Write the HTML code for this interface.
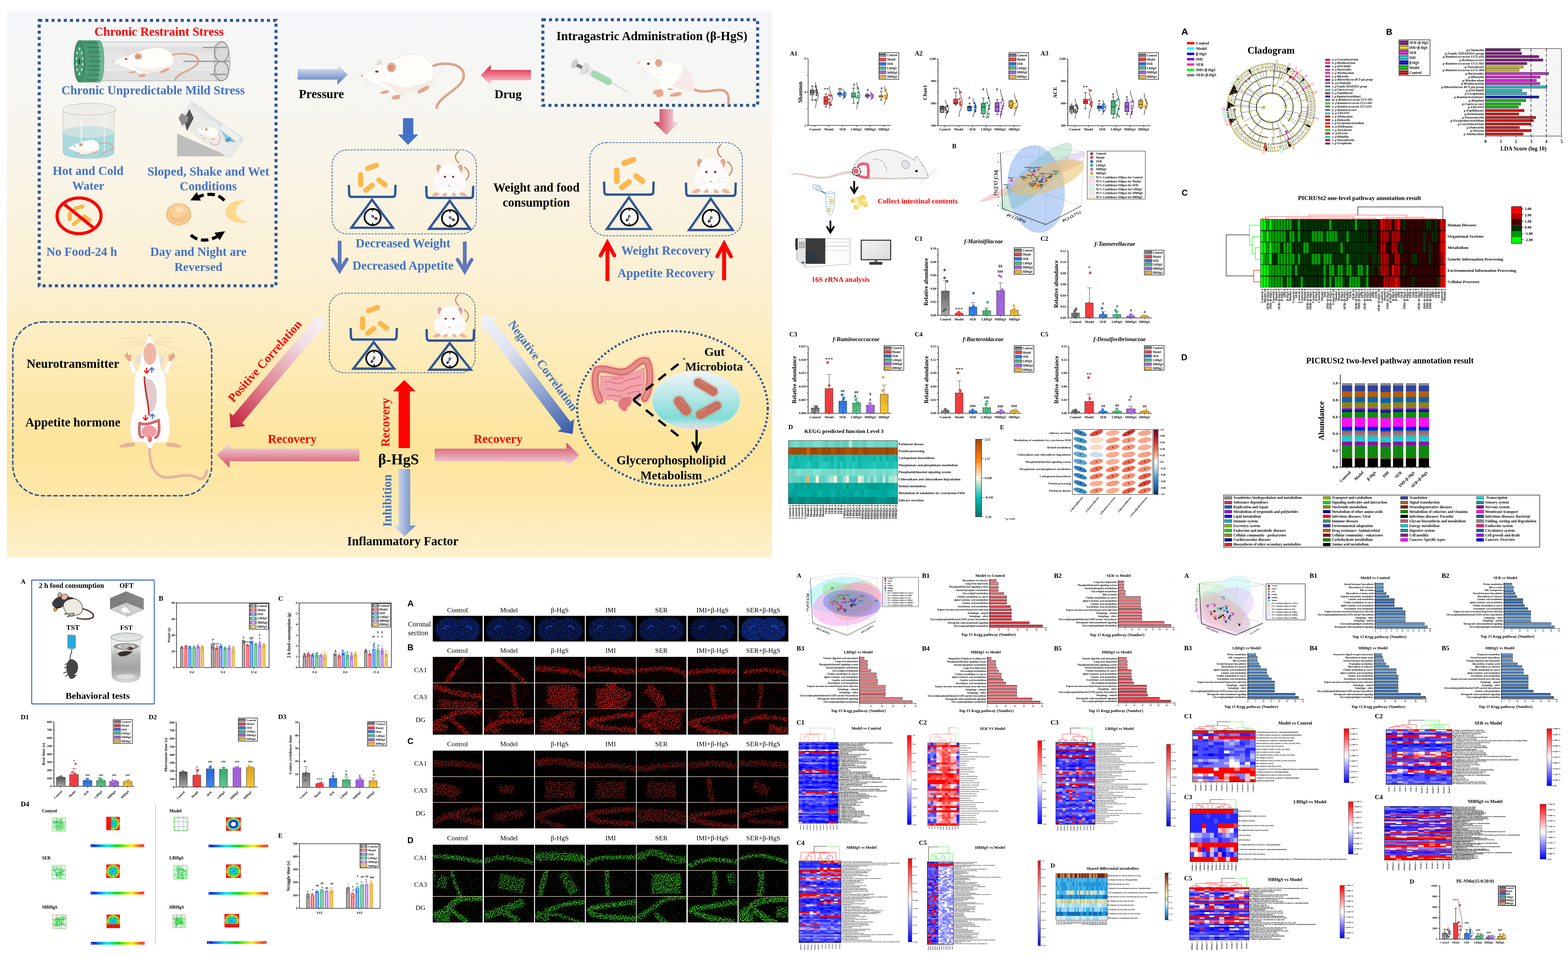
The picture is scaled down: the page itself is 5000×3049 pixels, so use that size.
<!DOCTYPE html>
<html lang="en"><head><meta charset="utf-8"><title>Figure collage</title>
<style>
html,body{margin:0;padding:0;background:#fff;}
body{width:5000px;height:3049px;overflow:hidden;font-family:"Liberation Serif",serif;}
svg{display:block;}
text{white-space:pre;}
svg{font-family:"Liberation Serif",serif;font-weight:bold;}
.r{font-weight:normal}
.i{font-style:italic}
.a{font-family:"Liberation Sans",sans-serif}
.n{font-family:"Liberation Sans",sans-serif;font-weight:normal}
.m{text-anchor:middle}
.e{text-anchor:end}
.d{stroke-linecap:round}
</style></head>
<body>
<svg xmlns="http://www.w3.org/2000/svg" width="5000" height="3049" viewBox="0 0 5000 3049">
<defs><linearGradient id="bgA" x1="0" y1="0" x2="0" y2="1"><stop offset="0" stop-color="#f5f6f9"/><stop offset="0.12" stop-color="#f6f6f4"/><stop offset="0.3" stop-color="#f9f4e6"/><stop offset="0.5" stop-color="#fcf0d2"/><stop offset="0.66" stop-color="#fdeab4"/><stop offset="0.8" stop-color="#fde49b"/><stop offset="0.9" stop-color="#fee8ad"/><stop offset="1" stop-color="#fff1d0"/></linearGradient>
<linearGradient id="gBlueV" x1="0" y1="0" x2="0" y2="1"><stop offset="0" stop-color="#eef1f8"/><stop offset="1" stop-color="#4f74bb"/></linearGradient>
<linearGradient id="gRedV" x1="0" y1="0" x2="0" y2="1"><stop offset="0" stop-color="#d8203e"/><stop offset="0.3" stop-color="#e8506a"/><stop offset="1" stop-color="#f7e3e8"/></linearGradient>
<linearGradient id="gPinkH" x1="0" y1="0" x2="1" y2="0"><stop offset="0" stop-color="#cf2f4e"/><stop offset="1" stop-color="#f4eef3"/></linearGradient>
<linearGradient id="gPinkV" x1="0" y1="0" x2="0" y2="1"><stop offset="0" stop-color="#f1e6ec"/><stop offset="1" stop-color="#d5475f"/></linearGradient>
<linearGradient id="gPinkV2" x1="0" y1="0" x2="0" y2="1"><stop offset="0" stop-color="#d34560"/><stop offset="1" stop-color="#f4eaef"/></linearGradient>
<linearGradient id="gBlueH" x1="0" y1="0" x2="1" y2="0"><stop offset="0" stop-color="#e6e9f3"/><stop offset="1" stop-color="#5f82c4"/></linearGradient>
<linearGradient id="gPos" gradientUnits="userSpaceOnUse" x1="735" y1="1364" x2="1034" y2="1010"><stop offset="0" stop-color="#c41f3b"/><stop offset="0.35" stop-color="#df7f8f"/><stop offset="0.75" stop-color="#f0dbe2"/><stop offset="1" stop-color="#f6f3f8"/></linearGradient>
<linearGradient id="gNeg" gradientUnits="userSpaceOnUse" x1="1538" y1="1006" x2="1826" y2="1384"><stop offset="0" stop-color="#f1f3fa"/><stop offset="0.3" stop-color="#dde2f0"/><stop offset="0.65" stop-color="#92a6d2"/><stop offset="1" stop-color="#3358a6"/></linearGradient>
<linearGradient id="gOval" x1="0" y1="0" x2="0" y2="1"><stop offset="0" stop-color="#f0f5f9"/><stop offset="0.35" stop-color="#c2e9ea"/><stop offset="0.8" stop-color="#7fdcd7"/><stop offset="0.9" stop-color="#bfe3e2"/><stop offset="1" stop-color="#f8d3dc"/></linearGradient>
<linearGradient id="gb0" x1="0" y1="0" x2="0" y2="1"><stop offset="0" stop-color="#4b4b4b"/><stop offset="1" stop-color="#a9a9a9"/></linearGradient><radialGradient id="gd0" cx="0.5" cy="0.5" r="0.5" fx="0.38" fy="0.32"><stop offset="0" stop-color="#fff" stop-opacity="0.95"/><stop offset="0.35" stop-color="#5a5a5a"/><stop offset="1" stop-color="#5a5a5a"/></radialGradient><linearGradient id="gb1" x1="0" y1="0" x2="0" y2="1"><stop offset="0" stop-color="#ee3d41"/><stop offset="1" stop-color="#ee3d41"/></linearGradient><radialGradient id="gd1" cx="0.5" cy="0.5" r="0.5" fx="0.38" fy="0.32"><stop offset="0" stop-color="#fff" stop-opacity="0.95"/><stop offset="0.35" stop-color="#ee3338"/><stop offset="1" stop-color="#ee3338"/></radialGradient><linearGradient id="gb2" x1="0" y1="0" x2="0" y2="1"><stop offset="0" stop-color="#1d63d6"/><stop offset="1" stop-color="#3f86ec"/></linearGradient><radialGradient id="gd2" cx="0.5" cy="0.5" r="0.5" fx="0.38" fy="0.32"><stop offset="0" stop-color="#fff" stop-opacity="0.95"/><stop offset="0.35" stop-color="#1f6fe0"/><stop offset="1" stop-color="#1f6fe0"/></radialGradient><linearGradient id="gb3" x1="0" y1="0" x2="0" y2="1"><stop offset="0" stop-color="#35a66b"/><stop offset="1" stop-color="#62c68f"/></linearGradient><radialGradient id="gd3" cx="0.5" cy="0.5" r="0.5" fx="0.38" fy="0.32"><stop offset="0" stop-color="#fff" stop-opacity="0.95"/><stop offset="0.35" stop-color="#2fae6b"/><stop offset="1" stop-color="#2fae6b"/></radialGradient><linearGradient id="gb4" x1="0" y1="0" x2="0" y2="1"><stop offset="0" stop-color="#a05ade"/><stop offset="1" stop-color="#a663dc"/></linearGradient><radialGradient id="gd4" cx="0.5" cy="0.5" r="0.5" fx="0.38" fy="0.32"><stop offset="0" stop-color="#fff" stop-opacity="0.95"/><stop offset="0.35" stop-color="#aa66e6"/><stop offset="1" stop-color="#aa66e6"/></radialGradient><linearGradient id="gb5" x1="0" y1="0" x2="0" y2="1"><stop offset="0" stop-color="#d9a21c"/><stop offset="1" stop-color="#fcc531"/></linearGradient><radialGradient id="gd5" cx="0.5" cy="0.5" r="0.5" fx="0.38" fy="0.32"><stop offset="0" stop-color="#fff" stop-opacity="0.95"/><stop offset="0.35" stop-color="#dfa315"/><stop offset="1" stop-color="#dfa315"/></radialGradient>
<linearGradient id="cbD" x1="0" y1="0" x2="0" y2="1"><stop offset="0" stop-color="#9c470c"/><stop offset="0.25" stop-color="#fa7f0e"/><stop offset="0.5" stop-color="#fdf5e4"/><stop offset="0.75" stop-color="#10bdb0"/><stop offset="1" stop-color="#00756c"/></linearGradient>
<linearGradient id="cbE" x1="0" y1="0" x2="0" y2="1"><stop offset="0" stop-color="#67001f"/><stop offset="0.12" stop-color="#b2182b"/><stop offset="0.25" stop-color="#e0523f"/><stop offset="0.38" stop-color="#f7a582"/><stop offset="0.5" stop-color="#f7f7f7"/><stop offset="0.62" stop-color="#b0d4e8"/><stop offset="0.75" stop-color="#4393c3"/><stop offset="0.88" stop-color="#2166ac"/><stop offset="1" stop-color="#053061"/></linearGradient>
<linearGradient id="gPel" x1="0" y1="0" x2="1" y2="0"><stop offset="0" stop-color="#f3c31c"/><stop offset="0.5" stop-color="#fdf0c4"/><stop offset="1" stop-color="#f5cb3a"/></linearGradient>
<linearGradient id="gMon" x1="0" y1="0" x2="1" y2="1"><stop offset="0" stop-color="#f2f2f2"/><stop offset="1" stop-color="#dcdcdc"/></linearGradient>
<linearGradient id="gl0" x1="0" y1="0" x2="0" y2="1"><stop offset="0" stop-color="#5c0f5c"/><stop offset="0.45" stop-color="#9a2a9a"/><stop offset="1" stop-color="#5c0f5c"/></linearGradient>
<linearGradient id="gl1" x1="0" y1="0" x2="0" y2="1"><stop offset="0" stop-color="#8a8406"/><stop offset="0.45" stop-color="#f4ee30"/><stop offset="1" stop-color="#8a8406"/></linearGradient>
<linearGradient id="gl2" x1="0" y1="0" x2="0" y2="1"><stop offset="0" stop-color="#a010a0"/><stop offset="0.45" stop-color="#ff30ff"/><stop offset="1" stop-color="#a010a0"/></linearGradient>
<linearGradient id="gl3" x1="0" y1="0" x2="0" y2="1"><stop offset="0" stop-color="#108888"/><stop offset="0.45" stop-color="#30e8e8"/><stop offset="1" stop-color="#108888"/></linearGradient>
<linearGradient id="gl4" x1="0" y1="0" x2="0" y2="1"><stop offset="0" stop-color="#0a0a80"/><stop offset="0.45" stop-color="#2020ff"/><stop offset="1" stop-color="#0a0a80"/></linearGradient>
<linearGradient id="gl5" x1="0" y1="0" x2="0" y2="1"><stop offset="0" stop-color="#087808"/><stop offset="0.45" stop-color="#20e020"/><stop offset="1" stop-color="#087808"/></linearGradient>
<linearGradient id="gl6" x1="0" y1="0" x2="0" y2="1"><stop offset="0" stop-color="#900808"/><stop offset="0.45" stop-color="#ff2020"/><stop offset="1" stop-color="#900808"/></linearGradient>
<linearGradient id="gh0" x1="0" y1="0" x2="1" y2="0"><stop offset="0" stop-color="#5c5c5c"/><stop offset="0.5" stop-color="#c9c9c9"/><stop offset="1" stop-color="#5c5c5c"/></linearGradient><linearGradient id="gh1" x1="0" y1="0" x2="1" y2="0"><stop offset="0" stop-color="#ee3338"/><stop offset="0.5" stop-color="#f9b4b4"/><stop offset="1" stop-color="#ee3338"/></linearGradient><linearGradient id="gh2" x1="0" y1="0" x2="1" y2="0"><stop offset="0" stop-color="#1f6fe0"/><stop offset="0.5" stop-color="#a9c8f4"/><stop offset="1" stop-color="#1f6fe0"/></linearGradient><linearGradient id="gh3" x1="0" y1="0" x2="1" y2="0"><stop offset="0" stop-color="#2fae6b"/><stop offset="0.5" stop-color="#aadcc0"/><stop offset="1" stop-color="#2fae6b"/></linearGradient><linearGradient id="gh4" x1="0" y1="0" x2="1" y2="0"><stop offset="0" stop-color="#a35ee0"/><stop offset="0.5" stop-color="#dcc2f4"/><stop offset="1" stop-color="#a35ee0"/></linearGradient><linearGradient id="gh5" x1="0" y1="0" x2="1" y2="0"><stop offset="0" stop-color="#dfa315"/><stop offset="0.5" stop-color="#f1d99a"/><stop offset="1" stop-color="#dfa315"/></linearGradient>
<linearGradient id="jet" x1="0" y1="0" x2="1" y2="0"><stop offset="0" stop-color="#0000d0"/><stop offset="0.12" stop-color="#0060ff"/><stop offset="0.3" stop-color="#00f0f0"/><stop offset="0.5" stop-color="#00e000"/><stop offset="0.66" stop-color="#a0f000"/><stop offset="0.76" stop-color="#fff000"/><stop offset="0.88" stop-color="#ff8000"/><stop offset="1" stop-color="#ff0000"/></linearGradient>
<radialGradient id="hm1" cx="0.5" cy="0.5" r="0.62"><stop offset="0" stop-color="#2080ff"/><stop offset="0.3" stop-color="#20d8e8"/><stop offset="0.55" stop-color="#30e030"/><stop offset="0.7" stop-color="#f0f020"/><stop offset="0.8" stop-color="#ff2010"/><stop offset="1" stop-color="#ff0000"/></radialGradient>
<radialGradient id="hm2" cx="0.5" cy="0.5" r="0.62"><stop offset="0" stop-color="#fff"/><stop offset="0.28" stop-color="#fff"/><stop offset="0.3" stop-color="#0000c0"/><stop offset="0.45" stop-color="#0040ff"/><stop offset="0.55" stop-color="#20e0e0"/><stop offset="0.65" stop-color="#40e020"/><stop offset="0.74" stop-color="#f0f020"/><stop offset="0.8" stop-color="#ff2010"/><stop offset="1" stop-color="#ff0000"/></radialGradient>
<linearGradient id="gBk" x1="0" y1="0" x2="0" y2="1"><stop offset="0" stop-color="#d8d8d8"/><stop offset="0.25" stop-color="#f2f2f2"/><stop offset="0.45" stop-color="#b8b8b8"/><stop offset="0.75" stop-color="#a2a2a2"/><stop offset="1" stop-color="#dcdcdc"/></linearGradient>
<radialGradient id="gRip" cx="0.5" cy="0.5" r="0.5"><stop offset="0" stop-color="#fff"/><stop offset="0.3" stop-color="#888"/><stop offset="0.5" stop-color="#e8e8e8"/><stop offset="0.75" stop-color="#6a6a6a"/><stop offset="1" stop-color="#e0e0e0"/></radialGradient>
<filter id="fk" x="-.05" y="-.05" width="1.1" height="1.1" color-interpolation-filters="sRGB"><feGaussianBlur in="SourceAlpha" stdDeviation="1.7" result="b"/><feTurbulence type="fractalNoise" baseFrequency=".55" numOctaves="1" seed="3"/><feColorMatrix type="matrix" values="0 0 0 0 0 0 0 0 0 0 0 0 0 0 0 1 0 0 0 0" result="n"/><feComposite in="n" in2="b" operator="arithmetic" k1="22" k2="0" k3="0" k4="-11" result="m"/><feComposite in="SourceGraphic" in2="m" operator="in"/></filter>
<linearGradient id="ghR" x1="0" y1="0" x2="0" y2="1"><stop offset="0" stop-color="#f0303c"/><stop offset="0.5" stop-color="#ffb4ba"/><stop offset="1" stop-color="#f0303c"/></linearGradient><linearGradient id="ghB" x1="0" y1="0" x2="0" y2="1"><stop offset="0" stop-color="#2f6fb8"/><stop offset="0.5" stop-color="#86b6e2"/><stop offset="1" stop-color="#2f6fb8"/></linearGradient><linearGradient id="bwr" x1="0" y1="0" x2="0" y2="1"><stop offset="0" stop-color="#ff0000"/><stop offset="0.5" stop-color="#ffffff"/><stop offset="1" stop-color="#0000ff"/></linearGradient>
<radialGradient id="ps0" cx="0.5" cy="0.5" r="0.5" fx="0.35" fy="0.3"><stop offset="0" stop-color="#fff"/><stop offset="0.4" stop-color="#111111"/><stop offset="1" stop-color="#111111"/></radialGradient>
<radialGradient id="ps1" cx="0.5" cy="0.5" r="0.5" fx="0.35" fy="0.3"><stop offset="0" stop-color="#fff"/><stop offset="0.4" stop-color="#e81010"/><stop offset="1" stop-color="#e81010"/></radialGradient>
<radialGradient id="ps2" cx="0.5" cy="0.5" r="0.5" fx="0.35" fy="0.3"><stop offset="0" stop-color="#fff"/><stop offset="0.4" stop-color="#18c818"/><stop offset="1" stop-color="#18c818"/></radialGradient>
<radialGradient id="ps3" cx="0.5" cy="0.5" r="0.5" fx="0.35" fy="0.3"><stop offset="0" stop-color="#fff"/><stop offset="0.4" stop-color="#e010e0"/><stop offset="1" stop-color="#e010e0"/></radialGradient>
<radialGradient id="ps4" cx="0.5" cy="0.5" r="0.5" fx="0.35" fy="0.3"><stop offset="0" stop-color="#fff"/><stop offset="0.4" stop-color="#1010e0"/><stop offset="1" stop-color="#1010e0"/></radialGradient>
<radialGradient id="ps5" cx="0.5" cy="0.5" r="0.5" fx="0.35" fy="0.3"><stop offset="0" stop-color="#fff"/><stop offset="0.4" stop-color="#10c8e0"/><stop offset="1" stop-color="#10c8e0"/></radialGradient>
<linearGradient id="hb1" gradientUnits="userSpaceOnUse" x1="0" y1="1846" x2="0" y2="1856" spreadMethod="repeat"><stop offset="0.180" stop-color="#f02c3a"/><stop offset="0.5" stop-color="#ffb8bc"/><stop offset="0.820" stop-color="#f02c3a"/></linearGradient>
<linearGradient id="hb2" gradientUnits="userSpaceOnUse" x1="0" y1="1852" x2="0" y2="1862" spreadMethod="repeat"><stop offset="0.164" stop-color="#f02c3a"/><stop offset="0.5" stop-color="#ffb8bc"/><stop offset="0.836" stop-color="#f02c3a"/></linearGradient>
<linearGradient id="hb3" gradientUnits="userSpaceOnUse" x1="0" y1="2094" x2="0" y2="2104" spreadMethod="repeat"><stop offset="0.167" stop-color="#f02c3a"/><stop offset="0.5" stop-color="#ffb8bc"/><stop offset="0.833" stop-color="#f02c3a"/></linearGradient>
<linearGradient id="hb4" gradientUnits="userSpaceOnUse" x1="0" y1="2096" x2="0" y2="2106" spreadMethod="repeat"><stop offset="0.163" stop-color="#f02c3a"/><stop offset="0.5" stop-color="#ffb8bc"/><stop offset="0.837" stop-color="#f02c3a"/></linearGradient>
<linearGradient id="hb5" gradientUnits="userSpaceOnUse" x1="0" y1="2096" x2="0" y2="2106" spreadMethod="repeat"><stop offset="0.158" stop-color="#f02c3a"/><stop offset="0.5" stop-color="#ffb8bc"/><stop offset="0.842" stop-color="#f02c3a"/></linearGradient>
<linearGradient id="cbS" x1="0" y1="0" x2="0" y2="1"><stop offset="0" stop-color="#6e1c10"/><stop offset="0.15" stop-color="#a85a30"/><stop offset="0.35" stop-color="#d8c080"/><stop offset="0.48" stop-color="#e8e8b0"/><stop offset="0.55" stop-color="#a8c880"/><stop offset="0.65" stop-color="#d8eef8"/><stop offset="0.8" stop-color="#40b0e8"/><stop offset="1" stop-color="#0a4c94"/></linearGradient>
<radialGradient id="qs0" cx="0.5" cy="0.5" r="0.5" fx="0.35" fy="0.3"><stop offset="0" stop-color="#fff"/><stop offset="0.4" stop-color="#111111"/><stop offset="1" stop-color="#111111"/></radialGradient>
<radialGradient id="qs1" cx="0.5" cy="0.5" r="0.5" fx="0.35" fy="0.3"><stop offset="0" stop-color="#fff"/><stop offset="0.4" stop-color="#e81010"/><stop offset="1" stop-color="#e81010"/></radialGradient>
<radialGradient id="qs2" cx="0.5" cy="0.5" r="0.5" fx="0.35" fy="0.3"><stop offset="0" stop-color="#fff"/><stop offset="0.4" stop-color="#18c818"/><stop offset="1" stop-color="#18c818"/></radialGradient>
<radialGradient id="qs3" cx="0.5" cy="0.5" r="0.5" fx="0.35" fy="0.3"><stop offset="0" stop-color="#fff"/><stop offset="0.4" stop-color="#e010e0"/><stop offset="1" stop-color="#e010e0"/></radialGradient>
<radialGradient id="qs4" cx="0.5" cy="0.5" r="0.5" fx="0.35" fy="0.3"><stop offset="0" stop-color="#fff"/><stop offset="0.4" stop-color="#1010e0"/><stop offset="1" stop-color="#1010e0"/></radialGradient>
<radialGradient id="qs5" cx="0.5" cy="0.5" r="0.5" fx="0.35" fy="0.3"><stop offset="0" stop-color="#fff"/><stop offset="0.4" stop-color="#10c8e0"/><stop offset="1" stop-color="#10c8e0"/></radialGradient>
<linearGradient id="hb6" gradientUnits="userSpaceOnUse" x1="0" y1="1859" x2="0" y2="1868" spreadMethod="repeat"><stop offset="0.158" stop-color="#2b6cb6"/><stop offset="0.5" stop-color="#8cbbe6"/><stop offset="0.842" stop-color="#2b6cb6"/></linearGradient>
<linearGradient id="hb7" gradientUnits="userSpaceOnUse" x1="0" y1="1859" x2="0" y2="1868" spreadMethod="repeat"><stop offset="0.158" stop-color="#2b6cb6"/><stop offset="0.5" stop-color="#8cbbe6"/><stop offset="0.842" stop-color="#2b6cb6"/></linearGradient>
<linearGradient id="hb8" gradientUnits="userSpaceOnUse" x1="0" y1="2083" x2="0" y2="2093" spreadMethod="repeat"><stop offset="0.158" stop-color="#2b6cb6"/><stop offset="0.5" stop-color="#8cbbe6"/><stop offset="0.842" stop-color="#2b6cb6"/></linearGradient>
<linearGradient id="hb9" gradientUnits="userSpaceOnUse" x1="0" y1="2083" x2="0" y2="2093" spreadMethod="repeat"><stop offset="0.158" stop-color="#2b6cb6"/><stop offset="0.5" stop-color="#8cbbe6"/><stop offset="0.842" stop-color="#2b6cb6"/></linearGradient>
<linearGradient id="hb10" gradientUnits="userSpaceOnUse" x1="0" y1="2083" x2="0" y2="2093" spreadMethod="repeat"><stop offset="0.158" stop-color="#2b6cb6"/><stop offset="0.5" stop-color="#8cbbe6"/><stop offset="0.842" stop-color="#2b6cb6"/></linearGradient></defs>
<rect width="5000" height="3049" fill="#fff"/>
<g id="p1"><rect x="22" y="35" width="2440" height="1743" fill="url(#bgA)"/>
<rect x="125" y="65" width="755" height="846.5" fill="none" stroke="#2f5597" stroke-width="9.6" stroke-dasharray="9.6 10.03"/>
<rect x="1731" y="63" width="685" height="273" fill="none" stroke="#2f5597" stroke-width="9.6" stroke-dasharray="9.6 10.1"/>
<text x="301" y="114" font-size="39.2" fill="#ff0000">Chronic Restraint Stress</text>
<text x="196" y="301" font-size="39.2" fill="#4472c4">Chronic Unpredictable Mild Stress</text>
<text x="168" y="558" font-size="39.1" fill="#4472c4">Hot and Cold</text>
<text x="230" y="605" font-size="38.4" fill="#4472c4">Water</text>
<text x="470" y="560" font-size="39.6" fill="#4472c4">Sloped, Shake and Wet</text>
<text x="573" y="607" font-size="39" fill="#4472c4">Conditions</text>
<text x="148" y="816" font-size="39" fill="#4472c4">No Food-24 h</text>
<text x="479" y="816" font-size="39.2" fill="#4472c4">Day and Night are</text>
<text x="556" y="864" font-size="38.8" fill="#4472c4">Reversed</text>
<text x="953" y="313" font-size="39">Pressure</text>
<text x="1577" y="313" font-size="38.9">Drug</text>
<text x="1774" y="128" font-size="39.4">Intragastric Administration (β-HgS)</text>
<text x="1573" y="611" font-size="39">Weight and food</text>
<text x="1603" y="659" font-size="39">consumption</text>
<text x="1134" y="789" font-size="39.5" fill="#4472c4">Decreased Weight</text>
<text x="1124" y="860" font-size="39.2" fill="#4472c4">Decreased Appetite</text>
<text x="1981" y="812" font-size="39.2" fill="#4472c4">Weight Recovery</text>
<text x="1969" y="884" font-size="39.2" fill="#4472c4">Appetite Recovery</text>
<text x="85" y="1173" font-size="39.2">Neurotransmitter</text>
<text x="81" y="1360" font-size="39.1">Appetite hormone</text>
<text x="854" y="1413" font-size="39" fill="#ff0000">Recovery</text>
<text x="1206" y="1481" font-size="48.2">β-HgS</text>
<text x="1107" y="1739" font-size="39.1">Inflammatory Factor</text>
<text x="1510" y="1413" font-size="39.1" fill="#ff0000">Recovery</text>
<text x="2246" y="1135" font-size="38.9">Gut</text>
<text x="2185" y="1182" font-size="38.7">Microbiota</text>
<text x="1966" y="1481" font-size="39.1">Glycerophospholipid</text>
<text x="2042" y="1529" font-size="38.9">Metabolism</text>
<text x="1248" y="1680" font-size="39"  fill="#4472c4" transform="rotate(-90 1248 1680)">Inhibition</text>
<text x="1242" y="1425" font-size="39"  fill="#ff0000" transform="rotate(-90 1242 1425)">Recovery</text>
<text x="744" y="1285" font-size="38.9"  fill="#ff0000" transform="rotate(-48.6 744 1285)">Positive Correlation</text>
<text x="1619" y="1034" font-size="38.7"  fill="#4472c4" transform="rotate(53.8 1619 1034)">Negative Correlation</text>
<polygon points="949,221 1076,221 1076,206 1109,238 1076,270 1076,254 949,254" fill="url(#gBlueV)"/>
<polygon points="1693,223 1565,223 1565,207 1533,240 1565,272 1565,256 1693,256" fill="url(#gRedV)"/>
<polygon points="1285,377 1318,377 1318,429 1334,429 1301,462 1269,429 1285,429" fill="#4472c4"/>
<polygon points="2103,348 2146,348 2146,389 2167,389 2125,430 2083,389 2103,389" fill="url(#gPinkH)"/>
<line x1="1083" y1="768" x2="1083" y2="859" stroke="#5f78bd" stroke-width="12"/>
<polyline points="1061,827 1083,864 1106,827" fill="none" stroke="#5f78bd" stroke-width="11.3" stroke-linecap="round" stroke-linejoin="miter"/>
<line x1="1482" y1="770" x2="1482" y2="861" stroke="#5f78bd" stroke-width="12"/>
<polyline points="1459,828 1482,866 1504,828" fill="none" stroke="#5f78bd" stroke-width="11.3" stroke-linecap="round" stroke-linejoin="miter"/>
<line x1="1937" y1="778" x2="1937" y2="896" stroke="#ff0000" stroke-width="12.6"/>
<polyline points="1915,815 1937,774 1959,815" fill="none" stroke="#ff0000" stroke-width="12" stroke-linecap="round" stroke-linejoin="miter"/>
<line x1="2309" y1="781" x2="2309" y2="894" stroke="#ff0000" stroke-width="12.6"/>
<polyline points="2287,818 2309,777 2331,818" fill="none" stroke="#ff0000" stroke-width="12" stroke-linecap="round" stroke-linejoin="miter"/>
<polygon points="1271,1248 1253,1248 1289,1212 1325,1248 1307,1248 1307,1429 1271,1429" fill="#ff0000"/>
<polygon points="1271,1496 1308,1496 1308,1676 1326,1676 1290,1711 1254,1676 1271,1676" fill="url(#gBlueH)"/>
<polygon points="692,1451 732,1411 732,1431 1146,1431 1146,1471 732,1471 732,1492" fill="url(#gPinkV)"/>
<polygon points="1386,1431 1806,1431 1806,1411 1847,1451 1806,1492 1806,1472 1386,1471" fill="url(#gPinkV2)"/>
<polygon points="735,1364 783,1359 772,1349 1026,1048 1037,1058 1034,1010 986,1015 998,1024 743,1325 732,1316" fill="url(#gPos)"/>
<polygon points="1538,1006 1533,1054 1544,1046 1790,1368 1778,1376 1826,1384 1831,1336 1819,1345 1574,1023 1586,1014" fill="url(#gNeg)"/>
<rect x="1059" y="478" width="460" height="268" rx="48" fill="none" stroke="#2f5597" stroke-width="2.2" stroke-dasharray="7 3.5"/>
<rect x="1881" y="455" width="486" height="297" rx="52" fill="none" stroke="#2f5597" stroke-width="2.2" stroke-dasharray="7 3.5"/>
<rect x="1050" y="935" width="465" height="254" rx="48" fill="none" stroke="#2f5597" stroke-width="2.2" stroke-dasharray="7 3.5"/>
<rect x="40.9" y="1027" width="634" height="554" rx="96" fill="none" stroke="#2f5597" stroke-width="4.6" stroke-dasharray="14 6"/>
<ellipse cx="2144.3" cy="1302.6" rx="304" ry="246.5" fill="none" stroke="#2f5597" stroke-width="7" stroke-dasharray="6.6 6.9"/>
<g transform="translate(100 40) scale(0.33264)"><rect x="640" y="282" width="1190" height="373" fill="#e0e0e0" stroke="#6a6a6a" stroke-width="2.5"/><rect x="640" y="284" width="1190" height="40" fill="#ebebeb"/><rect x="640" y="380" width="1190" height="160" fill="#e6e6e6"/><rect x="640" y="545" width="1190" height="9" fill="#f4f4f4"/><ellipse cx="1830" cy="468" rx="75" ry="187" fill="#dadada" stroke="#6a6a6a" stroke-width="3"/><ellipse cx="1822" cy="376" rx="68" ry="96" fill="none" stroke="#8c8c8c" stroke-width="9"/><ellipse cx="1822" cy="562" rx="68" ry="92" fill="none" stroke="#8c8c8c" stroke-width="9"/><path d="M1650,335 H1868 M1462,468 H1892 M1722,593 H1868" stroke="#9c9c9c" stroke-width="13" stroke-linecap="round"/><g transform="translate(782 338) scale(0.830 0.640)"><path d="M690,105 C820,70 990,90 985,200 C980,330 740,360 720,480" stroke="#dba58d" stroke-width="24" fill="none" stroke-linecap="round"/><path d="M140,105 L172,50 Q190,45 200,92 Z" fill="#e6ded6" stroke="#cfc8c0" stroke-width="2"/><path d="M0,207 C60,170 150,120 245,90 C330,40 420,0 520,0 C620,0 700,80 700,200 C700,280 660,320 600,335 L420,385 C380,405 350,412 330,400 C250,335 120,285 30,240 Q2,225 0,207Z" fill="#fefdfa" stroke="#d5d2cc" stroke-width="2.5"/><path d="M90,262 C200,270 300,300 340,390 C380,400 420,385 600,335 C660,320 690,280 700,215 C640,300 560,270 470,320 C400,330 330,290 260,280 C200,270 140,270 90,262Z" fill="#f3e7e2" opacity="0.8"/><ellipse cx="292" cy="126" rx="50" ry="52" fill="#fefdfa" stroke="#d5d2cc" stroke-width="2"/><ellipse cx="292" cy="128" rx="42" ry="45" fill="#e3a88e"/><ellipse cx="286" cy="135" rx="24" ry="28" fill="#d4927a"/><ellipse cx="152" cy="168" rx="16" ry="10" fill="#8b2a1a"/><circle cx="9" cy="208" r="11" fill="#e9b3a3"/><path d="M185,370 Q225,340 270,352 L262,372 Q225,382 190,382Z" fill="#e3a88e"/><path d="M290,415 Q330,385 380,395 L372,425 Q345,445 300,432Z" fill="#e3a88e"/><path d="M540,360 Q580,318 650,300 L650,330 Q600,370 548,380Z" fill="#e3a88e"/><path d="M30,200 L-80,140 M30,205 L-70,180 M45,225 L60,350 M55,222 L95,320" stroke="#d0d0d0" stroke-width="2" fill="none"/></g><path d="M460,268 H650 C712,268 712,668 650,668 H460 Z" fill="#6ab892" stroke="#2e6e50" stroke-width="2.5"/><path d="M460,268 H615 C665,268 665,668 615,668 H460 Z" fill="#4a9874"/><ellipse cx="460" cy="468" rx="52" ry="200" fill="#3f8f6b" stroke="#2a6a4c" stroke-width="3"/><ellipse cx="462" cy="468" rx="40" ry="152" fill="#4d9d78" stroke="#2a6a4c" stroke-width="2"/><ellipse cx="459" cy="468" rx="9" ry="30" fill="#1d5a3b"/><ellipse cx="460" cy="348" rx="6" ry="12" fill="#f2f2e8"/><ellipse cx="483" cy="388" rx="6" ry="12" fill="#f2f2e8"/><ellipse cx="492" cy="440" rx="6" ry="12" fill="#f2f2e8"/><ellipse cx="492" cy="496" rx="6" ry="12" fill="#f2f2e8"/><ellipse cx="483" cy="548" rx="6" ry="12" fill="#f2f2e8"/><ellipse cx="460" cy="588" rx="6" ry="12" fill="#f2f2e8"/><ellipse cx="437" cy="548" rx="6" ry="12" fill="#f2f2e8"/><ellipse cx="431" cy="496" rx="6" ry="12" fill="#f2f2e8"/><ellipse cx="431" cy="440" rx="6" ry="12" fill="#f2f2e8"/><ellipse cx="437" cy="388" rx="6" ry="12" fill="#f2f2e8"/><path d="M520,290 H650 M540,334 H658 M552,378 H662 M556,422 H664 M558,466 H664 M556,510 H664 M552,554 H662 M540,600 H658 M520,646 H650" stroke="#2c6e50" stroke-width="6" stroke-linecap="round"/><path d="M302,935 V1340 C302,1378 420,1400 548,1400 C676,1400 794,1378 794,1340 V960 L812,932 Z" fill="#eeece6" stroke="#9a9a9a" stroke-width="2.5" opacity="0.92"/><path d="M302,1145 V1340 C302,1378 420,1400 548,1400 C676,1400 794,1378 794,1340 V1145 Z" fill="#a6d8de"/><ellipse cx="548" cy="1145" rx="246" ry="55" fill="#cbe3e0"/><path d="M480,1030 V1250" stroke="#ffffff" stroke-width="9" opacity="0.9"/><path d="M700,980 V1330" stroke="#f6f6f2" stroke-width="14" opacity="0.6"/><path d="M302,935 C302,850 812,850 812,932 C770,1000 302,1000 302,935Z" fill="#efede8" stroke="#8e8e8e" stroke-width="2.5"/><g transform="translate(350 1222) scale(0.430 0.350)"><path d="M690,105 C820,50 1010,80 1000,200 C990,320 760,300 735,435" stroke="#dba58d" stroke-width="26" fill="none" stroke-linecap="round"/><path d="M140,105 L172,50 Q190,45 200,92 Z" fill="#e6ded6" stroke="#cfc8c0" stroke-width="2"/><path d="M0,207 C60,170 150,120 245,90 C330,40 420,0 520,0 C620,0 700,80 700,200 C700,280 660,320 600,335 L420,385 C380,405 350,412 330,400 C250,335 120,285 30,240 Q2,225 0,207Z" fill="#fefdfa" stroke="#d5d2cc" stroke-width="2.5"/><path d="M90,262 C200,270 300,300 340,390 C380,400 420,385 600,335 C660,320 690,280 700,215 C640,300 560,270 470,320 C400,330 330,290 260,280 C200,270 140,270 90,262Z" fill="#f3e7e2" opacity="0.8"/><ellipse cx="292" cy="126" rx="50" ry="52" fill="#fefdfa" stroke="#d5d2cc" stroke-width="2"/><ellipse cx="292" cy="128" rx="42" ry="45" fill="#e3a88e"/><ellipse cx="286" cy="135" rx="24" ry="28" fill="#d4927a"/><ellipse cx="152" cy="168" rx="16" ry="10" fill="#8b2a1a"/><circle cx="9" cy="208" r="11" fill="#e9b3a3"/><path d="M185,370 Q225,340 270,352 L262,372 Q225,382 190,382Z" fill="#e3a88e"/><path d="M290,415 Q330,385 380,395 L372,425 Q345,445 300,432Z" fill="#e3a88e"/><path d="M540,360 Q580,318 650,300 L650,330 Q600,370 548,380Z" fill="#e3a88e"/><path d="M30,200 L-80,140 M30,205 L-70,180 M45,225 L60,350 M55,222 L95,320" stroke="#d0d0d0" stroke-width="2" fill="none"/></g><polygon points="1397,1160 1397,1378 1890,1378" fill="#bebebe"/><polygon points="1530,850 2040,1212 1900,1405 1440,1085 1470,960" fill="#e9ebe9" stroke="#cfd2d0" stroke-width="3" opacity="0.93"/><polygon points="1530,850 2040,1212 2005,1240 1545,890" fill="#dfe2e4" stroke="#c8cbcd" stroke-width="2"/><polygon points="1565,885 1640,910 1700,1020 1600,960" fill="#e4e6e8" stroke="#c0c3c5" stroke-width="2"/><polygon points="1800,1120 1835,1060 2010,1200 1955,1270 1860,1235" fill="#eef0ef" stroke="#c6c9c8" stroke-width="3"/><polygon points="1805,1118 1960,1235 1935,1248 1862,1212" fill="#8fcbe3"/><polygon points="1855,1210 1905,1195 1920,1230 1870,1245" fill="#5b9fc0"/><polygon points="1462,1030 1515,925 1556,1012 1492,1136" fill="#555"/><polygon points="1410,1010 1440,965 1505,1000 1500,1040 1445,1085" fill="#8f8f8f"/><g transform="rotate(22 1680 1160)"><g transform="translate(1575 1085) scale(0.300 0.300)"><path d="M690,105 C820,150 900,350 760,480 C700,520 600,500 560,470" stroke="#dba58d" stroke-width="22" fill="none" stroke-linecap="round"/><path d="M140,105 L172,50 Q190,45 200,92 Z" fill="#e6ded6" stroke="#cfc8c0" stroke-width="2"/><path d="M0,207 C60,170 150,120 245,90 C330,40 420,0 520,0 C620,0 700,80 700,200 C700,280 660,320 600,335 L420,385 C380,405 350,412 330,400 C250,335 120,285 30,240 Q2,225 0,207Z" fill="#fefdfa" stroke="#d5d2cc" stroke-width="2.5"/><path d="M90,262 C200,270 300,300 340,390 C380,400 420,385 600,335 C660,320 690,280 700,215 C640,300 560,270 470,320 C400,330 330,290 260,280 C200,270 140,270 90,262Z" fill="#f3e7e2" opacity="0.8"/><ellipse cx="292" cy="126" rx="50" ry="52" fill="#fefdfa" stroke="#d5d2cc" stroke-width="2"/><ellipse cx="292" cy="128" rx="42" ry="45" fill="#e3a88e"/><ellipse cx="286" cy="135" rx="24" ry="28" fill="#d4927a"/><ellipse cx="152" cy="168" rx="16" ry="10" fill="#8b2a1a"/><circle cx="9" cy="208" r="11" fill="#e9b3a3"/><path d="M185,370 Q225,340 270,352 L262,372 Q225,382 190,382Z" fill="#e3a88e"/><path d="M290,415 Q330,385 380,395 L372,425 Q345,445 300,432Z" fill="#e3a88e"/><path d="M540,360 Q580,318 650,300 L650,330 Q600,370 548,380Z" fill="#e3a88e"/><path d="M30,200 L-80,140 M30,205 L-70,180 M45,225 L60,350 M55,222 L95,320" stroke="#d0d0d0" stroke-width="2" fill="none"/></g></g></g>
<g transform="translate(100 500) scale(0.33264)"><rect x="399" y="468" width="112" height="38" rx="19" fill="#fbb84f" transform="rotate(-18 455 487)"/><rect x="322" y="552" width="92" height="40" rx="20" fill="#fbb84f" transform="rotate(90 368 572)"/><rect x="380" y="606" width="105" height="38" rx="19" fill="#fbb84f" transform="rotate(-38 432 625)"/><rect x="482" y="570" width="100" height="40" rx="20" fill="#fbb84f" transform="rotate(36 532 590)"/><ellipse cx="457" cy="566" rx="211" ry="171" fill="none" stroke="#fe0000" stroke-width="30"/><path d="M312,452 L598,683" stroke="#fe0000" stroke-width="30"/><polygon points="1543,552 1520,563 1540,577 1515,583 1530,602 1504,603 1515,623 1489,619 1494,641 1470,632 1469,655 1449,642 1442,664 1425,646 1413,666 1401,646 1384,664 1377,642 1357,655 1356,632 1332,641 1337,619 1311,623 1322,603 1296,602 1311,583 1286,577 1306,563 1283,552 1306,541 1286,527 1311,521 1296,502 1322,501 1311,481 1337,485 1332,463 1356,472 1357,449 1377,462 1384,440 1401,458 1413,438 1425,458 1442,440 1449,462 1469,449 1470,472 1494,463 1489,485 1515,481 1504,501 1530,502 1515,521 1540,527 1520,541" fill="#eeb46c"/><ellipse cx="1413" cy="552" rx="97" ry="86" fill="#f3c283" stroke="#fbe8c4" stroke-width="7"/><ellipse cx="1413" cy="528" rx="82" ry="58" fill="#f7d198"/><ellipse cx="1418" cy="505" rx="40" ry="25" fill="#fbe3b5"/><path d="M2058,423 C1930,400 1860,470 1860,527 C1860,590 1940,660 2080,624 C1990,610 1962,560 1962,520 C1962,480 1990,440 2058,423Z" fill="#fcd98d"/><path d="M1850,420 C1790,350 1690,345 1600,385" stroke="#000" stroke-width="30" fill="none" stroke-dasharray="72 36"/><polygon points="1525,418 1585,338 1625,420" fill="#000"/><path d="M1530,750 C1590,810 1690,815 1780,765" stroke="#000" stroke-width="30" fill="none" stroke-dasharray="72 36"/><polygon points="1857,714 1805,800 1755,728" fill="#000"/></g>
<g transform="translate(900 40) scale(0.33264)"><g transform="translate(755 398) scale(1.000 1.000)"><path d="M690,115 C800,70 980,90 985,200 C990,330 740,400 725,515" stroke="#dba58d" stroke-width="24" fill="none" stroke-linecap="round"/><path d="M140,105 L172,50 Q190,45 200,92 Z" fill="#e6ded6" stroke="#cfc8c0" stroke-width="2"/><path d="M0,207 C60,170 150,120 245,90 C330,40 420,0 520,0 C620,0 700,80 700,200 C700,280 660,320 600,335 L420,385 C380,405 350,412 330,400 C250,335 120,285 30,240 Q2,225 0,207Z" fill="#fefdfa" stroke="#d5d2cc" stroke-width="2.5"/><path d="M90,262 C200,270 300,300 340,390 C380,400 420,385 600,335 C660,320 690,280 700,215 C640,300 560,270 470,320 C400,330 330,290 260,280 C200,270 140,270 90,262Z" fill="#f3e7e2" opacity="0.8"/><ellipse cx="292" cy="126" rx="50" ry="52" fill="#fefdfa" stroke="#d5d2cc" stroke-width="2"/><ellipse cx="292" cy="128" rx="42" ry="45" fill="#e3a88e"/><ellipse cx="286" cy="135" rx="24" ry="28" fill="#d4927a"/><ellipse cx="152" cy="168" rx="16" ry="10" fill="#8b2a1a"/><circle cx="9" cy="208" r="11" fill="#e9b3a3"/><path d="M185,370 Q225,340 270,352 L262,372 Q225,382 190,382Z" fill="#e3a88e"/><path d="M290,415 Q330,385 380,395 L372,425 Q345,445 300,432Z" fill="#e3a88e"/><path d="M540,360 Q580,318 650,300 L650,330 Q600,370 548,380Z" fill="#e3a88e"/><path d="M30,200 L-80,140 M30,205 L-70,180 M45,225 L60,350 M55,222 L95,320" stroke="#d0d0d0" stroke-width="2" fill="none"/></g></g>
<g transform="translate(1700 40) scale(0.33264)"><path d="M745,672 L910,765" stroke="#9a9a9a" stroke-width="3.5"/><path d="M520,553 L722,662" stroke="#e6e8e6" stroke-width="78" stroke-linecap="round"/><path d="M585,590 L722,662" stroke="#a3dbb1" stroke-width="64" stroke-linecap="round"/><path d="M415,500 L520,553" stroke="#7c7c7c" stroke-width="34"/><ellipse cx="398" cy="490" rx="24" ry="44" fill="#cfcfcf" stroke="#aaa" stroke-width="3" transform="rotate(28 398 490)"/><ellipse cx="493" cy="540" rx="27" ry="62" fill="#e2e2e2" stroke="#b5b5b5" stroke-width="3" transform="rotate(28 493 540)"/><path d="M1540,735 C1650,790 1760,720 1830,750 C1880,770 1875,830 1872,872" stroke="#dba58d" stroke-width="24" fill="none" stroke-linecap="round"/><path d="M1160,450 L1185,415 Q1215,405 1225,440 Z" fill="#fdfbf8" stroke="#d8d4ce" stroke-width="2"/><path d="M1003,480 C1040,455 1110,440 1190,445 C1260,470 1380,460 1450,520 C1520,580 1545,660 1545,730 C1540,760 1500,762 1420,760 L1250,760 C1220,740 1200,700 1190,640 C1150,600 1080,570 1030,530 Q1000,505 1003,480Z" fill="#fefdfa" stroke="#d8d4ce" stroke-width="2.5"/><path d="M1430,500 C1500,560 1545,650 1540,740 C1480,770 1400,740 1330,700 C1400,650 1440,580 1430,500Z" fill="#f4e8e4" opacity="0.85"/><ellipse cx="1203" cy="483" rx="36" ry="40" fill="#e3a88e" stroke="#fdfbf8" stroke-width="5"/><ellipse cx="1105" cy="491" rx="13" ry="11" fill="#7d2318"/><circle cx="1011" cy="482" r="10" fill="#e9b3a3"/><path d="M1145,765 Q1180,725 1240,740 L1250,770 Q1200,800 1150,778Z M1180,795 Q1210,765 1250,775 L1245,800 Q1215,815 1185,808Z M1310,790 Q1350,760 1420,765 L1420,790 Q1370,810 1315,805Z M1285,730 Q1320,720 1350,740 L1300,745Z" fill="#e3a88e"/><path d="M1030,500 L960,440 M1035,495 L990,410 M1050,530 L1030,640 M1060,525 L1075,610" stroke="#d4d4d4" stroke-width="2" fill="none"/></g>
<g transform="translate(1000 440) scale(0.33264)"><path d="M338,450 L341,540 Q343,565 366,565 L757,565 Q780,565 782,540 L785,450" fill="none" stroke="#2f5597" stroke-width="22" stroke-linejoin="round"/><polygon points="560,592 362,861 760,861" fill="none" stroke="#2f5597" stroke-width="22" stroke-linejoin="miter"/><circle cx="566" cy="758" r="78" fill="#f8f8f8" stroke="#000" stroke-width="16"/><path d="M566,678 v26 M566,838 v-26" stroke="#000" stroke-width="9"/><circle cx="566" cy="750" r="9" fill="none" stroke="#000" stroke-width="5"/><path d="M566,756 L610,778" stroke="#000" stroke-width="6"/><path d="M610,778 l-23.9,2.1" stroke="#000" stroke-width="6" stroke-linecap="round"/><path d="M610,778 l-13.8,-19.7" stroke="#000" stroke-width="6" stroke-linecap="round"/><rect x="490" y="252" width="140" height="50" rx="25" fill="#fbb84f" transform="rotate(-20 560 277)"/><rect x="378" y="375" width="145" height="50" rx="25" fill="#fbb84f" transform="rotate(90 451 400)"/><rect x="465" y="453" width="130" height="50" rx="25" fill="#fbb84f" transform="rotate(-38 530 478)"/><rect x="592" y="402" width="125" height="50" rx="25" fill="#fbb84f" transform="rotate(38 655 427)"/><path d="M1080,460 L1083,550 Q1085,575 1108,575 L1502,575 Q1525,575 1527,550 L1530,460" fill="none" stroke="#2f5597" stroke-width="22" stroke-linejoin="round"/><polygon points="1305,602 1107,871 1500,871" fill="none" stroke="#2f5597" stroke-width="22" stroke-linejoin="miter"/><circle cx="1308" cy="770" r="78" fill="#f8f8f8" stroke="#000" stroke-width="16"/><path d="M1308,690 v26 M1308,850 v-26" stroke="#000" stroke-width="9"/><circle cx="1308" cy="762" r="9" fill="none" stroke="#000" stroke-width="5"/><path d="M1308,768 L1352,790" stroke="#000" stroke-width="6"/><path d="M1352,790 l-23.9,2.1" stroke="#000" stroke-width="6" stroke-linecap="round"/><path d="M1352,790 l-13.8,-19.7" stroke="#000" stroke-width="6" stroke-linecap="round"/><g transform="translate(1125 130) scale(1.000)"><path d="M300,290 C380,260 380,190 320,150 C250,110 200,50 265,0" stroke="#c28a70" stroke-width="11" fill="none" stroke-linecap="round"/><ellipse cx="178" cy="305" rx="162" ry="118" fill="#fefdfb" stroke="#ddd" stroke-width="2"/><ellipse cx="78" cy="165" rx="40" ry="58" fill="#fdf6f2" stroke="#ddd" stroke-width="2" transform="rotate(-14 78 165)"/><ellipse cx="278" cy="165" rx="40" ry="58" fill="#fdf6f2" stroke="#ddd" stroke-width="2" transform="rotate(14 278 165)"/><ellipse cx="80" cy="168" rx="27" ry="45" fill="#e3a590" transform="rotate(-14 80 168)"/><ellipse cx="276" cy="168" rx="27" ry="45" fill="#e3a590" transform="rotate(14 276 168)"/><path d="M70,230 C70,150 120,115 178,115 C236,115 286,150 286,230 C286,290 230,345 178,350 C126,345 70,290 70,230Z" fill="#fefdfb" stroke="#e2e0dc" stroke-width="2"/><circle cx="134" cy="242" r="10" fill="#9b1c1c"/><circle cx="213" cy="242" r="10" fill="#9b1c1c"/><ellipse cx="173" cy="328" rx="11" ry="8" fill="#eeb3a6"/><path d="M120,310 L20,290 M120,322 L15,330 M125,334 L30,370 M228,310 L330,290 M228,322 L335,330 M224,334 L320,370" stroke="#d8d8d8" stroke-width="2.5" fill="none"/><path d="M10,420 Q30,385 75,395 L80,415 Q50,435 12,428Z M110,420 Q125,390 155,398 L150,425 Q130,432 112,425Z M200,398 Q230,390 245,420 L243,426 Q220,432 205,425Z M275,395 Q320,385 345,420 L342,428 Q300,435 278,415Z" fill="#e9b5a0"/></g></g>
<g transform="translate(1700 440) scale(0.33264)"><path d="M680,418 L683,518 Q685,543 708,543 L1127,543 Q1150,543 1152,518 L1155,418" fill="none" stroke="#2f5597" stroke-width="22" stroke-linejoin="round"/><polygon points="918,570 707,873 1128,873" fill="none" stroke="#2f5597" stroke-width="22" stroke-linejoin="miter"/><circle cx="922" cy="758" r="82" fill="#f8f8f8" stroke="#000" stroke-width="16"/><path d="M922,674 v26 M922,842 v-26" stroke="#000" stroke-width="9"/><circle cx="922" cy="750" r="9" fill="none" stroke="#000" stroke-width="5"/><path d="M922,756 L894,797" stroke="#000" stroke-width="6"/><path d="M894,797 l2.1,-23.9" stroke="#000" stroke-width="6" stroke-linecap="round"/><path d="M894,797 l21.8,-10.1" stroke="#000" stroke-width="6" stroke-linecap="round"/><rect x="842" y="198" width="150" height="54" rx="27" fill="#fbb84f" transform="rotate(-20 917 225)"/><rect x="722" y="335" width="160" height="54" rx="27" fill="#fbb84f" transform="rotate(90 802 362)"/><rect x="815" y="421" width="140" height="54" rx="27" fill="#fbb84f" transform="rotate(-38 885 448)"/><rect x="950" y="363" width="135" height="54" rx="27" fill="#fbb84f" transform="rotate(38 1018 390)"/><path d="M1465,428 L1468,530 Q1470,555 1493,555 L1914,555 Q1937,555 1939,530 L1942,428" fill="none" stroke="#2f5597" stroke-width="22" stroke-linejoin="round"/><polygon points="1703,582 1494,883 1914,883" fill="none" stroke="#2f5597" stroke-width="22" stroke-linejoin="miter"/><circle cx="1707" cy="770" r="82" fill="#f8f8f8" stroke="#000" stroke-width="16"/><path d="M1707,686 v26 M1707,854 v-26" stroke="#000" stroke-width="9"/><circle cx="1707" cy="762" r="9" fill="none" stroke="#000" stroke-width="5"/><path d="M1707,768 L1679,809" stroke="#000" stroke-width="6"/><path d="M1679,809 l2.1,-23.9" stroke="#000" stroke-width="6" stroke-linecap="round"/><path d="M1679,809 l21.8,-10.1" stroke="#000" stroke-width="6" stroke-linecap="round"/><g transform="translate(1515 65) scale(1.080)"><path d="M300,290 C380,260 380,190 320,150 C250,110 200,50 265,0" stroke="#c28a70" stroke-width="11" fill="none" stroke-linecap="round"/><ellipse cx="178" cy="305" rx="162" ry="118" fill="#fefdfb" stroke="#ddd" stroke-width="2"/><ellipse cx="78" cy="165" rx="40" ry="58" fill="#fdf6f2" stroke="#ddd" stroke-width="2" transform="rotate(-14 78 165)"/><ellipse cx="278" cy="165" rx="40" ry="58" fill="#fdf6f2" stroke="#ddd" stroke-width="2" transform="rotate(14 278 165)"/><ellipse cx="80" cy="168" rx="27" ry="45" fill="#e3a590" transform="rotate(-14 80 168)"/><ellipse cx="276" cy="168" rx="27" ry="45" fill="#e3a590" transform="rotate(14 276 168)"/><path d="M70,230 C70,150 120,115 178,115 C236,115 286,150 286,230 C286,290 230,345 178,350 C126,345 70,290 70,230Z" fill="#fefdfb" stroke="#e2e0dc" stroke-width="2"/><circle cx="134" cy="242" r="10" fill="#9b1c1c"/><circle cx="213" cy="242" r="10" fill="#9b1c1c"/><ellipse cx="173" cy="328" rx="11" ry="8" fill="#eeb3a6"/><path d="M120,310 L20,290 M120,322 L15,330 M125,334 L30,370 M228,310 L330,290 M228,322 L335,330 M224,334 L320,370" stroke="#d8d8d8" stroke-width="2.5" fill="none"/><path d="M10,420 Q30,385 75,395 L80,415 Q50,435 12,428Z M110,420 Q125,390 155,398 L150,425 Q130,432 112,425Z M200,398 Q230,390 245,420 L243,426 Q220,432 205,425Z M275,395 Q320,385 345,420 L342,428 Q300,435 278,415Z" fill="#e9b5a0"/></g></g>
<g transform="translate(700 900) scale(0.33264)"><path d="M1257,440 L1260,525 Q1262,550 1285,550 L1672,550 Q1695,550 1697,525 L1700,440" fill="none" stroke="#2f5597" stroke-width="22" stroke-linejoin="round"/><polygon points="1478,575 1284,829 1675,829" fill="none" stroke="#2f5597" stroke-width="22" stroke-linejoin="miter"/><circle cx="1482" cy="732" r="76" fill="#f8f8f8" stroke="#000" stroke-width="16"/><path d="M1482,654 v26 M1482,810 v-26" stroke="#000" stroke-width="9"/><circle cx="1482" cy="724" r="9" fill="none" stroke="#000" stroke-width="5"/><path d="M1482,730 L1454,771" stroke="#000" stroke-width="6"/><path d="M1454,771 l2.1,-23.9" stroke="#000" stroke-width="6" stroke-linecap="round"/><path d="M1454,771 l21.8,-10.1" stroke="#000" stroke-width="6" stroke-linecap="round"/><rect x="1402" y="233" width="140" height="50" rx="25" fill="#fbb84f" transform="rotate(-20 1472 258)"/><rect x="1304" y="368" width="135" height="50" rx="25" fill="#fbb84f" transform="rotate(90 1371 393)"/><rect x="1386" y="443" width="125" height="50" rx="25" fill="#fbb84f" transform="rotate(-38 1448 468)"/><rect x="1510" y="393" width="125" height="50" rx="25" fill="#fbb84f" transform="rotate(38 1572 418)"/><path d="M1985,450 L1988,535 Q1990,560 2013,560 L2412,560 Q2435,560 2437,535 L2440,450" fill="none" stroke="#2f5597" stroke-width="22" stroke-linejoin="round"/><polygon points="2207,585 2012,839 2410,839" fill="none" stroke="#2f5597" stroke-width="22" stroke-linejoin="miter"/><circle cx="2208" cy="742" r="76" fill="#f8f8f8" stroke="#000" stroke-width="16"/><path d="M2208,664 v26 M2208,820 v-26" stroke="#000" stroke-width="9"/><circle cx="2208" cy="734" r="9" fill="none" stroke="#000" stroke-width="5"/><path d="M2208,740 L2180,781" stroke="#000" stroke-width="6"/><path d="M2180,781 l2.1,-23.9" stroke="#000" stroke-width="6" stroke-linecap="round"/><path d="M2180,781 l21.8,-10.1" stroke="#000" stroke-width="6" stroke-linecap="round"/><g transform="translate(2040 120) scale(0.950)"><path d="M300,290 C380,260 380,190 320,150 C250,110 200,50 265,0" stroke="#c28a70" stroke-width="11" fill="none" stroke-linecap="round"/><ellipse cx="178" cy="305" rx="162" ry="118" fill="#fefdfb" stroke="#ddd" stroke-width="2"/><ellipse cx="78" cy="165" rx="40" ry="58" fill="#fdf6f2" stroke="#ddd" stroke-width="2" transform="rotate(-14 78 165)"/><ellipse cx="278" cy="165" rx="40" ry="58" fill="#fdf6f2" stroke="#ddd" stroke-width="2" transform="rotate(14 278 165)"/><ellipse cx="80" cy="168" rx="27" ry="45" fill="#e3a590" transform="rotate(-14 80 168)"/><ellipse cx="276" cy="168" rx="27" ry="45" fill="#e3a590" transform="rotate(14 276 168)"/><path d="M70,230 C70,150 120,115 178,115 C236,115 286,150 286,230 C286,290 230,345 178,350 C126,345 70,290 70,230Z" fill="#fefdfb" stroke="#e2e0dc" stroke-width="2"/><circle cx="134" cy="242" r="10" fill="#9b1c1c"/><circle cx="213" cy="242" r="10" fill="#9b1c1c"/><ellipse cx="173" cy="328" rx="11" ry="8" fill="#eeb3a6"/><path d="M120,310 L20,290 M120,322 L15,330 M125,334 L30,370 M228,310 L330,290 M228,322 L335,330 M224,334 L320,370" stroke="#d8d8d8" stroke-width="2.5" fill="none"/><path d="M10,420 Q30,385 75,395 L80,415 Q50,435 12,428Z M110,420 Q125,390 155,398 L150,425 Q130,432 112,425Z M200,398 Q230,390 245,420 L243,426 Q220,432 205,425Z M275,395 Q320,385 345,420 L342,428 Q300,435 278,415Z" fill="#e9b5a0"/></g></g>
<g transform="translate(0 980) scale(0.33264)"><path d="M1435,1330 C1425,1500 1480,1632 1600,1632 C1720,1632 1800,1580 1900,1640 C1950,1665 1975,1610 1980,1567" stroke="#e5b5a0" stroke-width="26" fill="none" stroke-linecap="round"/><path d="M1390,320 C1300,280 1200,290 1160,300 M1390,335 C1320,320 1250,330 1210,345 M1390,350 C1300,350 1200,390 1120,435 M1480,320 C1570,280 1650,290 1700,300 M1480,335 C1550,320 1610,330 1650,345 M1480,350 C1570,350 1660,390 1740,435" stroke="#bfb9a8" stroke-width="2.5" fill="none"/><path d="M1140,1335 Q1200,1290 1290,1300 L1290,1330 Q1200,1345 1150,1345Z M1740,1335 Q1680,1290 1595,1300 L1595,1330 Q1680,1345 1735,1345Z" fill="#e5b09a"/><path d="M1195,470 L1215,430 L1235,460 L1260,450 L1255,510 L1235,520Z M1680,470 L1660,430 L1640,460 L1615,450 L1620,510 L1640,520Z" fill="#e3a88e"/><ellipse cx="1330" cy="505" rx="30" ry="48" fill="#eadfd8" stroke="#d0c8c0" stroke-width="2"/><ellipse cx="1545" cy="505" rx="30" ry="48" fill="#eadfd8" stroke="#d0c8c0" stroke-width="2"/><path d="M1433,262 C1395,330 1358,420 1347,520 L1330,600 L1270,640 L1232,525 L1260,515 L1300,600 C1290,700 1278,820 1290,950 C1240,1080 1235,1200 1275,1290 L1400,1300 L1420,1350 L1455,1350 L1475,1300 L1600,1290 C1640,1200 1640,1080 1590,950 C1600,820 1590,700 1575,600 L1620,515 L1645,525 L1605,640 L1545,600 L1530,520 C1520,420 1475,330 1433,262Z" fill="#fefdfb" stroke="#e3dfd8" stroke-width="2.5"/><ellipse cx="1437" cy="447" rx="62" ry="105" fill="#f0b6a6"/><path d="M1437,345 V550" stroke="#e5a090" stroke-width="3"/><ellipse cx="1434" cy="268" rx="12" ry="8" fill="#e9b3a3"/><path d="M1400,690 C1470,680 1500,760 1500,850 C1500,930 1480,1000 1440,1000 C1410,900 1395,790 1400,690Z" fill="#e6cbcb" stroke="#c9d8e8" stroke-width="6"/><path d="M1385,670 C1385,800 1425,900 1428,1030" stroke="#b23c3c" stroke-width="16" fill="none" stroke-linecap="round"/><path d="M1338,1110 C1330,1220 1340,1250 1370,1245 M1338,1110 C1400,1140 1470,1100 1520,1085 C1530,1150 1530,1230 1490,1250" stroke="#d06a70" stroke-width="26" fill="none" stroke-linecap="round"/><ellipse cx="1430" cy="1190" rx="72" ry="58" fill="#ee9ba2"/><ellipse cx="1437" cy="1265" rx="22" ry="30" fill="#e07a80"/><path d="M1405,581 V629" stroke="#ff0000" stroke-width="11"/><path d="M1381,607 L1405,631 L1429,607" stroke="#ff0000" stroke-width="11" fill="none"/><path d="M1455,629 V581" stroke="#4472c4" stroke-width="11"/><path d="M1431,603 L1455,579 L1479,603" stroke="#4472c4" stroke-width="11" fill="none"/><path d="M1395,1031 V1079" stroke="#ff0000" stroke-width="11"/><path d="M1371,1057 L1395,1081 L1419,1057" stroke="#ff0000" stroke-width="11" fill="none"/><path d="M1460,1074 V1026" stroke="#4472c4" stroke-width="11"/><path d="M1436,1048 L1460,1024 L1484,1048" stroke="#4472c4" stroke-width="11" fill="none"/></g>
<g transform="translate(1700 1000) scale(0.33264)"><path d="M640,830 C590,740 580,620 612,540 C700,505 800,590 905,548 C990,505 1010,440 1085,452 C1135,520 1128,720 1070,815" stroke="#f8bca4" stroke-width="100" fill="none" stroke-linecap="round" opacity="0.6"/><path d="M650,600 C760,590 860,640 1060,520 C1075,650 1060,780 1010,830 C960,850 940,800 900,800 C880,850 800,860 760,820 C720,840 680,820 650,780Z" fill="#f3a3ac" stroke="#e07f88" stroke-width="6"/><path d="M690,660 C750,630 800,700 860,660 S960,640 1030,600 M700,730 C760,700 820,770 880,730 S980,700 1040,680 M720,790 C770,770 800,810 850,785 M900,770 C950,760 980,740 1020,750 M760,620 C800,640 820,610 860,620" stroke="#dc7c86" stroke-width="11" fill="none" stroke-linecap="round"/><path d="M640,830 C590,740 580,620 612,540 C700,505 800,590 905,548 C990,505 1010,440 1085,452 C1135,520 1128,720 1070,815" stroke="#d4696a" stroke-width="66" fill="none" stroke-linecap="round"/><path d="M640,830 C590,740 580,620 612,540 C700,505 800,590 905,548 C990,505 1010,440 1085,452 C1135,520 1128,720 1070,815" stroke="#e78d88" stroke-width="40" fill="none" stroke-linecap="round" stroke-dasharray="26 10"/><path d="M850,800 C810,840 800,890 850,925 C880,950 905,935 905,900 C945,880 955,830 940,790Z" fill="#e27c7c" stroke="#f4b4a8" stroke-width="7"/><path d="M688,800 C700,830 680,845 695,870" stroke="#f0b0b0" stroke-width="11" fill="none" stroke-linecap="round"/><path d="M960,828 L1400,478 M960,828 L1400,1180" stroke="#0c1220" stroke-width="23" fill="none" stroke-dasharray="92 62"/><path d="M1440,428 L1455,442" stroke="#0c1220" stroke-width="10"/><ellipse cx="1563" cy="836" rx="422" ry="280" fill="url(#gOval)" stroke="#f3f3f3" stroke-width="3"/><g transform="rotate(31 1655 705)"><rect x="1530" y="664" width="250" height="82" rx="41" fill="none" stroke="#c4705f" stroke-width="34" stroke-dasharray="3.5 12"/><rect x="1530" y="664" width="250" height="82" rx="41" fill="#ca7160"/><path d="M1575,684 h75" stroke="#e09a88" stroke-width="6" stroke-linecap="round"/></g><g transform="rotate(52 1432 886)"><rect x="1329" y="838" width="205" height="96" rx="48" fill="none" stroke="#c4705f" stroke-width="34" stroke-dasharray="3.5 12"/><rect x="1329" y="838" width="205" height="96" rx="48" fill="#ca7160"/><path d="M1374,862 h61" stroke="#e09a88" stroke-width="6" stroke-linecap="round"/></g><g transform="rotate(-29 1682 926)"><rect x="1551" y="884" width="262" height="84" rx="42" fill="none" stroke="#c4705f" stroke-width="34" stroke-dasharray="3.5 12"/><rect x="1551" y="884" width="262" height="84" rx="42" fill="#ca7160"/><path d="M1596,905 h78" stroke="#e09a88" stroke-width="6" stroke-linecap="round"/></g><path d="M1567,1115 V1290" stroke="#000" stroke-width="22"/><path d="M1528,1238 L1567,1318 L1606,1238" stroke="#000" stroke-width="22" fill="none" stroke-linecap="round" stroke-linejoin="miter"/></g></g>
<g id="p2"><polyline points="2577,187 2577,400 2841,400" fill="none" stroke="#000" stroke-width="1.4"/><text x="2570" y="190" font-size="10" class="e">6</text><text x="2570" y="297" font-size="10" class="e">4</text><text x="2570" y="404" font-size="10" class="e">2</text><text x="2599" y="416" font-size="10.8" class="m">Control</text><text x="2643" y="416" font-size="10.8" class="m">Model</text><text x="2687" y="416" font-size="10.8" class="m">SER</text><text x="2731" y="416" font-size="10.8" class="m">LBHgS</text><text x="2775" y="416" font-size="10.8" class="m">MBHgS</text><text x="2819" y="416" font-size="10.8" class="m">HBHgS</text><path d="M2577,187 H2572 M2577,294 H2572 M2577,400 H2572 M2577,240 H2574 M2577,347 H2574 M2599,400 V405 M2643,400 V405 M2687,400 V405 M2731,400 V405 M2775,400 V405 M2819,400 V405" stroke="#000" stroke-width="1.3" fill="none"/><path d="M2590,274 V287 M2590,303 V319 M2586,274 H2594 M2586,319 H2594" stroke="#000" stroke-width="1.3" fill="none"/><rect x="2583" y="287" width="13.2" height="15.8" fill="url(#gb0)" stroke="#000" stroke-width=".9"/><line x1="2583" y1="296" x2="2596" y2="296" stroke="#000" stroke-width="1.1"/><path d="M2601,276h0M2603,286h0M2602,292h0M2604,296h0M2604,303h0M2600,319h0" stroke="#5a5a5a" stroke-width="6.9" class="d"/><path d="M2600,274h0M2602,285h0M2601,291h0M2602,295h0M2603,302h0M2599,317h0" stroke="#fff" stroke-opacity=".8" stroke-width="1.7" class="d"/><polyline points="2600,262 2601,268 2602,274 2603,280 2605,286 2607,292 2609,298 2610,303 2609,309 2607,315 2605,321 2603,327 2602,333 2601,339 2600,345" fill="none" stroke="#000" stroke-width="1.3"/><path d="M2634,300 V308 M2634,333 V341 M2630,300 H2638 M2630,341 H2638" stroke="#000" stroke-width="1.3" fill="none"/><rect x="2627" y="308" width="13.2" height="25.1" fill="url(#gb1)" stroke="#000" stroke-width=".9"/><line x1="2627" y1="322" x2="2640" y2="322" stroke="#000" stroke-width="1.1"/><path d="M2644,303h0M2649,306h0M2645,317h0M2645,327h0M2650,334h0M2647,334h0" stroke="#ee3338" stroke-width="6.9" class="d"/><path d="M2643,302h0M2648,305h0M2644,316h0M2644,325h0M2649,332h0M2646,333h0" stroke="#fff" stroke-opacity=".8" stroke-width="1.7" class="d"/><polyline points="2644,276 2645,281 2646,287 2647,292 2649,297 2652,302 2654,307 2654,312 2654,317 2652,322 2649,327 2647,332 2646,337 2645,343 2644,348" fill="none" stroke="#000" stroke-width="1.3"/><path d="M2678,292 V296 M2678,303 V307 M2674,292 H2682 M2674,307 H2682" stroke="#000" stroke-width="1.3" fill="none"/><rect x="2671" y="296" width="13.2" height="7.1" fill="url(#gb2)" stroke="#000" stroke-width=".9"/><line x1="2671" y1="299" x2="2684" y2="299" stroke="#000" stroke-width="1.1"/><path d="M2693,296h0M2691,298h0M2692,300h0M2689,303h0M2692,305h0M2693,309h0" stroke="#1f6fe0" stroke-width="6.9" class="d"/><path d="M2692,294h0M2690,296h0M2691,299h0M2688,302h0M2691,304h0M2692,308h0" stroke="#fff" stroke-opacity=".8" stroke-width="1.7" class="d"/><polyline points="2688,284 2689,286 2690,288 2692,291 2694,293 2696,295 2698,298 2699,300 2698,303 2696,305 2694,307 2692,310 2690,312 2689,314 2688,317" fill="none" stroke="#000" stroke-width="1.3"/><path d="M2722,281 V296 M2722,311 V329 M2718,281 H2726 M2718,329 H2726" stroke="#000" stroke-width="1.3" fill="none"/><rect x="2715" y="296" width="13.2" height="15" fill="url(#gb3)" stroke="#000" stroke-width=".9"/><line x1="2715" y1="307" x2="2728" y2="307" stroke="#000" stroke-width="1.1"/><path d="M2735,281h0M2736,296h0M2736,305h0M2732,311h0M2736,311h0M2735,328h0" stroke="#2fae6b" stroke-width="6.9" class="d"/><path d="M2734,280h0M2735,295h0M2735,303h0M2731,309h0M2735,310h0M2734,327h0" stroke="#fff" stroke-opacity=".8" stroke-width="1.7" class="d"/><polyline points="2732,262 2733,268 2733,274 2735,280 2737,286 2739,293 2741,299 2742,305 2741,311 2739,317 2737,323 2735,329 2733,335 2733,342 2732,348" fill="none" stroke="#000" stroke-width="1.3"/><path d="M2766,299 V302 M2766,309 V312 M2762,299 H2770 M2762,312 H2770" stroke="#000" stroke-width="1.3" fill="none"/><rect x="2759" y="302" width="13.2" height="6.9" fill="url(#gb4)" stroke="#000" stroke-width=".9"/><line x1="2759" y1="305" x2="2772" y2="305" stroke="#000" stroke-width="1.1"/><path d="M2778,301h0M2776,304h0M2781,305h0M2779,307h0M2780,309h0M2781,312h0" stroke="#aa66e6" stroke-width="6.9" class="d"/><path d="M2776,300h0M2775,302h0M2780,304h0M2778,306h0M2779,308h0M2780,311h0" stroke="#fff" stroke-opacity=".8" stroke-width="1.7" class="d"/><polyline points="2776,292 2777,294 2778,296 2779,298 2781,300 2784,302 2786,304 2786,306 2786,308 2784,310 2781,312 2779,314 2778,316 2777,317 2776,319" fill="none" stroke="#000" stroke-width="1.3"/><path d="M2810,291 V305 M2810,310 V319 M2806,291 H2814 M2806,319 H2814" stroke="#000" stroke-width="1.3" fill="none"/><rect x="2803" y="305" width="13.2" height="5.5" fill="url(#gb5)" stroke="#000" stroke-width=".9"/><line x1="2803" y1="307" x2="2816" y2="307" stroke="#000" stroke-width="1.1"/><path d="M2824,288h0M2826,304h0M2822,305h0M2825,309h0M2823,313h0M2826,314h0" stroke="#dfa315" stroke-width="6.9" class="d"/><path d="M2823,287h0M2824,303h0M2821,304h0M2824,308h0M2821,312h0M2825,313h0" stroke="#fff" stroke-opacity=".8" stroke-width="1.7" class="d"/><polyline points="2820,275 2821,279 2822,283 2823,287 2825,292 2828,296 2830,300 2830,305 2830,309 2828,313 2825,317 2823,322 2822,326 2821,330 2820,334" fill="none" stroke="#000" stroke-width="1.3"/><text x="2635" y="291" font-size="16.4" class="r m">**</text><text x="2679" y="288" font-size="12.1" class="m">##</text><text x="2723" y="274" font-size="12.1" class="m">#</text><text x="2767" y="291" font-size="12.1" class="m">#</text><text x="2811" y="286" font-size="12.1" class="m">#</text><text x="2558" y="294" font-size="17.8" class="m" transform="rotate(-90 2558 294)">Shannon</text><text x="2519" y="177" font-size="19.4">A1</text><rect x="2803" y="168" width="63" height="85" fill="#fff" stroke="#000" stroke-width="1.5"/><g stroke="#333" stroke-width=".8" font-size="9.7"><path d="M2804,171h21.4v9.9h-21.4z" fill="url(#gb0)"/><text x="2829" y="179" stroke="none">Control</text><path d="M2804,185h21.4v9.9h-21.4z" fill="url(#gb1)"/><text x="2829" y="193" stroke="none">Model</text><path d="M2804,199h21.4v9.9h-21.4z" fill="url(#gb2)"/><text x="2829" y="207" stroke="none">SER</text><path d="M2804,213h21.4v9.9h-21.4z" fill="url(#gb3)"/><text x="2829" y="221" stroke="none">LBHgS</text><path d="M2804,226h21.4v9.9h-21.4z" fill="url(#gb4)"/><text x="2829" y="235" stroke="none">MBHgS</text><path d="M2804,240h21.4v9.9h-21.4z" fill="url(#gb5)"/><text x="2829" y="248" stroke="none">HBHgS</text></g>
<polyline points="2991,188 2991,401 3255,401" fill="none" stroke="#000" stroke-width="1.7"/><text x="2984" y="191" font-size="10.3" class="e">1200</text><text x="2984" y="262" font-size="10.3" class="e">900</text><text x="2984" y="333" font-size="10.3" class="e">600</text><text x="2984" y="404" font-size="10.3" class="e">300</text><text x="3013" y="416" font-size="10.7" class="m">Control</text><text x="3057" y="416" font-size="10.7" class="m">Model</text><text x="3101" y="416" font-size="10.7" class="m">SER</text><text x="3145" y="416" font-size="10.7" class="m">LBHgS</text><text x="3189" y="416" font-size="10.7" class="m">MBHgS</text><text x="3234" y="416" font-size="10.7" class="m">HBHgS</text><path d="M2991,188 H2987 M2991,259 H2987 M2991,330 H2987 M2991,401 H2987 M2991,223 H2989 M2991,294 H2989 M2991,365 H2989 M3013,401 V405 M3057,401 V405 M3101,401 V405 M3145,401 V405 M3189,401 V405 M3234,401 V405" stroke="#000" stroke-width="1.5" fill="none"/><path d="M3004,338 V339 M3004,359 V359 M3000,338 H3008 M3000,359 H3008" stroke="#000" stroke-width="1.3" fill="none"/><rect x="2997" y="339" width="13.1" height="20" fill="url(#gb0)" stroke="#000" stroke-width="1.2"/><line x1="2997" y1="347" x2="3010" y2="347" stroke="#000" stroke-width="1.4"/><path d="M3021,338h0M3015,342h0M3015,347h0M3016,351h0M3022,356h0M3018,359h0" stroke="#5a5a5a" stroke-width="6.9" class="d"/><path d="M3020,337h0M3014,341h0M3014,345h0M3015,350h0M3021,355h0M3017,358h0" stroke="#fff" stroke-opacity=".8" stroke-width="1.7" class="d"/><polyline points="3015,318 3015,322 3016,327 3018,331 3020,335 3022,339 3024,344 3025,348 3024,352 3022,356 3020,361 3018,365 3016,369 3015,373 3015,378" fill="none" stroke="#000" stroke-width="1.3"/><path d="M3048,294 V316 M3048,332 V335 M3044,294 H3052 M3044,335 H3052" stroke="#000" stroke-width="1.3" fill="none"/><rect x="3041" y="316" width="13.1" height="15.5" fill="url(#gb1)" stroke="#000" stroke-width="1.2"/><line x1="3041" y1="328" x2="3054" y2="328" stroke="#000" stroke-width="1.4"/><path d="M3063,294h0M3060,316h0M3062,325h0M3061,329h0M3061,332h0M3063,335h0" stroke="#ee3338" stroke-width="6.9" class="d"/><path d="M3062,293h0M3059,315h0M3061,324h0M3060,328h0M3060,331h0M3062,334h0" stroke="#fff" stroke-opacity=".8" stroke-width="1.7" class="d"/><polyline points="3058,282 3059,288 3060,295 3061,301 3064,308 3066,314 3068,321 3068,327 3068,334 3066,341 3064,347 3061,354 3060,360 3059,367 3058,373" fill="none" stroke="#000" stroke-width="1.3"/><path d="M3092,329 V339 M3092,353 V354 M3088,329 H3096 M3088,354 H3096" stroke="#000" stroke-width="1.3" fill="none"/><rect x="3085" y="339" width="13.1" height="13.8" fill="url(#gb2)" stroke="#000" stroke-width="1.2"/><line x1="3085" y1="341" x2="3098" y2="341" stroke="#000" stroke-width="1.4"/><path d="M3107,329h0M3110,337h0M3108,341h0M3110,343h0M3109,351h0M3110,355h0" stroke="#1f6fe0" stroke-width="6.9" class="d"/><path d="M3106,328h0M3108,336h0M3107,340h0M3109,342h0M3108,350h0M3109,354h0" stroke="#fff" stroke-opacity=".8" stroke-width="1.7" class="d"/><polyline points="3103,313 3103,317 3104,322 3106,326 3108,330 3111,335 3112,339 3113,344 3112,348 3111,352 3108,357 3106,361 3104,365 3103,370 3103,374" fill="none" stroke="#000" stroke-width="1.3"/><path d="M3136,313 V329 M3136,363 V373 M3132,313 H3140 M3132,373 H3140" stroke="#000" stroke-width="1.3" fill="none"/><rect x="3129" y="329" width="13.1" height="34.2" fill="url(#gb3)" stroke="#000" stroke-width="1.2"/><line x1="3129" y1="342" x2="3142" y2="342" stroke="#000" stroke-width="1.4"/><path d="M3152,313h0M3147,328h0M3153,337h0M3154,347h0M3153,363h0M3151,373h0" stroke="#2fae6b" stroke-width="6.9" class="d"/><path d="M3150,312h0M3146,327h0M3152,336h0M3153,345h0M3152,362h0M3150,372h0" stroke="#fff" stroke-opacity=".8" stroke-width="1.7" class="d"/><polyline points="3146,282 3147,289 3148,295 3150,302 3152,309 3154,316 3156,323 3157,330 3156,337 3154,343 3152,350 3150,357 3148,364 3147,371 3146,378" fill="none" stroke="#000" stroke-width="1.3"/><path d="M3180,318 V327 M3180,356 V365 M3176,318 H3184 M3176,365 H3184" stroke="#000" stroke-width="1.3" fill="none"/><rect x="3173" y="327" width="13.1" height="29.3" fill="url(#gb4)" stroke="#000" stroke-width="1.2"/><line x1="3173" y1="341" x2="3186" y2="341" stroke="#000" stroke-width="1.4"/><path d="M3196,318h0M3192,327h0M3197,337h0M3195,346h0M3192,356h0M3191,365h0" stroke="#aa66e6" stroke-width="6.9" class="d"/><path d="M3195,317h0M3191,326h0M3196,336h0M3194,344h0M3191,355h0M3189,363h0" stroke="#fff" stroke-opacity=".8" stroke-width="1.7" class="d"/><polyline points="3190,285 3191,291 3192,298 3194,305 3196,311 3198,318 3200,324 3201,331 3200,338 3198,344 3196,351 3194,358 3192,364 3191,371 3190,378" fill="none" stroke="#000" stroke-width="1.3"/><path d="M3224,321 V322 M3224,343 V346 M3220,321 H3228 M3220,346 H3228" stroke="#000" stroke-width="1.3" fill="none"/><rect x="3217" y="322" width="13.1" height="20.7" fill="url(#gb5)" stroke="#000" stroke-width="1.2"/><line x1="3217" y1="336" x2="3230" y2="336" stroke="#000" stroke-width="1.4"/><path d="M3241,321h0M3242,323h0M3235,330h0M3241,341h0M3238,343h0M3236,346h0" stroke="#dfa315" stroke-width="6.9" class="d"/><path d="M3240,320h0M3241,322h0M3234,329h0M3240,340h0M3236,342h0M3234,344h0" stroke="#fff" stroke-opacity=".8" stroke-width="1.7" class="d"/><polyline points="3235,298 3235,304 3236,309 3238,314 3240,319 3242,324 3244,329 3245,335 3244,340 3242,345 3240,350 3238,355 3236,360 3235,366 3235,371" fill="none" stroke="#000" stroke-width="1.3"/><text x="3047" y="290" font-size="16.8" class="r m">**</text><text x="3091" y="316" font-size="12.4" class="m">#</text><text x="3135" y="289" font-size="12.4" class="m">#</text><text x="3179" y="289" font-size="12.4" class="m">#</text><text x="2955" y="295" font-size="17.4" class="m" transform="rotate(-90 2955 295)">Chao1</text><text x="2917" y="177" font-size="20.3">A2</text><rect x="3217" y="168" width="63" height="85" fill="#fff" stroke="#000" stroke-width="1.5"/><g stroke="#333" stroke-width="1" font-size="9.7"><path d="M3219,172h21.3v9.8h-21.3z" fill="url(#gb0)"/><text x="3243" y="180" stroke="none">Control</text><path d="M3219,185h21.3v9.8h-21.3z" fill="url(#gb1)"/><text x="3243" y="193" stroke="none">Model</text><path d="M3219,199h21.3v9.8h-21.3z" fill="url(#gb2)"/><text x="3243" y="207" stroke="none">SER</text><path d="M3219,212h21.3v9.8h-21.3z" fill="url(#gb3)"/><text x="3243" y="221" stroke="none">LBHgS</text><path d="M3219,226h21.3v9.8h-21.3z" fill="url(#gb4)"/><text x="3243" y="234" stroke="none">MBHgS</text><path d="M3219,240h21.3v9.8h-21.3z" fill="url(#gb5)"/><text x="3243" y="248" stroke="none">HBHgS</text></g>
<polyline points="3405,188 3405,401 3669,401" fill="none" stroke="#000" stroke-width="1.7"/><text x="3398" y="191" font-size="10.3" class="e">1200</text><text x="3398" y="262" font-size="10.3" class="e">900</text><text x="3398" y="333" font-size="10.3" class="e">600</text><text x="3398" y="404" font-size="10.3" class="e">300</text><text x="3427" y="416" font-size="10.7" class="m">Control</text><text x="3471" y="416" font-size="10.7" class="m">Model</text><text x="3515" y="416" font-size="10.7" class="m">SER</text><text x="3559" y="416" font-size="10.7" class="m">LBHgS</text><text x="3603" y="416" font-size="10.7" class="m">MBHgS</text><text x="3647" y="416" font-size="10.7" class="m">HBHgS</text><path d="M3405,188 H3401 M3405,259 H3401 M3405,330 H3401 M3405,401 H3401 M3405,223 H3403 M3405,294 H3403 M3405,365 H3403 M3427,401 V405 M3471,401 V405 M3515,401 V405 M3559,401 V405 M3603,401 V405 M3647,401 V405" stroke="#000" stroke-width="1.5" fill="none"/><path d="M3417,332 V338 M3417,358 V363 M3414,332 H3421 M3414,363 H3421" stroke="#000" stroke-width="1.3" fill="none"/><rect x="3411" y="338" width="13.1" height="20" fill="url(#gb0)" stroke="#000" stroke-width="1.2"/><line x1="3411" y1="347" x2="3424" y2="347" stroke="#000" stroke-width="1.4"/><path d="M3430,336h0M3434,339h0M3435,346h0M3428,351h0M3433,356h0M3428,358h0" stroke="#5a5a5a" stroke-width="6.9" class="d"/><path d="M3429,335h0M3433,337h0M3434,344h0M3427,350h0M3432,355h0M3427,357h0" stroke="#fff" stroke-opacity=".8" stroke-width="1.7" class="d"/><polyline points="3428,315 3429,319 3430,324 3431,328 3433,333 3436,337 3437,342 3438,346 3437,351 3436,355 3433,360 3431,364 3430,369 3429,373 3428,378" fill="none" stroke="#000" stroke-width="1.3"/><path d="M3461,295 V317 M3461,331 V347 M3457,295 H3465 M3457,347 H3465" stroke="#000" stroke-width="1.3" fill="none"/><rect x="3455" y="317" width="13.1" height="13.8" fill="url(#gb1)" stroke="#000" stroke-width="1.2"/><line x1="3455" y1="325" x2="3468" y2="325" stroke="#000" stroke-width="1.4"/><path d="M3478,288h0M3474,318h0M3479,325h0M3480,327h0M3476,332h0M3480,337h0" stroke="#ee3338" stroke-width="6.9" class="d"/><path d="M3476,286h0M3473,317h0M3478,324h0M3479,326h0M3475,331h0M3479,336h0" stroke="#fff" stroke-opacity=".8" stroke-width="1.7" class="d"/><polyline points="3472,282 3473,289 3474,295 3475,302 3478,309 3480,316 3482,323 3483,330 3482,337 3480,343 3478,350 3475,357 3474,364 3473,371 3472,378" fill="none" stroke="#000" stroke-width="1.3"/><path d="M3505,331 V338 M3505,347 V353 M3501,331 H3509 M3501,353 H3509" stroke="#000" stroke-width="1.3" fill="none"/><rect x="3499" y="338" width="13.1" height="9" fill="url(#gb2)" stroke="#000" stroke-width="1.2"/><line x1="3499" y1="341" x2="3512" y2="341" stroke="#000" stroke-width="1.4"/><path d="M3518,333h0M3516,339h0M3521,341h0M3516,343h0M3517,347h0M3519,354h0" stroke="#1f6fe0" stroke-width="6.9" class="d"/><path d="M3517,332h0M3515,337h0M3520,340h0M3515,342h0M3516,346h0M3518,352h0" stroke="#fff" stroke-opacity=".8" stroke-width="1.7" class="d"/><polyline points="3516,318 3517,321 3518,325 3519,328 3522,332 3524,335 3526,339 3527,342 3526,346 3524,349 3522,353 3519,356 3518,359 3517,363 3516,366" fill="none" stroke="#000" stroke-width="1.3"/><path d="M3550,309 V321 M3550,365 V376 M3546,309 H3554 M3546,376 H3554" stroke="#000" stroke-width="1.3" fill="none"/><rect x="3543" y="321" width="13.1" height="43.1" fill="url(#gb3)" stroke="#000" stroke-width="1.2"/><line x1="3543" y1="341" x2="3556" y2="341" stroke="#000" stroke-width="1.4"/><path d="M3565,316h0M3561,321h0M3560,336h0M3567,347h0M3563,365h0M3568,371h0" stroke="#2fae6b" stroke-width="6.9" class="d"/><path d="M3564,314h0M3560,320h0M3559,335h0M3566,345h0M3561,363h0M3567,370h0" stroke="#fff" stroke-opacity=".8" stroke-width="1.7" class="d"/><polyline points="3560,282 3561,289 3562,295 3564,302 3566,309 3568,316 3570,323 3571,330 3570,337 3568,343 3566,350 3564,357 3562,364 3561,371 3560,378" fill="none" stroke="#000" stroke-width="1.3"/><path d="M3594,318 V326 M3594,356 V365 M3590,318 H3598 M3590,365 H3598" stroke="#000" stroke-width="1.3" fill="none"/><rect x="3587" y="326" width="13.1" height="30.4" fill="url(#gb4)" stroke="#000" stroke-width="1.2"/><line x1="3587" y1="340" x2="3600" y2="340" stroke="#000" stroke-width="1.4"/><path d="M3612,323h0M3607,325h0M3608,337h0M3608,345h0M3609,356h0M3609,363h0" stroke="#aa66e6" stroke-width="6.9" class="d"/><path d="M3610,322h0M3606,324h0M3607,336h0M3607,343h0M3608,355h0M3608,362h0" stroke="#fff" stroke-opacity=".8" stroke-width="1.7" class="d"/><polyline points="3604,289 3605,296 3606,302 3608,308 3610,315 3612,321 3614,327 3615,334 3614,340 3612,346 3610,352 3608,359 3606,365 3605,371 3604,378" fill="none" stroke="#000" stroke-width="1.3"/><path d="M3638,316 V321 M3638,342 V347 M3634,316 H3641 M3634,347 H3641" stroke="#000" stroke-width="1.3" fill="none"/><rect x="3631" y="321" width="13.1" height="21.4" fill="url(#gb5)" stroke="#000" stroke-width="1.2"/><line x1="3631" y1="333" x2="3644" y2="333" stroke="#000" stroke-width="1.4"/><path d="M3653,319h0M3653,321h0M3656,329h0M3652,337h0M3651,341h0M3654,343h0" stroke="#dfa315" stroke-width="6.9" class="d"/><path d="M3651,318h0M3652,320h0M3655,327h0M3651,336h0M3650,340h0M3653,342h0" stroke="#fff" stroke-opacity=".8" stroke-width="1.7" class="d"/><polyline points="3648,297 3649,302 3650,307 3651,312 3653,317 3656,322 3658,327 3658,332 3658,337 3656,342 3653,347 3651,352 3650,357 3649,362 3648,367" fill="none" stroke="#000" stroke-width="1.3"/><text x="3461" y="284" font-size="16.8" class="r m">**</text><text x="3505" y="326" font-size="12.4" class="m">#</text><text x="3549" y="305" font-size="12.4" class="m">#</text><text x="3593" y="314" font-size="12.4" class="m">#</text><text x="3370" y="295" font-size="17.2" class="m" transform="rotate(-90 3370 295)">ACE</text><text x="3318" y="177" font-size="20.3">A3</text><rect x="3631" y="168" width="63" height="85" fill="#fff" stroke="#000" stroke-width="1.5"/><g stroke="#333" stroke-width="1" font-size="9.7"><path d="M3633,172h21.3v9.8h-21.3z" fill="url(#gb0)"/><text x="3657" y="180" stroke="none">Control</text><path d="M3633,185h21.3v9.8h-21.3z" fill="url(#gb1)"/><text x="3657" y="193" stroke="none">Model</text><path d="M3633,199h21.3v9.8h-21.3z" fill="url(#gb2)"/><text x="3657" y="207" stroke="none">SER</text><path d="M3633,212h21.3v9.8h-21.3z" fill="url(#gb3)"/><text x="3657" y="221" stroke="none">LBHgS</text><path d="M3633,226h21.3v9.8h-21.3z" fill="url(#gb4)"/><text x="3657" y="234" stroke="none">MBHgS</text><path d="M3633,240h21.3v9.8h-21.3z" fill="url(#gb5)"/><text x="3657" y="248" stroke="none">HBHgS</text></g>
<polyline points="2991,793 2991,1006 3257,1006" fill="none" stroke="#000" stroke-width="1.7"/><text x="2985" y="1009" font-size="10" class="e">0.00</text><text x="2985" y="966" font-size="10" class="e">0.02</text><text x="2985" y="924" font-size="10" class="e">0.04</text><text x="2985" y="881" font-size="10" class="e">0.06</text><text x="2985" y="839" font-size="10" class="e">0.08</text><text x="2985" y="796" font-size="10" class="e">0.10</text><text x="3015" y="1022" font-size="10.7" class="m">Control</text><text x="3058" y="1022" font-size="10.7" class="m">Model</text><text x="3102" y="1022" font-size="10.7" class="m">SER</text><text x="3147" y="1022" font-size="10.7" class="m">LBHgS</text><text x="3190" y="1022" font-size="10.7" class="m">MBHgS</text><text x="3235" y="1022" font-size="10.7" class="m">HBHgS</text><path d="M2991,1006 H2987 M2991,963 H2987 M2991,920 H2987 M2991,878 H2987 M2991,835 H2987 M2991,793 H2987 M2991,984 H2989 M2991,942 H2989 M2991,899 H2989 M2991,857 H2989 M2991,814 H2989 M3015,1006 V1010 M3058,1006 V1010 M3102,1006 V1010 M3147,1006 V1010 M3190,1006 V1010 M3235,1006 V1010" stroke="#000" stroke-width="1.5" fill="none"/><g stroke="#303030" stroke-width="1.2"><path d="M3002,1006H3027V928H3002ZM3015,928V895M3007,895H3022" fill="url(#gb0)"/><path d="M3046,1006H3071V999H3046ZM3058,999V997M3051,997H3066" fill="url(#gb1)"/><path d="M3090,1006H3115V979H3090ZM3102,979V965M3095,965H3110" fill="url(#gb2)"/><path d="M3134,1006H3159V991H3134ZM3147,991V982M3139,982H3154" fill="url(#gb3)"/><path d="M3178,1006H3203V927H3178ZM3190,927V902M3183,902H3198" fill="url(#gb4)"/><path d="M3222,1006H3247V989H3222ZM3235,989V984M3227,984H3242" fill="url(#gb5)"/></g><path d="M3012,861h0M3012,886h0M3020,897h0M3015,946h0M3015,986h0M3009,991h0" stroke="#5a5a5a" stroke-width="8.3" class="d"/><path d="M3010,859h0M3011,885h0M3018,896h0M3013,945h0M3014,985h0M3008,989h0" stroke="#fff" stroke-opacity=".8" stroke-width="2.1" class="d"/><path d="M3057,995h0M3059,997h0M3053,999h0" stroke="#ee3338" stroke-width="8.3" class="d"/><path d="M3056,993h0M3058,996h0M3052,998h0" stroke="#fff" stroke-opacity=".8" stroke-width="2.1" class="d"/><path d="M3104,935h0M3104,976h0M3098,984h0M3104,997h0M3102,1001h0" stroke="#1f6fe0" stroke-width="8.3" class="d"/><path d="M3102,934h0M3103,974h0M3096,983h0M3102,996h0M3101,1000h0" stroke="#fff" stroke-opacity=".8" stroke-width="2.1" class="d"/><path d="M3149,964h0M3145,989h0M3149,993h0M3149,997h0M3141,1001h0" stroke="#2fae6b" stroke-width="8.3" class="d"/><path d="M3147,962h0M3144,987h0M3148,991h0M3148,996h0M3140,1000h0" stroke="#fff" stroke-opacity=".8" stroke-width="2.1" class="d"/><path d="M3186,879h0M3192,882h0M3196,923h0M3188,935h0M3190,965h0M3191,976h0" stroke="#aa66e6" stroke-width="8.3" class="d"/><path d="M3184,877h0M3191,881h0M3194,921h0M3186,934h0M3189,964h0M3190,974h0" stroke="#fff" stroke-opacity=".8" stroke-width="2.1" class="d"/><path d="M3233,975h0M3233,986h0M3233,993h0M3233,997h0" stroke="#dfa315" stroke-width="8.3" class="d"/><path d="M3231,973h0M3232,985h0M3231,991h0M3232,996h0" stroke="#fff" stroke-opacity=".8" stroke-width="2.1" class="d"/><text x="3058" y="992" font-size="16.8" class="r m">***</text><text x="3190" y="853" font-size="12.4" class="m">$$</text><text x="3190" y="870" font-size="12.4" class="m">###</text><text x="2959" y="899" font-size="18" class="m" transform="rotate(-90 2959 899)">Relative abundance</text><text x="3136" y="776" font-size="18.2" class="i m">f-Marinifilaceae</text><text x="2917" y="768" font-size="20.3">C1</text><rect x="3234" y="790" width="63" height="85" fill="#fff" stroke="#000" stroke-width="1.5"/><g stroke="#333" stroke-width="1" font-size="9.7"><path d="M3236,794h21.6v9.8h-21.6z" fill="url(#gb0)"/><text x="3261" y="802" stroke="none">Control</text><path d="M3236,807h21.6v9.8h-21.6z" fill="url(#gb1)"/><text x="3261" y="815" stroke="none">Model</text><path d="M3236,821h21.6v9.8h-21.6z" fill="url(#gb2)"/><text x="3261" y="829" stroke="none">SER</text><path d="M3236,835h21.6v9.8h-21.6z" fill="url(#gb3)"/><text x="3261" y="843" stroke="none">LBHgS</text><path d="M3236,848h21.6v9.8h-21.6z" fill="url(#gb4)"/><text x="3261" y="856" stroke="none">MBHgS</text><path d="M3236,862h21.6v9.8h-21.6z" fill="url(#gb5)"/><text x="3261" y="870" stroke="none">HBHgS</text></g>
<polyline points="3406,800 3406,1014 3673,1014" fill="none" stroke="#000" stroke-width="1.7"/><text x="3399" y="1017" font-size="10" class="e">0.00</text><text x="3399" y="981" font-size="10" class="e">0.02</text><text x="3399" y="946" font-size="10" class="e">0.04</text><text x="3399" y="910" font-size="10" class="e">0.06</text><text x="3399" y="875" font-size="10" class="e">0.08</text><text x="3399" y="839" font-size="10" class="e">0.10</text><text x="3399" y="804" font-size="10" class="e">0.12</text><text x="3430" y="1030" font-size="10.7" class="m">Control</text><text x="3474" y="1030" font-size="10.7" class="m">Model</text><text x="3517" y="1030" font-size="10.7" class="m">SER</text><text x="3562" y="1030" font-size="10.7" class="m">LBHgS</text><text x="3606" y="1030" font-size="10.7" class="m">MBHgS</text><text x="3650" y="1030" font-size="10.7" class="m">HBHgS</text><path d="M3406,1014 H3402 M3406,978 H3402 M3406,942 H3402 M3406,907 H3402 M3406,871 H3402 M3406,836 H3402 M3406,800 H3402 M3406,996 H3404 M3406,960 H3404 M3406,925 H3404 M3406,889 H3404 M3406,854 H3404 M3406,818 H3404 M3430,1014 V1018 M3474,1014 V1018 M3517,1014 V1018 M3562,1014 V1018 M3606,1014 V1018 M3650,1014 V1018" stroke="#000" stroke-width="1.5" fill="none"/><g stroke="#303030" stroke-width="1.2"><path d="M3417,1014H3442V998H3417ZM3430,998V989M3422,989H3437" fill="url(#gb0)"/><path d="M3461,1014H3486V966H3461ZM3474,966V918M3466,918H3481" fill="url(#gb1)"/><path d="M3505,1014H3530V1003H3505ZM3517,1003V993M3510,993H3525" fill="url(#gb2)"/><path d="M3549,1014H3574V1003H3549ZM3562,1003V994M3554,994H3569" fill="url(#gb3)"/><path d="M3593,1014H3618V1008H3593ZM3606,1008V1005M3598,1005H3613" fill="url(#gb4)"/><path d="M3638,1014H3662V1008H3638ZM3650,1008V1006M3643,1006H3657" fill="url(#gb5)"/></g><path d="M3431,985h0M3427,992h0M3428,999h0M3433,1005h0M3424,1008h0M3430,1010h0" stroke="#5a5a5a" stroke-width="8.3" class="d"/><path d="M3429,984h0M3426,991h0M3427,998h0M3431,1003h0M3423,1007h0M3429,1009h0" stroke="#fff" stroke-opacity=".8" stroke-width="2.1" class="d"/><path d="M3476,870h0M3472,967h0M3471,976h0M3477,989h0M3471,1005h0" stroke="#ee3338" stroke-width="8.3" class="d"/><path d="M3475,868h0M3470,966h0M3469,975h0M3476,987h0M3469,1003h0" stroke="#fff" stroke-opacity=".8" stroke-width="2.1" class="d"/><path d="M3514,983h0M3517,999h0M3520,1008h0" stroke="#1f6fe0" stroke-width="8.3" class="d"/><path d="M3513,982h0M3515,998h0M3518,1007h0" stroke="#fff" stroke-opacity=".8" stroke-width="2.1" class="d"/><path d="M3557,989h0M3560,994h0M3560,1005h0M3565,1010h0" stroke="#2fae6b" stroke-width="8.3" class="d"/><path d="M3556,987h0M3558,993h0M3558,1003h0M3564,1009h0" stroke="#fff" stroke-opacity=".8" stroke-width="2.1" class="d"/><path d="M3605,1003h0M3610,1006h0" stroke="#aa66e6" stroke-width="8.3" class="d"/><path d="M3604,1001h0M3608,1005h0" stroke="#fff" stroke-opacity=".8" stroke-width="2.1" class="d"/><path d="M3646,1006h0M3648,1008h0" stroke="#dfa315" stroke-width="8.3" class="d"/><path d="M3645,1005h0M3647,1007h0" stroke="#fff" stroke-opacity=".8" stroke-width="2.1" class="d"/><text x="3474" y="860" font-size="16.8" class="r m">*</text><text x="3517" y="972" font-size="12.4" class="m">#</text><text x="3562" y="981" font-size="12.4" class="m">#</text><text x="3606" y="994" font-size="12.4" class="m">#</text><text x="3650" y="999" font-size="12.4" class="m">#</text><text x="3374" y="906" font-size="18" class="m" transform="rotate(-90 3374 906)">Relative abundance</text><text x="3555" y="784" font-size="18.6" class="i m">f-Tannerellaceae</text><text x="3318" y="768" font-size="20.3">C2</text><rect x="3649" y="798" width="63" height="79" fill="#fff" stroke="#000" stroke-width="1.5"/><g stroke="#333" stroke-width="1" font-size="9.7"><path d="M3652,801h21.3v9.2h-21.3z" fill="url(#gb0)"/><text x="3676" y="809" stroke="none">Control</text><path d="M3652,814h21.3v9.2h-21.3z" fill="url(#gb1)"/><text x="3676" y="822" stroke="none">Model</text><path d="M3652,827h21.3v9.2h-21.3z" fill="url(#gb2)"/><text x="3676" y="835" stroke="none">SER</text><path d="M3652,839h21.3v9.2h-21.3z" fill="url(#gb3)"/><text x="3676" y="847" stroke="none">LBHgS</text><path d="M3652,852h21.3v9.2h-21.3z" fill="url(#gb4)"/><text x="3676" y="860" stroke="none">MBHgS</text><path d="M3652,865h21.3v9.2h-21.3z" fill="url(#gb5)"/><text x="3676" y="873" stroke="none">HBHgS</text></g>
<polyline points="2577,1105 2577,1318 2842,1318" fill="none" stroke="#000" stroke-width="1.7"/><text x="2570" y="1321" font-size="10" class="e">0.000</text><text x="2570" y="1279" font-size="10" class="e">0.005</text><text x="2570" y="1236" font-size="10" class="e">0.010</text><text x="2570" y="1193" font-size="10" class="e">0.015</text><text x="2570" y="1151" font-size="10" class="e">0.020</text><text x="2570" y="1108" font-size="10" class="e">0.025</text><text x="2599" y="1334" font-size="10.7" class="m">Control</text><text x="2644" y="1334" font-size="10.7" class="m">Model</text><text x="2687" y="1334" font-size="10.7" class="m">SER</text><text x="2731" y="1334" font-size="10.7" class="m">LBHgS</text><text x="2775" y="1334" font-size="10.7" class="m">MBHgS</text><text x="2819" y="1334" font-size="10.7" class="m">HBHgS</text><path d="M2577,1318 H2572 M2577,1275 H2572 M2577,1233 H2572 M2577,1190 H2572 M2577,1147 H2572 M2577,1105 H2572 M2577,1297 H2574 M2577,1254 H2574 M2577,1211 H2574 M2577,1169 H2574 M2577,1126 H2574 M2599,1318 V1322 M2644,1318 V1322 M2687,1318 V1322 M2731,1318 V1322 M2775,1318 V1322 M2819,1318 V1322" stroke="#000" stroke-width="1.5" fill="none"/><g stroke="#303030" stroke-width="1.2"><path d="M2587,1318H2612V1301H2587ZM2599,1301V1293M2592,1293H2607" fill="url(#gb0)"/><path d="M2631,1318H2656V1239H2631ZM2644,1239V1194M2636,1194H2651" fill="url(#gb1)"/><path d="M2675,1318H2700V1279H2675ZM2687,1279V1257M2680,1257H2695" fill="url(#gb2)"/><path d="M2719,1318H2744V1285H2719ZM2731,1285V1269M2724,1269H2739" fill="url(#gb3)"/><path d="M2763,1318H2788V1292H2763ZM2775,1292V1286M2768,1286H2783" fill="url(#gb4)"/><path d="M2807,1318H2832V1257H2807ZM2819,1257V1228M2812,1228H2827" fill="url(#gb5)"/></g><path d="M2601,1297h0M2604,1298h0M2599,1305h0M2596,1314h0" stroke="#5a5a5a" stroke-width="8.3" class="d"/><path d="M2600,1295h0M2602,1296h0M2597,1304h0M2595,1312h0" stroke="#fff" stroke-opacity=".8" stroke-width="2.1" class="d"/><path d="M2639,1156h0M2644,1229h0M2640,1244h0M2647,1257h0M2647,1263h0M2640,1280h0" stroke="#ee3338" stroke-width="8.3" class="d"/><path d="M2638,1155h0M2642,1227h0M2639,1242h0M2645,1255h0M2646,1261h0M2639,1278h0" stroke="#fff" stroke-opacity=".8" stroke-width="2.1" class="d"/><path d="M2685,1259h0M2691,1269h0M2689,1274h0M2691,1298h0M2686,1311h0" stroke="#1f6fe0" stroke-width="8.3" class="d"/><path d="M2683,1258h0M2689,1267h0M2687,1272h0M2689,1296h0M2684,1310h0" stroke="#fff" stroke-opacity=".8" stroke-width="2.1" class="d"/><path d="M2727,1263h0M2729,1275h0M2735,1284h0M2729,1293h0M2730,1308h0" stroke="#2fae6b" stroke-width="8.3" class="d"/><path d="M2726,1261h0M2728,1273h0M2733,1282h0M2728,1292h0M2728,1306h0" stroke="#fff" stroke-opacity=".8" stroke-width="2.1" class="d"/><path d="M2774,1286h0M2774,1288h0M2774,1292h0M2780,1301h0" stroke="#aa66e6" stroke-width="8.3" class="d"/><path d="M2773,1285h0M2773,1287h0M2773,1291h0M2778,1299h0" stroke="#fff" stroke-opacity=".8" stroke-width="2.1" class="d"/><path d="M2816,1203h0M2814,1245h0M2824,1266h0M2824,1275h0M2825,1281h0" stroke="#dfa315" stroke-width="8.3" class="d"/><path d="M2814,1201h0M2813,1243h0M2823,1265h0M2822,1274h0M2823,1280h0" stroke="#fff" stroke-opacity=".8" stroke-width="2.1" class="d"/><text x="2644" y="1152" font-size="16.8" class="r m">***</text><text x="2687" y="1251" font-size="12.4" class="m">##</text><text x="2731" y="1255" font-size="12.4" class="m">##</text><text x="2775" y="1261" font-size="12.4" class="m">$</text><text x="2775" y="1279" font-size="12.4" class="m">#</text><text x="2539" y="1211" font-size="18" class="m" transform="rotate(-90 2539 1211)">Relative abundance</text><text x="2730" y="1088" font-size="18.2" class="i m">f-Ruminococcaceae</text><text x="2517" y="1073" font-size="20.3">C3</text><rect x="2819" y="1102" width="63" height="79" fill="#fff" stroke="#000" stroke-width="1.5"/><g stroke="#333" stroke-width="1" font-size="9.7"><path d="M2821,1106h21.3v9.1h-21.3z" fill="url(#gb0)"/><text x="2845" y="1113" stroke="none">Control</text><path d="M2821,1118h21.3v9.1h-21.3z" fill="url(#gb1)"/><text x="2845" y="1126" stroke="none">Model</text><path d="M2821,1131h21.3v9.1h-21.3z" fill="url(#gb2)"/><text x="2845" y="1139" stroke="none">SER</text><path d="M2821,1144h21.3v9.1h-21.3z" fill="url(#gb3)"/><text x="2845" y="1152" stroke="none">LBHgS</text><path d="M2821,1156h21.3v9.1h-21.3z" fill="url(#gb4)"/><text x="2845" y="1164" stroke="none">MBHgS</text><path d="M2821,1169h21.3v9.1h-21.3z" fill="url(#gb5)"/><text x="2845" y="1177" stroke="none">HBHgS</text></g>
<polyline points="2992,1105 2992,1318 3257,1318" fill="none" stroke="#000" stroke-width="1.7"/><text x="2985" y="1321" font-size="10" class="e">0.00</text><text x="2985" y="1279" font-size="10" class="e">0.03</text><text x="2985" y="1236" font-size="10" class="e">0.06</text><text x="2985" y="1193" font-size="10" class="e">0.09</text><text x="2985" y="1151" font-size="10" class="e">0.12</text><text x="2985" y="1108" font-size="10" class="e">0.15</text><text x="3014" y="1334" font-size="10.7" class="m">Control</text><text x="3059" y="1334" font-size="10.7" class="m">Model</text><text x="3102" y="1334" font-size="10.7" class="m">SER</text><text x="3146" y="1334" font-size="10.7" class="m">LBHgS</text><text x="3190" y="1334" font-size="10.7" class="m">MBHgS</text><text x="3234" y="1334" font-size="10.7" class="m">HBHgS</text><path d="M2992,1318 H2987 M2992,1275 H2987 M2992,1233 H2987 M2992,1190 H2987 M2992,1147 H2987 M2992,1105 H2987 M2992,1297 H2989 M2992,1254 H2989 M2992,1211 H2989 M2992,1169 H2989 M2992,1126 H2989 M3014,1318 V1322 M3059,1318 V1322 M3102,1318 V1322 M3146,1318 V1322 M3190,1318 V1322 M3234,1318 V1322" stroke="#000" stroke-width="1.5" fill="none"/><g stroke="#303030" stroke-width="1.2"><path d="M3002,1318H3027V1310H3002ZM3014,1310V1307M3007,1307H3022" fill="url(#gb0)"/><path d="M3046,1318H3071V1253H3046ZM3059,1253V1215M3051,1215H3066" fill="url(#gb1)"/><path d="M3090,1318H3115V1310H3090ZM3102,1310V1306M3095,1306H3110" fill="url(#gb2)"/><path d="M3134,1318H3159V1300H3134ZM3146,1300V1286M3139,1286H3154" fill="url(#gb3)"/><path d="M3178,1318H3203V1312H3178ZM3190,1312V1308M3183,1308H3198" fill="url(#gb4)"/><path d="M3222,1318H3247V1310H3222ZM3234,1310V1307M3227,1307H3242" fill="url(#gb5)"/></g><path d="M3014,1305h0M3019,1310h0M3019,1312h0" stroke="#5a5a5a" stroke-width="8.3" class="d"/><path d="M3012,1304h0M3018,1308h0M3018,1311h0" stroke="#fff" stroke-opacity=".8" stroke-width="2.1" class="d"/><path d="M3055,1189h0M3061,1244h0M3062,1248h0M3060,1263h0M3059,1267h0M3056,1302h0" stroke="#ee3338" stroke-width="8.3" class="d"/><path d="M3054,1187h0M3060,1243h0M3061,1247h0M3059,1261h0M3057,1265h0M3055,1301h0" stroke="#fff" stroke-opacity=".8" stroke-width="2.1" class="d"/><path d="M3101,1307h0M3099,1310h0M3098,1314h0" stroke="#1f6fe0" stroke-width="8.3" class="d"/><path d="M3099,1305h0M3098,1308h0M3096,1312h0" stroke="#fff" stroke-opacity=".8" stroke-width="2.1" class="d"/><path d="M3147,1280h0M3144,1290h0M3150,1304h0M3142,1314h0M3151,1315h0" stroke="#2fae6b" stroke-width="8.3" class="d"/><path d="M3146,1278h0M3143,1288h0M3148,1302h0M3140,1312h0M3149,1314h0" stroke="#fff" stroke-opacity=".8" stroke-width="2.1" class="d"/><path d="M3192,1308h0M3195,1312h0" stroke="#aa66e6" stroke-width="8.3" class="d"/><path d="M3191,1307h0M3194,1311h0" stroke="#fff" stroke-opacity=".8" stroke-width="2.1" class="d"/><path d="M3239,1307h0M3239,1311h0" stroke="#dfa315" stroke-width="8.3" class="d"/><path d="M3237,1305h0M3237,1309h0" stroke="#fff" stroke-opacity=".8" stroke-width="2.1" class="d"/><text x="3059" y="1184" font-size="16.8" class="r m">***</text><text x="3102" y="1299" font-size="12.4" class="m">###</text><text x="3146" y="1272" font-size="12.4" class="m">###</text><text x="3190" y="1300" font-size="12.4" class="m">###</text><text x="3234" y="1299" font-size="12.4" class="m">###</text><text x="2960" y="1211" font-size="18" class="m" transform="rotate(-90 2960 1211)">Relative abundance</text><text x="3135" y="1088" font-size="18.5" class="i m">f-Bacteroidaceae</text><text x="2917" y="1073" font-size="20.3">C4</text><rect x="3234" y="1102" width="63" height="85" fill="#fff" stroke="#000" stroke-width="1.5"/><g stroke="#333" stroke-width="1" font-size="9.7"><path d="M3237,1106h21.3v9.9h-21.3z" fill="url(#gb0)"/><text x="3261" y="1114" stroke="none">Control</text><path d="M3237,1119h21.3v9.9h-21.3z" fill="url(#gb1)"/><text x="3261" y="1128" stroke="none">Model</text><path d="M3237,1133h21.3v9.9h-21.3z" fill="url(#gb2)"/><text x="3261" y="1141" stroke="none">SER</text><path d="M3237,1147h21.3v9.9h-21.3z" fill="url(#gb3)"/><text x="3261" y="1155" stroke="none">LBHgS</text><path d="M3237,1161h21.3v9.9h-21.3z" fill="url(#gb4)"/><text x="3261" y="1169" stroke="none">MBHgS</text><path d="M3237,1174h21.3v9.9h-21.3z" fill="url(#gb5)"/><text x="3261" y="1183" stroke="none">HBHgS</text></g>
<polyline points="3408,1105 3408,1318 3673,1318" fill="none" stroke="#000" stroke-width="1.5"/><text x="3402" y="1321" font-size="9.9" class="e">0.00</text><text x="3402" y="1279" font-size="9.9" class="e">0.03</text><text x="3402" y="1236" font-size="9.9" class="e">0.06</text><text x="3402" y="1193" font-size="9.9" class="e">0.09</text><text x="3402" y="1151" font-size="9.9" class="e">0.12</text><text x="3402" y="1108" font-size="9.9" class="e">0.15</text><text x="3429" y="1334" font-size="10.7" class="m">Control</text><text x="3473" y="1334" font-size="10.7" class="m">Model</text><text x="3518" y="1334" font-size="10.7" class="m">SER</text><text x="3562" y="1334" font-size="10.7" class="m">LBHgS</text><text x="3606" y="1334" font-size="10.7" class="m">MBHgS</text><text x="3650" y="1334" font-size="10.7" class="m">HBHgS</text><path d="M3408,1318 H3404 M3408,1275 H3404 M3408,1233 H3404 M3408,1190 H3404 M3408,1148 H3404 M3408,1105 H3404 M3408,1297 H3406 M3408,1254 H3406 M3408,1212 H3406 M3408,1169 H3406 M3408,1126 H3406 M3429,1318 V1322 M3473,1318 V1322 M3518,1318 V1322 M3562,1318 V1322 M3606,1318 V1322 M3650,1318 V1322" stroke="#000" stroke-width="1.3" fill="none"/><g stroke="#303030" stroke-width="1.2"><path d="M3416,1318H3443V1312H3416ZM3429,1312V1310M3421,1310H3438" fill="url(#gb0)"/><path d="M3459,1318H3487V1280H3459ZM3473,1280V1256M3465,1256H3482" fill="url(#gb1)"/><path d="M3504,1318H3531V1312H3504ZM3518,1312V1310M3509,1310H3526" fill="url(#gb2)"/><path d="M3548,1318H3576V1312H3548ZM3562,1312V1310M3553,1310H3570" fill="url(#gb3)"/><path d="M3592,1318H3620V1304H3592ZM3606,1304V1295M3597,1295H3614" fill="url(#gb4)"/><path d="M3636,1318H3664V1312H3636ZM3650,1312V1310M3641,1310H3658" fill="url(#gb5)"/></g><path d="M3430,1307h0M3423,1310h0M3432,1314h0M3425,1315h0" stroke="#5a5a5a" stroke-width="8.3" class="d"/><path d="M3429,1305h0M3422,1308h0M3431,1312h0M3424,1314h0" stroke="#fff" stroke-opacity=".8" stroke-width="2.1" class="d"/><path d="M3471,1204h0M3475,1271h0M3474,1288h0M3472,1299h0M3479,1305h0M3475,1310h0" stroke="#ee3338" stroke-width="8.3" class="d"/><path d="M3470,1202h0M3474,1270h0M3472,1286h0M3471,1297h0M3477,1303h0M3473,1309h0" stroke="#fff" stroke-opacity=".8" stroke-width="2.1" class="d"/><path d="M3516,1306h0M3515,1312h0M3522,1314h0" stroke="#1f6fe0" stroke-width="8.3" class="d"/><path d="M3514,1305h0M3513,1311h0M3521,1312h0" stroke="#fff" stroke-opacity=".8" stroke-width="2.1" class="d"/><path d="M3561,1304h0M3565,1312h0M3560,1314h0" stroke="#2fae6b" stroke-width="8.3" class="d"/><path d="M3560,1303h0M3564,1311h0M3558,1312h0" stroke="#fff" stroke-opacity=".8" stroke-width="2.1" class="d"/><path d="M3602,1275h0M3606,1303h0M3609,1309h0M3602,1313h0M3609,1317h0" stroke="#aa66e6" stroke-width="8.3" class="d"/><path d="M3600,1274h0M3605,1302h0M3608,1307h0M3600,1312h0M3608,1315h0" stroke="#fff" stroke-opacity=".8" stroke-width="2.1" class="d"/><path d="M3655,1307h0M3654,1311h0M3654,1314h0" stroke="#dfa315" stroke-width="8.3" class="d"/><path d="M3654,1305h0M3652,1309h0M3652,1312h0" stroke="#fff" stroke-opacity=".8" stroke-width="2.1" class="d"/><text x="3473" y="1200" font-size="16.7" class="r m">**</text><text x="3518" y="1299" font-size="12.4" class="m">##</text><text x="3562" y="1297" font-size="12.4" class="m">##</text><text x="3606" y="1269" font-size="12.4" class="m">#</text><text x="3650" y="1300" font-size="12.4" class="m">##</text><text x="3375" y="1211" font-size="18.1" class="m" transform="rotate(-90 3375 1211)">Relative abundance</text><text x="3570" y="1088" font-size="18.2" class="i m">f-Desulfovibrionaceae</text><text x="3318" y="1073" font-size="20.3">C5</text><rect x="3649" y="1102" width="63" height="79" fill="#fff" stroke="#000" stroke-width="1.5"/><g stroke="#333" stroke-width=".6" font-size="9.6"><path d="M3651,1105h21.4v9.3h-21.4z" fill="url(#gb0)"/><text x="3676" y="1113" stroke="none">Control</text><path d="M3651,1118h21.4v9.3h-21.4z" fill="url(#gb1)"/><text x="3676" y="1126" stroke="none">Model</text><path d="M3651,1131h21.4v9.3h-21.4z" fill="url(#gb2)"/><text x="3676" y="1139" stroke="none">SER</text><path d="M3651,1144h21.4v9.3h-21.4z" fill="url(#gb3)"/><text x="3676" y="1152" stroke="none">LBHgS</text><path d="M3651,1157h21.4v9.3h-21.4z" fill="url(#gb4)"/><text x="3676" y="1165" stroke="none">MBHgS</text><path d="M3651,1170h21.4v9.3h-21.4z" fill="url(#gb5)"/><text x="3676" y="1178" stroke="none">HBHgS</text></g>
<text x="2514" y="1369" font-size="20.2">D</text>
<text x="2565" y="1381" font-size="17.5">KEGG predicted function Level 3</text>
<text x="2865" y="1420" font-size="10.5">Parkinson disease</text>
<text x="2865" y="1442" font-size="10.5">Protein processing</text>
<text x="2865" y="1464" font-size="10.5">Carbapenem biosynthesis</text>
<text x="2865" y="1487" font-size="10.5">Phosphonate and phosphinate metabolism</text>
<text x="2865" y="1509" font-size="10.5">Phosphatidylinositol signaling system</text>
<text x="2865" y="1532" font-size="10.5">Chloroalkane and chloroalkene degradation</text>
<text x="2865" y="1554" font-size="10.5">Retinol metabolism</text>
<text x="2865" y="1576" font-size="10.5">Metabolism of xenobiotics by cytochrome P450</text>
<text x="2865" y="1599" font-size="10.5">Salivary secretion</text>
<svg x="2514" y="1405" width="348" height="202" viewBox="0 0 36 9" preserveAspectRatio="none" shape-rendering="crispEdges"><rect width="36" height="9" fill="#78d8c8"/><path d="M0 0h1v1h-1zM4 0h1v1h-1zM12 0h1v1h-1zM15 0h2v1h-2zM18 0h2v1h-2zM21 0h2v1h-2zM24 0h2v1h-2zM32 0h1v1h-1z" fill="#66cdbc"/><path d="M1 0h1v1h-1zM3 0h1v1h-1zM5 0h3v1h-3zM11 0h1v1h-1zM13 0h2v1h-2zM17 0h1v1h-1zM23 0h1v1h-1zM28 0h4v1h-4zM33 0h3v1h-3z" fill="#6fd6c5"/><path d="M2 0h1v1h-1zM8 0h3v1h-3zM26 0h2v1h-2z" fill="#78dfce"/><path d="M20 0h1v1h-1z" fill="#b5e8d8"/><path d="M0 1h1v1h-1zM10 1h1v1h-1zM14 1h1v1h-1zM19 1h2v1h-2zM23 1h1v1h-1zM35 1h1v1h-1z" fill="#ac530b"/><path d="M1 1h5v1h-5zM7 1h1v1h-1zM9 1h1v1h-1zM12 1h1v1h-1zM15 1h1v1h-1zM17 1h2v1h-2zM21 1h1v1h-1zM24 1h1v1h-1zM26 1h6v1h-6zM33 1h2v1h-2z" fill="#a34a02"/><path d="M6 1h1v1h-1z" fill="#d2620c"/><path d="M8 1h1v1h-1zM11 1h1v1h-1zM13 1h1v1h-1zM16 1h1v1h-1zM22 1h1v1h-1zM25 1h1v1h-1zM32 1h1v1h-1z" fill="#9a4100"/><path d="M0 2h1v1h-1zM3 2h4v1h-4zM8 2h2v1h-2zM11 2h1v1h-1zM13 2h1v1h-1zM16 2h1v1h-1zM18 2h1v1h-1zM24 2h4v1h-4zM33 2h2v1h-2z" fill="#12bcb0"/><path d="M1 2h1v1h-1zM10 2h1v1h-1zM15 2h1v1h-1zM19 2h2v1h-2zM22 2h1v1h-1zM29 2h1v1h-1zM31 2h1v1h-1z" fill="#1bc5b9"/><path d="M2 2h1v1h-1zM7 2h1v1h-1zM12 2h1v1h-1zM14 2h1v1h-1zM17 2h1v1h-1zM21 2h1v1h-1zM23 2h1v1h-1zM28 2h1v1h-1zM30 2h1v1h-1zM32 2h1v1h-1zM35 2h1v1h-1z" fill="#09b3a7"/><path d="M0 3h1v1h-1zM4 3h2v1h-2zM7 3h1v1h-1zM13 3h1v1h-1zM20 3h1v1h-1zM22 3h1v1h-1zM24 3h4v1h-4zM29 3h3v1h-3zM33 3h2v1h-2z" fill="#1ec0b4"/><path d="M1 3h3v1h-3zM8 3h2v1h-2zM14 3h1v1h-1zM16 3h1v1h-1zM18 3h1v1h-1zM23 3h1v1h-1z" fill="#15b7ab"/><path d="M6 3h1v1h-1zM10 3h3v1h-3zM15 3h1v1h-1zM17 3h1v1h-1zM19 3h1v1h-1zM21 3h1v1h-1zM28 3h1v1h-1zM32 3h1v1h-1zM35 3h1v1h-1z" fill="#27c9bd"/><path d="M1 4h1v1h-1zM16 4h1v1h-1z" fill="#6fcfbf"/><path d="M3 4h1v1h-1zM8 4h3v1h-3zM19 4h1v1h-1zM21 4h1v1h-1zM27 4h2v1h-2zM31 4h1v1h-1zM34 4h2v1h-2z" fill="#81e1d1"/><path d="M0 5h1v1h-1zM12 5h1v1h-1zM29 5h1v1h-1z" fill="#69d9cb"/><path d="M1 5h3v1h-3zM5 5h1v1h-1zM7 5h2v1h-2zM10 5h2v1h-2zM16 5h2v1h-2zM20 5h3v1h-3zM25 5h1v1h-1zM27 5h1v1h-1zM30 5h1v1h-1zM32 5h1v1h-1z" fill="#60d0c2"/><path d="M4 5h1v1h-1z" fill="#57c7b9"/><path d="M6 5h1v1h-1z" fill="#ffab6e"/><path d="M9 5h1v1h-1z" fill="#fbf6e4"/><path d="M13 5h1v1h-1z" fill="#a5e2d2"/><path d="M14 5h1v1h-1z" fill="#a5e2d2"/><path d="M15 5h1v1h-1z" fill="#eef4e4"/><path d="M18 5h1v1h-1z" fill="#a0e0d0"/><path d="M19 5h1v1h-1z" fill="#dff0e2"/><path d="M23 5h1v1h-1z" fill="#f3f3e2"/><path d="M24 5h1v1h-1z" fill="#b5e6d6"/><path d="M26 5h1v1h-1z" fill="#98dece"/><path d="M28 5h1v1h-1z" fill="#a5e2d2"/><path d="M31 5h1v1h-1z" fill="#b9e8d8"/><path d="M33 5h1v1h-1z" fill="#a8e4d2"/><path d="M34 5h1v1h-1z" fill="#a8e4d2"/><path d="M35 5h1v1h-1z" fill="#c5ead8"/><path d="M0 6h2v1h-2zM18 6h1v1h-1zM35 6h1v1h-1z" fill="#09b1a4"/><path d="M2 6h1v1h-1zM4 6h1v1h-1zM6 6h1v1h-1zM10 6h1v1h-1zM19 6h1v1h-1zM22 6h1v1h-1zM26 6h4v1h-4zM32 6h1v1h-1z" fill="#009f92"/><path d="M3 6h1v1h-1zM5 6h1v1h-1zM7 6h3v1h-3zM11 6h7v1h-7zM20 6h2v1h-2zM23 6h3v1h-3zM30 6h2v1h-2zM33 6h2v1h-2z" fill="#00a89b"/><path d="M0 7h1v1h-1zM3 7h5v1h-5zM9 7h1v1h-1zM11 7h3v1h-3zM15 7h1v1h-1zM17 7h1v1h-1zM19 7h1v1h-1zM21 7h1v1h-1zM23 7h1v1h-1zM26 7h5v1h-5zM32 7h1v1h-1z" fill="#00ab9e"/><path d="M1 7h2v1h-2zM8 7h1v1h-1zM16 7h1v1h-1zM18 7h1v1h-1zM20 7h1v1h-1zM24 7h1v1h-1zM31 7h1v1h-1z" fill="#00a295"/><path d="M10 7h1v1h-1zM14 7h1v1h-1zM22 7h1v1h-1zM25 7h1v1h-1zM33 7h3v1h-3z" fill="#09b4a7"/><path d="M0 8h1v1h-1zM4 8h1v1h-1zM12 8h2v1h-2zM26 8h2v1h-2zM34 8h1v1h-1z" fill="#008177"/><path d="M1 8h1v1h-1zM3 8h1v1h-1zM5 8h1v1h-1zM7 8h5v1h-5zM15 8h2v1h-2zM18 8h1v1h-1zM20 8h6v1h-6zM28 8h1v1h-1zM32 8h2v1h-2zM35 8h1v1h-1z" fill="#008a80"/><path d="M2 8h1v1h-1zM6 8h1v1h-1zM14 8h1v1h-1zM17 8h1v1h-1zM19 8h1v1h-1zM29 8h3v1h-3z" fill="#099389"/></svg><rect x="2514" y="1405" width="348" height="202" fill="none" stroke="#000" stroke-width=".9"/>
<text x="2522" y="1610" font-size="10.8" class="e" transform="rotate(-90 2522 1610)">Control-1</text>
<text x="2532" y="1610" font-size="10.8" class="e" transform="rotate(-90 2532 1610)">Control-2</text>
<text x="2542" y="1610" font-size="10.8" class="e" transform="rotate(-90 2542 1610)">Control-3</text>
<text x="2551" y="1610" font-size="10.8" class="e" transform="rotate(-90 2551 1610)">Control-4</text>
<text x="2561" y="1610" font-size="10.8" class="e" transform="rotate(-90 2561 1610)">Control-5</text>
<text x="2571" y="1610" font-size="10.8" class="e" transform="rotate(-90 2571 1610)">Control-6</text>
<text x="2580" y="1610" font-size="10.8" class="e" transform="rotate(-90 2580 1610)">Model-1</text>
<text x="2590" y="1610" font-size="10.8" class="e" transform="rotate(-90 2590 1610)">Model-2</text>
<text x="2600" y="1610" font-size="10.8" class="e" transform="rotate(-90 2600 1610)">Model-3</text>
<text x="2609" y="1610" font-size="10.8" class="e" transform="rotate(-90 2609 1610)">Model-4</text>
<text x="2619" y="1610" font-size="10.8" class="e" transform="rotate(-90 2619 1610)">Model-5</text>
<text x="2628" y="1610" font-size="10.8" class="e" transform="rotate(-90 2628 1610)">Model-6</text>
<text x="2638" y="1610" font-size="10.8" class="e" transform="rotate(-90 2638 1610)">SER-1</text>
<text x="2648" y="1610" font-size="10.8" class="e" transform="rotate(-90 2648 1610)">SER-2</text>
<text x="2657" y="1610" font-size="10.8" class="e" transform="rotate(-90 2657 1610)">SER-3</text>
<text x="2667" y="1610" font-size="10.8" class="e" transform="rotate(-90 2667 1610)">SER-4</text>
<text x="2677" y="1610" font-size="10.8" class="e" transform="rotate(-90 2677 1610)">SER-5</text>
<text x="2686" y="1610" font-size="10.8" class="e" transform="rotate(-90 2686 1610)">SER-6</text>
<text x="2696" y="1610" font-size="10.8" class="e" transform="rotate(-90 2696 1610)">LBHgS-1</text>
<text x="2706" y="1610" font-size="10.8" class="e" transform="rotate(-90 2706 1610)">LBHgS-2</text>
<text x="2715" y="1610" font-size="10.8" class="e" transform="rotate(-90 2715 1610)">LBHgS-3</text>
<text x="2725" y="1610" font-size="10.8" class="e" transform="rotate(-90 2725 1610)">LBHgS-4</text>
<text x="2735" y="1610" font-size="10.8" class="e" transform="rotate(-90 2735 1610)">LBHgS-5</text>
<text x="2744" y="1610" font-size="10.8" class="e" transform="rotate(-90 2744 1610)">LBHgS-6</text>
<text x="2754" y="1610" font-size="10.8" class="e" transform="rotate(-90 2754 1610)">MBHgS-1</text>
<text x="2764" y="1610" font-size="10.8" class="e" transform="rotate(-90 2764 1610)">MBHgS-2</text>
<text x="2773" y="1610" font-size="10.8" class="e" transform="rotate(-90 2773 1610)">MBHgS-3</text>
<text x="2783" y="1610" font-size="10.8" class="e" transform="rotate(-90 2783 1610)">MBHgS-4</text>
<text x="2793" y="1610" font-size="10.8" class="e" transform="rotate(-90 2793 1610)">MBHgS-5</text>
<text x="2802" y="1610" font-size="10.8" class="e" transform="rotate(-90 2802 1610)">MBHgS-6</text>
<text x="2812" y="1610" font-size="10.8" class="e" transform="rotate(-90 2812 1610)">HBHgS-1</text>
<text x="2822" y="1610" font-size="10.8" class="e" transform="rotate(-90 2822 1610)">HBHgS-2</text>
<text x="2831" y="1610" font-size="10.8" class="e" transform="rotate(-90 2831 1610)">HBHgS-3</text>
<text x="2841" y="1610" font-size="10.8" class="e" transform="rotate(-90 2841 1610)">HBHgS-4</text>
<text x="2851" y="1610" font-size="10.8" class="e" transform="rotate(-90 2851 1610)">HBHgS-5</text>
<text x="2860" y="1610" font-size="10.8" class="e" transform="rotate(-90 2860 1610)">HBHgS-6</text>
<rect x="3111" y="1401" width="19" height="247" fill="url(#cbD)" stroke="#000" stroke-width="1.2"/>
<line x1="3130" y1="1401" x2="3136" y2="1401" stroke="#000" stroke-width="1.2"/>
<text x="3140" y="1405" font-size="10.2">2.52</text>
<line x1="3130" y1="1463" x2="3136" y2="1463" stroke="#000" stroke-width="1.2"/>
<text x="3140" y="1467" font-size="10.2">1.57</text>
<line x1="3130" y1="1525" x2="3136" y2="1525" stroke="#000" stroke-width="1.2"/>
<text x="3140" y="1528" font-size="10.2">0.620</text>
<line x1="3130" y1="1587" x2="3136" y2="1587" stroke="#000" stroke-width="1.2"/>
<text x="3140" y="1590" font-size="10.2">-0.330</text>
<line x1="3130" y1="1648" x2="3136" y2="1648" stroke="#000" stroke-width="1.2"/>
<text x="3140" y="1652" font-size="10.2">-1.28</text>
<text x="3189" y="1369" font-size="19.4">E</text>
<path d="M3471,1370 V1577 M3522,1370 V1577 M3573,1370 V1577 M3624,1370 V1577 M3420,1393 H3676 M3420,1416 H3676 M3420,1439 H3676 M3420,1462 H3676 M3420,1485 H3676 M3420,1508 H3676 M3420,1531 H3676 M3420,1554 H3676" stroke="#ececec" stroke-width="0.6" fill="none"/>
<text x="3415" y="1384" font-size="9.1" class="e">Salivary secretion</text>
<ellipse cx="3445" cy="1381" rx="22.1" ry="7.4" fill="#3581ba" transform="rotate(19.2 3445 1381)"/>
<text x="3445" y="1388" font-size="14.1" class="n m">*</text>
<ellipse cx="3496" cy="1381" rx="22.1" ry="7.4" fill="#e94634" transform="rotate(-19.8 3496 1381)"/>
<text x="3496" y="1388" font-size="14.1" class="n m">*</text>
<ellipse cx="3548" cy="1381" rx="22.1" ry="8.6" fill="#fab296" transform="rotate(-8 3548 1381)"/>
<ellipse cx="3599" cy="1381" rx="22.1" ry="7" fill="#d82e28" transform="rotate(-23 3599 1381)"/>
<text x="3599" y="1388" font-size="14.1" class="n m">*</text>
<ellipse cx="3650" cy="1381" rx="22.1" ry="8.4" fill="#f9a589" transform="rotate(-9.6 3650 1381)"/>
<text x="3415" y="1407" font-size="9.1" class="e">Metabolism of xenobiotics by cytochrome P450</text>
<ellipse cx="3445" cy="1404" rx="22.1" ry="7.8" fill="#4393c3" transform="rotate(16 3445 1404)"/>
<text x="3445" y="1411" font-size="14.1" class="n m">*</text>
<ellipse cx="3496" cy="1404" rx="22.1" ry="9.1" fill="#fddbc7" transform="rotate(-3.2 3496 1404)"/>
<ellipse cx="3548" cy="1404" rx="22.1" ry="8.2" fill="#f89679" transform="rotate(-11.5 3548 1404)"/>
<ellipse cx="3599" cy="1404" rx="22.1" ry="8.2" fill="#f89679" transform="rotate(-11.5 3599 1404)"/>
<text x="3599" y="1411" font-size="14.1" class="n m">*</text>
<ellipse cx="3650" cy="1404" rx="22.1" ry="8.4" fill="#f9a589" transform="rotate(-9.6 3650 1404)"/>
<text x="3415" y="1430" font-size="9.1" class="e">Retinol metabolism</text>
<ellipse cx="3445" cy="1427" rx="22.1" ry="7.8" fill="#4393c3" transform="rotate(16 3445 1427)"/>
<text x="3445" y="1434" font-size="14.1" class="n m">*</text>
<ellipse cx="3496" cy="1427" rx="22.1" ry="9.1" fill="#fddbc7" transform="rotate(-3.2 3496 1427)"/>
<ellipse cx="3548" cy="1427" rx="22.1" ry="8" fill="#f68668" transform="rotate(-13.4 3548 1427)"/>
<text x="3548" y="1434" font-size="14.1" class="n m">*</text>
<ellipse cx="3599" cy="1427" rx="22.1" ry="8.1" fill="#f78c6e" transform="rotate(-12.8 3599 1427)"/>
<text x="3599" y="1434" font-size="14.1" class="n m">*</text>
<ellipse cx="3650" cy="1427" rx="22.1" ry="8.5" fill="#faad91" transform="rotate(-8.6 3650 1427)"/>
<text x="3415" y="1453" font-size="9.1" class="e">Chloroalkane and chloroalkene degradation</text>
<ellipse cx="3445" cy="1450" rx="22.1" ry="8.1" fill="#63a7ce" transform="rotate(12.8 3445 1450)"/>
<text x="3445" y="1457" font-size="14.1" class="n m">*</text>
<ellipse cx="3496" cy="1450" rx="22.1" ry="9" fill="#c9e1ee" transform="rotate(3.8 3496 1450)"/>
<ellipse cx="3548" cy="1450" rx="22.1" ry="8.5" fill="#f9aa8e" transform="rotate(-9 3548 1450)"/>
<ellipse cx="3599" cy="1450" rx="22.1" ry="8.4" fill="#f9a589" transform="rotate(-9.6 3599 1450)"/>
<ellipse cx="3650" cy="1450" rx="22.1" ry="8.3" fill="#f89e81" transform="rotate(-10.6 3650 1450)"/>
<text x="3415" y="1476" font-size="9.1" class="e">Phosphatidylinositol signaling system</text>
<ellipse cx="3445" cy="1473" rx="22.1" ry="8" fill="#5ca3cc" transform="rotate(13.4 3445 1473)"/>
<text x="3445" y="1480" font-size="14.1" class="n m">*</text>
<ellipse cx="3496" cy="1473" rx="22.1" ry="8.1" fill="#f78c6e" transform="rotate(-12.8 3496 1473)"/>
<text x="3496" y="1480" font-size="14.1" class="n m">*</text>
<ellipse cx="3548" cy="1473" rx="22.1" ry="8.5" fill="#faad91" transform="rotate(-8.6 3548 1473)"/>
<ellipse cx="3599" cy="1473" rx="22.1" ry="7.7" fill="#f2664b" transform="rotate(-16.6 3599 1473)"/>
<text x="3599" y="1480" font-size="14.1" class="n m">*</text>
<ellipse cx="3650" cy="1473" rx="22.1" ry="7.8" fill="#f46d50" transform="rotate(-16 3650 1473)"/>
<text x="3650" y="1480" font-size="14.1" class="n m">*</text>
<text x="3415" y="1499" font-size="9.1" class="e">Phosphonate and phosphinate metabolism</text>
<ellipse cx="3445" cy="1496" rx="22.1" ry="7.4" fill="#337db8" transform="rotate(19.8 3445 1496)"/>
<text x="3445" y="1503" font-size="14.1" class="n m">*</text>
<ellipse cx="3496" cy="1496" rx="22.1" ry="7.8" fill="#f46d50" transform="rotate(-16 3496 1496)"/>
<text x="3496" y="1503" font-size="14.1" class="n m">*</text>
<ellipse cx="3548" cy="1496" rx="22.1" ry="7.9" fill="#f67c5f" transform="rotate(-14.4 3548 1496)"/>
<text x="3548" y="1503" font-size="14.1" class="n m">*</text>
<ellipse cx="3599" cy="1496" rx="22.1" ry="7.7" fill="#f2664b" transform="rotate(-16.6 3599 1496)"/>
<text x="3599" y="1503" font-size="14.1" class="n m">*</text>
<ellipse cx="3650" cy="1496" rx="22.1" ry="8.1" fill="#f78c6e" transform="rotate(-12.8 3650 1496)"/>
<text x="3650" y="1503" font-size="14.1" class="n m">*</text>
<text x="3415" y="1522" font-size="9.1" class="e">Carbapenem biosynthesis</text>
<ellipse cx="3445" cy="1519" rx="22.1" ry="7.4" fill="#3581ba" transform="rotate(19.2 3445 1519)"/>
<text x="3445" y="1526" font-size="14.1" class="n m">*</text>
<ellipse cx="3496" cy="1519" rx="22.1" ry="7.8" fill="#f57356" transform="rotate(-15.4 3496 1519)"/>
<text x="3496" y="1526" font-size="14.1" class="n m">*</text>
<ellipse cx="3548" cy="1519" rx="22.1" ry="7.8" fill="#f57356" transform="rotate(-15.4 3548 1519)"/>
<text x="3548" y="1526" font-size="14.1" class="n m">*</text>
<ellipse cx="3599" cy="1519" rx="22.1" ry="8.1" fill="#f78c6e" transform="rotate(-12.8 3599 1519)"/>
<text x="3599" y="1526" font-size="14.1" class="n m">*</text>
<ellipse cx="3650" cy="1519" rx="22.1" ry="7.6" fill="#ee5942" transform="rotate(-17.9 3650 1519)"/>
<text x="3650" y="1526" font-size="14.1" class="n m">*</text>
<text x="3415" y="1545" font-size="9.1" class="e">Protein processing</text>
<ellipse cx="3445" cy="1542" rx="22.1" ry="7.4" fill="#337db8" transform="rotate(19.8 3445 1542)"/>
<text x="3445" y="1549" font-size="14.1" class="n m">*</text>
<ellipse cx="3496" cy="1542" rx="22.1" ry="8.5" fill="#faad91" transform="rotate(-8.6 3496 1542)"/>
<ellipse cx="3548" cy="1542" rx="22.1" ry="8.3" fill="#f8997b" transform="rotate(-11.2 3548 1542)"/>
<ellipse cx="3599" cy="1542" rx="22.1" ry="8.2" fill="#f79173" transform="rotate(-12.2 3599 1542)"/>
<text x="3599" y="1549" font-size="14.1" class="n m">*</text>
<ellipse cx="3650" cy="1542" rx="22.1" ry="7.2" fill="#e43a2c" transform="rotate(-21.1 3650 1542)"/>
<text x="3650" y="1549" font-size="14.1" class="n m">*</text>
<text x="3415" y="1568" font-size="9.1" class="e">Parkinson disease</text>
<ellipse cx="3445" cy="1565" rx="22.1" ry="7.7" fill="#408fc1" transform="rotate(16.6 3445 1565)"/>
<text x="3445" y="1572" font-size="14.1" class="n m">*</text>
<ellipse cx="3496" cy="1565" rx="22.1" ry="8.1" fill="#f78c6e" transform="rotate(-12.8 3496 1565)"/>
<text x="3496" y="1572" font-size="14.1" class="n m">*</text>
<ellipse cx="3548" cy="1565" rx="22.1" ry="8.5" fill="#faad91" transform="rotate(-8.6 3548 1565)"/>
<ellipse cx="3599" cy="1565" rx="22.1" ry="7.6" fill="#ee5942" transform="rotate(-17.9 3599 1565)"/>
<text x="3599" y="1572" font-size="14.1" class="n m">*</text>
<ellipse cx="3650" cy="1565" rx="22.1" ry="7.8" fill="#f57356" transform="rotate(-15.4 3650 1565)"/>
<text x="3650" y="1572" font-size="14.1" class="n m">*</text>
<rect x="3420" y="1370" width="256" height="207" fill="none" stroke="#000" stroke-width="1.2"/>
<rect x="3679" y="1370" width="13.9" height="207" fill="url(#cbE)" stroke="#000" stroke-width=".9"/>
<line x1="3693" y1="1370" x2="3697" y2="1370" stroke="#000" stroke-width=".9"/>
<text x="3700" y="1373" font-size="8.2">1.0</text>
<line x1="3693" y1="1391" x2="3697" y2="1391" stroke="#000" stroke-width=".9"/>
<text x="3700" y="1393" font-size="8.2">0.80</text>
<line x1="3693" y1="1411" x2="3697" y2="1411" stroke="#000" stroke-width=".9"/>
<text x="3700" y="1414" font-size="8.2">0.60</text>
<line x1="3693" y1="1432" x2="3697" y2="1432" stroke="#000" stroke-width=".9"/>
<text x="3700" y="1435" font-size="8.2">0.40</text>
<line x1="3693" y1="1453" x2="3697" y2="1453" stroke="#000" stroke-width=".9"/>
<text x="3700" y="1455" font-size="8.2">0.20</text>
<line x1="3693" y1="1473" x2="3697" y2="1473" stroke="#000" stroke-width=".9"/>
<text x="3700" y="1476" font-size="8.2">0.0</text>
<line x1="3693" y1="1494" x2="3697" y2="1494" stroke="#000" stroke-width=".9"/>
<text x="3700" y="1497" font-size="8.2">-0.20</text>
<line x1="3693" y1="1515" x2="3697" y2="1515" stroke="#000" stroke-width=".9"/>
<text x="3700" y="1517" font-size="8.2">-0.40</text>
<line x1="3693" y1="1535" x2="3697" y2="1535" stroke="#000" stroke-width=".9"/>
<text x="3700" y="1538" font-size="8.2">-0.60</text>
<line x1="3693" y1="1556" x2="3697" y2="1556" stroke="#000" stroke-width=".9"/>
<text x="3700" y="1559" font-size="8.2">-0.80</text>
<line x1="3693" y1="1577" x2="3697" y2="1577" stroke="#000" stroke-width=".9"/>
<text x="3700" y="1579" font-size="8.2">-1.0</text>
<text x="3454" y="1587" font-size="8.7" class="i e" transform="rotate(-50 3454 1587)">f-Marinifilaceae</text>
<text x="3505" y="1587" font-size="8.7" class="i e" transform="rotate(-50 3505 1587)">f-Tannerellaceae</text>
<text x="3557" y="1587" font-size="8.7" class="i e" transform="rotate(-50 3557 1587)">f-Ruminococcaceae</text>
<text x="3608" y="1587" font-size="8.7" class="i e" transform="rotate(-50 3608 1587)">f-Bacteroidaceae</text>
<text x="3659" y="1587" font-size="8.7" class="i e" transform="rotate(-50 3659 1587)">f-Desulfovibrionaceae</text>
<text x="3204" y="1658" font-size="7.8">* p&lt;=0.05</text>
<text x="3036" y="473" font-size="20.4">B</text>
<path d="M 3190 487 L 3314 467 L 3455 484 L 3337 510 Z M 3337 510 L 3335 716 M 3455 484 L 3448 657 M 3314 467 L 3314 612 L 3197 665 M 3314 612 L 3448 657" fill="none" stroke="#8a8a8a" stroke-width=".6"/>
<path d="M 3191 517 L 3314 491 L 3453 513 M 3192 546 L 3314 515 L 3452 542 M 3193 576 L 3314 539 L 3451 571 M 3194 606 L 3314 564 L 3450 600 M 3196 635 L 3314 588 L 3449 628" fill="none" stroke="#e2e2e2" stroke-width=".4"/>
<ellipse cx="3290" cy="578" rx="178" ry="11.9" fill="#f3a3a3" transform="rotate(-21.5 3290 578)" opacity="0.5"/>
<ellipse cx="3304" cy="564" rx="153" ry="42.6" fill="#8fd2a8" transform="rotate(-43 3304 564)" opacity="0.42"/>
<ellipse cx="3304" cy="603" rx="91" ry="140" fill="#6fa0ea" transform="rotate(-7 3304 603)" opacity="0.45"/>
<ellipse cx="3331" cy="544" rx="142" ry="17.6" fill="#cdb6f0" transform="rotate(-23 3331 544)" opacity="0.45"/>
<ellipse cx="3342" cy="566" rx="121" ry="42.6" fill="#e6c067" transform="rotate(-20 3342 566)" opacity="0.55"/>
<polyline points="3190,487 3197,665 3335,716 3448,657" fill="none" stroke="#000" stroke-width="1.4"/>
<path d="M3347,564h0M3352,561h0M3321,576h0" stroke="#5a5a5a" stroke-width="8" class="d"/><path d="M3345,562h0M3351,560h0M3319,575h0" stroke="#fff" stroke-opacity=".8" stroke-width="2" class="d"/>
<path d="M3225,575h0M3336,575h0M3301,586h0M3310,593h0M3321,590h0M3293,556h0" stroke="#ee3338" stroke-width="8" class="d"/><path d="M3223,573h0M3335,574h0M3300,584h0M3308,591h0M3320,589h0M3291,554h0" stroke="#fff" stroke-opacity=".8" stroke-width="2" class="d"/>
<path d="M3298,544h0M3306,571h0M3324,571h0M3315,579h0M3293,594h0" stroke="#1f6fe0" stroke-width="8" class="d"/><path d="M3296,542h0M3304,570h0M3323,569h0M3314,578h0M3292,593h0" stroke="#fff" stroke-opacity=".8" stroke-width="2" class="d"/>
<path d="M3212,598h0M3367,554h0M3290,592h0M3319,597h0M3264,571h0M3288,566h0" stroke="#2fae6b" stroke-width="8" class="d"/><path d="M3210,597h0M3366,553h0M3289,591h0M3318,596h0M3263,569h0M3287,565h0" stroke="#fff" stroke-opacity=".8" stroke-width="2" class="d"/>
<path d="M3281,542h0M3311,541h0M3325,562h0M3297,556h0" stroke="#aa66e6" stroke-width="8" class="d"/><path d="M3279,540h0M3310,540h0M3324,561h0M3296,555h0" stroke="#fff" stroke-opacity=".8" stroke-width="2" class="d"/>
<path d="M3267,574h0M3286,568h0M3313,562h0M3294,599h0M3307,598h0M3314,586h0" stroke="#dfa315" stroke-width="8" class="d"/><path d="M3266,573h0M3285,566h0M3311,560h0M3293,598h0M3306,597h0M3313,585h0" stroke="#fff" stroke-opacity=".8" stroke-width="2" class="d"/>
<text x="3267" y="536" font-size="5.7" fill="#333">MBHgS-3</text>
<text x="3298" y="536" font-size="5.7" fill="#333">MBHgS-4</text>
<text x="3215" y="569" font-size="5.7" fill="#333">Model-2</text>
<text x="3198" y="591" font-size="5.7" fill="#333">LBHgS-5</text>
<text x="3355" y="548" font-size="5.7" fill="#333">LBHgS-2</text>
<text x="3252" y="565" font-size="5.7" fill="#333">LBHgS-1</text>
<text x="3286" y="538" font-size="5.7" fill="#333">SER-5</text>
<text x="3283" y="550" font-size="5.7" fill="#333">Model-1</text>
<text x="3256" y="569" font-size="5.7" fill="#333">HBHgS-5</text>
<text x="3330" y="569" font-size="5.7" fill="#333">Model-3</text>
<text x="3314" y="583" font-size="5.7" fill="#333">Model-4</text>
<text x="3279" y="586" font-size="5.7" fill="#333">LBHgS-4</text>
<text x="3315" y="592" font-size="5.7" fill="#333">SER-6</text>
<text x="3315" y="556" font-size="5.7" fill="#333">MBHgS-5</text>
<text x="3341" y="556" font-size="5.7" fill="#333">Control-4</text>
<text x="3297" y="566" font-size="5.7" fill="#333">SER-3</text>
<text x="3274" y="561" font-size="5.7" fill="#333">HBHgS-1</text>
<text x="3291" y="580" font-size="5.7" fill="#333">Model-6</text>
<text x="3281" y="592" font-size="5.7" fill="#333">HBHgS-2</text>
<text x="3185" y="491" font-size="6.8" class="e">6</text>
<text x="3185" y="518" font-size="6.8" class="e">4</text>
<text x="3185" y="546" font-size="6.8" class="e">2</text>
<text x="3185" y="574" font-size="6.8" class="e">0</text>
<text x="3185" y="602" font-size="6.8" class="e">-2</text>
<text x="3185" y="630" font-size="6.8" class="e">-4</text>
<text x="3185" y="657" font-size="6.8" class="e">-6</text>
<text x="3170" y="583" font-size="16.2" class="m" transform="rotate(90 3170 583)">PC3 (3.5%)</text>
<text x="3239" y="700" font-size="13.4" class="i m" transform="rotate(20 3239 700)">PC1 (3.8%)</text>
<text x="3419" y="694" font-size="12.8" class="m" transform="rotate(-28 3419 694)">PC2 (3.7%)</text>
<text x="3202" y="675" font-size="4.3" class="m" transform="rotate(20 3202 675)">-3</text>
<text x="3219" y="681" font-size="4.3" class="m" transform="rotate(20 3219 681)">-2</text>
<text x="3236" y="687" font-size="4.3" class="m" transform="rotate(20 3236 687)">-1</text>
<text x="3253" y="693" font-size="4.3" class="m" transform="rotate(20 3253 693)">0</text>
<text x="3270" y="699" font-size="4.3" class="m" transform="rotate(20 3270 699)">1</text>
<text x="3288" y="706" font-size="4.3" class="m" transform="rotate(20 3288 706)">2</text>
<text x="3307" y="712" font-size="4.3" class="m" transform="rotate(20 3307 712)">3</text>
<text x="3328" y="719" font-size="4.3" class="m" transform="rotate(20 3328 719)">4</text>
<rect x="3467" y="482" width="185" height="153" fill="#fff" stroke="#000" stroke-width="1.1"/>
<circle cx="3481" cy="490" r="5.1" fill="url(#gd0)"/>
<text x="3495" y="493" font-size="9.7">Control</text>
<rect x="3470" y="560" width="21.9" height="11.4" fill="#e6e6e6"/>
<text x="3495" y="569" font-size="9.7">95% Confidence Ellipse for Control</text>
<circle cx="3481" cy="502" r="5.1" fill="url(#gd1)"/>
<text x="3495" y="506" font-size="9.7">Model</text>
<rect x="3470" y="572" width="21.9" height="11.4" fill="#fbdcdc"/>
<text x="3495" y="582" font-size="9.7">95% Confidence Ellipse for Model</text>
<circle cx="3481" cy="515" r="5.1" fill="url(#gd2)"/>
<text x="3495" y="518" font-size="9.7">SER</text>
<rect x="3470" y="585" width="21.9" height="11.4" fill="#dbe8f8"/>
<text x="3495" y="594" font-size="9.7">95% Confidence Ellipse for SER</text>
<circle cx="3481" cy="527" r="5.1" fill="url(#gd3)"/>
<text x="3495" y="531" font-size="9.7">LBHgS</text>
<rect x="3470" y="598" width="21.9" height="11.4" fill="#dbeede"/>
<text x="3495" y="607" font-size="9.7">95% Confidence Ellipse for LBHgS</text>
<circle cx="3481" cy="540" r="5.1" fill="url(#gd4)"/>
<text x="3495" y="543" font-size="9.7">MBHgS</text>
<rect x="3470" y="610" width="21.9" height="11.4" fill="#ede4f5"/>
<text x="3495" y="619" font-size="9.7">95% Confidence Ellipse for MBHgS</text>
<circle cx="3481" cy="553" r="5.1" fill="url(#gd5)"/>
<text x="3495" y="556" font-size="9.7">HBHgS</text>
<rect x="3470" y="623" width="21.9" height="11.4" fill="#f5ebcf"/>
<text x="3495" y="632" font-size="9.7">95% Confidence Ellipse for HBHgS</text>
<g transform="translate(2480 440) scale(0.33265)"><path d="M715,325 C600,320 520,390 400,380 C300,372 220,330 130,350" stroke="#c9b8a8" stroke-width="4" fill="none"/><path d="M715,318 C600,314 520,382 400,374 C300,366 220,326 130,348 C220,338 300,380 400,388 C520,396 600,334 715,340Z" fill="#e9d9c9" stroke="#8a7a6a" stroke-width="1.5"/><path d="M715,340 C720,230 820,130 1000,112 C1150,105 1250,180 1310,215 L1325,178 Q1345,175 1358,215 C1400,260 1430,330 1445,372 Q1440,392 1400,385 C1350,390 1300,380 1240,385 L1130,390 L1000,392 L880,390 C820,385 760,380 715,340Z" fill="#f3f3f3" stroke="#222" stroke-width="2.5"/><path d="M915,205 C1000,195 1040,250 1045,330" stroke="#333" stroke-width="2" fill="none"/><ellipse cx="1225" cy="255" rx="36" ry="40" fill="#e0e4ea" stroke="#333" stroke-width="2" transform="rotate(-25 1225 255)"/><ellipse cx="1330" cy="318" rx="14" ry="11" fill="#222"/><path d="M1420,365 L1525,288 M1420,370 L1530,320 M1400,385 L1340,450 M1405,388 L1370,455" stroke="#888" stroke-width="1.5" fill="none"/><path d="M885,392 Q900,375 1020,382 L1020,395Z M1130,392 Q1150,378 1225,385 L1222,396Z" fill="#ead8c8" stroke="#8a7a6a" stroke-width="1.5"/><path d="M775,265 C800,240 840,245 862,255 C870,300 870,340 868,375 C840,385 800,375 770,360" stroke="#ee5f7a" stroke-width="26" fill="none" stroke-linecap="round"/><circle cx="750" cy="318" r="26" fill="#ee5f7a"/><circle cx="755" cy="320" r="40" fill="none" stroke="#000" stroke-width="7" stroke-dasharray="18 9"/><path d="M733,412 V510" stroke="#000" stroke-width="17"/><path d="M701,473 L733,527 L765,473" stroke="#000" stroke-width="17" fill="none" stroke-linecap="round" stroke-linejoin="miter"/><path d="M505,792 V890" stroke="#000" stroke-width="17"/><path d="M473,853 L505,907 L537,853" stroke="#000" stroke-width="17" fill="none" stroke-linecap="round" stroke-linejoin="miter"/><ellipse cx="378" cy="478" rx="48" ry="24" fill="#f4f9fd" stroke="#3a7cc0" stroke-width="3" transform="rotate(28 378 478)"/><ellipse cx="385" cy="480" rx="28" ry="13" fill="none" stroke="#3a7cc0" stroke-width="3" transform="rotate(28 385 480)"/><path d="M415,510 L455,528" stroke="#3a7cc0" stroke-width="10"/><path d="M458,530 L462,640 C470,690 482,725 492,738 Q503,745 514,738 C528,715 538,670 543,640 L547,530 Z" fill="#f6fafd" stroke="#3a7cc0" stroke-width="3"/><ellipse cx="503" cy="527" rx="46" ry="9" fill="#fff" stroke="#3a7cc0" stroke-width="3"/><ellipse cx="518" cy="610" rx="20" ry="30" fill="#f6d774" opacity="0.85"/><ellipse cx="490" cy="690" rx="20" ry="22" fill="#f6d774" opacity="0.8"/><path d="M470,568 h50 M480,590 h35 M470,612 h50 M480,634 h35 M470,656 h50 M480,680 h35 M475,702 h40" stroke="#3a7cc0" stroke-width="2"/><rect x="699" y="568" width="105" height="48" rx="24" fill="url(#gPel)" transform="rotate(-18 752 592)"/><rect x="769" y="580" width="118" height="50" rx="25" fill="url(#gPel)" transform="rotate(72 828 605)"/><rect x="725" y="622" width="100" height="46" rx="23" fill="url(#gPel)" transform="rotate(-40 775 645)"/><path d="M183,965 L268,962 L695,968 L693,1208 L268,1240 L183,1165 Z" fill="#fdfdfd" stroke="#555" stroke-width="2"/><path d="M183,965 L268,962 L268,1240 L183,1165Z" fill="#e4e4e4" stroke="#555" stroke-width="2"/><rect x="268" y="962" width="188" height="245" fill="#3b3b3b"/><rect x="275" y="1092" width="98" height="112" fill="#2a3844"/><rect x="458" y="1000" width="222" height="36" rx="8" fill="#fff" stroke="#999" stroke-width="2"/><rect x="458" y="1040" width="222" height="36" rx="8" fill="#fff" stroke="#999" stroke-width="2"/><path d="M170,965 Q165,1020 172,1075 L192,1070 L192,960Z" fill="#333"/><rect x="205" y="1000" width="50" height="55" fill="#bdbdbd" stroke="#555" stroke-width="2"/><rect x="228" y="1185" width="28" height="18" rx="6" fill="#666"/><rect x="795" y="975" width="293" height="198" fill="#444"/><rect x="806" y="986" width="271" height="176" fill="url(#gMon)"/><rect x="928" y="1173" width="27" height="22" fill="#777"/><rect x="878" y="1188" width="125" height="27" rx="8" fill="#3a3a3a"/></g>
<text x="2799" y="649" font-size="23.2" fill="#ff0000">Collect intestinal contents</text>
<text x="2588" y="899" font-size="23.1" fill="#ff0000">16S rRNA analysis</text></g>
<g id="p3"><text x="3767" y="111" font-size="30.4" class="a">A</text>
<text x="3978" y="171" font-size="31.1">Cladogram</text>
<rect x="3785" y="134" width="23.4" height="7.6" fill="#ff0000"/>
<text x="3814" y="142" font-size="12.4">Control</text>
<rect x="3785" y="151" width="23.4" height="7.6" fill="#00ffff"/>
<text x="3814" y="159" font-size="12.4">Model</text>
<rect x="3785" y="168" width="23.4" height="7.6" fill="#0000ff"/>
<text x="3814" y="176" font-size="12.4">β-HgS</text>
<rect x="3785" y="185" width="23.4" height="7.6" fill="#8000d0"/>
<text x="3814" y="193" font-size="12.4">IMI</text>
<rect x="3785" y="202" width="23.4" height="7.6" fill="#ff3399"/>
<text x="3814" y="210" font-size="12.4">SER</text>
<rect x="3785" y="219" width="23.4" height="7.6" fill="#00ff00"/>
<text x="3814" y="227" font-size="12.4">IMI+β-HgS</text>
<rect x="3785" y="236" width="23.4" height="7.6" fill="#808080"/>
<text x="3814" y="243" font-size="12.4">SER+β-HgS</text>
<rect x="4226" y="188" width="15.2" height="5.3" fill="#ff0000" stroke="#222" stroke-width=".6"/>
<text x="4247" y="193" font-size="9.3" class="i">a: g-Corynebacterium</text>
<rect x="4226" y="198" width="15.2" height="5.3" fill="#ff3399" stroke="#222" stroke-width=".6"/>
<text x="4247" y="204" font-size="9.3" class="i">b: g-Renibacterium</text>
<rect x="4226" y="209" width="15.2" height="5.3" fill="#8000d0" stroke="#222" stroke-width=".6"/>
<text x="4247" y="215" font-size="9.3" class="i">c: g-DNF00809</text>
<rect x="4226" y="220" width="15.2" height="5.3" fill="#ff3399" stroke="#222" stroke-width=".6"/>
<text x="4247" y="225" font-size="9.3" class="i">d: g-Bacteroides</text>
<rect x="4226" y="230" width="15.2" height="5.3" fill="#ff3399" stroke="#222" stroke-width=".6"/>
<text x="4247" y="236" font-size="9.3" class="i">e: g-Muribaculum</text>
<rect x="4226" y="241" width="15.2" height="5.3" fill="#ff3399" stroke="#222" stroke-width=".6"/>
<text x="4247" y="247" font-size="9.3" class="i">f: g-Rikenella</text>
<rect x="4226" y="252" width="15.2" height="5.3" fill="#8000d0" stroke="#222" stroke-width=".6"/>
<text x="4247" y="257" font-size="9.3" class="i">g: g-Rikenellaceae RC9 gut group</text>
<rect x="4226" y="262" width="15.2" height="5.3" fill="#808080" stroke="#222" stroke-width=".6"/>
<text x="4247" y="268" font-size="9.3" class="i">h: g-Chlamydia</text>
<rect x="4226" y="273" width="15.2" height="5.3" fill="#808080" stroke="#222" stroke-width=".6"/>
<text x="4247" y="279" font-size="9.3" class="i">i: g-Family IIIAD3011 group</text>
<rect x="4226" y="284" width="15.2" height="5.3" fill="#00e8e8" stroke="#222" stroke-width=".6"/>
<text x="4247" y="289" font-size="9.3" class="i">j: g-Coprococcus2</text>
<rect x="4226" y="295" width="15.2" height="5.3" fill="#ff0000" stroke="#222" stroke-width=".6"/>
<text x="4247" y="300" font-size="9.3" class="i">k: g-Papillibacter</text>
<rect x="4226" y="305" width="15.2" height="5.3" fill="#0000ff" stroke="#222" stroke-width=".6"/>
<text x="4247" y="311" font-size="9.3" class="i">l: g-Ruminiclostridium5</text>
<rect x="4226" y="316" width="15.2" height="5.3" fill="#808080" stroke="#222" stroke-width=".6"/>
<text x="4247" y="321" font-size="9.3" class="i">m: g-Ruminococcaceae UCG-003</text>
<rect x="4226" y="327" width="15.2" height="5.3" fill="#00ff00" stroke="#222" stroke-width=".6"/>
<text x="4247" y="332" font-size="9.3" class="i">n: g-Ruminococcaceae UCG-004</text>
<rect x="4226" y="337" width="15.2" height="5.3" fill="#808080" stroke="#222" stroke-width=".6"/>
<text x="4247" y="343" font-size="9.3" class="i">o: g-Ruminococcaceae UCG-010</text>
<rect x="4226" y="348" width="15.2" height="5.3" fill="#808080" stroke="#222" stroke-width=".6"/>
<text x="4247" y="354" font-size="9.3" class="i">p: g-Ruminococcus1</text>
<rect x="4226" y="359" width="15.2" height="5.3" fill="#00e8e8" stroke="#222" stroke-width=".6"/>
<text x="4247" y="364" font-size="9.3" class="i">q: g-UBA1819</text>
<rect x="4226" y="369" width="15.2" height="5.3" fill="#ff0000" stroke="#222" stroke-width=".6"/>
<text x="4247" y="375" font-size="9.3" class="i">r: g-Allobaculum</text>
<rect x="4226" y="380" width="15.2" height="5.3" fill="#ff0000" stroke="#222" stroke-width=".6"/>
<text x="4247" y="386" font-size="9.3" class="i">s: g-Dubosiella</text>
<rect x="4226" y="391" width="15.2" height="5.3" fill="#ff0000" stroke="#222" stroke-width=".6"/>
<text x="4247" y="396" font-size="9.3" class="i">t: g-Erysipelatoclostridium</text>
<rect x="4226" y="401" width="15.2" height="5.3" fill="#ff0000" stroke="#222" stroke-width=".6"/>
<text x="4247" y="407" font-size="9.3" class="i">u: g-Holdemania</text>
<rect x="4226" y="412" width="15.2" height="5.3" fill="#00ff00" stroke="#222" stroke-width=".6"/>
<text x="4247" y="418" font-size="9.3" class="i">v: g-Turicibacter</text>
<rect x="4226" y="423" width="15.2" height="5.3" fill="#ff0000" stroke="#222" stroke-width=".6"/>
<text x="4247" y="428" font-size="9.3" class="i">w: g-Devosia</text>
<rect x="4226" y="434" width="15.2" height="5.3" fill="#00e8e8" stroke="#222" stroke-width=".6"/>
<text x="4247" y="439" font-size="9.3" class="i">x: g-Bilophila</text>
<rect x="4226" y="444" width="15.2" height="5.3" fill="#ff0000" stroke="#222" stroke-width=".6"/>
<text x="4247" y="450" font-size="9.3" class="i">y: g-Parasutterella</text>
<rect x="4226" y="455" width="15.2" height="5.3" fill="#8000d0" stroke="#222" stroke-width=".6"/>
<text x="4247" y="460" font-size="9.3" class="i">z: g-Ureaplasma</text>
<g transform="translate(3740 60) scale(0.29272)"><path d="M1400,965L1548,965M1470,983L1548,986M1468,1000L1546,1007M1467,1018L1544,1028M1395,1023L1541,1049M1460,1052L1537,1069M1389,1051L1531,1090M1380,1079L1519,1130M1439,1119L1511,1149M1369,1105L1503,1168M1424,1151L1493,1187M1416,1166L1483,1206M1440,1203L1472,1223M1386,1210L1448,1258M1375,1224L1435,1274M1393,1264L1421,1290M1351,1249L1406,1305M1339,1261L1391,1319M1281,1219L1375,1333M1297,1294L1342,1358M1283,1304L1324,1370M1233,1252L1306,1381M1252,1321L1287,1391M1207,1265L1269,1400M1220,1336L1249,1408M1217,1380L1230,1416M1166,1281L1210,1422M1170,1352L1189,1428M1153,1356L1169,1433M1095,1294L1107,1442M1084,1405L1086,1443M1066,1365L1065,1443M1048,1364L1044,1442M1027,1403L1023,1441M1013,1361L1002,1438M996,1358L981,1435M981,1283L940,1425M945,1345L920,1419M953,1274L900,1412M912,1332L881,1404M896,1325L862,1395M880,1317L843,1386M901,1248L825,1375M889,1241L807,1364M836,1289L790,1352M865,1224L773,1340M808,1267L757,1326M783,1243L726,1297M771,1230L712,1282M759,1217L699,1266M716,1227L686,1249M738,1189L674,1232M729,1174L662,1215M712,1143L642,1178M660,1126L625,1139M654,1107L618,1120M753,1058L611,1100M682,1061L606,1079M678,1044L601,1059M675,1026L598,1038M672,1009L595,1017M671,991L593,996M630,975L592,976M740,958L592,954M741,943L593,934M672,921L595,913M675,904L598,892M678,886L601,871M686,852L611,830M698,819L625,791M668,787L633,771M775,818L642,752M720,771L652,734M789,793L662,715M738,741L674,698M748,727L686,681M759,713L699,664M771,700L712,648M783,687L726,633M843,725L741,618M782,632L757,604M865,706L773,590M836,641L790,578M850,631L807,566M865,622L825,555M880,613L843,544M896,605L862,535M896,561L881,526M928,591L900,518M967,652L920,511M995,644L961,500M988,533L981,495M1023,638L1002,492M1031,567L1023,489M1048,566L1044,488M1066,565L1065,487M1083,565L1086,487M1095,636L1107,488M1118,568L1128,490M1136,570L1148,493M1153,574L1169,497M1152,645L1189,502M1187,582L1210,508M1180,654L1230,514M1220,594L1249,522M1236,601L1269,530M1287,582L1306,549M1245,685L1324,560M1297,636L1342,572M1311,646L1359,584M1281,711L1375,597M1339,669L1391,611M1302,730L1406,625M1312,741L1421,640M1375,706L1435,656M1386,720L1448,672M1340,775L1460,689M1407,749L1472,707M1416,764L1483,724M1362,812L1493,743M1468,778L1503,762M1375,838L1511,781M1446,827L1519,800M1451,844L1526,820M1456,861L1531,840M1392,893L1537,861M1464,895L1541,881M1467,912L1544,902M1468,930L1546,923M1470,947L1548,944" stroke="#111" stroke-width="2.6" fill="none"/><path d="M951,858L825,744M954,755L876,615M955,854L897,799M1161,1187L1194,1271M1226,999L1392,1036M1398,1004L1467,1013M860,849L720,772M883,815L758,714M1080,1125L1085,1205M1294,879L1378,847M1203,1055L1343,1150M1129,1114L1191,1272M1196,867L1330,762M1236,1250L1271,1311M1132,733L1174,579M913,936L834,921M984,1189L926,1338M799,1154L742,1194M1082,1295L1084,1365M1177,653L1199,586M1213,893L1284,856M983,831L940,763M1280,1081L1359,1125M1208,1161L1301,1292M1201,662L1229,598M836,912L680,876M913,994L745,1025M1208,1162L1259,1235M973,1093L871,1228M968,842L917,780M1193,863L1255,812M952,756L908,678M831,947L741,941M968,1088L859,1219M1219,1023L1294,1052M932,883L786,797M969,747L901,602M1157,1099L1201,1166M1087,1124L1106,1293M837,907L682,869M1146,1193L1174,1278M1024,638L1014,569M928,1039L777,1118M1182,753L1224,673M910,962L740,959M882,816L811,760M910,965L990,965" stroke="#111" stroke-width="2.5" fill="none"/><path d="M1228,993A160,160 0 1 1 1229,951" stroke="#000" stroke-width="7" fill="none"/><path d="M1152,1191A240,240 0 1 1 1070,725" stroke="#000" stroke-width="6" fill="none"/><path d="M1152,739A240,240 0 0 1 1254,1119" stroke="#000" stroke-width="6" fill="none"/><path d="M1041,1294A330,330 0 0 1 817,1177" stroke="#000" stroke-width="6" fill="none"/><path d="M760,1078A330,330 0 0 1 1155,646" stroke="#000" stroke-width="5" fill="none"/><path d="M1235,679A330,330 0 0 1 1127,1290" stroke="#000" stroke-width="5" fill="none"/><path d="M1001,1359A400,400 0 0 1 672,1000" stroke="#000" stroke-width="5" fill="none"/><path d="M672,930A400,400 0 0 1 1014,569" stroke="#000" stroke-width="5" fill="none"/><path d="M1084,565A400,400 0 0 1 1464,896" stroke="#000" stroke-width="5" fill="none"/><path d="M1470,965A400,400 0 0 1 1070,1365" stroke="#000" stroke-width="5" fill="none"/><polygon points="705,802 612,834 666,713" fill="#111"/><polygon points="671,944 594,982 599,899" fill="#111"/><polygon points="691,1092 629,1143 610,1088" fill="#111"/><polygon points="1236,601 1248,524 1286,541" fill="#111"/><polygon points="1245,1325 1293,1385 1264,1400" fill="#111"/><polygon points="867,620 818,561 839,549" fill="#111"/><polygon points="1428,1143 1501,1166 1490,1188" fill="#111"/><polygon points="1025,1362 1029,1439 1004,1436" fill="#111"/><polygon points="1374,705 1424,646 1440,665" fill="#111"/><circle cx="1070" cy="965" r="478" fill="none" stroke="#5a5a08" stroke-width="15" stroke-dasharray="0 21.003" stroke-linecap="round"/><circle cx="1070" cy="965" r="478" fill="none" stroke="#c8c020" stroke-width="13" stroke-dasharray="0 21.003" stroke-linecap="round"/><circle cx="1070" cy="965" r="440" fill="none" stroke="#5a5a08" stroke-width="14" stroke-dasharray="0 31" stroke-linecap="round"/><circle cx="1070" cy="965" r="440" fill="none" stroke="#c8c020" stroke-width="12" stroke-dasharray="0 31" stroke-linecap="round"/><circle cx="1070" cy="965" r="400" fill="none" stroke="#5a5a08" stroke-width="18" stroke-dasharray="0 47" stroke-linecap="round"/><circle cx="1070" cy="965" r="400" fill="none" stroke="#c8c020" stroke-width="16" stroke-dasharray="0 47" stroke-linecap="round"/><circle cx="1070" cy="965" r="330" fill="none" stroke="#5a5a08" stroke-width="22" stroke-dasharray="0 83" stroke-linecap="round"/><circle cx="1070" cy="965" r="330" fill="none" stroke="#c8c020" stroke-width="20" stroke-dasharray="0 83" stroke-linecap="round"/><circle cx="1070" cy="965" r="240" fill="none" stroke="#5a5a08" stroke-width="26" stroke-dasharray="0 117" stroke-linecap="round"/><circle cx="1070" cy="965" r="240" fill="none" stroke="#c8c020" stroke-width="24" stroke-dasharray="0 117" stroke-linecap="round"/><circle cx="1070" cy="965" r="160" fill="none" stroke="#5a5a08" stroke-width="28" stroke-dasharray="0 141" stroke-linecap="round"/><circle cx="1070" cy="965" r="160" fill="none" stroke="#c8c020" stroke-width="26" stroke-dasharray="0 141" stroke-linecap="round"/><circle cx="990" cy="965" r="15" fill="#c8c020" stroke="#5a5a08" stroke-width="2"/><circle cx="1280" cy="635" r="14" fill="#ff0000" stroke="#222" stroke-width="2"/><circle cx="1310" cy="655" r="11" fill="#ff3399" stroke="#222" stroke-width="2"/><circle cx="1357" cy="592" r="11" fill="#ff3399" stroke="#222" stroke-width="2"/><circle cx="1323" cy="568" r="10" fill="#ff3399" stroke="#222" stroke-width="2"/><circle cx="1483" cy="728" r="10" fill="#ff3399" stroke="#222" stroke-width="2"/><circle cx="1415" cy="767" r="10" fill="#ff3399" stroke="#222" stroke-width="2"/><circle cx="1350" cy="810" r="10" fill="#ff3399" stroke="#222" stroke-width="2"/><circle cx="798" cy="680" r="10" fill="#ff3399" stroke="#222" stroke-width="2"/><circle cx="833" cy="652" r="8" fill="#ff0000" stroke="#222" stroke-width="2"/><circle cx="710" cy="660" r="9" fill="#808080" stroke="#222" stroke-width="2"/><circle cx="672" cy="990" r="13" fill="#808080" stroke="#222" stroke-width="2"/><circle cx="593" cy="993" r="11" fill="#0000ff" stroke="#222" stroke-width="2"/><circle cx="592" cy="972" r="7" fill="#ff0000" stroke="#222" stroke-width="2"/><circle cx="597" cy="1025" r="7" fill="#00ff00" stroke="#222" stroke-width="2"/><circle cx="600" cy="1046" r="10" fill="#808080" stroke="#222" stroke-width="2"/><circle cx="605" cy="1066" r="10" fill="#808080" stroke="#222" stroke-width="2"/><circle cx="608" cy="1085" r="7" fill="#00e8e8" stroke="#222" stroke-width="2"/><circle cx="617" cy="1110" r="9" fill="#ff0000" stroke="#222" stroke-width="2"/><circle cx="628" cy="1140" r="11" fill="#ff0000" stroke="#222" stroke-width="2"/><circle cx="637" cy="1158" r="6" fill="#00ff00" stroke="#222" stroke-width="2"/><circle cx="1235" cy="1230" r="13" fill="#ff3399" stroke="#222" stroke-width="2"/><circle cx="1260" cy="1305" r="11" fill="#ff3399" stroke="#222" stroke-width="2"/><circle cx="1297" cy="1373" r="10" fill="#ff0000" stroke="#222" stroke-width="2"/><circle cx="1178" cy="1417" r="9" fill="#00e8e8" stroke="#222" stroke-width="2"/><circle cx="1375" cy="1058" r="7" fill="#ff0000" stroke="#222" stroke-width="2"/><circle cx="1230" cy="945" r="6" fill="#ff3399" stroke="#222" stroke-width="2"/><circle cx="1110" cy="503" r="9" fill="#808080" stroke="#222" stroke-width="2"/><circle cx="1104" cy="578" r="8" fill="#808080" stroke="#222" stroke-width="2"/><circle cx="1098" cy="655" r="8" fill="#808080" stroke="#222" stroke-width="2"/><circle cx="1092" cy="733" r="8" fill="#808080" stroke="#222" stroke-width="2"/><circle cx="1085" cy="810" r="10" fill="#808080" stroke="#222" stroke-width="2"/><circle cx="1415" cy="640" r="6" fill="#8000d0" stroke="#222" stroke-width="2"/><circle cx="1535" cy="1078" r="6" fill="#8000d0" stroke="#222" stroke-width="2"/><circle cx="1520" cy="803" r="6" fill="#ff0000" stroke="#222" stroke-width="2"/><path d="M1357,592 L1310,655 M1483,728 L1415,767" stroke="#ff3399" stroke-width="8"/><path d="M1010,1348 L996,1422" stroke="#ff0000" stroke-width="12"/><path d="M1110,503 L1085,810" stroke="#808080" stroke-width="9"/><rect x="1115" y="440" width="30" height="60" fill="#ddd" transform="rotate(5 1130 470)"/><rect x="1252" y="480" width="26" height="50" fill="#e8c8f8" transform="rotate(25 1265 505)"/><rect x="1326" y="517" width="28" height="55" fill="#ffd0e0" transform="rotate(30 1340 545)"/><rect x="1371" y="547" width="28" height="55" fill="#ffd0e0" transform="rotate(35 1385 575)"/><rect x="1431" y="600" width="28" height="55" fill="#e8c8f8" transform="rotate(50 1445 628)"/><rect x="1501" y="687" width="28" height="55" fill="#ffd0e0" transform="rotate(62 1515 715)"/><rect x="1536" y="772" width="28" height="55" fill="#ffc8c8" transform="rotate(75 1550 800)"/><rect x="1551" y="1057" width="28" height="55" fill="#e8c8f8" transform="rotate(100 1565 1085)"/><rect x="1296" y="1365" width="28" height="60" fill="#ffc8c8" transform="rotate(-20 1310 1395)"/><rect x="1166" y="1410" width="28" height="60" fill="#c8f8f8" transform="rotate(0 1180 1440)"/><rect x="976" y="1415" width="28" height="60" fill="#ffc8c8" transform="rotate(5 990 1445)"/><rect x="535" y="964" width="50" height="22" fill="#ffc8c8" transform="rotate(0 560 975)"/><rect x="535" y="984" width="50" height="22" fill="#c8c8ff" transform="rotate(0 560 995)"/><rect x="540" y="1014" width="50" height="22" fill="#c8f8c8" transform="rotate(0 565 1025)"/><rect x="543" y="1039" width="50" height="22" fill="#e0e0e0" transform="rotate(0 568 1050)"/><rect x="545" y="1061" width="50" height="22" fill="#e0e0e0" transform="rotate(0 570 1072)"/><rect x="555" y="1081" width="50" height="22" fill="#c8f8f8" transform="rotate(0 580 1092)"/><rect x="560" y="1103" width="50" height="24" fill="#ffc8c8" transform="rotate(15 585 1115)"/><rect x="570" y="1138" width="50" height="24" fill="#ffc8c8" transform="rotate(20 595 1150)"/><rect x="615" y="689" width="50" height="22" fill="#c8f8f8" transform="rotate(-40 640 700)"/><rect x="665" y="624" width="50" height="22" fill="#e0e0e0" transform="rotate(-50 690 635)"/></g>
<text x="4420" y="111" font-size="27.6" class="a">B</text>
<rect x="4461" y="127" width="99" height="114" fill="#fff" stroke="#000" stroke-width="1.5"/>
<rect x="4463" y="130" width="27.8" height="12.9" fill="url(#gl0)" stroke="#111" stroke-width=".9"/>
<text x="4494" y="140" font-size="11.7">SER+β-HgS</text>
<rect x="4463" y="146" width="27.8" height="12.9" fill="url(#gl1)" stroke="#111" stroke-width=".9"/>
<text x="4494" y="156" font-size="11.7">IMI+β-HgS</text>
<rect x="4463" y="161" width="27.8" height="12.9" fill="url(#gl2)" stroke="#111" stroke-width=".9"/>
<text x="4494" y="172" font-size="11.7">SER</text>
<rect x="4463" y="177" width="27.8" height="12.9" fill="url(#gl3)" stroke="#111" stroke-width=".9"/>
<text x="4494" y="188" font-size="11.7">IMI</text>
<rect x="4463" y="193" width="27.8" height="12.9" fill="url(#gl4)" stroke="#111" stroke-width=".9"/>
<text x="4494" y="204" font-size="11.7">β-HgS</text>
<rect x="4463" y="209" width="27.8" height="12.9" fill="url(#gl5)" stroke="#111" stroke-width=".9"/>
<text x="4494" y="220" font-size="11.7">Model</text>
<rect x="4463" y="225" width="27.8" height="12.9" fill="url(#gl6)" stroke="#111" stroke-width=".9"/>
<text x="4494" y="236" font-size="11.7">Control</text>
<rect x="4737" y="155" width="242" height="279" fill="#f7f7f7"/>
<path d="M4737,154 H4980 M4737,165 H4980 M4737,176 H4980 M4737,186 H4980 M4737,197 H4980 M4737,208 H4980 M4737,219 H4980 M4737,229 H4980 M4737,240 H4980 M4737,251 H4980 M4737,262 H4980 M4737,272 H4980 M4737,283 H4980 M4737,294 H4980 M4737,304 H4980 M4737,315 H4980 M4737,326 H4980 M4737,337 H4980 M4737,347 H4980 M4737,358 H4980 M4737,369 H4980 M4737,380 H4980 M4737,390 H4980 M4737,401 H4980 M4737,412 H4980 M4737,422 H4980 M4737,433 H4980" stroke="#e4e4e4" stroke-width="0.8" fill="none"/>
<rect x="4737" y="156" width="111" height="7" fill="url(#gl0)" stroke="#000" stroke-width=".9"/>
<text x="4732" y="163" font-size="10.5" class="i e">g-Chlamydia</text>
<rect x="4737" y="167" width="115" height="7" fill="url(#gl0)" stroke="#000" stroke-width=".9"/>
<text x="4732" y="174" font-size="10.5" class="i e">g-Family XIIIAD3011 group</text>
<rect x="4737" y="177" width="170" height="7" fill="url(#gl0)" stroke="#000" stroke-width=".9"/>
<text x="4732" y="184" font-size="10.5" class="i e">g-Ruminococcaceae UCG-010</text>
<rect x="4737" y="188" width="183" height="7" fill="url(#gl0)" stroke="#000" stroke-width=".9"/>
<text x="4732" y="195" font-size="10.5" class="i e">g-Ruminococcus1</text>
<rect x="4737" y="199" width="132" height="7" fill="url(#gl0)" stroke="#000" stroke-width=".9"/>
<text x="4732" y="206" font-size="10.5" class="i e">g-Ruminococcaceae UCG-003</text>
<rect x="4737" y="210" width="120" height="7" fill="url(#gl1)" stroke="#000" stroke-width=".9"/>
<text x="4732" y="217" font-size="10.5" class="i e">g-Turicibacter</text>
<rect x="4737" y="220" width="107" height="7" fill="url(#gl1)" stroke="#000" stroke-width=".9"/>
<text x="4732" y="227" font-size="10.5" class="i e">g-Ruminococcaceae UCG-004</text>
<rect x="4737" y="231" width="201" height="7" fill="url(#gl2)" stroke="#000" stroke-width=".9"/>
<text x="4732" y="238" font-size="10.5" class="i e">g-Bacteroides</text>
<rect x="4737" y="242" width="174" height="7" fill="url(#gl2)" stroke="#000" stroke-width=".9"/>
<text x="4732" y="249" font-size="10.5" class="i e">g-Rikenella</text>
<rect x="4737" y="253" width="162" height="7" fill="url(#gl2)" stroke="#000" stroke-width=".9"/>
<text x="4732" y="260" font-size="10.5" class="i e">g-Muribaculum</text>
<rect x="4737" y="263" width="173" height="7" fill="url(#gl2)" stroke="#000" stroke-width=".9"/>
<text x="4732" y="270" font-size="10.5" class="i e">g-Renibacterium</text>
<rect x="4737" y="274" width="196" height="7" fill="url(#gl3)" stroke="#000" stroke-width=".9"/>
<text x="4732" y="281" font-size="10.5" class="i e">g-Rikenellaceae RC9 gut group</text>
<rect x="4737" y="285" width="116" height="7" fill="url(#gl3)" stroke="#000" stroke-width=".9"/>
<text x="4732" y="292" font-size="10.5" class="i e">g-DNF00809</text>
<rect x="4737" y="295" width="131" height="7" fill="url(#gl3)" stroke="#000" stroke-width=".9"/>
<text x="4732" y="302" font-size="10.5" class="i e">g-Ureaplasma</text>
<rect x="4737" y="306" width="170" height="7" fill="url(#gl4)" stroke="#000" stroke-width=".9"/>
<text x="4732" y="313" font-size="10.5" class="i e">g-Ruminiclostridium5</text>
<rect x="4737" y="317" width="128" height="7" fill="url(#gl5)" stroke="#000" stroke-width=".9"/>
<text x="4732" y="324" font-size="10.5" class="i e">g-Bilophila</text>
<rect x="4737" y="328" width="112" height="7" fill="url(#gl5)" stroke="#000" stroke-width=".9"/>
<text x="4732" y="335" font-size="10.5" class="i e">g-Coprococcus2</text>
<rect x="4737" y="338" width="105" height="7" fill="url(#gl5)" stroke="#000" stroke-width=".9"/>
<text x="4732" y="345" font-size="10.5" class="i e">g-UBA1819</text>
<rect x="4737" y="349" width="123" height="7" fill="url(#gl6)" stroke="#000" stroke-width=".9"/>
<text x="4732" y="356" font-size="10.5" class="i e">g-Papillibacter</text>
<rect x="4737" y="360" width="106" height="7" fill="url(#gl6)" stroke="#000" stroke-width=".9"/>
<text x="4732" y="367" font-size="10.5" class="i e">g-Holdemania</text>
<rect x="4737" y="371" width="160" height="7" fill="url(#gl6)" stroke="#000" stroke-width=".9"/>
<text x="4732" y="378" font-size="10.5" class="i e">g-Parasutterella</text>
<rect x="4737" y="381" width="153" height="7" fill="url(#gl6)" stroke="#000" stroke-width=".9"/>
<text x="4732" y="388" font-size="10.5" class="i e">g-Erysipelatoclostridium</text>
<rect x="4737" y="392" width="145" height="7" fill="url(#gl6)" stroke="#000" stroke-width=".9"/>
<text x="4732" y="399" font-size="10.5" class="i e">g-Corynebacterium</text>
<rect x="4737" y="403" width="108" height="7" fill="url(#gl6)" stroke="#000" stroke-width=".9"/>
<text x="4732" y="410" font-size="10.5" class="i e">g-Dubosiella</text>
<rect x="4737" y="413" width="145" height="7" fill="url(#gl6)" stroke="#000" stroke-width=".9"/>
<text x="4732" y="420" font-size="10.5" class="i e">g-Devosia</text>
<rect x="4737" y="424" width="120" height="7" fill="url(#gl6)" stroke="#000" stroke-width=".9"/>
<text x="4732" y="431" font-size="10.5" class="i e">g-Allobaculum</text>
<path d="M 4882 155 L 4882 434 M 4931 155 L 4931 434" fill="none" stroke="#000" stroke-width="1.5" stroke-dasharray="10 6"/>
<rect x="4737" y="155" width="242" height="279" fill="none" stroke="#000" stroke-width="1.2"/>
<line x1="4737" y1="434" x2="4737" y2="439" stroke="#000" stroke-width="1.2"/>
<text x="4737" y="456" font-size="14" class="m">0</text>
<line x1="4786" y1="434" x2="4786" y2="439" stroke="#000" stroke-width="1.2"/>
<text x="4786" y="456" font-size="14" class="m">1</text>
<line x1="4834" y1="434" x2="4834" y2="439" stroke="#000" stroke-width="1.2"/>
<text x="4834" y="456" font-size="14" class="m">2</text>
<line x1="4883" y1="434" x2="4883" y2="439" stroke="#000" stroke-width="1.2"/>
<text x="4883" y="456" font-size="14" class="m">3</text>
<line x1="4931" y1="434" x2="4931" y2="439" stroke="#000" stroke-width="1.2"/>
<text x="4931" y="456" font-size="14" class="m">4</text>
<line x1="4980" y1="434" x2="4980" y2="439" stroke="#000" stroke-width="1.2"/>
<text x="4980" y="456" font-size="14" class="m">5</text>
<text x="4858" y="480" font-size="18.1" class="m">LDA Score (log 10)</text>
<text x="3768" y="624" font-size="27" class="a">C</text>
<text x="4139" y="638" font-size="19.6">PICRUSt2 one-level pathway annotation result</text>
<rect x="4019" y="699" width="591" height="218" fill="#000"/>
<path d="M4020,700h7.9v34.5h-7.9zM4029,700h7.9v34.5h-7.9zM4047,700h7.9v34.5h-7.9zM4020,737h7.9v34.5h-7.9zM4038,737h7.9v34.5h-7.9zM4020,773h7.9v34.5h-7.9zM4029,773h7.9v34.5h-7.9zM4047,773h7.9v34.5h-7.9zM4020,809h7.9v34.5h-7.9zM4047,809h7.9v34.5h-7.9zM4020,845h7.9v34.5h-7.9zM4029,845h7.9v34.5h-7.9zM4038,845h7.9v34.5h-7.9zM4020,882h7.9v34.5h-7.9zM4029,882h7.9v34.5h-7.9zM4038,882h7.9v34.5h-7.9z" fill="#00ff00"/>
<path d="M4038,700h7.9v34.5h-7.9zM4056,700h7.9v34.5h-7.9zM4065,700h7.9v34.5h-7.9zM4074,700h7.9v34.5h-7.9zM4083,700h7.9v34.5h-7.9zM4092,700h7.9v34.5h-7.9zM4102,700h7.9v34.5h-7.9zM4111,700h7.9v34.5h-7.9zM4138,700h7.9v34.5h-7.9zM4238,700h7.9v34.5h-7.9zM4320,700h7.9v34.5h-7.9zM4029,737h7.9v34.5h-7.9zM4047,737h7.9v34.5h-7.9zM4056,737h7.9v34.5h-7.9zM4065,737h7.9v34.5h-7.9zM4074,737h7.9v34.5h-7.9zM4083,737h7.9v34.5h-7.9zM4092,737h7.9v34.5h-7.9zM4111,737h7.9v34.5h-7.9zM4120,737h7.9v34.5h-7.9zM4138,737h7.9v34.5h-7.9zM4183,737h7.9v34.5h-7.9zM4192,737h7.9v34.5h-7.9zM4202,737h7.9v34.5h-7.9zM4211,737h7.9v34.5h-7.9zM4229,737h7.9v34.5h-7.9zM4238,737h7.9v34.5h-7.9zM4247,737h7.9v34.5h-7.9zM4256,737h7.9v34.5h-7.9zM4293,737h7.9v34.5h-7.9zM4038,773h7.9v34.5h-7.9zM4056,773h7.9v34.5h-7.9zM4065,773h7.9v34.5h-7.9zM4074,773h7.9v34.5h-7.9zM4092,773h7.9v34.5h-7.9zM4102,773h7.9v34.5h-7.9zM4111,773h7.9v34.5h-7.9zM4156,773h7.9v34.5h-7.9zM4165,773h7.9v34.5h-7.9zM4274,773h7.9v34.5h-7.9zM4029,809h7.9v34.5h-7.9zM4038,809h7.9v34.5h-7.9zM4074,809h7.9v34.5h-7.9zM4083,809h7.9v34.5h-7.9zM4092,809h7.9v34.5h-7.9zM4102,809h7.9v34.5h-7.9zM4111,809h7.9v34.5h-7.9zM4120,809h7.9v34.5h-7.9zM4138,809h7.9v34.5h-7.9zM4183,809h7.9v34.5h-7.9zM4192,809h7.9v34.5h-7.9zM4202,809h7.9v34.5h-7.9zM4220,809h7.9v34.5h-7.9zM4229,809h7.9v34.5h-7.9zM4238,809h7.9v34.5h-7.9zM4293,809h7.9v34.5h-7.9zM4047,845h7.9v34.5h-7.9zM4056,845h7.9v34.5h-7.9zM4065,845h7.9v34.5h-7.9zM4074,845h7.9v34.5h-7.9zM4083,845h7.9v34.5h-7.9zM4092,845h7.9v34.5h-7.9zM4102,845h7.9v34.5h-7.9zM4111,845h7.9v34.5h-7.9zM4129,845h7.9v34.5h-7.9zM4220,845h7.9v34.5h-7.9zM4238,845h7.9v34.5h-7.9zM4247,845h7.9v34.5h-7.9zM4265,845h7.9v34.5h-7.9zM4274,845h7.9v34.5h-7.9zM4293,845h7.9v34.5h-7.9zM4302,845h7.9v34.5h-7.9zM4329,845h7.9v34.5h-7.9zM4338,845h7.9v34.5h-7.9zM4356,845h7.9v34.5h-7.9zM4047,882h7.9v34.5h-7.9zM4056,882h7.9v34.5h-7.9zM4065,882h7.9v34.5h-7.9zM4074,882h7.9v34.5h-7.9zM4083,882h7.9v34.5h-7.9zM4102,882h7.9v34.5h-7.9zM4111,882h7.9v34.5h-7.9zM4147,882h7.9v34.5h-7.9zM4220,882h7.9v34.5h-7.9zM4238,882h7.9v34.5h-7.9zM4256,882h7.9v34.5h-7.9zM4265,882h7.9v34.5h-7.9zM4274,882h7.9v34.5h-7.9zM4302,882h7.9v34.5h-7.9zM4311,882h7.9v34.5h-7.9zM4320,882h7.9v34.5h-7.9zM4329,882h7.9v34.5h-7.9zM4356,882h7.9v34.5h-7.9z" fill="#00a000"/>
<path d="M4120,700h7.9v34.5h-7.9zM4129,700h7.9v34.5h-7.9zM4147,700h7.9v34.5h-7.9zM4156,700h7.9v34.5h-7.9zM4165,700h7.9v34.5h-7.9zM4174,700h7.9v34.5h-7.9zM4183,700h7.9v34.5h-7.9zM4192,700h7.9v34.5h-7.9zM4202,700h7.9v34.5h-7.9zM4211,700h7.9v34.5h-7.9zM4220,700h7.9v34.5h-7.9zM4229,700h7.9v34.5h-7.9zM4247,700h7.9v34.5h-7.9zM4256,700h7.9v34.5h-7.9zM4265,700h7.9v34.5h-7.9zM4274,700h7.9v34.5h-7.9zM4283,700h7.9v34.5h-7.9zM4293,700h7.9v34.5h-7.9zM4302,700h7.9v34.5h-7.9zM4311,700h7.9v34.5h-7.9zM4329,700h7.9v34.5h-7.9zM4338,700h7.9v34.5h-7.9zM4347,700h7.9v34.5h-7.9zM4356,700h7.9v34.5h-7.9zM4374,700h7.9v34.5h-7.9zM4383,700h7.9v34.5h-7.9zM4474,700h7.9v34.5h-7.9zM4547,700h7.9v34.5h-7.9zM4556,700h7.9v34.5h-7.9zM4575,700h7.9v34.5h-7.9zM4102,737h7.9v34.5h-7.9zM4129,737h7.9v34.5h-7.9zM4147,737h7.9v34.5h-7.9zM4156,737h7.9v34.5h-7.9zM4165,737h7.9v34.5h-7.9zM4174,737h7.9v34.5h-7.9zM4220,737h7.9v34.5h-7.9zM4265,737h7.9v34.5h-7.9zM4274,737h7.9v34.5h-7.9zM4283,737h7.9v34.5h-7.9zM4302,737h7.9v34.5h-7.9zM4311,737h7.9v34.5h-7.9zM4320,737h7.9v34.5h-7.9zM4329,737h7.9v34.5h-7.9zM4338,737h7.9v34.5h-7.9zM4347,737h7.9v34.5h-7.9zM4356,737h7.9v34.5h-7.9zM4374,737h7.9v34.5h-7.9zM4383,737h7.9v34.5h-7.9zM4538,737h7.9v34.5h-7.9zM4565,737h7.9v34.5h-7.9zM4575,737h7.9v34.5h-7.9zM4083,773h7.9v34.5h-7.9zM4120,773h7.9v34.5h-7.9zM4129,773h7.9v34.5h-7.9zM4138,773h7.9v34.5h-7.9zM4147,773h7.9v34.5h-7.9zM4174,773h7.9v34.5h-7.9zM4183,773h7.9v34.5h-7.9zM4192,773h7.9v34.5h-7.9zM4202,773h7.9v34.5h-7.9zM4211,773h7.9v34.5h-7.9zM4220,773h7.9v34.5h-7.9zM4229,773h7.9v34.5h-7.9zM4238,773h7.9v34.5h-7.9zM4247,773h7.9v34.5h-7.9zM4256,773h7.9v34.5h-7.9zM4265,773h7.9v34.5h-7.9zM4283,773h7.9v34.5h-7.9zM4293,773h7.9v34.5h-7.9zM4302,773h7.9v34.5h-7.9zM4311,773h7.9v34.5h-7.9zM4320,773h7.9v34.5h-7.9zM4329,773h7.9v34.5h-7.9zM4338,773h7.9v34.5h-7.9zM4347,773h7.9v34.5h-7.9zM4356,773h7.9v34.5h-7.9zM4365,773h7.9v34.5h-7.9zM4374,773h7.9v34.5h-7.9zM4383,773h7.9v34.5h-7.9zM4465,773h7.9v34.5h-7.9zM4538,773h7.9v34.5h-7.9zM4556,773h7.9v34.5h-7.9zM4056,809h7.9v34.5h-7.9zM4065,809h7.9v34.5h-7.9zM4129,809h7.9v34.5h-7.9zM4147,809h7.9v34.5h-7.9zM4156,809h7.9v34.5h-7.9zM4165,809h7.9v34.5h-7.9zM4174,809h7.9v34.5h-7.9zM4211,809h7.9v34.5h-7.9zM4247,809h7.9v34.5h-7.9zM4256,809h7.9v34.5h-7.9zM4265,809h7.9v34.5h-7.9zM4274,809h7.9v34.5h-7.9zM4283,809h7.9v34.5h-7.9zM4302,809h7.9v34.5h-7.9zM4311,809h7.9v34.5h-7.9zM4320,809h7.9v34.5h-7.9zM4329,809h7.9v34.5h-7.9zM4338,809h7.9v34.5h-7.9zM4347,809h7.9v34.5h-7.9zM4356,809h7.9v34.5h-7.9zM4374,809h7.9v34.5h-7.9zM4383,809h7.9v34.5h-7.9zM4393,809h7.9v34.5h-7.9zM4502,809h7.9v34.5h-7.9zM4511,809h7.9v34.5h-7.9zM4556,809h7.9v34.5h-7.9zM4120,845h7.9v34.5h-7.9zM4138,845h7.9v34.5h-7.9zM4147,845h7.9v34.5h-7.9zM4156,845h7.9v34.5h-7.9zM4165,845h7.9v34.5h-7.9zM4174,845h7.9v34.5h-7.9zM4183,845h7.9v34.5h-7.9zM4192,845h7.9v34.5h-7.9zM4202,845h7.9v34.5h-7.9zM4211,845h7.9v34.5h-7.9zM4229,845h7.9v34.5h-7.9zM4256,845h7.9v34.5h-7.9zM4283,845h7.9v34.5h-7.9zM4311,845h7.9v34.5h-7.9zM4320,845h7.9v34.5h-7.9zM4347,845h7.9v34.5h-7.9zM4374,845h7.9v34.5h-7.9zM4393,845h7.9v34.5h-7.9zM4474,845h7.9v34.5h-7.9zM4092,882h7.9v34.5h-7.9zM4120,882h7.9v34.5h-7.9zM4129,882h7.9v34.5h-7.9zM4138,882h7.9v34.5h-7.9zM4156,882h7.9v34.5h-7.9zM4165,882h7.9v34.5h-7.9zM4174,882h7.9v34.5h-7.9zM4183,882h7.9v34.5h-7.9zM4192,882h7.9v34.5h-7.9zM4202,882h7.9v34.5h-7.9zM4211,882h7.9v34.5h-7.9zM4229,882h7.9v34.5h-7.9zM4247,882h7.9v34.5h-7.9zM4283,882h7.9v34.5h-7.9zM4293,882h7.9v34.5h-7.9zM4338,882h7.9v34.5h-7.9zM4347,882h7.9v34.5h-7.9zM4502,882h7.9v34.5h-7.9zM4584,882h7.9v34.5h-7.9z" fill="#003300"/>
<path d="M4365,700h7.9v34.5h-7.9zM4393,700h7.9v34.5h-7.9zM4438,700h7.9v34.5h-7.9zM4465,700h7.9v34.5h-7.9zM4484,700h7.9v34.5h-7.9zM4493,700h7.9v34.5h-7.9zM4502,700h7.9v34.5h-7.9zM4511,700h7.9v34.5h-7.9zM4520,700h7.9v34.5h-7.9zM4529,700h7.9v34.5h-7.9zM4538,700h7.9v34.5h-7.9zM4565,700h7.9v34.5h-7.9zM4584,700h7.9v34.5h-7.9zM4365,737h7.9v34.5h-7.9zM4393,737h7.9v34.5h-7.9zM4429,737h7.9v34.5h-7.9zM4465,737h7.9v34.5h-7.9zM4474,737h7.9v34.5h-7.9zM4484,737h7.9v34.5h-7.9zM4493,737h7.9v34.5h-7.9zM4502,737h7.9v34.5h-7.9zM4511,737h7.9v34.5h-7.9zM4520,737h7.9v34.5h-7.9zM4529,737h7.9v34.5h-7.9zM4547,737h7.9v34.5h-7.9zM4556,737h7.9v34.5h-7.9zM4584,737h7.9v34.5h-7.9zM4393,773h7.9v34.5h-7.9zM4420,773h7.9v34.5h-7.9zM4429,773h7.9v34.5h-7.9zM4456,773h7.9v34.5h-7.9zM4474,773h7.9v34.5h-7.9zM4484,773h7.9v34.5h-7.9zM4493,773h7.9v34.5h-7.9zM4502,773h7.9v34.5h-7.9zM4511,773h7.9v34.5h-7.9zM4520,773h7.9v34.5h-7.9zM4529,773h7.9v34.5h-7.9zM4547,773h7.9v34.5h-7.9zM4565,773h7.9v34.5h-7.9zM4575,773h7.9v34.5h-7.9zM4584,773h7.9v34.5h-7.9zM4365,809h7.9v34.5h-7.9zM4429,809h7.9v34.5h-7.9zM4438,809h7.9v34.5h-7.9zM4465,809h7.9v34.5h-7.9zM4474,809h7.9v34.5h-7.9zM4484,809h7.9v34.5h-7.9zM4493,809h7.9v34.5h-7.9zM4520,809h7.9v34.5h-7.9zM4529,809h7.9v34.5h-7.9zM4538,809h7.9v34.5h-7.9zM4547,809h7.9v34.5h-7.9zM4565,809h7.9v34.5h-7.9zM4575,809h7.9v34.5h-7.9zM4584,809h7.9v34.5h-7.9zM4365,845h7.9v34.5h-7.9zM4383,845h7.9v34.5h-7.9zM4429,845h7.9v34.5h-7.9zM4465,845h7.9v34.5h-7.9zM4484,845h7.9v34.5h-7.9zM4493,845h7.9v34.5h-7.9zM4502,845h7.9v34.5h-7.9zM4511,845h7.9v34.5h-7.9zM4520,845h7.9v34.5h-7.9zM4529,845h7.9v34.5h-7.9zM4538,845h7.9v34.5h-7.9zM4547,845h7.9v34.5h-7.9zM4556,845h7.9v34.5h-7.9zM4565,845h7.9v34.5h-7.9zM4575,845h7.9v34.5h-7.9zM4584,845h7.9v34.5h-7.9zM4365,882h7.9v34.5h-7.9zM4374,882h7.9v34.5h-7.9zM4383,882h7.9v34.5h-7.9zM4393,882h7.9v34.5h-7.9zM4402,882h7.9v34.5h-7.9zM4465,882h7.9v34.5h-7.9zM4474,882h7.9v34.5h-7.9zM4484,882h7.9v34.5h-7.9zM4493,882h7.9v34.5h-7.9zM4511,882h7.9v34.5h-7.9zM4520,882h7.9v34.5h-7.9zM4529,882h7.9v34.5h-7.9zM4538,882h7.9v34.5h-7.9zM4547,882h7.9v34.5h-7.9zM4556,882h7.9v34.5h-7.9zM4565,882h7.9v34.5h-7.9zM4575,882h7.9v34.5h-7.9z" fill="#330000"/>
<path d="M4402,700h7.9v34.5h-7.9zM4456,700h7.9v34.5h-7.9zM4593,700h7.9v34.5h-7.9zM4593,737h7.9v34.5h-7.9zM4602,737h7.9v34.5h-7.9zM4593,773h7.9v34.5h-7.9zM4602,773h7.9v34.5h-7.9zM4602,809h7.9v34.5h-7.9zM4438,845h7.9v34.5h-7.9zM4593,845h7.9v34.5h-7.9zM4602,845h7.9v34.5h-7.9zM4447,882h7.9v34.5h-7.9zM4593,882h7.9v34.5h-7.9zM4602,882h7.9v34.5h-7.9z" fill="#ff0000"/>
<path d="M4411,700h7.9v34.5h-7.9zM4420,700h7.9v34.5h-7.9zM4429,700h7.9v34.5h-7.9zM4447,700h7.9v34.5h-7.9zM4602,700h7.9v34.5h-7.9zM4402,737h7.9v34.5h-7.9zM4411,737h7.9v34.5h-7.9zM4420,737h7.9v34.5h-7.9zM4438,737h7.9v34.5h-7.9zM4447,737h7.9v34.5h-7.9zM4456,737h7.9v34.5h-7.9zM4402,773h7.9v34.5h-7.9zM4411,773h7.9v34.5h-7.9zM4438,773h7.9v34.5h-7.9zM4447,773h7.9v34.5h-7.9zM4402,809h7.9v34.5h-7.9zM4411,809h7.9v34.5h-7.9zM4420,809h7.9v34.5h-7.9zM4447,809h7.9v34.5h-7.9zM4456,809h7.9v34.5h-7.9zM4593,809h7.9v34.5h-7.9zM4402,845h7.9v34.5h-7.9zM4411,845h7.9v34.5h-7.9zM4420,845h7.9v34.5h-7.9zM4447,845h7.9v34.5h-7.9zM4456,845h7.9v34.5h-7.9zM4411,882h7.9v34.5h-7.9zM4420,882h7.9v34.5h-7.9zM4429,882h7.9v34.5h-7.9zM4438,882h7.9v34.5h-7.9zM4456,882h7.9v34.5h-7.9z" fill="#b00000"/>
<text x="4616" y="722" font-size="13.1">Human Diseases</text>
<text x="4616" y="758" font-size="13.1">Organismal Systems</text>
<text x="4616" y="794" font-size="13.1">Metabolism</text>
<text x="4616" y="831" font-size="13.1">Genetic Information Processing</text>
<text x="4616" y="867" font-size="13.1">Environmental Information Processing</text>
<text x="4616" y="903" font-size="13.1">Cellular Processes</text>
<text x="4028" y="921" font-size="11.2" class="e" transform="rotate(-90 4028 921)">Control 1</text>
<text x="4037" y="921" font-size="11.2" class="e" transform="rotate(-90 4037 921)">Model 10</text>
<text x="4046" y="921" font-size="11.2" class="e" transform="rotate(-90 4046 921)">SER+β-HgS 6</text>
<text x="4055" y="921" font-size="11.2" class="e" transform="rotate(-90 4055 921)">IMI+β-HgS 2</text>
<text x="4064" y="921" font-size="11.2" class="e" transform="rotate(-90 4064 921)">Control 2</text>
<text x="4073" y="921" font-size="11.2" class="e" transform="rotate(-90 4073 921)">Model 4</text>
<text x="4082" y="921" font-size="11.2" class="e" transform="rotate(-90 4082 921)">SER+β-HgS 9</text>
<text x="4091" y="921" font-size="11.2" class="e" transform="rotate(-90 4091 921)">β-HgS 7</text>
<text x="4100" y="921" font-size="11.2" class="e" transform="rotate(-90 4100 921)">IMI 6</text>
<text x="4109" y="921" font-size="11.2" class="e" transform="rotate(-90 4109 921)">β-HgS 4</text>
<text x="4118" y="921" font-size="11.2" class="e" transform="rotate(-90 4118 921)">Model 3</text>
<text x="4128" y="921" font-size="11.2" class="e" transform="rotate(-90 4128 921)">Control 3</text>
<text x="4137" y="921" font-size="11.2" class="e" transform="rotate(-90 4137 921)">SER 5</text>
<text x="4146" y="921" font-size="11.2" class="e" transform="rotate(-90 4146 921)">Control 4</text>
<text x="4155" y="921" font-size="11.2" class="e" transform="rotate(-90 4155 921)">Control 8</text>
<text x="4164" y="921" font-size="11.2" class="e" transform="rotate(-90 4164 921)">Model 8</text>
<text x="4173" y="921" font-size="11.2" class="e" transform="rotate(-90 4173 921)">SER+β-HgS 2</text>
<text x="4182" y="921" font-size="11.2" class="e" transform="rotate(-90 4182 921)">SER+β-HgS 1</text>
<text x="4191" y="921" font-size="11.2" class="e" transform="rotate(-90 4191 921)">Control 5</text>
<text x="4200" y="921" font-size="11.2" class="e" transform="rotate(-90 4200 921)">β-HgS 2</text>
<text x="4209" y="921" font-size="11.2" class="e" transform="rotate(-90 4209 921)">Control 9</text>
<text x="4219" y="921" font-size="11.2" class="e" transform="rotate(-90 4219 921)">Model 7</text>
<text x="4228" y="921" font-size="11.2" class="e" transform="rotate(-90 4228 921)">IMI 7</text>
<text x="4237" y="921" font-size="11.2" class="e" transform="rotate(-90 4237 921)">IMI+β-HgS 3</text>
<text x="4246" y="921" font-size="11.2" class="e" transform="rotate(-90 4246 921)">SER+β-HgS 4</text>
<text x="4255" y="921" font-size="11.2" class="e" transform="rotate(-90 4255 921)">Control 10</text>
<text x="4264" y="921" font-size="11.2" class="e" transform="rotate(-90 4264 921)">Model 2</text>
<text x="4273" y="921" font-size="11.2" class="e" transform="rotate(-90 4273 921)">Model 6</text>
<text x="4282" y="921" font-size="11.2" class="e" transform="rotate(-90 4282 921)">β-HgS 3</text>
<text x="4291" y="921" font-size="11.2" class="e" transform="rotate(-90 4291 921)">SER+β-HgS 5</text>
<text x="4300" y="921" font-size="11.2" class="e" transform="rotate(-90 4300 921)">Model 5</text>
<text x="4309" y="921" font-size="11.2" class="e" transform="rotate(-90 4309 921)">SER 3</text>
<text x="4319" y="921" font-size="11.2" class="e" transform="rotate(-90 4319 921)">SER 10</text>
<text x="4328" y="921" font-size="11.2" class="e" transform="rotate(-90 4328 921)">SER+β-HgS 8</text>
<text x="4337" y="921" font-size="11.2" class="e" transform="rotate(-90 4337 921)">IMI+β-HgS 8</text>
<text x="4346" y="921" font-size="11.2" class="e" transform="rotate(-90 4346 921)">SER 8</text>
<text x="4355" y="921" font-size="11.2" class="e" transform="rotate(-90 4355 921)">SER+β-HgS 3</text>
<text x="4364" y="921" font-size="11.2" class="e" transform="rotate(-90 4364 921)">β-HgS 5</text>
<text x="4373" y="921" font-size="11.2" class="e" transform="rotate(-90 4373 921)">β-HgS 9</text>
<text x="4382" y="921" font-size="11.2" class="e" transform="rotate(-90 4382 921)">IMI 1</text>
<text x="4391" y="921" font-size="11.2" class="e" transform="rotate(-90 4391 921)">SER 1</text>
<text x="4400" y="921" font-size="11.2" class="e" transform="rotate(-90 4400 921)">SER+β-HgS 10</text>
<text x="4410" y="921" font-size="11.2" class="e" transform="rotate(-90 4410 921)">Control 7</text>
<text x="4419" y="921" font-size="11.2" class="e" transform="rotate(-90 4419 921)">Model 9</text>
<text x="4428" y="921" font-size="11.2" class="e" transform="rotate(-90 4428 921)">IMI+β-HgS 5</text>
<text x="4437" y="921" font-size="11.2" class="e" transform="rotate(-90 4437 921)">β-HgS 10</text>
<text x="4446" y="921" font-size="11.2" class="e" transform="rotate(-90 4446 921)">β-HgS 8</text>
<text x="4455" y="921" font-size="11.2" class="e" transform="rotate(-90 4455 921)">β-HgS 1</text>
<text x="4464" y="921" font-size="11.2" class="e" transform="rotate(-90 4464 921)">IMI 3</text>
<text x="4473" y="921" font-size="11.2" class="e" transform="rotate(-90 4473 921)">SER 7</text>
<text x="4482" y="921" font-size="11.2" class="e" transform="rotate(-90 4482 921)">IMI+β-HgS 1</text>
<text x="4491" y="921" font-size="11.2" class="e" transform="rotate(-90 4491 921)">β-HgS 6</text>
<text x="4500" y="921" font-size="11.2" class="e" transform="rotate(-90 4500 921)">SER 6</text>
<text x="4510" y="921" font-size="11.2" class="e" transform="rotate(-90 4510 921)">IMI 2</text>
<text x="4519" y="921" font-size="11.2" class="e" transform="rotate(-90 4519 921)">SER 9</text>
<text x="4528" y="921" font-size="11.2" class="e" transform="rotate(-90 4528 921)">SER+β-HgS 7</text>
<text x="4537" y="921" font-size="11.2" class="e" transform="rotate(-90 4537 921)">IMI 4</text>
<text x="4546" y="921" font-size="11.2" class="e" transform="rotate(-90 4546 921)">IMI+β-HgS 4</text>
<text x="4555" y="921" font-size="11.2" class="e" transform="rotate(-90 4555 921)">IMI+β-HgS 6</text>
<text x="4564" y="921" font-size="11.2" class="e" transform="rotate(-90 4564 921)">IMI+β-HgS 7</text>
<text x="4573" y="921" font-size="11.2" class="e" transform="rotate(-90 4573 921)">IMI 5</text>
<text x="4582" y="921" font-size="11.2" class="e" transform="rotate(-90 4582 921)">SER 4</text>
<text x="4591" y="921" font-size="11.2" class="e" transform="rotate(-90 4591 921)">SER 2</text>
<text x="4601" y="921" font-size="11.2" class="e" transform="rotate(-90 4601 921)">Control 6</text>
<text x="4610" y="921" font-size="11.2" class="e" transform="rotate(-90 4610 921)">Model 1</text>
<path d="M 4330 687 L 4330 660 L 4601 660 L 4601 699" fill="none" stroke="#000" stroke-width="1.5"/>
<path d="M 4035 699 L 4035 691 L 4315 691 L 4315 699 M 4173 691 L 4173 686 L 4486 686 L 4486 693 M 4410 699 L 4410 697 L 4541 697 L 4541 693 L 4422 693 L 4422 699 M 4103 699 L 4103 697 L 4242 697 L 4242 699 M 4242 696 L 4388 696 L 4388 699 M 4025 699 L 4025 696 L 4044 696 L 4044 699 M 4461 699 L 4461 697 L 4580 697 L 4580 699" fill="none" stroke="#ff0000" stroke-width="1.2"/>
<path d="M 4019 718 L 3984 718 L 3984 781 L 3993 781 M 4019 754 L 3993 754 L 3993 809 L 4003 809 M 4019 790 L 4003 790 L 4003 827 L 4019 827" fill="none" stroke="#00ff00" stroke-width="1.5"/>
<path d="M 4019 862 L 3998 862 L 3998 899 L 4019 899" fill="none" stroke="#ff0000" stroke-width="1.5"/>
<path d="M 3984 749 L 3910 749 L 3910 880 L 3998 880" fill="none" stroke="#000" stroke-width="1.5"/>
<rect x="4820" y="659" width="32.1" height="19.7" fill="#ff0000"/>
<rect x="4820" y="679" width="32.1" height="19.7" fill="#bb0000"/>
<rect x="4820" y="698" width="32.1" height="19.7" fill="#440000"/>
<rect x="4820" y="718" width="32.1" height="19.7" fill="#003300"/>
<rect x="4820" y="737" width="32.1" height="19.7" fill="#009900"/>
<rect x="4820" y="757" width="32.1" height="19.7" fill="#00ff00"/>
<rect x="4820" y="659" width="32.1" height="117" fill="none" stroke="#000" stroke-width="1.5"/>
<line x1="4852" y1="666" x2="4858" y2="666" stroke="#000" stroke-width="1.5"/>
<text x="4862" y="670" font-size="12.2">3.00</text>
<line x1="4852" y1="685" x2="4858" y2="685" stroke="#000" stroke-width="1.5"/>
<text x="4862" y="690" font-size="12.2">2.00</text>
<line x1="4852" y1="705" x2="4858" y2="705" stroke="#000" stroke-width="1.5"/>
<text x="4862" y="710" font-size="12.2">1.00</text>
<line x1="4852" y1="725" x2="4858" y2="725" stroke="#000" stroke-width="1.5"/>
<text x="4862" y="729" font-size="12.2">0.00</text>
<line x1="4852" y1="745" x2="4858" y2="745" stroke="#000" stroke-width="1.5"/>
<text x="4862" y="749" font-size="12.2">-1.00</text>
<line x1="4852" y1="764" x2="4858" y2="764" stroke="#000" stroke-width="1.5"/>
<text x="4862" y="769" font-size="12.2">-2.00</text>
<text x="3766.5" y="1149" font-size="27.5" class="a">D</text>
<text x="4165" y="1159" font-size="26.6">PICRUSt2 two-level pathway annotation result</text>
<path d="M4279,1462h32.9V1490h-32.9zM4320,1462h32.9V1490h-32.9zM4361,1462h32.9V1490h-32.9zM4402,1464h32.9V1490h-32.9zM4442,1462h32.9V1490h-32.9zM4483,1462h32.9V1490h-32.9zM4524,1462h32.9V1490h-32.9z" fill="#000000"/>
<path d="M4279,1461h32.9V1462h-32.9zM4320,1461h32.9V1462h-32.9zM4361,1461h32.9V1462h-32.9zM4402,1463h32.9V1464h-32.9zM4442,1461h32.9V1462h-32.9zM4483,1461h32.9V1462h-32.9zM4524,1461h32.9V1462h-32.9z" fill="#ff1010"/>
<path d="M4279,1421h32.9V1461h-32.9zM4279,1314h32.9V1332h-32.9zM4320,1421h32.9V1461h-32.9zM4320,1314h32.9V1332h-32.9zM4361,1421h32.9V1461h-32.9zM4361,1314h32.9V1332h-32.9zM4402,1423h32.9V1463h-32.9zM4402,1316h32.9V1334h-32.9zM4442,1421h32.9V1461h-32.9zM4442,1314h32.9V1332h-32.9zM4483,1421h32.9V1461h-32.9zM4483,1314h32.9V1332h-32.9zM4524,1421h32.9V1461h-32.9zM4524,1314h32.9V1332h-32.9z" fill="#108810"/>
<path d="M4279,1416h32.9V1421h-32.9zM4320,1416h32.9V1421h-32.9zM4361,1416h32.9V1421h-32.9zM4402,1418h32.9V1424h-32.9zM4442,1416h32.9V1421h-32.9zM4483,1416h32.9V1421h-32.9zM4524,1416h32.9V1421h-32.9z" fill="#9010e8"/>
<path d="M4279,1410h32.9V1417h-32.9zM4320,1410h32.9V1417h-32.9zM4361,1410h32.9V1417h-32.9zM4402,1412h32.9V1419h-32.9zM4442,1410h32.9V1417h-32.9zM4483,1410h32.9V1417h-32.9zM4524,1410h32.9V1417h-32.9z" fill="#901090"/>
<path d="M4279,1408h32.9V1410h-32.9zM4320,1408h32.9V1410h-32.9zM4361,1408h32.9V1410h-32.9zM4402,1410h32.9V1412h-32.9zM4442,1408h32.9V1410h-32.9zM4483,1408h32.9V1410h-32.9zM4524,1408h32.9V1410h-32.9z" fill="#901010"/>
<path d="M4279,1391h32.9V1409h-32.9zM4320,1391h32.9V1409h-32.9zM4361,1391h32.9V1409h-32.9zM4402,1394h32.9V1411h-32.9zM4442,1391h32.9V1409h-32.9zM4483,1391h32.9V1409h-32.9zM4524,1391h32.9V1409h-32.9z" fill="#20c8d0"/>
<path d="M4279,1384h32.9V1392h-32.9zM4279,1222h32.9V1230h-32.9zM4320,1384h32.9V1392h-32.9zM4320,1222h32.9V1230h-32.9zM4361,1384h32.9V1392h-32.9zM4361,1222h32.9V1230h-32.9zM4402,1386h32.9V1394h-32.9zM4402,1222h32.9V1230h-32.9zM4442,1384h32.9V1392h-32.9zM4442,1222h32.9V1230h-32.9zM4483,1384h32.9V1392h-32.9zM4483,1222h32.9V1230h-32.9zM4524,1384h32.9V1392h-32.9zM4524,1222h32.9V1230h-32.9z" fill="#888888"/>
<path d="M4279,1374h32.9V1384h-32.9zM4320,1374h32.9V1384h-32.9zM4361,1374h32.9V1384h-32.9zM4402,1376h32.9V1386h-32.9zM4442,1374h32.9V1384h-32.9zM4483,1374h32.9V1384h-32.9zM4524,1374h32.9V1384h-32.9z" fill="#b06068"/>
<path d="M4279,1371h32.9V1375h-32.9zM4320,1371h32.9V1375h-32.9zM4361,1371h32.9V1375h-32.9zM4402,1373h32.9V1377h-32.9zM4442,1371h32.9V1375h-32.9zM4483,1371h32.9V1375h-32.9zM4524,1371h32.9V1375h-32.9z" fill="#1060a0"/>
<path d="M4279,1361h32.9V1371h-32.9zM4320,1361h32.9V1371h-32.9zM4361,1361h32.9V1371h-32.9zM4402,1363h32.9V1373h-32.9zM4442,1361h32.9V1371h-32.9zM4483,1361h32.9V1371h-32.9zM4524,1361h32.9V1371h-32.9z" fill="#1010f0"/>
<path d="M4279,1332h32.9V1361h-32.9zM4320,1332h32.9V1361h-32.9zM4361,1332h32.9V1361h-32.9zM4402,1334h32.9V1363h-32.9zM4442,1332h32.9V1361h-32.9zM4483,1332h32.9V1361h-32.9zM4524,1332h32.9V1361h-32.9z" fill="#ff10f0"/>
<path d="M4279,1306h32.9V1314h-32.9zM4320,1306h32.9V1314h-32.9zM4361,1306h32.9V1314h-32.9zM4402,1309h32.9V1316h-32.9zM4442,1306h32.9V1314h-32.9zM4483,1306h32.9V1314h-32.9zM4524,1306h32.9V1314h-32.9z" fill="#101090"/>
<path d="M4279,1302h32.9V1307h-32.9zM4320,1302h32.9V1307h-32.9zM4361,1302h32.9V1307h-32.9zM4402,1304h32.9V1309h-32.9zM4442,1302h32.9V1307h-32.9zM4483,1302h32.9V1307h-32.9zM4524,1302h32.9V1307h-32.9z" fill="#9010f0"/>
<path d="M4279,1282h32.9V1302h-32.9zM4320,1282h32.9V1302h-32.9zM4361,1282h32.9V1302h-32.9zM4402,1285h32.9V1304h-32.9zM4442,1282h32.9V1302h-32.9zM4483,1282h32.9V1302h-32.9zM4524,1282h32.9V1302h-32.9z" fill="#888810"/>
<path d="M4279,1266h32.9V1283h-32.9zM4320,1266h32.9V1283h-32.9zM4361,1266h32.9V1283h-32.9zM4402,1268h32.9V1285h-32.9zM4442,1266h32.9V1283h-32.9zM4483,1266h32.9V1283h-32.9zM4524,1266h32.9V1283h-32.9z" fill="#1060b0"/>
<path d="M4279,1248h32.9V1266h-32.9zM4320,1248h32.9V1266h-32.9zM4361,1248h32.9V1266h-32.9zM4402,1250h32.9V1268h-32.9zM4442,1248h32.9V1266h-32.9zM4483,1248h32.9V1266h-32.9zM4524,1248h32.9V1266h-32.9z" fill="#b06010"/>
<path d="M4279,1230h32.9V1248h-32.9zM4320,1230h32.9V1248h-32.9zM4361,1230h32.9V1248h-32.9zM4402,1230h32.9V1250h-32.9zM4442,1230h32.9V1248h-32.9zM4483,1230h32.9V1248h-32.9zM4524,1230h32.9V1248h-32.9z" fill="#3040a0"/>
<polyline points="4274,1194 4274,1490 4562,1490" fill="none" stroke="#000" stroke-width="1.8"/>
<line x1="4269" y1="1490" x2="4274" y2="1490" stroke="#000" stroke-width="1.3"/>
<text x="4266" y="1494" font-size="13.2" class="e">0.0</text>
<line x1="4269" y1="1436" x2="4274" y2="1436" stroke="#000" stroke-width="1.3"/>
<text x="4266" y="1441" font-size="13.2" class="e">0.2</text>
<line x1="4269" y1="1383" x2="4274" y2="1383" stroke="#000" stroke-width="1.3"/>
<text x="4266" y="1387" font-size="13.2" class="e">0.4</text>
<line x1="4269" y1="1329" x2="4274" y2="1329" stroke="#000" stroke-width="1.3"/>
<text x="4266" y="1334" font-size="13.2" class="e">0.6</text>
<line x1="4269" y1="1276" x2="4274" y2="1276" stroke="#000" stroke-width="1.3"/>
<text x="4266" y="1280" font-size="13.2" class="e">0.8</text>
<line x1="4269" y1="1222" x2="4274" y2="1222" stroke="#000" stroke-width="1.3"/>
<text x="4266" y="1226" font-size="13.2" class="e">1.0</text>
<text x="4222" y="1342" font-size="25.6" class="m" transform="rotate(-90 4222 1342)">Abundance</text>
<line x1="4295" y1="1490" x2="4295" y2="1495" stroke="#000" stroke-width="1.3"/>
<text x="4308" y="1508" font-size="13.2" class="e" transform="rotate(-45 4308 1508)">Control</text>
<line x1="4336" y1="1490" x2="4336" y2="1495" stroke="#000" stroke-width="1.3"/>
<text x="4349" y="1508" font-size="13.2" class="e" transform="rotate(-45 4349 1508)">Model</text>
<line x1="4377" y1="1490" x2="4377" y2="1495" stroke="#000" stroke-width="1.3"/>
<text x="4389" y="1508" font-size="13.2" class="e" transform="rotate(-45 4389 1508)">β-HgS</text>
<line x1="4418" y1="1490" x2="4418" y2="1495" stroke="#000" stroke-width="1.3"/>
<text x="4430" y="1508" font-size="13.2" class="e" transform="rotate(-45 4430 1508)">IMI</text>
<line x1="4459" y1="1490" x2="4459" y2="1495" stroke="#000" stroke-width="1.3"/>
<text x="4471" y="1508" font-size="13.2" class="e" transform="rotate(-45 4471 1508)">SER</text>
<line x1="4500" y1="1490" x2="4500" y2="1495" stroke="#000" stroke-width="1.3"/>
<text x="4512" y="1508" font-size="13.2" class="e" transform="rotate(-45 4512 1508)">IMI+β-HgS</text>
<line x1="4541" y1="1490" x2="4541" y2="1495" stroke="#000" stroke-width="1.3"/>
<text x="4553" y="1508" font-size="13.2" class="e" transform="rotate(-45 4553 1508)">SER+β-HgS</text>
<rect x="3902" y="1579" width="1008" height="166" fill="#fff" stroke="#000" stroke-width="1.5"/>
<rect x="3905" y="1583" width="23.3" height="9.7" fill="#888888" stroke="#333" stroke-width=".7"/>
<text x="3933" y="1591" font-size="11.6">Xenobiotics biodegradation and metabolism</text>
<rect x="3905" y="1598" width="23.3" height="9.7" fill="#e0207a" stroke="#333" stroke-width=".7"/>
<text x="3933" y="1606" font-size="11.6">Substance dependence</text>
<rect x="3905" y="1612" width="23.3" height="9.7" fill="#1060b0" stroke="#333" stroke-width=".7"/>
<text x="3933" y="1621" font-size="11.6">Replication and repair</text>
<rect x="3905" y="1627" width="23.3" height="9.7" fill="#9010f0" stroke="#333" stroke-width=".7"/>
<text x="3933" y="1636" font-size="11.6">Metabolism of terpenoids and polyketides</text>
<rect x="3905" y="1642" width="23.3" height="9.7" fill="#1010f0" stroke="#333" stroke-width=".7"/>
<text x="3933" y="1651" font-size="11.6">Lipid metabolism</text>
<rect x="3905" y="1657" width="23.3" height="9.7" fill="#10a0d0" stroke="#333" stroke-width=".7"/>
<text x="3933" y="1666" font-size="11.6">Immune system</text>
<rect x="3905" y="1672" width="23.3" height="9.7" fill="#88b010" stroke="#333" stroke-width=".7"/>
<text x="3933" y="1681" font-size="11.6">Excretory system</text>
<rect x="3905" y="1687" width="23.3" height="9.7" fill="#10d020" stroke="#333" stroke-width=".7"/>
<text x="3933" y="1696" font-size="11.6">Endocrine and metabolic diseases</text>
<rect x="3905" y="1702" width="23.3" height="9.7" fill="#888810" stroke="#333" stroke-width=".7"/>
<text x="3933" y="1711" font-size="11.6">Cellular community - prokaryotes</text>
<rect x="3905" y="1717" width="23.3" height="9.7" fill="#101088" stroke="#333" stroke-width=".7"/>
<text x="3933" y="1725" font-size="11.6">Cardiovascular diseases</text>
<rect x="3905" y="1732" width="23.3" height="9.7" fill="#ff1010" stroke="#333" stroke-width=".7"/>
<text x="3933" y="1740" font-size="11.6">Biosynthesis of other secondary metabolites</text>
<rect x="4219" y="1583" width="23.3" height="9.7" fill="#88b010" stroke="#333" stroke-width=".7"/>
<text x="4247" y="1591" font-size="11.6">Transport and catabolism</text>
<rect x="4219" y="1598" width="23.3" height="9.7" fill="#10d020" stroke="#333" stroke-width=".7"/>
<text x="4247" y="1606" font-size="11.6">Signaling molecules and interaction</text>
<rect x="4219" y="1612" width="23.3" height="9.7" fill="#888810" stroke="#333" stroke-width=".7"/>
<text x="4247" y="1621" font-size="11.6">Nucleotide metabolism</text>
<rect x="4219" y="1627" width="23.3" height="9.7" fill="#101088" stroke="#333" stroke-width=".7"/>
<text x="4247" y="1636" font-size="11.6">Metabolism of other amino acids</text>
<rect x="4219" y="1642" width="23.3" height="9.7" fill="#ff1010" stroke="#333" stroke-width=".7"/>
<text x="4247" y="1651" font-size="11.6">Infectious diseases: Viral</text>
<rect x="4219" y="1657" width="23.3" height="9.7" fill="#409060" stroke="#333" stroke-width=".7"/>
<text x="4247" y="1666" font-size="11.6">Immune diseases</text>
<rect x="4219" y="1672" width="23.3" height="9.7" fill="#3040a0" stroke="#333" stroke-width=".7"/>
<text x="4247" y="1681" font-size="11.6">Environmental adaptation</text>
<rect x="4219" y="1687" width="23.3" height="9.7" fill="#b06010" stroke="#333" stroke-width=".7"/>
<text x="4247" y="1696" font-size="11.6">Drug resistance: Antimicrobial</text>
<rect x="4219" y="1702" width="23.3" height="9.7" fill="#901010" stroke="#333" stroke-width=".7"/>
<text x="4247" y="1711" font-size="11.6">Cellular community - eukaryotes</text>
<rect x="4219" y="1717" width="23.3" height="9.7" fill="#108810" stroke="#333" stroke-width=".7"/>
<text x="4247" y="1725" font-size="11.6">Carbohydrate metabolism</text>
<rect x="4219" y="1732" width="23.3" height="9.7" fill="#000000" stroke="#333" stroke-width=".7"/>
<text x="4247" y="1740" font-size="11.6">Amino acid metabolism</text>
<rect x="4466" y="1583" width="23.3" height="9.7" fill="#3040a0" stroke="#333" stroke-width=".7"/>
<text x="4494" y="1591" font-size="11.6">Translation</text>
<rect x="4466" y="1598" width="23.3" height="9.7" fill="#b06010" stroke="#333" stroke-width=".7"/>
<text x="4494" y="1606" font-size="11.6">Signal transduction</text>
<rect x="4466" y="1612" width="23.3" height="9.7" fill="#901010" stroke="#333" stroke-width=".7"/>
<text x="4494" y="1621" font-size="11.6">Neurodegenerative diseases</text>
<rect x="4466" y="1627" width="23.3" height="9.7" fill="#108810" stroke="#333" stroke-width=".7"/>
<text x="4494" y="1636" font-size="11.6">Metabolism of cofactors and vitamins</text>
<rect x="4466" y="1642" width="23.3" height="9.7" fill="#000000" stroke="#333" stroke-width=".7"/>
<text x="4494" y="1651" font-size="11.6">Infectious diseases: Parasitic</text>
<rect x="4466" y="1657" width="23.3" height="9.7" fill="#b06068" stroke="#333" stroke-width=".7"/>
<text x="4494" y="1666" font-size="11.6">Glycan biosynthesis and metabolism</text>
<rect x="4466" y="1672" width="23.3" height="9.7" fill="#20c8d0" stroke="#333" stroke-width=".7"/>
<text x="4494" y="1681" font-size="11.6">Energy metabolism</text>
<rect x="4466" y="1687" width="23.3" height="9.7" fill="#109090" stroke="#333" stroke-width=".7"/>
<text x="4494" y="1696" font-size="11.6">Digestive system</text>
<rect x="4466" y="1702" width="23.3" height="9.7" fill="#901090" stroke="#333" stroke-width=".7"/>
<text x="4494" y="1711" font-size="11.6">Cell motility</text>
<rect x="4466" y="1717" width="23.3" height="9.7" fill="#ff10f0" stroke="#333" stroke-width=".7"/>
<text x="4494" y="1725" font-size="11.6">Cancers: Specific types</text>
<rect x="4708" y="1583" width="23.3" height="9.7" fill="#20c8d0" stroke="#333" stroke-width=".7"/>
<text x="4736" y="1591" font-size="11.6"> Transcription</text>
<rect x="4708" y="1598" width="23.3" height="9.7" fill="#109090" stroke="#333" stroke-width=".7"/>
<text x="4736" y="1606" font-size="11.6">Sensory system</text>
<rect x="4708" y="1612" width="23.3" height="9.7" fill="#901090" stroke="#333" stroke-width=".7"/>
<text x="4736" y="1621" font-size="11.6">Nervous system</text>
<rect x="4708" y="1627" width="23.3" height="9.7" fill="#ff10f0" stroke="#333" stroke-width=".7"/>
<text x="4736" y="1636" font-size="11.6">Membrane transport</text>
<rect x="4708" y="1642" width="23.3" height="9.7" fill="#106090" stroke="#333" stroke-width=".7"/>
<text x="4736" y="1651" font-size="11.6">Infectious diseases: Bacterial</text>
<rect x="4708" y="1657" width="23.3" height="9.7" fill="#888888" stroke="#333" stroke-width=".7"/>
<text x="4736" y="1666" font-size="11.6">Folding, sorting and degradation</text>
<rect x="4708" y="1672" width="23.3" height="9.7" fill="#e0207a" stroke="#333" stroke-width=".7"/>
<text x="4736" y="1681" font-size="11.6">Endocrine system</text>
<rect x="4708" y="1687" width="23.3" height="9.7" fill="#1060b0" stroke="#333" stroke-width=".7"/>
<text x="4736" y="1696" font-size="11.6">Circulatory system</text>
<rect x="4708" y="1702" width="23.3" height="9.7" fill="#9010f0" stroke="#333" stroke-width=".7"/>
<text x="4736" y="1711" font-size="11.6">Cell growth and death</text>
<rect x="4708" y="1717" width="23.3" height="9.7" fill="#1010f0" stroke="#333" stroke-width=".7"/>
<text x="4736" y="1725" font-size="11.6">Cancers: Overview</text></g>
<g id="p4"><rect x="563" y="1923" width="295" height="206" fill="none" stroke="#000" stroke-width="1.6"/><text x="557" y="2132" font-size="10" class="e">0</text><text x="557" y="2081" font-size="10" class="e">20</text><text x="557" y="2029" font-size="10" class="e">40</text><text x="557" y="1978" font-size="10" class="e">60</text><text x="557" y="1926" font-size="10" class="e">80</text><text x="612" y="2147" font-size="10" class="m">0 d</text><text x="711" y="2147" font-size="10" class="m">8 d</text><text x="809" y="2147" font-size="10" class="m">15 d</text><path d="M563,2129 H559 M563,2077 H559 M563,2026 H559 M563,1974 H559 M563,1923 H559 M563,2103 H561 M563,2052 H561 M563,2000 H561 M563,1949 H561 M612,2129 V2133 M711,2129 V2133 M809,2129 V2133" stroke="#000" stroke-width="1.4" fill="none"/><path d="M575,2129H584V2065H575ZM580,2065V2061M577,2061H583" fill="url(#gh0)" stroke="#5c5c5c" stroke-width="1"/><path d="M580,2062h0M582,2067h0M581,2063h0M581,2068h0M577,2066h0M581,2067h0M580,2066h0" stroke="#5c5c5c" stroke-width="4" class="d"/><path d="M588,2129H597V2065H588ZM593,2065V2059M590,2059H596" fill="url(#gh1)" stroke="#ee3338" stroke-width="1"/><path d="M595,2060h0M592,2059h0M590,2062h0M595,2069h0M594,2064h0M595,2068h0M593,2061h0" stroke="#ee3338" stroke-width="4" class="d"/><path d="M601,2129H610V2066H601ZM606,2066V2062M603,2062H609" fill="url(#gh2)" stroke="#1f6fe0" stroke-width="1"/><path d="M607,2068h0M603,2062h0M606,2062h0M604,2064h0M608,2063h0M603,2067h0M603,2064h0" stroke="#1f6fe0" stroke-width="4" class="d"/><path d="M614,2129H624V2065H614ZM619,2065V2061M616,2061H622" fill="url(#gh3)" stroke="#2fae6b" stroke-width="1"/><path d="M618,2061h0M618,2063h0M621,2068h0M619,2061h0M619,2067h0M618,2063h0M617,2065h0" stroke="#2fae6b" stroke-width="4" class="d"/><path d="M627,2129H637V2063H627ZM632,2063V2057M629,2057H635" fill="url(#gh4)" stroke="#a35ee0" stroke-width="1"/><path d="M632,2063h0M630,2062h0M634,2066h0M631,2058h0M633,2067h0M629,2060h0M631,2064h0" stroke="#a35ee0" stroke-width="4" class="d"/><path d="M640,2129H650V2065H640ZM645,2065V2059M642,2059H648" fill="url(#gh5)" stroke="#dfa315" stroke-width="1"/><path d="M644,2064h0M646,2067h0M643,2060h0M647,2070h0M645,2063h0M645,2062h0M648,2064h0" stroke="#dfa315" stroke-width="4" class="d"/><path d="M673,2129H683V2053H673ZM678,2053V2038M675,2038H681" fill="url(#gh0)" stroke="#5c5c5c" stroke-width="1"/><path d="M677,2065h0M677,2066h0M676,2064h0M680,2053h0M680,2040h0M680,2070h0M680,2068h0" stroke="#5c5c5c" stroke-width="4" class="d"/><path d="M686,2129H696V2066H686ZM691,2066V2059M688,2059H694" fill="url(#gh1)" stroke="#ee3338" stroke-width="1"/><path d="M693,2062h0M692,2068h0M689,2072h0M692,2070h0M691,2070h0M689,2069h0M692,2067h0" stroke="#ee3338" stroke-width="4" class="d"/><path d="M699,2129H709V2061H699ZM704,2061V2056M701,2056H707" fill="url(#gh2)" stroke="#1f6fe0" stroke-width="1"/><path d="M703,2061h0M704,2061h0M704,2056h0M705,2064h0M703,2065h0M703,2067h0M705,2060h0" stroke="#1f6fe0" stroke-width="4" class="d"/><path d="M713,2129H722V2068H713ZM717,2068V2063M714,2063H720" fill="url(#gh3)" stroke="#2fae6b" stroke-width="1"/><path d="M717,2064h0M716,2068h0M720,2068h0M718,2070h0M720,2066h0M716,2071h0M718,2069h0" stroke="#2fae6b" stroke-width="4" class="d"/><path d="M726,2129H735V2066H726ZM730,2066V2058M727,2058H733" fill="url(#gh4)" stroke="#a35ee0" stroke-width="1"/><path d="M730,2072h0M731,2063h0M732,2067h0M730,2067h0M730,2067h0M728,2071h0M733,2061h0" stroke="#a35ee0" stroke-width="4" class="d"/><path d="M739,2129H748V2071H739ZM743,2071V2059M740,2059H746" fill="url(#gh5)" stroke="#dfa315" stroke-width="1"/><path d="M743,2066h0M742,2078h0M743,2067h0M741,2073h0M746,2069h0M746,2082h0M746,2064h0" stroke="#dfa315" stroke-width="4" class="d"/><path d="M772,2129H781V2043H772ZM776,2043V2030M773,2030H779" fill="url(#gh0)" stroke="#5c5c5c" stroke-width="1"/><path d="M774,2043h0M778,2052h0M777,2034h0M778,2046h0M774,2043h0M774,2043h0M775,2048h0" stroke="#5c5c5c" stroke-width="4" class="d"/><path d="M785,2129H794V2058H785ZM789,2058V2056M786,2056H792" fill="url(#gh1)" stroke="#ee3338" stroke-width="1"/><path d="M789,2057h0M792,2059h0M786,2057h0M788,2057h0M791,2060h0M790,2059h0M788,2059h0" stroke="#ee3338" stroke-width="4" class="d"/><path d="M797,2129H807V2045H797ZM802,2045V2039M799,2039H805" fill="url(#gh2)" stroke="#1f6fe0" stroke-width="1"/><path d="M802,2050h0M802,2049h0M800,2049h0M803,2049h0M800,2048h0M801,2039h0M804,2051h0" stroke="#1f6fe0" stroke-width="4" class="d"/><path d="M811,2129H820V2056H811ZM815,2056V2052M813,2052H818" fill="url(#gh3)" stroke="#2fae6b" stroke-width="1"/><path d="M814,2056h0M816,2057h0M816,2054h0M814,2055h0M814,2056h0M814,2053h0M818,2052h0" stroke="#2fae6b" stroke-width="4" class="d"/><path d="M824,2129H833V2054H824ZM828,2054V2043M826,2043H831" fill="url(#gh4)" stroke="#a35ee0" stroke-width="1"/><path d="M828,2052h0M827,2050h0M830,2057h0M827,2049h0M830,2048h0M827,2062h0M827,2063h0" stroke="#a35ee0" stroke-width="4" class="d"/><path d="M837,2129H846V2058H837ZM841,2058V2052M839,2052H844" fill="url(#gh5)" stroke="#dfa315" stroke-width="1"/><path d="M839,2064h0M841,2060h0M844,2060h0M840,2053h0M839,2061h0M843,2061h0M844,2055h0" stroke="#dfa315" stroke-width="4" class="d"/><text x="691" y="2059" font-size="11.7" class="r m">***</text><text x="789" y="2053" font-size="11.7" class="r m">***</text><text x="802" y="2037" font-size="8.7" class="m">###</text><text x="828" y="2028" font-size="8.7" class="m">$</text><text x="828" y="2039" font-size="8.7" class="m">#</text><text x="542" y="2026" font-size="10.8" class="m" transform="rotate(-90 542 2026)">Weight (g)</text><text x="506" y="1916" font-size="22.5">B</text><rect x="795" y="1925" width="61" height="82" fill="#fff" stroke="#000" stroke-width="1.5"/><g stroke="#333" stroke-width="1" font-size="9.4"><path d="M797,1928h20.6v9.5h-20.6z" fill="url(#gh0)"/><text x="821" y="1936" stroke="none">Control</text><path d="M797,1941h20.6v9.5h-20.6z" fill="url(#gh1)"/><text x="821" y="1949" stroke="none">Model</text><path d="M797,1954h20.6v9.5h-20.6z" fill="url(#gh2)"/><text x="821" y="1962" stroke="none">SER</text><path d="M797,1968h20.6v9.5h-20.6z" fill="url(#gh3)"/><text x="821" y="1975" stroke="none">LBHgS</text><path d="M797,1981h20.6v9.5h-20.6z" fill="url(#gh4)"/><text x="821" y="1989" stroke="none">MBHgS</text><path d="M797,1994h20.6v9.5h-20.6z" fill="url(#gh5)"/><text x="821" y="2002" stroke="none">HBHgS</text></g>
<rect x="954" y="1923" width="294" height="206" fill="none" stroke="#000" stroke-width="1.6"/><text x="948" y="2132" font-size="10" class="e">0</text><text x="948" y="2098" font-size="10" class="e">1</text><text x="948" y="2063" font-size="10" class="e">2</text><text x="948" y="2029" font-size="10" class="e">3</text><text x="948" y="1995" font-size="10" class="e">4</text><text x="948" y="1961" font-size="10" class="e">5</text><text x="948" y="1926" font-size="10" class="e">6</text><text x="1003" y="2147" font-size="10" class="m">0 d</text><text x="1101" y="2147" font-size="10" class="m">8 d</text><text x="1199" y="2147" font-size="10" class="m">15 d</text><path d="M954,2129 H950 M954,2094 H950 M954,2060 H950 M954,2026 H950 M954,1991 H950 M954,1957 H950 M954,1923 H950 M954,2111 H952 M954,2077 H952 M954,2043 H952 M954,2009 H952 M954,1974 H952 M954,1940 H952 M1003,2129 V2133 M1101,2129 V2133 M1199,2129 V2133" stroke="#000" stroke-width="1.4" fill="none"/><path d="M966,2129H976V2090H966ZM971,2090V2084M968,2084H974" fill="url(#gh0)" stroke="#5c5c5c" stroke-width="1"/><path d="M970,2086h0M973,2091h0M969,2096h0M973,2086h0M972,2087h0M973,2094h0M969,2086h0" stroke="#5c5c5c" stroke-width="4" class="d"/><path d="M979,2129H989V2087H979ZM984,2087V2081M981,2081H987" fill="url(#gh1)" stroke="#ee3338" stroke-width="1"/><path d="M986,2088h0M983,2093h0M983,2082h0M982,2090h0M981,2086h0M981,2085h0M984,2088h0" stroke="#ee3338" stroke-width="4" class="d"/><path d="M992,2129H1001V2089H992ZM997,2089V2084M994,2084H1000" fill="url(#gh2)" stroke="#1f6fe0" stroke-width="1"/><path d="M995,2092h0M999,2085h0M998,2093h0M995,2091h0M999,2085h0M995,2088h0M996,2090h0" stroke="#1f6fe0" stroke-width="4" class="d"/><path d="M1005,2129H1015V2088H1005ZM1010,2088V2081M1007,2081H1013" fill="url(#gh3)" stroke="#2fae6b" stroke-width="1"/><path d="M1008,2085h0M1012,2082h0M1010,2090h0M1011,2095h0M1012,2084h0M1009,2091h0M1010,2083h0" stroke="#2fae6b" stroke-width="4" class="d"/><path d="M1018,2129H1028V2090H1018ZM1023,2090V2086M1020,2086H1026" fill="url(#gh4)" stroke="#a35ee0" stroke-width="1"/><path d="M1024,2093h0M1026,2086h0M1025,2091h0M1023,2092h0M1026,2091h0M1026,2094h0M1020,2091h0" stroke="#a35ee0" stroke-width="4" class="d"/><path d="M1031,2129H1041V2090H1031ZM1036,2090V2076M1033,2076H1039" fill="url(#gh5)" stroke="#dfa315" stroke-width="1"/><path d="M1034,2099h0M1034,2103h0M1036,2104h0M1035,2088h0M1035,2097h0M1035,2099h0M1036,2083h0" stroke="#dfa315" stroke-width="4" class="d"/><path d="M1064,2129H1073V2085H1064ZM1068,2085V2074M1066,2074H1071" fill="url(#gh0)" stroke="#5c5c5c" stroke-width="1"/><path d="M1066,2085h0M1069,2076h0M1070,2091h0M1069,2076h0M1071,2079h0M1066,2089h0M1068,2090h0" stroke="#5c5c5c" stroke-width="4" class="d"/><path d="M1077,2129H1086V2091H1077ZM1081,2091V2084M1079,2084H1084" fill="url(#gh1)" stroke="#ee3338" stroke-width="1"/><path d="M1083,2092h0M1084,2099h0M1083,2097h0M1081,2097h0M1081,2090h0M1084,2099h0M1081,2097h0" stroke="#ee3338" stroke-width="4" class="d"/><path d="M1090,2129H1099V2081H1090ZM1094,2081V2074M1092,2074H1097" fill="url(#gh2)" stroke="#1f6fe0" stroke-width="1"/><path d="M1096,2088h0M1093,2077h0M1092,2076h0M1093,2074h0M1092,2089h0M1094,2085h0M1095,2085h0" stroke="#1f6fe0" stroke-width="4" class="d"/><path d="M1103,2129H1112V2087H1103ZM1108,2087V2077M1105,2077H1110" fill="url(#gh3)" stroke="#2fae6b" stroke-width="1"/><path d="M1107,2098h0M1105,2098h0M1107,2080h0M1108,2091h0M1107,2082h0M1110,2096h0M1108,2092h0" stroke="#2fae6b" stroke-width="4" class="d"/><path d="M1116,2129H1125V2090H1116ZM1121,2090V2080M1118,2080H1123" fill="url(#gh4)" stroke="#a35ee0" stroke-width="1"/><path d="M1123,2086h0M1121,2087h0M1122,2101h0M1120,2102h0M1119,2082h0M1121,2098h0M1119,2093h0" stroke="#a35ee0" stroke-width="4" class="d"/><path d="M1129,2129H1138V2087H1129ZM1134,2087V2080M1131,2080H1136" fill="url(#gh5)" stroke="#dfa315" stroke-width="1"/><path d="M1131,2083h0M1133,2094h0M1134,2089h0M1135,2091h0M1132,2087h0M1133,2093h0M1135,2082h0" stroke="#dfa315" stroke-width="4" class="d"/><path d="M1162,2129H1171V2075H1162ZM1166,2075V2070M1163,2070H1169" fill="url(#gh0)" stroke="#5c5c5c" stroke-width="1"/><path d="M1168,2074h0M1166,2073h0M1165,2081h0M1165,2076h0M1165,2077h0M1168,2075h0M1165,2080h0" stroke="#5c5c5c" stroke-width="4" class="d"/><path d="M1175,2129H1184V2087H1175ZM1179,2087V2084M1176,2084H1182" fill="url(#gh1)" stroke="#ee3338" stroke-width="1"/><path d="M1176,2090h0M1178,2086h0M1181,2088h0M1177,2087h0M1182,2090h0M1180,2084h0M1178,2086h0" stroke="#ee3338" stroke-width="4" class="d"/><path d="M1188,2129H1197V2070H1188ZM1192,2070V2050M1189,2050H1195" fill="url(#gh2)" stroke="#1f6fe0" stroke-width="1"/><path d="M1194,2064h0M1190,2059h0M1193,2065h0M1193,2057h0M1193,2053h0M1190,2092h0M1190,2071h0" stroke="#1f6fe0" stroke-width="4" class="d"/><path d="M1201,2129H1210V2073H1201ZM1205,2073V2057M1203,2057H1208" fill="url(#gh3)" stroke="#2fae6b" stroke-width="1"/><path d="M1207,2060h0M1203,2093h0M1205,2069h0M1205,2083h0M1204,2067h0M1206,2058h0M1205,2076h0" stroke="#2fae6b" stroke-width="4" class="d"/><path d="M1214,2129H1223V2074H1214ZM1218,2074V2062M1216,2062H1221" fill="url(#gh4)" stroke="#a35ee0" stroke-width="1"/><path d="M1221,2070h0M1217,2069h0M1218,2086h0M1216,2075h0M1217,2081h0M1220,2081h0M1218,2075h0" stroke="#a35ee0" stroke-width="4" class="d"/><path d="M1227,2129H1236V2084H1227ZM1231,2084V2074M1229,2074H1234" fill="url(#gh5)" stroke="#dfa315" stroke-width="1"/><path d="M1229,2078h0M1230,2093h0M1232,2092h0M1229,2094h0M1229,2088h0M1230,2092h0M1230,2077h0" stroke="#dfa315" stroke-width="4" class="d"/><text x="1178" y="2082" font-size="12.6" class="r m">*</text><text x="1191" y="2034" font-size="9.3" class="m">##</text><text x="1205" y="2020" font-size="9.3" class="m">$</text><text x="1205" y="2034" font-size="9.3" class="m">#</text><text x="1218" y="2020" font-size="9.3" class="m">$</text><text x="1218" y="2034" font-size="9.3" class="m">#</text><text x="926" y="2026" font-size="13.6" class="m" transform="rotate(-90 926 2026)">2 h food consumption (g)</text><text x="887" y="1916" font-size="21.7">C</text><rect x="1185" y="1925" width="59.9" height="75" fill="#fff" stroke="#000" stroke-width="1.5"/><g stroke="#333" stroke-width="1" font-size="9.4"><path d="M1187,1928h20.4v8.6h-20.4z" fill="url(#gh0)"/><text x="1210" y="1935" stroke="none">Control</text><path d="M1187,1940h20.4v8.6h-20.4z" fill="url(#gh1)"/><text x="1210" y="1947" stroke="none">Model</text><path d="M1187,1952h20.4v8.6h-20.4z" fill="url(#gh2)"/><text x="1210" y="1959" stroke="none">SER</text><path d="M1187,1964h20.4v8.6h-20.4z" fill="url(#gh3)"/><text x="1210" y="1971" stroke="none">LBHgS</text><path d="M1187,1976h20.4v8.6h-20.4z" fill="url(#gh4)"/><text x="1210" y="1983" stroke="none">MBHgS</text><path d="M1187,1988h20.4v8.6h-20.4z" fill="url(#gh5)"/><text x="1210" y="1995" stroke="none">HBHgS</text></g>
<polyline points="172,2302 172,2508 428,2508" fill="none" stroke="#000" stroke-width="1.7"/><text x="165" y="2511" font-size="10.1" class="e">0</text><text x="165" y="2486" font-size="10.1" class="e">100</text><text x="165" y="2460" font-size="10.1" class="e">200</text><text x="165" y="2434" font-size="10.1" class="e">300</text><text x="165" y="2409" font-size="10.1" class="e">400</text><text x="165" y="2383" font-size="10.1" class="e">500</text><text x="165" y="2357" font-size="10.1" class="e">600</text><text x="165" y="2331" font-size="10.1" class="e">700</text><text x="165" y="2306" font-size="10.1" class="e">800</text><text x="199" y="2525" font-size="9.8" class="e" transform="rotate(-45 199 2525)">Control</text><text x="242" y="2525" font-size="9.8" class="e" transform="rotate(-45 242 2525)">Model</text><text x="284" y="2525" font-size="9.8" class="e" transform="rotate(-45 284 2525)">SER</text><text x="327" y="2525" font-size="9.8" class="e" transform="rotate(-45 327 2525)">LBHgS</text><text x="370" y="2525" font-size="9.8" class="e" transform="rotate(-45 370 2525)">MBHgS</text><text x="412" y="2525" font-size="9.8" class="e" transform="rotate(-45 412 2525)">HBHgS</text><path d="M172,2508 H168 M172,2482 H168 M172,2457 H168 M172,2431 H168 M172,2405 H168 M172,2379 H168 M172,2354 H168 M172,2328 H168 M172,2302 H168 M172,2495 H170 M172,2470 H170 M172,2444 H170 M172,2418 H170 M172,2392 H170 M172,2367 H170 M172,2341 H170 M172,2315 H170 M194,2508 V2512 M236,2508 V2512 M279,2508 V2512 M322,2508 V2512 M364,2508 V2512 M407,2508 V2512" stroke="#000" stroke-width="1.5" fill="none"/><g stroke="#303030" stroke-width="1.2"><path d="M180,2508H208V2479H180ZM194,2479V2476M185,2476H202" fill="url(#gb0)"/><path d="M222,2508H250V2470H222ZM236,2470V2451M228,2451H245" fill="url(#gb1)"/><path d="M265,2508H293V2489H265ZM279,2489V2483M270,2483H287" fill="url(#gb2)"/><path d="M308,2508H336V2489H308ZM322,2489V2484M313,2484H330" fill="url(#gb3)"/><path d="M350,2508H378V2492H350ZM364,2492V2489M356,2489H373" fill="url(#gb4)"/><path d="M393,2508H421V2493H393ZM407,2493V2489M398,2489H415" fill="url(#gb5)"/></g><path d="M195,2476h0M195,2478h0M188,2480h0" stroke="#5a5a5a" stroke-width="7" class="d"/><path d="M193,2475h0M194,2477h0M186,2479h0" stroke="#fff" stroke-opacity=".8" stroke-width="1.7" class="d"/><path d="M241,2436h0M230,2463h0M239,2467h0M238,2480h0M235,2481h0" stroke="#ee3338" stroke-width="7" class="d"/><path d="M240,2434h0M229,2462h0M238,2466h0M237,2479h0M234,2480h0" stroke="#fff" stroke-opacity=".8" stroke-width="1.7" class="d"/><path d="M277,2484h0M279,2485h0M280,2489h0M283,2494h0M273,2497h0" stroke="#1f6fe0" stroke-width="7" class="d"/><path d="M276,2482h0M278,2484h0M279,2488h0M282,2493h0M272,2496h0" stroke="#fff" stroke-opacity=".8" stroke-width="1.7" class="d"/><path d="M317,2482h0M323,2485h0M319,2488h0M323,2490h0M320,2493h0" stroke="#2fae6b" stroke-width="7" class="d"/><path d="M315,2481h0M322,2484h0M318,2486h0M321,2489h0M319,2491h0" stroke="#fff" stroke-opacity=".8" stroke-width="1.7" class="d"/><path d="M359,2488h0M368,2490h0M360,2493h0M362,2494h0" stroke="#aa66e6" stroke-width="7" class="d"/><path d="M357,2486h0M367,2489h0M359,2491h0M361,2493h0" stroke="#fff" stroke-opacity=".8" stroke-width="1.7" class="d"/><path d="M410,2488h0M412,2491h0M411,2495h0M412,2498h0" stroke="#dfa315" stroke-width="7" class="d"/><path d="M409,2486h0M411,2490h0M410,2494h0M411,2497h0" stroke="#fff" stroke-opacity=".8" stroke-width="1.7" class="d"/><text x="236" y="2432" font-size="12.3" class="r m">*</text><text x="279" y="2475" font-size="9.1" class="m">###</text><text x="322" y="2475" font-size="9.1" class="m">###</text><text x="364" y="2475" font-size="9.1" class="m">###</text><text x="407" y="2475" font-size="9.1" class="m">###</text><text x="143" y="2405" font-size="13.4" class="m" transform="rotate(-90 143 2405)">Rest time (s)</text><text x="66" y="2294" font-size="21.4">D1</text><rect x="361" y="2295" width="61" height="76" fill="#fff" stroke="#000" stroke-width="1.5"/><g stroke="#333" stroke-width="1" font-size="9.1"><path d="M364,2298h20.6v8.8h-20.6z" fill="url(#gb0)"/><text x="387" y="2305" stroke="none">Control</text><path d="M364,2310h20.6v8.8h-20.6z" fill="url(#gb1)"/><text x="387" y="2317" stroke="none">Model</text><path d="M364,2322h20.6v8.8h-20.6z" fill="url(#gb2)"/><text x="387" y="2330" stroke="none">SER</text><path d="M364,2334h20.6v8.8h-20.6z" fill="url(#gb3)"/><text x="387" y="2342" stroke="none">LBHgS</text><path d="M364,2347h20.6v8.8h-20.6z" fill="url(#gb4)"/><text x="387" y="2354" stroke="none">MBHgS</text><path d="M364,2359h20.6v8.8h-20.6z" fill="url(#gb5)"/><text x="387" y="2367" stroke="none">HBHgS</text></g>
<polyline points="562,2304 562,2510 820,2510" fill="none" stroke="#000" stroke-width="1.7"/><text x="556" y="2514" font-size="10.1" class="e">0</text><text x="556" y="2488" font-size="10.1" class="e">100</text><text x="556" y="2462" font-size="10.1" class="e">200</text><text x="556" y="2436" font-size="10.1" class="e">300</text><text x="556" y="2411" font-size="10.1" class="e">400</text><text x="556" y="2385" font-size="10.1" class="e">500</text><text x="556" y="2359" font-size="10.1" class="e">600</text><text x="556" y="2333" font-size="10.1" class="e">700</text><text x="556" y="2308" font-size="10.1" class="e">800</text><text x="590" y="2527" font-size="9.8" class="e" transform="rotate(-45 590 2527)">Control</text><text x="633" y="2527" font-size="9.8" class="e" transform="rotate(-45 633 2527)">Model</text><text x="676" y="2527" font-size="9.8" class="e" transform="rotate(-45 676 2527)">SER</text><text x="718" y="2527" font-size="9.8" class="e" transform="rotate(-45 718 2527)">LBHgS</text><text x="761" y="2527" font-size="9.8" class="e" transform="rotate(-45 761 2527)">MBHgS</text><text x="803" y="2527" font-size="9.8" class="e" transform="rotate(-45 803 2527)">HBHgS</text><path d="M562,2510 H558 M562,2485 H558 M562,2459 H558 M562,2433 H558 M562,2407 H558 M562,2382 H558 M562,2356 H558 M562,2330 H558 M562,2304 H558 M562,2497 H560 M562,2472 H560 M562,2446 H560 M562,2420 H560 M562,2394 H560 M562,2369 H560 M562,2343 H560 M562,2317 H560 M585,2510 V2514 M628,2510 V2514 M670,2510 V2514 M713,2510 V2514 M756,2510 V2514 M798,2510 V2514" stroke="#000" stroke-width="1.5" fill="none"/><g stroke="#303030" stroke-width="1.2"><path d="M572,2510H597V2462H572ZM585,2462V2460M577,2460H592" fill="url(#gb0)"/><path d="M615,2510H640V2472H615ZM628,2472V2453M620,2453H635" fill="url(#gb1)"/><path d="M658,2510H683V2452H658ZM670,2452V2447M663,2447H678" fill="url(#gb2)"/><path d="M700,2510H725V2453H700ZM713,2453V2448M705,2448H720" fill="url(#gb3)"/><path d="M743,2510H768V2449H743ZM756,2449V2446M748,2446H763" fill="url(#gb4)"/><path d="M786,2510H811V2448H786ZM798,2448V2445M791,2445H806" fill="url(#gb5)"/></g><path d="M583,2460h0M582,2461h0M584,2463h0" stroke="#5a5a5a" stroke-width="7" class="d"/><path d="M582,2459h0M581,2460h0M583,2461h0" stroke="#fff" stroke-opacity=".8" stroke-width="1.7" class="d"/><path d="M631,2457h0M629,2459h0M629,2472h0M630,2476h0M625,2505h0" stroke="#ee3338" stroke-width="7" class="d"/><path d="M630,2456h0M628,2458h0M628,2470h0M629,2475h0M623,2503h0" stroke="#fff" stroke-opacity=".8" stroke-width="1.7" class="d"/><path d="M671,2444h0M670,2448h0M675,2455h0M668,2456h0" stroke="#1f6fe0" stroke-width="7" class="d"/><path d="M670,2443h0M668,2447h0M673,2454h0M667,2455h0" stroke="#fff" stroke-opacity=".8" stroke-width="1.7" class="d"/><path d="M713,2448h0M714,2450h0M715,2455h0M716,2457h0" stroke="#2fae6b" stroke-width="7" class="d"/><path d="M712,2447h0M713,2449h0M714,2454h0M715,2456h0" stroke="#fff" stroke-opacity=".8" stroke-width="1.7" class="d"/><path d="M758,2446h0M751,2448h0M761,2452h0" stroke="#aa66e6" stroke-width="7" class="d"/><path d="M757,2445h0M750,2447h0M759,2450h0" stroke="#fff" stroke-opacity=".8" stroke-width="1.7" class="d"/><path d="M793,2443h0M801,2447h0M796,2452h0" stroke="#dfa315" stroke-width="7" class="d"/><path d="M792,2442h0M799,2446h0M795,2451h0" stroke="#fff" stroke-opacity=".8" stroke-width="1.7" class="d"/><text x="628" y="2452" font-size="12.3" class="r m">*</text><text x="670" y="2432" font-size="9.1" class="m">###</text><text x="713" y="2432" font-size="9.1" class="m">###</text><text x="756" y="2432" font-size="9.1" class="m">###</text><text x="798" y="2432" font-size="9.1" class="m">###</text><text x="533" y="2407" font-size="13.5" class="m" transform="rotate(-90 533 2407)">Movement time (s)</text><text x="474" y="2294" font-size="21.4">D2</text><rect x="760" y="2290" width="61" height="74" fill="#fff" stroke="#000" stroke-width="1.5"/><g stroke="#333" stroke-width="1" font-size="9.1"><path d="M762,2293h20.6v8.6h-20.6z" fill="url(#gb0)"/><text x="786" y="2300" stroke="none">Control</text><path d="M762,2305h20.6v8.6h-20.6z" fill="url(#gb1)"/><text x="786" y="2312" stroke="none">Model</text><path d="M762,2317h20.6v8.6h-20.6z" fill="url(#gb2)"/><text x="786" y="2324" stroke="none">SER</text><path d="M762,2329h20.6v8.6h-20.6z" fill="url(#gb3)"/><text x="786" y="2336" stroke="none">LBHgS</text><path d="M762,2340h20.6v8.6h-20.6z" fill="url(#gb4)"/><text x="786" y="2348" stroke="none">MBHgS</text><path d="M762,2352h20.6v8.6h-20.6z" fill="url(#gb5)"/><text x="786" y="2360" stroke="none">HBHgS</text></g>
<polyline points="955,2304 955,2511 1211,2511" fill="none" stroke="#000" stroke-width="1.5"/><text x="950" y="2514" font-size="9.5" class="e">0</text><text x="950" y="2473" font-size="9.5" class="e">10</text><text x="950" y="2431" font-size="9.5" class="e">20</text><text x="950" y="2390" font-size="9.5" class="e">30</text><text x="950" y="2349" font-size="9.5" class="e">40</text><text x="950" y="2307" font-size="9.5" class="e">50</text><text x="981" y="2527" font-size="9.5" class="e" transform="rotate(-45 981 2527)">Control</text><text x="1024" y="2527" font-size="9.5" class="e" transform="rotate(-45 1024 2527)">Model</text><text x="1067" y="2527" font-size="9.5" class="e" transform="rotate(-45 1067 2527)">SER</text><text x="1110" y="2527" font-size="9.5" class="e" transform="rotate(-45 1110 2527)">LBHgS</text><text x="1152" y="2527" font-size="9.5" class="e" transform="rotate(-45 1152 2527)">MBHgS</text><text x="1195" y="2527" font-size="9.5" class="e" transform="rotate(-45 1195 2527)">HBHgS</text><path d="M955,2511 H951 M955,2469 H951 M955,2428 H951 M955,2387 H951 M955,2346 H951 M955,2304 H951 M955,2490 H953 M955,2449 H953 M955,2407 H953 M955,2366 H953 M955,2325 H953 M976,2511 V2514 M1019,2511 V2514 M1062,2511 V2514 M1104,2511 V2514 M1147,2511 V2514 M1190,2511 V2514" stroke="#000" stroke-width="1.3" fill="none"/><g stroke="#303030" stroke-width="1.2"><path d="M964,2511H988V2465H964ZM976,2465V2445M969,2445H983" fill="url(#gb0)"/><path d="M1007,2511H1031V2499H1007ZM1019,2499V2497M1012,2497H1026" fill="url(#gb1)"/><path d="M1050,2511H1074V2483H1050ZM1062,2483V2477M1054,2477H1069" fill="url(#gb2)"/><path d="M1092,2511H1117V2487H1092ZM1104,2487V2478M1097,2478H1112" fill="url(#gb3)"/><path d="M1135,2511H1159V2487H1135ZM1147,2487V2483M1140,2483H1154" fill="url(#gb4)"/><path d="M1177,2511H1202V2490H1177ZM1190,2490V2481M1182,2481H1197" fill="url(#gb5)"/></g><path d="M972,2428h0M975,2465h0M972,2471h0M973,2488h0" stroke="#5a5a5a" stroke-width="7" class="d"/><path d="M971,2427h0M973,2464h0M971,2470h0M972,2486h0" stroke="#fff" stroke-opacity=".8" stroke-width="1.8" class="d"/><path d="M1024,2496h0M1022,2498h0M1018,2499h0" stroke="#ee3338" stroke-width="7" class="d"/><path d="M1023,2495h0M1021,2497h0M1016,2498h0" stroke="#fff" stroke-opacity=".8" stroke-width="1.8" class="d"/><path d="M1062,2474h0M1063,2482h0M1060,2484h0M1058,2490h0" stroke="#1f6fe0" stroke-width="7" class="d"/><path d="M1060,2473h0M1062,2480h0M1059,2483h0M1057,2489h0" stroke="#fff" stroke-opacity=".8" stroke-width="1.8" class="d"/><path d="M1104,2470h0M1108,2488h0M1109,2491h0" stroke="#2fae6b" stroke-width="7" class="d"/><path d="M1103,2469h0M1107,2487h0M1108,2490h0" stroke="#fff" stroke-opacity=".8" stroke-width="1.8" class="d"/><path d="M1148,2481h0M1150,2486h0M1146,2488h0" stroke="#aa66e6" stroke-width="7" class="d"/><path d="M1147,2480h0M1149,2485h0M1145,2487h0" stroke="#fff" stroke-opacity=".8" stroke-width="1.8" class="d"/><path d="M1193,2471h0M1193,2490h0M1194,2494h0M1186,2499h0" stroke="#dfa315" stroke-width="7" class="d"/><path d="M1192,2470h0M1192,2489h0M1193,2493h0M1185,2498h0" stroke="#fff" stroke-opacity=".8" stroke-width="1.8" class="d"/><text x="1019" y="2490" font-size="12.5" class="r m">***</text><text x="1062" y="2469" font-size="9.3" class="m">#</text><text x="1104" y="2463" font-size="9.3" class="m">#</text><text x="1147" y="2478" font-size="9.3" class="m">#</text><text x="1190" y="2463" font-size="9.3" class="m">#</text><text x="930" y="2407" font-size="13.5" class="m" transform="rotate(-90 930 2407)">Center residence time</text><text x="887" y="2293" font-size="21.6">D3</text><rect x="1172" y="2302" width="61" height="77" fill="#fff" stroke="#000" stroke-width="1.5"/><g stroke="#333" stroke-width=".6" font-size="9.2"><path d="M1174,2304h20.7v9h-20.7z" fill="url(#gb0)"/><text x="1198" y="2312" stroke="none">Control</text><path d="M1174,2317h20.7v9h-20.7z" fill="url(#gb1)"/><text x="1198" y="2325" stroke="none">Model</text><path d="M1174,2329h20.7v9h-20.7z" fill="url(#gb2)"/><text x="1198" y="2337" stroke="none">SER</text><path d="M1174,2342h20.7v9h-20.7z" fill="url(#gb3)"/><text x="1198" y="2350" stroke="none">LBHgS</text><path d="M1174,2355h20.7v9h-20.7z" fill="url(#gb4)"/><text x="1198" y="2362" stroke="none">MBHgS</text><path d="M1174,2367h20.7v9h-20.7z" fill="url(#gb5)"/><text x="1198" y="2375" stroke="none">HBHgS</text></g>
<rect x="955" y="2691" width="257" height="206" fill="none" stroke="#000" stroke-width="1.5"/><text x="949" y="2900" font-size="10.2" class="e">0</text><text x="949" y="2859" font-size="10.2" class="e">100</text><text x="949" y="2817" font-size="10.2" class="e">200</text><text x="949" y="2776" font-size="10.2" class="e">300</text><text x="949" y="2735" font-size="10.2" class="e">400</text><text x="949" y="2694" font-size="10.2" class="e">500</text><text x="1019" y="2915" font-size="10.2" class="m">TST</text><text x="1147" y="2915" font-size="10.2" class="m">FST</text><path d="M955,2896 H951 M955,2855 H951 M955,2814 H951 M955,2773 H951 M955,2732 H951 M955,2691 H951 M955,2876 H953 M955,2835 H953 M955,2794 H953 M955,2752 H953 M955,2711 H953 M1019,2896 V2900 M1147,2896 V2900" stroke="#000" stroke-width="1.3" fill="none"/><path d="M977,2896H987V2851H977ZM982,2851V2840M979,2840H985" fill="url(#gh0)" stroke="#5c5c5c" stroke-width=".7"/><path d="M982,2863h0M982,2853h0M982,2851h0M981,2861h0M981,2845h0" stroke="#5c5c5c" stroke-width="3.6" class="d"/><path d="M991,2896H1002V2855H991ZM997,2855V2849M994,2849H1000" fill="url(#gh1)" stroke="#ee3338" stroke-width=".7"/><path d="M995,2850h0M999,2859h0M996,2852h0M994,2852h0M996,2854h0" stroke="#ee3338" stroke-width="3.6" class="d"/><path d="M1006,2896H1017V2843H1006ZM1012,2843V2837M1008,2837H1015" fill="url(#gh2)" stroke="#1f6fe0" stroke-width=".7"/><path d="M1009,2842h0M1009,2846h0M1012,2842h0M1011,2847h0M1011,2846h0" stroke="#1f6fe0" stroke-width="3.6" class="d"/><path d="M1021,2896H1032V2837H1021ZM1026,2837V2824M1023,2824H1030" fill="url(#gh3)" stroke="#2fae6b" stroke-width=".7"/><path d="M1025,2846h0M1026,2831h0M1029,2841h0M1029,2843h0M1029,2830h0" stroke="#2fae6b" stroke-width="3.6" class="d"/><path d="M1036,2896H1047V2843H1036ZM1041,2843V2840M1038,2840H1045" fill="url(#gh4)" stroke="#a35ee0" stroke-width=".7"/><path d="M1043,2840h0M1042,2840h0M1040,2843h0M1042,2843h0M1039,2845h0" stroke="#a35ee0" stroke-width="3.6" class="d"/><path d="M1051,2896H1062V2839H1051ZM1056,2839V2829M1053,2829H1059" fill="url(#gh5)" stroke="#dfa315" stroke-width=".7"/><path d="M1057,2843h0M1058,2835h0M1057,2848h0M1056,2830h0M1055,2849h0" stroke="#dfa315" stroke-width="3.6" class="d"/><path d="M1104,2896H1115V2831H1104ZM1110,2831V2817M1106,2817H1113" fill="url(#gh0)" stroke="#5c5c5c" stroke-width=".7"/><path d="M1111,2836h0M1108,2832h0M1112,2830h0M1108,2847h0M1109,2839h0" stroke="#5c5c5c" stroke-width="3.6" class="d"/><path d="M1119,2896H1130V2850H1119ZM1124,2850V2836M1121,2836H1128" fill="url(#gh1)" stroke="#ee3338" stroke-width=".7"/><path d="M1127,2839h0M1127,2838h0M1123,2847h0M1125,2851h0M1125,2861h0" stroke="#ee3338" stroke-width="3.6" class="d"/><path d="M1134,2896H1145V2831H1134ZM1139,2831V2816M1136,2816H1143" fill="url(#gh2)" stroke="#1f6fe0" stroke-width=".7"/><path d="M1137,2847h0M1141,2843h0M1142,2827h0M1138,2819h0M1137,2842h0" stroke="#1f6fe0" stroke-width="3.6" class="d"/><path d="M1149,2896H1160V2822H1149ZM1154,2822V2812M1151,2812H1157" fill="url(#gh3)" stroke="#2fae6b" stroke-width=".7"/><path d="M1156,2825h0M1157,2823h0M1151,2813h0M1157,2823h0M1156,2819h0" stroke="#2fae6b" stroke-width="3.6" class="d"/><path d="M1164,2896H1174V2819H1164ZM1169,2819V2803M1166,2803H1172" fill="url(#gh4)" stroke="#a35ee0" stroke-width=".7"/><path d="M1167,2812h0M1169,2814h0M1166,2824h0M1167,2806h0M1166,2838h0" stroke="#a35ee0" stroke-width="3.6" class="d"/><path d="M1179,2896H1189V2818H1179ZM1184,2818V2805M1181,2805H1187" fill="url(#gh5)" stroke="#dfa315" stroke-width=".7"/><path d="M1183,2810h0M1182,2814h0M1186,2817h0M1183,2812h0M1182,2826h0" stroke="#dfa315" stroke-width="3.6" class="d"/><text x="997" y="2843" font-size="12.8" class="r m">*</text><text x="1012" y="2828" font-size="9.5" class="m">##</text><text x="1027" y="2821" font-size="9.5" class="m">##</text><text x="1042" y="2836" font-size="9.5" class="m">##</text><text x="1058" y="2822" font-size="9.5" class="m">##</text><text x="1125" y="2834" font-size="12.8" class="r m">*</text><text x="1140" y="2798" font-size="9.5" class="m">#</text><text x="1155" y="2800" font-size="9.5" class="m">##</text><text x="1170" y="2799" font-size="9.5" class="m">##</text><text x="1186" y="2802" font-size="9.5" class="m">###</text><text x="924" y="2794" font-size="13.6" class="m" transform="rotate(-90 924 2794)">Struggle time (s)</text><text x="887" y="2672" font-size="20.3">E</text><rect x="1148" y="2692" width="59.9" height="76" fill="#fff" stroke="#000" stroke-width="1.5"/><g stroke="#333" stroke-width=".7" font-size="9.2"><path d="M1150,2695h20.4v9h-20.4z" fill="url(#gh0)"/><text x="1174" y="2703" stroke="none">Control</text><path d="M1150,2707h20.4v9h-20.4z" fill="url(#gh1)"/><text x="1174" y="2715" stroke="none">Model</text><path d="M1150,2720h20.4v9h-20.4z" fill="url(#gh2)"/><text x="1174" y="2728" stroke="none">SER</text><path d="M1150,2732h20.4v9h-20.4z" fill="url(#gh3)"/><text x="1174" y="2740" stroke="none">LBHgS</text><path d="M1150,2745h20.4v9h-20.4z" fill="url(#gh4)"/><text x="1174" y="2752" stroke="none">MBHgS</text><path d="M1150,2757h20.4v9h-20.4z" fill="url(#gh5)"/><text x="1174" y="2765" stroke="none">HBHgS</text></g>
<text x="66" y="2572" font-size="22.3">D4</text>
<line x1="496" y1="2566" x2="496" y2="3014" stroke="#222" stroke-width=".9" stroke-dasharray="2.2 1.4"/>
<text x="134" y="2591" font-size="14.3">Control</text>
<text x="134" y="2741" font-size="14.3">SER</text>
<text x="134" y="2898" font-size="14.3">MBHgS</text>
<text x="540" y="2591" font-size="14.3">Model</text>
<text x="540" y="2741" font-size="14.3">LBHgS</text>
<text x="540" y="2898" font-size="14.3">HBHgS</text>
<rect x="289" y="2693" width="171" height="8.7" fill="url(#jet)"/>
<text x="291" y="2700" font-size="5.6" class="n" fill="#fff">0s</text>
<text x="460" y="2700" font-size="5.6" class="n e" fill="#fff">10s</text>
<rect x="289" y="2844" width="171" height="8.7" fill="url(#jet)"/>
<text x="291" y="2851" font-size="5.6" class="n" fill="#fff">0s</text>
<text x="460" y="2851" font-size="5.6" class="n e" fill="#fff">10s</text>
<rect x="290" y="3004" width="171" height="8.7" fill="url(#jet)"/>
<text x="291" y="3011" font-size="5.6" class="n" fill="#fff">0s</text>
<text x="460" y="3011" font-size="5.6" class="n e" fill="#fff">10s</text>
<rect x="665" y="2694" width="190" height="8.4" fill="url(#jet)"/>
<text x="666" y="2701" font-size="5.6" class="n" fill="#fff">0s</text>
<text x="854" y="2701" font-size="5.6" class="n e" fill="#fff">10s</text>
<rect x="665" y="2845" width="190" height="8.4" fill="url(#jet)"/>
<text x="666" y="2851" font-size="5.6" class="n" fill="#fff">0s</text>
<text x="854" y="2851" font-size="5.6" class="n e" fill="#fff">10s</text>
<rect x="660" y="3002" width="190" height="8.4" fill="url(#jet)"/>
<text x="662" y="3009" font-size="5.6" class="n" fill="#fff">0s</text>
<text x="849" y="3009" font-size="5.6" class="n e" fill="#fff">10s</text>
<rect x="166" y="2608" width="43.6" height="44" fill="#fff" stroke="#f08090" stroke-width=".7"/>
<polyline points="184,2618 175,2620 198,2620 183,2637 189,2647 187,2627 192,2619 204,2625 183,2637 174,2636 202,2624 205,2631 199,2629 184,2621 168,2618 207,2631 186,2646 192,2649 182,2619 204,2617 199,2634 207,2647 194,2612 169,2629 200,2613 185,2614 180,2610 181,2631 176,2641 170,2619 178,2626 198,2624 195,2647 173,2644 192,2640 192,2626 172,2616 175,2617 174,2618 190,2641 200,2644 173,2643 175,2613 179,2633 170,2619 184,2643 184,2627 183,2614 203,2647 197,2626 186,2622 194,2636 180,2645 196,2619 200,2637 178,2622 198,2613 185,2648 178,2630 204,2645" fill="none" stroke="#22e022" stroke-width=".8" stroke-linejoin="round"/>
<rect x="168" y="2610" width="39.3" height="39.6" fill="none" stroke="#22e022" stroke-width="1"/>
<path d="M 181 2608 L 181 2652 M 195 2608 L 195 2652 M 166 2623 L 210 2623 M 166 2637 L 210 2637" fill="none" stroke="#3030d0" stroke-width=".6"/>
<rect x="165" y="2759" width="45" height="45.4" fill="#fff" stroke="#f08090" stroke-width=".7"/>
<polyline points="199,2783 205,2772 203,2778 194,2787 178,2789 191,2802 194,2780 182,2798 181,2789 195,2801 175,2789 174,2788 193,2792 202,2771 202,2776 183,2766 188,2762 179,2789 197,2769 199,2780 175,2792 197,2781 188,2787 192,2793 198,2770 168,2766 179,2785 206,2779 182,2784 205,2786 179,2793 207,2794 183,2769 186,2767 172,2780 201,2790 184,2801 174,2772 178,2785 203,2777 200,2800 186,2798 203,2781 174,2765 177,2780 167,2775 187,2775 197,2785 188,2788 190,2779 174,2786 169,2763 181,2771 197,2768 185,2790 184,2795 172,2769 178,2777 190,2770 190,2790" fill="none" stroke="#22e022" stroke-width=".8" stroke-linejoin="round"/>
<rect x="167" y="2762" width="40.5" height="40.8" fill="none" stroke="#22e022" stroke-width="1"/>
<path d="M 180 2759 L 180 2805 M 195 2759 L 195 2805 M 165 2775 L 210 2775 M 165 2790 L 210 2790" fill="none" stroke="#3030d0" stroke-width=".6"/>
<rect x="167" y="2917" width="45" height="45.7" fill="#fff" stroke="#f08090" stroke-width=".7"/>
<polyline points="196,2953 173,2947 199,2953 175,2923 200,2946 176,2955 198,2945 200,2945 183,2922 183,2945 177,2927 174,2940 208,2950 170,2935 197,2923 202,2929 187,2952 205,2923 202,2955 203,2951 184,2932 171,2936 181,2926 208,2956 202,2932 174,2937 172,2934 194,2933 183,2933 203,2921 202,2945 192,2948 170,2955 181,2936 190,2957 179,2941 209,2928 196,2926 192,2937 192,2921 177,2957 177,2932 209,2930 193,2937 169,2946 190,2958 209,2923 193,2934 175,2957 173,2940 179,2943 178,2955 187,2928 202,2925 199,2930 203,2930 196,2947 190,2955 191,2929 191,2948" fill="none" stroke="#22e022" stroke-width=".8" stroke-linejoin="round"/>
<rect x="169" y="2919" width="40.5" height="41.2" fill="none" stroke="#22e022" stroke-width="1"/>
<path d="M 182 2917 L 182 2963 M 197 2917 L 197 2963 M 167 2932 L 212 2932 M 167 2948 L 212 2948" fill="none" stroke="#3030d0" stroke-width=".6"/>
<rect x="554" y="2605" width="46.1" height="45.7" fill="#fff" stroke="#f08090" stroke-width=".7"/>
<polyline points="556,2625 558,2621 556,2617 557,2614 556,2610 556,2609 558,2611 556,2609 560,2610 558,2606 565,2611 565,2608 568,2608 569,2610 569,2608 570,2608 573,2608 575,2607 581,2608 583,2607 584,2607 584,2610 586,2608 587,2610 590,2607 589,2610 594,2610 595,2619 597,2620 598,2624 596,2625 597,2627 596,2629 595,2630 598,2631 597,2642 596,2645 596,2646 597,2648 595,2648 595,2649 593,2648 592,2648 586,2649 574,2649 574,2649 571,2646 569,2648 566,2649 565,2647 564,2647 564,2646 559,2648 560,2647 558,2648 560,2646 556,2649 558,2646 557,2647 558,2631" fill="none" stroke="#22e022" stroke-width=".8" stroke-linejoin="round"/>
<rect x="556" y="2608" width="41.5" height="41.2" fill="none" stroke="#22e022" stroke-width="1"/>
<path d="M 569 2605 L 569 2651 M 584 2605 L 584 2651 M 554 2621 L 600 2621 M 554 2636 L 600 2636" fill="none" stroke="#3030d0" stroke-width=".6"/>
<rect x="553" y="2759" width="45" height="45.4" fill="#fff" stroke="#f08090" stroke-width=".7"/>
<polyline points="559,2763 589,2774 569,2763 581,2772 577,2776 569,2763 568,2799 593,2799 589,2795 580,2786 584,2801 579,2784 584,2796 577,2763 580,2776 560,2764 577,2801 578,2796 562,2775 594,2790 584,2774 582,2776 563,2768 562,2765 571,2797 577,2777 581,2799 565,2799 595,2776 558,2789 592,2777 568,2771 560,2789 567,2800 571,2767 582,2802 560,2801 582,2793 593,2784 577,2767 572,2784 566,2779 571,2796 569,2798 564,2788 575,2774 587,2802 560,2795 558,2776 594,2801 593,2776 585,2802 558,2796 584,2800 573,2788 586,2782 584,2771 557,2771 595,2779 591,2801" fill="none" stroke="#22e022" stroke-width=".8" stroke-linejoin="round"/>
<rect x="555" y="2762" width="40.5" height="40.8" fill="none" stroke="#22e022" stroke-width="1"/>
<path d="M 568 2759 L 568 2805 M 583 2759 L 583 2805 M 553 2775 L 598 2775 M 553 2790 L 598 2790" fill="none" stroke="#3030d0" stroke-width=".6"/>
<rect x="550" y="2917" width="42.2" height="42.6" fill="#fff" stroke="#f08090" stroke-width=".7"/>
<polyline points="587,2940 563,2942 581,2947 553,2921 553,2929 567,2933 581,2948 562,2932 586,2945 553,2932 583,2940 559,2935 577,2926 561,2951 566,2935 589,2956 563,2919 558,2956 578,2928 586,2953 579,2920 572,2927 561,2934 567,2953 566,2925 558,2937 562,2951 576,2947 558,2941 578,2921 567,2945 558,2956 560,2923 578,2957 581,2939 564,2927 554,2928 576,2928 589,2925 561,2935 588,2932 559,2947 555,2937 560,2956 568,2938 588,2944 589,2935 585,2936 562,2956 575,2924 573,2945 557,2937 569,2926 578,2938 574,2939 575,2949 570,2956 586,2936 556,2938 566,2953" fill="none" stroke="#22e022" stroke-width=".8" stroke-linejoin="round"/>
<rect x="552" y="2919" width="38" height="38.3" fill="none" stroke="#22e022" stroke-width="1"/>
<path d="M 564 2917 L 564 2959 M 578 2917 L 578 2959 M 550 2931 L 592 2931 M 550 2945 L 592 2945" fill="none" stroke="#3030d0" stroke-width=".6"/>
<rect x="339" y="2605" width="42.6" height="42.6" fill="url(#hm1)"/>
<rect x="359" y="2605" width="11.5" height="19.2" fill="#30d8a0" opacity="0.8"/>
<rect x="339" y="2608" width="15.3" height="36.2" fill="#ff0000" opacity="0.85"/>
<path d="M 354 2605 L 354 2648 M 368 2605 L 368 2648 M 339 2620 L 382 2620 M 339 2634 L 382 2634" fill="none" stroke="#2020a0" stroke-width=".5"/>
<rect x="339" y="2757" width="42.6" height="42.9" fill="url(#hm1)"/>
<path d="M 354 2757 L 354 2800 M 368 2757 L 368 2800 M 339 2771 L 382 2771 M 339 2786 L 382 2786" fill="none" stroke="#2020a0" stroke-width=".5"/>
<rect x="340" y="2917" width="42.2" height="42.9" fill="url(#hm1)"/>
<rect x="340" y="2948" width="42.2" height="12" fill="#ff0000" opacity="0.9"/>
<path d="M 354 2917 L 354 2960 M 368 2917 L 368 2960 M 340 2931 L 382 2931 M 340 2945 L 382 2945" fill="none" stroke="#2020a0" stroke-width=".5"/>
<rect x="721" y="2607" width="46.8" height="42.6" fill="url(#hm2)"/>
<path d="M 736 2607 L 736 2650 M 752 2607 L 752 2650 M 721 2621 L 767 2621 M 721 2636 L 767 2636" fill="none" stroke="#2020a0" stroke-width=".5"/>
<rect x="721" y="2757" width="46.8" height="42.9" fill="url(#hm1)"/>
<path d="M 736 2757 L 736 2800 M 752 2757 L 752 2800 M 721 2771 L 767 2771 M 721 2786 L 767 2786" fill="none" stroke="#2020a0" stroke-width=".5"/>
<rect x="716" y="2915" width="46.4" height="42.6" fill="url(#hm1)"/>
<rect x="716" y="2947" width="46.4" height="10.6" fill="#ff0000" opacity="0.9"/>
<path d="M 732 2915 L 732 2957 M 747 2915 L 747 2957 M 716 2929 L 762 2929 M 716 2943 L 762 2943" fill="none" stroke="#2020a0" stroke-width=".5"/>
<text x="66" y="1862" font-size="21.6">A</text>
<rect x="101" y="1850" width="391" height="395" fill="#fff" stroke="#4472c4" stroke-width="3.3" rx="2"/>
<text x="124" y="1875" font-size="22.6">2 h food consumption</text>
<text x="381" y="1875" font-size="22.1">OFT</text>
<text x="211" y="2009" font-size="22.5">TST</text>
<text x="383" y="2009" font-size="22">FST</text>
<text x="209" y="2229" font-size="30.1">Behavioral tests</text>
<g transform="translate(40 1820) scale(0.29946)"><path d="M690,505 C760,520 840,520 860,490 C870,450 800,420 740,405" stroke="#2a2220" stroke-width="16" fill="none" stroke-linecap="round"/><path d="M700,503 C760,512 835,512 853,488 C860,455 800,428 745,412" stroke="#c9a89a" stroke-width="8" fill="none" stroke-linecap="round"/><path d="M535,300 C600,270 690,290 730,350 C760,400 745,450 700,470 L620,480 C580,470 560,430 545,400 Z" fill="#eeeae0" stroke="#222" stroke-width="5"/><path d="M420,355 C440,300 490,270 540,272 C600,275 640,290 650,300 C600,300 560,320 545,350 C540,380 520,395 490,395 C450,395 425,375 420,355Z" fill="#3c3c40" stroke="#222" stroke-width="4"/><ellipse cx="503" cy="258" rx="20" ry="26" fill="#d9a89a" stroke="#222" stroke-width="4"/><ellipse cx="553" cy="280" rx="36" ry="30" fill="#e5b8a8" stroke="#222" stroke-width="4" transform="rotate(-30 553 280)"/><circle cx="483" cy="321" r="6" fill="#111"/><circle cx="426" cy="360" r="7" fill="#d89a90"/><ellipse cx="455" cy="413" rx="17" ry="21" fill="#f0a020" stroke="#222" stroke-width="4"/><path d="M470,400 L520,385 M560,462 L650,458 M590,487 L650,478" stroke="#222" stroke-width="14" stroke-linecap="round"/><path d="M565,462 L640,460 M598,486 L645,478" stroke="#eeeae0" stroke-width="6" stroke-linecap="round"/><polygon points="1040,295 1210,222 1395,298 1395,412 1225,488 1040,408" fill="#8a8a8a" stroke="#666" stroke-width="2"/><polygon points="1040,408 1210,338 1395,412 1225,488" fill="#cfcfcf" stroke="#777" stroke-width="2"/><polygon points="1040,295 1210,222 1210,338 1040,408" fill="#7e7e7e" stroke="#666" stroke-width="2"/><polygon points="1210,222 1395,298 1395,412 1210,338" fill="#858585" stroke="#666" stroke-width="2"/><path d="M1040,295 L1225,368 L1395,298 M1225,368 L1225,488" stroke="#6a6a6a" stroke-width="2" fill="none"/><ellipse cx="1195" cy="418" rx="36" ry="30" fill="#fafafa" stroke="#ccc" stroke-width="2"/><ellipse cx="1232" cy="437" rx="16" ry="14" fill="#fafafa" stroke="#ccc" stroke-width="2"/><path d="M629,835 C640,880 600,900 618,945" stroke="#4a4a4a" stroke-width="9" fill="none"/><path d="M587,695 L592,678 L600,700 L607,676 L615,700 L622,676 L630,700 L638,678 L646,700 L654,680 L662,700 L670,686 L671,825 L664,812 L657,838 L650,815 L643,840 L636,815 L629,842 L622,815 L614,838 L607,815 L600,836 L593,815 L587,828 Z" fill="#29a9e0" stroke="#555" stroke-width="2.5"/><path d="M610,945 C660,935 700,980 698,1030 C695,1080 670,1100 650,1110 L690,1110 L670,1125 C650,1160 610,1160 600,1130 L585,1095 C565,1050 570,980 610,945Z" fill="#454545"/><path d="M590,985 L560,1000 M585,1020 L555,1035 M585,1075 L545,1090 M595,1100 L565,1125" stroke="#454545" stroke-width="10" stroke-linecap="round"/><path d="M1048,715 L1058,1120 C1058,1165 1130,1190 1208,1190 C1290,1190 1360,1165 1360,1120 L1362,730 L1390,710 C1370,650 1060,640 1048,715Z" fill="url(#gBk)" stroke="#999" stroke-width="2"/><ellipse cx="1210" cy="808" rx="148" ry="38" fill="url(#gRip)" opacity="0.9"/><ellipse cx="1208" cy="1128" rx="100" ry="26" fill="#f0f0f0" opacity="0.6"/><path d="M1045,712 C1060,645 1370,650 1388,710 C1330,765 1090,765 1045,712Z" fill="none" stroke="#9cb8b0" stroke-width="7"/><path d="M1095,840 C1100,870 1110,885 1125,890" stroke="#c9907a" stroke-width="5" fill="none"/><path d="M1118,885 C1140,860 1200,850 1250,860 L1280,858 L1270,870 C1230,905 1170,925 1135,905Z" fill="#3a3230"/><ellipse cx="1252" cy="830" rx="38" ry="17" fill="#4a403c"/><circle cx="1228" cy="829" r="9" fill="#c9907a"/></g></g>
<g id="p5"><text x="1459" y="1953" font-size="21.7" class="r m">Control</text><text x="1623" y="1953" font-size="21.7" class="r m">Model</text><text x="1785" y="1953" font-size="21.7" class="r m">β-HgS</text><text x="1947" y="1953" font-size="21.7" class="r m">IMI</text><text x="2109" y="1953" font-size="21.7" class="r m">SER</text><text x="2272" y="1953" font-size="21.7" class="r m">IMI+β-HgS</text><text x="2434" y="1953" font-size="21.7" class="r m">SER+β-HgS</text>
<text x="1459" y="2082" font-size="21.7" class="r m">Control</text><text x="1623" y="2082" font-size="21.7" class="r m">Model</text><text x="1785" y="2082" font-size="21.7" class="r m">β-HgS</text><text x="1947" y="2082" font-size="21.7" class="r m">IMI</text><text x="2109" y="2082" font-size="21.7" class="r m">SER</text><text x="2272" y="2082" font-size="21.7" class="r m">IMI+β-HgS</text><text x="2434" y="2082" font-size="21.7" class="r m">SER+β-HgS</text>
<text x="1459" y="2380" font-size="21.7" class="r m">Control</text><text x="1623" y="2380" font-size="21.7" class="r m">Model</text><text x="1785" y="2380" font-size="21.7" class="r m">β-HgS</text><text x="1947" y="2380" font-size="21.7" class="r m">IMI</text><text x="2109" y="2380" font-size="21.7" class="r m">SER</text><text x="2272" y="2380" font-size="21.7" class="r m">IMI+β-HgS</text><text x="2434" y="2380" font-size="21.7" class="r m">SER+β-HgS</text>
<text x="1459" y="2680" font-size="21.7" class="r m">Control</text><text x="1623" y="2680" font-size="21.7" class="r m">Model</text><text x="1785" y="2680" font-size="21.7" class="r m">β-HgS</text><text x="1947" y="2680" font-size="21.7" class="r m">IMI</text><text x="2109" y="2680" font-size="21.7" class="r m">SER</text><text x="2272" y="2680" font-size="21.7" class="r m">IMI+β-HgS</text><text x="2434" y="2680" font-size="21.7" class="r m">SER+β-HgS</text>
<text x="1299" y="1934" font-size="28.3" class="a">A</text>
<text x="1299" y="2074" font-size="26.9" class="a">B</text>
<text x="1299" y="2373" font-size="26.9" class="a">C</text>
<text x="1299" y="2689" font-size="26.9" class="a">D</text>
<text x="1301" y="1998" font-size="22.7" class="r">Coronal</text>
<text x="1301" y="2026" font-size="22.7" class="r">section</text>
<text x="1341" y="2144" font-size="21.7" class="r m">CA1</text>
<text x="1341" y="2230" font-size="21.7" class="r m">CA3</text>
<text x="1341" y="2303" font-size="21.7" class="r m">DG</text>
<text x="1341" y="2442" font-size="21.7" class="r m">CA1</text>
<text x="1341" y="2528" font-size="21.7" class="r m">CA3</text>
<text x="1341" y="2601" font-size="21.7" class="r m">DG</text>
<text x="1341" y="2743" font-size="21.7" class="r m">CA1</text>
<text x="1341" y="2828" font-size="21.7" class="r m">CA3</text>
<text x="1341" y="2902" font-size="21.7" class="r m">DG</text>
<rect x="1380" y="2095" width="159" height="248" fill="#c9b8a8"/>
<rect x="1543" y="2095" width="160" height="248" fill="#c9b8a8"/>
<rect x="1706" y="2095" width="159" height="248" fill="#c9b8a8"/>
<rect x="1868" y="2095" width="160" height="248" fill="#c9b8a8"/>
<rect x="2030" y="2095" width="159" height="248" fill="#c9b8a8"/>
<rect x="2193" y="2095" width="159" height="248" fill="#c9b8a8"/>
<rect x="2355" y="2095" width="159" height="248" fill="#c9b8a8"/>
<rect x="1380" y="2394" width="159" height="86" fill="#c9b8a8"/>
<rect x="1543" y="2394" width="160" height="86" fill="#c9b8a8"/>
<rect x="1706" y="2394" width="159" height="86" fill="#c9b8a8"/>
<rect x="1868" y="2394" width="160" height="86" fill="#c9b8a8"/>
<rect x="2030" y="2394" width="159" height="86" fill="#c9b8a8"/>
<rect x="2193" y="2394" width="159" height="86" fill="#c9b8a8"/>
<rect x="2355" y="2394" width="159" height="86" fill="#c9b8a8"/>
<rect x="1380" y="2449" width="159" height="193" fill="#c9b8a8"/>
<rect x="1543" y="2449" width="160" height="193" fill="#c9b8a8"/>
<rect x="1706" y="2449" width="159" height="193" fill="#c9b8a8"/>
<rect x="1868" y="2449" width="160" height="193" fill="#c9b8a8"/>
<rect x="2030" y="2449" width="159" height="193" fill="#c9b8a8"/>
<rect x="2193" y="2449" width="159" height="193" fill="#c9b8a8"/>
<rect x="2355" y="2449" width="159" height="193" fill="#c9b8a8"/>
<rect x="1380" y="2694" width="159" height="248" fill="#c9b8a8"/>
<rect x="1543" y="2694" width="160" height="248" fill="#c9b8a8"/>
<rect x="1706" y="2694" width="159" height="248" fill="#c9b8a8"/>
<rect x="1868" y="2694" width="160" height="248" fill="#c9b8a8"/>
<rect x="2030" y="2694" width="159" height="248" fill="#c9b8a8"/>
<rect x="2193" y="2694" width="159" height="248" fill="#c9b8a8"/>
<rect x="2355" y="2694" width="159" height="248" fill="#c9b8a8"/>
<svg x="1380" y="1964" width="159" height="82" viewBox="200 1200 100 51.3" preserveAspectRatio="none" overflow="hidden"><rect x="200" y="1200" width="100" height="51.3" fill="#000"/><g transform="translate(200 1200)" opacity="0.62"><path d="M50,7 C60,0 82,2 91,13 C98,24 97,38 88,46 C78,52 62,50 50,47 C38,50 22,52 12,46 C3,38 2,24 9,13 C18,2 40,0 50,7Z" fill="#071a5c"/></g><path d="M250,1207 c10,-7 32,-5 41,6 c7,11 6,25 -3,33 c-10,6 -26,4 -38,1 c-12,3 -28,5 -38,-1 c-9,-8 -10,-22 -3,-33 c9,-11 31,-13 41,-6Z" fill="#2050d0" opacity="0.62" fill-opacity=".93" filter="url(#fk)"/><path d="M222,1228 c2,-8 8,-10 12,-6 M278,1228 c-2,-8 -8,-10 -12,-6" stroke="#1a50e0" stroke-width="1.6" fill="none" opacity="0.9"/></svg>
<svg x="1543" y="1964" width="160" height="82" viewBox="350 1200 100 51.3" preserveAspectRatio="none" overflow="hidden"><rect x="350" y="1200" width="100" height="51.3" fill="#000"/><g transform="translate(350 1200)" opacity="0.5"><path d="M50,7 C60,0 82,2 91,13 C98,24 97,38 88,46 C78,52 62,50 50,47 C38,50 22,52 12,46 C3,38 2,24 9,13 C18,2 40,0 50,7Z" fill="#071a5c"/></g><path d="M400,1207 c10,-7 32,-5 41,6 c7,11 6,25 -3,33 c-10,6 -26,4 -38,1 c-12,3 -28,5 -38,-1 c-9,-8 -10,-22 -3,-33 c9,-11 31,-13 41,-6Z" fill="#2050d0" opacity="0.5" fill-opacity=".93" filter="url(#fk)"/><path d="M372,1228 c2,-8 8,-10 12,-6 M428,1228 c-2,-8 -8,-10 -12,-6" stroke="#1a50e0" stroke-width="1.6" fill="none" opacity="0.9"/></svg>
<svg x="1706" y="1964" width="159" height="82" viewBox="500 1200 100 51.3" preserveAspectRatio="none" overflow="hidden"><rect x="500" y="1200" width="100" height="51.3" fill="#000"/><g transform="translate(500 1200)" opacity="0.5"><path d="M50,7 C60,0 82,2 91,13 C98,24 97,38 88,46 C78,52 62,50 50,47 C38,50 22,52 12,46 C3,38 2,24 9,13 C18,2 40,0 50,7Z" fill="#071a5c"/></g><path d="M550,1207 c10,-7 32,-5 41,6 c7,11 6,25 -3,33 c-10,6 -26,4 -38,1 c-12,3 -28,5 -38,-1 c-9,-8 -10,-22 -3,-33 c9,-11 31,-13 41,-6Z" fill="#2050d0" opacity="0.5" fill-opacity=".93" filter="url(#fk)"/><path d="M522,1228 c2,-8 8,-10 12,-6 M578,1228 c-2,-8 -8,-10 -12,-6" stroke="#1a50e0" stroke-width="1.6" fill="none" opacity="0.9"/></svg>
<svg x="1868" y="1964" width="160" height="82" viewBox="650 1200 100 51.3" preserveAspectRatio="none" overflow="hidden"><rect x="650" y="1200" width="100" height="51.3" fill="#000"/><g transform="translate(650 1200)" opacity="0.5"><path d="M50,7 C60,0 82,2 91,13 C98,24 97,38 88,46 C78,52 62,50 50,47 C38,50 22,52 12,46 C3,38 2,24 9,13 C18,2 40,0 50,7Z" fill="#071a5c"/></g><path d="M700,1207 c10,-7 32,-5 41,6 c7,11 6,25 -3,33 c-10,6 -26,4 -38,1 c-12,3 -28,5 -38,-1 c-9,-8 -10,-22 -3,-33 c9,-11 31,-13 41,-6Z" fill="#2050d0" opacity="0.5" fill-opacity=".93" filter="url(#fk)"/><path d="M672,1228 c2,-8 8,-10 12,-6 M728,1228 c-2,-8 -8,-10 -12,-6" stroke="#1a50e0" stroke-width="1.6" fill="none" opacity="0.9"/></svg>
<svg x="2030" y="1964" width="159" height="82" viewBox="800 1200 100 51.3" preserveAspectRatio="none" overflow="hidden"><rect x="800" y="1200" width="100" height="51.3" fill="#000"/><g transform="translate(800 1200)" opacity="0.5"><path d="M50,7 C60,0 82,2 91,13 C98,24 97,38 88,46 C78,52 62,50 50,47 C38,50 22,52 12,46 C3,38 2,24 9,13 C18,2 40,0 50,7Z" fill="#071a5c"/></g><path d="M850,1207 c10,-7 32,-5 41,6 c7,11 6,25 -3,33 c-10,6 -26,4 -38,1 c-12,3 -28,5 -38,-1 c-9,-8 -10,-22 -3,-33 c9,-11 31,-13 41,-6Z" fill="#2050d0" opacity="0.5" fill-opacity=".93" filter="url(#fk)"/><path d="M822,1228 c2,-8 8,-10 12,-6 M878,1228 c-2,-8 -8,-10 -12,-6" stroke="#1a50e0" stroke-width="1.6" fill="none" opacity="0.9"/></svg>
<svg x="2193" y="1964" width="159" height="82" viewBox="950 1200 100 51.3" preserveAspectRatio="none" overflow="hidden"><rect x="950" y="1200" width="100" height="51.3" fill="#000"/><g transform="translate(950 1200)" opacity="0.42"><path d="M50,7 C60,0 82,2 91,13 C98,24 97,38 88,46 C78,52 62,50 50,47 C38,50 22,52 12,46 C3,38 2,24 9,13 C18,2 40,0 50,7Z" fill="#071a5c"/></g><path d="M1000,1207 c10,-7 32,-5 41,6 c7,11 6,25 -3,33 c-10,6 -26,4 -38,1 c-12,3 -28,5 -38,-1 c-9,-8 -10,-22 -3,-33 c9,-11 31,-13 41,-6Z" fill="#2050d0" opacity="0.42" fill-opacity=".93" filter="url(#fk)"/><path d="M972,1228 c2,-8 8,-10 12,-6 M1028,1228 c-2,-8 -8,-10 -12,-6" stroke="#1a50e0" stroke-width="1.6" fill="none" opacity="0.9"/></svg>
<svg x="2355" y="1964" width="159" height="82" viewBox="1100 1200 100 51.3" preserveAspectRatio="none" overflow="hidden"><rect x="1100" y="1200" width="100" height="51.3" fill="#000"/><g transform="translate(1100 1200)" opacity="0.85"><path d="M50,7 C60,0 82,2 91,13 C98,24 97,38 88,46 C78,52 62,50 50,47 C38,50 22,52 12,46 C3,38 2,24 9,13 C18,2 40,0 50,7Z" fill="#071a5c"/></g><path d="M1150,1207 c10,-7 32,-5 41,6 c7,11 6,25 -3,33 c-10,6 -26,4 -38,1 c-12,3 -28,5 -38,-1 c-9,-8 -10,-22 -3,-33 c9,-11 31,-13 41,-6Z" fill="#2050d0" opacity="0.85" fill-opacity=".93" filter="url(#fk)"/><path d="M1122,1228 c2,-8 8,-10 12,-6 M1178,1228 c-2,-8 -8,-10 -12,-6" stroke="#1a50e0" stroke-width="1.6" fill="none" opacity="0.9"/></svg>
<svg x="1380" y="2095" width="159" height="82" viewBox="137 71 100 51.3" preserveAspectRatio="none" overflow="hidden"><rect x="137" y="71" width="100" height="51.3" fill="#000"/><g filter="url(#fk)"><rect x="135" y="69" width="104" height="55" fill="#f01414" fill-opacity=".75"/><path d="M166,127L169,122L174,115L180,107L185,99L191,92L198,84L204,76L208,71L202,66L197,71L191,78L185,86L179,94L173,102L167,110L162,117L158,122Z" fill="#f01414" fill-opacity="1.00"/></g></svg>
<svg x="1380" y="2179" width="159" height="81" viewBox="274 142 100 51.3" preserveAspectRatio="none" overflow="hidden"><rect x="274" y="142" width="100" height="51.3" fill="#000"/><g filter="url(#fk)"><rect x="272" y="140" width="104" height="55" fill="#f01414" fill-opacity=".76"/><path d="M272,153L281,156L294,161L309,165L323,169L337,172L351,174L364,175L373,177L375,164L366,163L353,161L339,159L325,156L312,153L298,148L285,144L276,141Z" fill="#f01414" fill-opacity=".91"/><path d="M283,192L291,192L301,193L313,194L323,194L334,195L346,196L356,196L363,197L365,179L357,179L347,178L335,178L325,177L314,176L302,175L292,175L285,174Z" fill="#f01414" fill-opacity=".81"/></g></svg>
<svg x="1380" y="2261" width="159" height="82" viewBox="411 213 100 51.3" preserveAspectRatio="none" overflow="hidden"><rect x="411" y="213" width="100" height="51.3" fill="#000"/><g filter="url(#fk)"><rect x="409" y="211" width="104" height="55" fill="#f01414" fill-opacity=".76"/><path d="M414,249L419,246L427,241L436,237L443,233L450,230L455,228L460,226L467,225L477,224L490,224L502,224L511,225L511,214L503,213L490,213L477,213L465,214L457,215L450,218L445,221L439,223L431,227L422,232L414,236L408,239Z" fill="#f01414" fill-opacity="1.00"/><path d="M443,235L446,238L452,242L458,248L463,252L467,257L472,262L476,267L479,270L487,264L484,260L479,256L474,250L469,245L464,240L458,235L453,231L449,227Z" fill="#f01414" fill-opacity="1.00"/><path d="M410,258L413,258L417,258L421,259L425,259L429,259L434,260L438,260L440,260L442,243L439,243L435,242L431,242L427,242L423,241L418,241L414,240L412,240Z" fill="#f01414" fill-opacity=".92"/></g></svg>
<svg x="1543" y="2095" width="160" height="82" viewBox="548 284 100 51.3" preserveAspectRatio="none" overflow="hidden"><rect x="548" y="284" width="100" height="51.3" fill="#000"/><g filter="url(#fk)"><rect x="546" y="282" width="104" height="55" fill="#f01414" fill-opacity=".75"/><path d="M565,285L569,288L575,293L582,299L590,305L600,314L612,324L623,334L630,341L636,335L628,328L617,318L606,307L596,299L588,292L581,286L575,281L571,278Z" fill="#f01414" fill-opacity="1.00"/></g></svg>
<svg x="1543" y="2179" width="160" height="81" viewBox="685 355 100 51.3" preserveAspectRatio="none" overflow="hidden"><rect x="685" y="355" width="100" height="51.3" fill="#000"/><g filter="url(#fk)"><rect x="683" y="353" width="104" height="55" fill="#f01414" fill-opacity=".76"/><path d="M739,353L739,358L739,365L740,373L741,381L742,389L744,397L746,405L747,410L755,408L754,403L752,396L751,388L749,380L749,373L748,365L748,357L747,352Z" fill="#f01414" fill-opacity=".91"/></g></svg>
<svg x="1543" y="2261" width="160" height="82" viewBox="822 426 100 51.3" preserveAspectRatio="none" overflow="hidden"><rect x="822" y="426" width="100" height="51.3" fill="#000"/><g filter="url(#fk)"><rect x="820" y="424" width="104" height="55" fill="#f01414" fill-opacity=".76"/><path d="M825,474L831,471L838,465L847,460L858,457L873,455L892,455L910,455L922,455L922,444L910,444L892,444L872,444L856,446L843,450L833,456L825,461L819,465Z" fill="#f01414" fill-opacity="1.00"/><path d="M827,464L828,465L831,467L834,469L837,471L839,473L842,476L845,478L847,479L857,465L856,464L853,462L850,460L847,458L845,455L842,453L839,451L837,450Z" fill="#f01414" fill-opacity=".90"/><path d="M852,443L857,443L863,442L870,442L877,442L884,441L891,441L898,440L902,440L902,427L897,427L891,428L884,428L877,428L870,429L863,429L856,429L852,430Z" fill="#f01414" fill-opacity=".88"/></g></svg>
<svg x="1706" y="2095" width="159" height="82" viewBox="959 497 100 51.3" preserveAspectRatio="none" overflow="hidden"><rect x="959" y="497" width="100" height="51.3" fill="#000"/><g filter="url(#fk)"><rect x="957" y="495" width="104" height="55" fill="#f01414" fill-opacity=".75"/><path d="M959,526L966,526L976,527L988,527L998,528L1009,529L1020,531L1030,532L1038,533L1044,535L1049,537L1053,539L1057,541L1061,530L1058,529L1054,527L1048,524L1040,522L1031,521L1021,519L1010,518L1000,517L988,516L977,515L966,515L959,514Z" fill="#f01414" fill-opacity=".90"/></g></svg>
<svg x="1706" y="2179" width="159" height="81" viewBox="1096 568 100 51.3" preserveAspectRatio="none" overflow="hidden"><rect x="1096" y="568" width="100" height="51.3" fill="#000"/><g filter="url(#fk)"><rect x="1094" y="566" width="104" height="55" fill="#f01414" fill-opacity=".76"/><path d="M1121,594L1134,594L1152,593L1168,593L1165,584L1164,577L1147,583L1129,589L1115,604L1132,617L1150,619L1168,619L1181,620L1181,598L1169,598L1151,597L1135,596L1137,604L1138,609L1155,604L1172,598L1187,583L1169,571L1151,571L1133,572L1121,572Z" fill="#f01414" fill-opacity=".90"/></g></svg>
<svg x="1706" y="2261" width="159" height="82" viewBox="1233 639 100 51.3" preserveAspectRatio="none" overflow="hidden"><rect x="1233" y="639" width="100" height="51.3" fill="#000"/><g filter="url(#fk)"><rect x="1231" y="637" width="104" height="55" fill="#f01414" fill-opacity=".76"/><path d="M1265,666L1270,664L1277,661L1286,657L1294,654L1304,651L1316,649L1326,648L1334,646L1332,637L1325,638L1314,640L1302,642L1292,645L1282,648L1274,652L1266,655L1261,658Z" fill="#f01414" fill-opacity="1.00"/><path d="M1261,672L1264,674L1268,677L1272,681L1276,684L1280,687L1285,690L1288,693L1291,695L1295,690L1292,688L1288,685L1284,682L1280,679L1276,676L1271,672L1268,669L1265,667Z" fill="#f01414" fill-opacity=".90"/><path d="M1243,683L1250,683L1260,683L1272,683L1283,683L1294,683L1306,683L1316,683L1323,683L1323,657L1316,657L1306,657L1294,657L1283,657L1272,657L1260,657L1250,657L1243,657Z" fill="#f01414" fill-opacity=".81"/></g></svg>
<svg x="1868" y="2095" width="160" height="82" viewBox="1370 710 100 51.3" preserveAspectRatio="none" overflow="hidden"><rect x="1370" y="710" width="100" height="51.3" fill="#000"/><g filter="url(#fk)"><rect x="1368" y="708" width="104" height="55" fill="#f01414" fill-opacity=".75"/><path d="M1370,739L1379,739L1392,740L1406,740L1420,741L1433,743L1448,744L1460,745L1469,746L1471,735L1462,734L1449,733L1434,731L1420,730L1407,729L1392,728L1379,728L1370,727Z" fill="#f01414" fill-opacity="1.00"/></g></svg>
<svg x="1868" y="2179" width="160" height="81" viewBox="1507 781 100 51.3" preserveAspectRatio="none" overflow="hidden"><rect x="1507" y="781" width="100" height="51.3" fill="#000"/><g filter="url(#fk)"><rect x="1505" y="779" width="104" height="55" fill="#f01414" fill-opacity=".76"/><path d="M1546,778L1546,784L1546,791L1546,799L1546,807L1546,814L1546,823L1546,830L1546,835L1568,835L1568,830L1568,823L1568,814L1568,807L1568,799L1568,791L1568,784L1568,778Z" fill="#f01414" fill-opacity="1.00"/><path d="M1528,822L1541,821L1561,821L1578,820L1572,811L1574,797L1558,803L1540,809L1523,820L1542,844L1557,844L1572,843L1583,842L1581,812L1571,812L1556,813L1544,813L1551,834L1551,837L1568,831L1586,825L1602,802L1579,790L1560,790L1540,791L1526,791Z" fill="#f01414" fill-opacity=".91"/></g></svg>
<svg x="1868" y="2261" width="160" height="82" viewBox="1644 852 100 51.3" preserveAspectRatio="none" overflow="hidden"><rect x="1644" y="852" width="100" height="51.3" fill="#000"/><g filter="url(#fk)"><rect x="1642" y="850" width="104" height="55" fill="#f01414" fill-opacity=".76"/><path d="M1743,857L1732,858L1716,860L1698,863L1683,865L1671,867L1660,868L1651,871L1645,875L1646,884L1653,888L1662,891L1673,894L1690,896L1710,897L1730,899L1744,899L1744,889L1731,888L1711,887L1690,886L1675,884L1665,881L1657,879L1654,877L1653,880L1655,880L1662,879L1673,877L1685,875L1699,873L1717,871L1733,869L1745,867Z" fill="#f01414" fill-opacity="1.00"/></g></svg>
<svg x="2030" y="2095" width="159" height="82" viewBox="1781 23 100 51.3" preserveAspectRatio="none" overflow="hidden"><rect x="1781" y="23" width="100" height="51.3" fill="#000"/><g filter="url(#fk)"><rect x="1779" y="21" width="104" height="55" fill="#f01414" fill-opacity=".75"/><path d="M1782,56L1791,55L1804,53L1819,52L1831,51L1841,51L1850,52L1858,54L1864,56L1869,58L1873,60L1876,63L1878,65L1884,58L1882,56L1879,53L1874,49L1868,47L1860,45L1851,43L1842,42L1831,41L1818,42L1803,44L1790,45L1780,46Z" fill="#f01414" fill-opacity=".91"/></g></svg>
<svg x="2030" y="2179" width="159" height="81" viewBox="18 94 100 51.3" preserveAspectRatio="none" overflow="hidden"><rect x="18" y="94" width="100" height="51.3" fill="#000"/><g filter="url(#fk)"><rect x="16" y="92" width="104" height="55" fill="#f01414" fill-opacity=".76"/><path d="M32,113L36,116L41,120L46,123L50,127L52,130L54,135L56,140L58,144L78,136L77,132L74,127L71,120L66,113L60,107L54,102L48,98L44,95Z" fill="#f01414" fill-opacity=".88"/></g></svg>
<svg x="2030" y="2261" width="159" height="82" viewBox="155 165 100 51.3" preserveAspectRatio="none" overflow="hidden"><rect x="155" y="165" width="100" height="51.3" fill="#000"/><g filter="url(#fk)"><rect x="153" y="163" width="104" height="55" fill="#f01414" fill-opacity=".76"/><path d="M158,197L163,193L171,187L180,182L191,177L206,174L225,172L243,171L255,170L255,160L242,161L224,163L205,165L189,168L176,173L166,179L158,185L152,189Z" fill="#f01414" fill-opacity=".90"/><path d="M167,197L172,200L179,205L187,211L192,215L196,217L199,220L201,221L202,222L208,215L206,214L204,213L201,211L198,208L192,203L184,198L177,193L173,190Z" fill="#f01414" fill-opacity=".90"/><path d="M165,206L172,206L182,206L194,206L205,206L216,206L228,206L238,206L245,206L245,175L238,175L228,175L216,175L205,175L194,175L182,175L172,175L165,175Z" fill="#f01414" fill-opacity=".79"/></g></svg>
<svg x="2193" y="2095" width="159" height="82" viewBox="292 236 100 51.3" preserveAspectRatio="none" overflow="hidden"><rect x="292" y="236" width="100" height="51.3" fill="#000"/><g filter="url(#fk)"><rect x="290" y="234" width="104" height="55" fill="#f01414" fill-opacity=".75"/><path d="M292,272L301,271L314,269L329,268L342,267L355,268L370,269L383,270L392,271L392,261L383,260L370,259L356,258L342,258L328,259L313,260L300,261L292,262Z" fill="#f01414" fill-opacity="1.00"/></g></svg>
<svg x="2193" y="2179" width="159" height="81" viewBox="429 307 100 51.3" preserveAspectRatio="none" overflow="hidden"><rect x="429" y="307" width="100" height="51.3" fill="#000"/><g filter="url(#fk)"><rect x="427" y="305" width="104" height="55" fill="#f01414" fill-opacity=".76"/><path d="M472,305L472,310L473,317L474,325L475,333L476,341L477,349L479,357L480,362L488,360L487,355L486,348L485,340L483,332L482,324L482,316L481,309L480,304Z" fill="#f01414" fill-opacity=".90"/></g></svg>
<svg x="2193" y="2261" width="159" height="82" viewBox="566 378 100 51.3" preserveAspectRatio="none" overflow="hidden"><rect x="566" y="378" width="100" height="51.3" fill="#000"/><g filter="url(#fk)"><rect x="564" y="376" width="104" height="55" fill="#f01414" fill-opacity=".76"/><path d="M665,385L654,387L637,389L620,391L605,393L593,395L582,396L572,399L565,406L572,414L581,418L593,422L604,426L617,429L632,432L645,435L655,437L657,426L648,424L634,421L620,418L608,415L596,411L585,408L577,404L577,406L576,409L584,408L595,406L607,404L621,402L639,400L655,398L667,396Z" fill="#f01414" fill-opacity="1.00"/></g></svg>
<svg x="2355" y="2095" width="159" height="82" viewBox="703 449 100 51.3" preserveAspectRatio="none" overflow="hidden"><rect x="703" y="449" width="100" height="51.3" fill="#000"/><g filter="url(#fk)"><rect x="701" y="447" width="104" height="55" fill="#f01414" fill-opacity=".75"/><path d="M714,484L721,483L731,482L742,481L753,480L763,480L774,481L784,483L792,484L796,485L797,487L798,488L800,490L806,485L805,484L804,481L800,478L794,476L786,474L775,473L764,472L753,471L742,472L730,473L720,475L712,475Z" fill="#f01414" fill-opacity="1.00"/></g></svg>
<svg x="2355" y="2179" width="159" height="81" viewBox="840 520 100 51.3" preserveAspectRatio="none" overflow="hidden"><rect x="840" y="520" width="100" height="51.3" fill="#000"/><g filter="url(#fk)"><rect x="838" y="518" width="104" height="55" fill="#f01414" fill-opacity=".76"/><path d="M882,517L881,522L881,530L881,538L881,545L880,553L878,561L877,568L877,573L883,574L884,569L885,562L887,554L887,546L888,538L888,530L888,523L888,518Z" fill="#f01414" fill-opacity=".90"/></g></svg>
<svg x="2355" y="2261" width="159" height="82" viewBox="977 591 100 51.3" preserveAspectRatio="none" overflow="hidden"><rect x="977" y="591" width="100" height="51.3" fill="#000"/><g filter="url(#fk)"><rect x="975" y="589" width="104" height="55" fill="#f01414" fill-opacity=".76"/><path d="M988,621L995,619L1005,615L1016,612L1027,611L1040,611L1054,613L1067,615L1076,617L1078,608L1068,607L1055,605L1040,603L1027,602L1014,604L1003,607L993,610L986,612Z" fill="#f01414" fill-opacity="1.00"/><path d="M1036,637L1040,638L1045,638L1051,639L1056,640L1061,640L1067,641L1072,642L1076,642L1078,627L1074,627L1069,626L1063,625L1058,624L1053,624L1047,623L1042,622L1038,622Z" fill="#f01414" fill-opacity=".90"/></g></svg>
<svg x="1380" y="2394" width="159" height="82" viewBox="1114 662 100 51.3" preserveAspectRatio="none" overflow="hidden"><rect x="1114" y="662" width="100" height="51.3" fill="#000"/><g filter="url(#fk)"><rect x="1112" y="660" width="104" height="55" fill="#b01818" fill-opacity=".70"/><path d="M1114,694L1123,694L1136,694L1150,694L1163,694L1177,696L1191,698L1204,700L1213,702L1215,689L1206,687L1193,685L1179,683L1165,681L1150,681L1136,681L1123,681L1114,681Z" fill="#b01818" fill-opacity=".84"/></g><g transform="translate(-52 -27)"><rect x="1164" y="687" width="104" height="55" fill="#30c020" fill-opacity=".66" filter="url(#fk)"/></g></svg>
<svg x="1380" y="2478" width="159" height="80" viewBox="1251 733 100 51.3" preserveAspectRatio="none" overflow="hidden"><rect x="1251" y="733" width="100" height="51.3" fill="#000"/><g filter="url(#fk)"><rect x="1249" y="731" width="104" height="55" fill="#b01818" fill-opacity=".71"/><path d="M1252,772L1258,771L1265,771L1273,771L1277,771L1280,773L1284,776L1289,780L1292,784L1310,764L1307,761L1301,756L1294,751L1285,746L1274,745L1264,745L1256,745L1250,746Z" fill="#b01818" fill-opacity=".86"/></g><g transform="translate(-52 -27)"><rect x="1301" y="758" width="104" height="55" fill="#30c020" fill-opacity=".66" filter="url(#fk)"/></g></svg>
<svg x="1380" y="2560" width="159" height="82" viewBox="1388 804 100 51.3" preserveAspectRatio="none" overflow="hidden"><rect x="1388" y="804" width="100" height="51.3" fill="#000"/><g filter="url(#fk)"><rect x="1386" y="802" width="104" height="55" fill="#b01818" fill-opacity=".71"/><path d="M1391,849L1397,846L1407,842L1418,837L1430,833L1444,830L1462,826L1478,823L1489,821L1487,808L1475,810L1459,813L1442,817L1426,821L1413,825L1402,830L1392,834L1385,836Z" fill="#b01818" fill-opacity=".86"/><path d="M1417,836L1423,837L1432,839L1442,842L1452,844L1461,846L1471,848L1480,850L1487,851L1489,839L1483,837L1474,835L1464,833L1454,831L1445,829L1435,827L1426,825L1419,823Z" fill="#b01818" fill-opacity=".85"/></g><g transform="translate(-52 -27)"><rect x="1438" y="829" width="104" height="55" fill="#30c020" fill-opacity=".66" filter="url(#fk)"/></g></svg>
<svg x="1543" y="2394" width="160" height="82" viewBox="1525 875 100 51.3" preserveAspectRatio="none" overflow="hidden"><rect x="1525" y="875" width="100" height="51.3" fill="#000"/><g filter="url(#fk)"><rect x="1523" y="873" width="104" height="55" fill="#b01818" fill-opacity=".70"/></g><g transform="translate(-52 -27)"><rect x="1575" y="900" width="104" height="55" fill="#30c020" fill-opacity=".66" filter="url(#fk)"/></g></svg>
<svg x="1543" y="2478" width="160" height="80" viewBox="1662 46 100 51.3" preserveAspectRatio="none" overflow="hidden"><rect x="1662" y="46" width="100" height="51.3" fill="#000"/><g filter="url(#fk)"><rect x="1660" y="44" width="104" height="55" fill="#b01818" fill-opacity=".71"/><path d="M1692,80L1695,80L1699,80L1703,80L1707,80L1711,80L1715,80L1719,80L1722,80L1722,63L1719,63L1715,63L1711,63L1707,63L1703,63L1699,63L1695,63L1692,63Z" fill="#b01818" fill-opacity=".80"/></g><g transform="translate(-52 -27)"><rect x="1712" y="71" width="104" height="55" fill="#30c020" fill-opacity=".66" filter="url(#fk)"/></g></svg>
<svg x="1543" y="2560" width="160" height="82" viewBox="1799 117 100 51.3" preserveAspectRatio="none" overflow="hidden"><rect x="1799" y="117" width="100" height="51.3" fill="#000"/><g filter="url(#fk)"><rect x="1797" y="115" width="104" height="55" fill="#b01818" fill-opacity=".71"/><path d="M1820,156L1826,155L1834,154L1842,153L1850,151L1859,150L1867,148L1875,147L1880,146L1878,129L1872,130L1864,131L1856,133L1848,134L1839,135L1831,137L1823,138L1818,139Z" fill="#b01818" fill-opacity=".80"/></g><g transform="translate(-52 -27)"><rect x="1849" y="142" width="104" height="55" fill="#30c020" fill-opacity=".65" filter="url(#fk)"/></g></svg>
<svg x="1706" y="2394" width="159" height="82" viewBox="36 188 100 51.3" preserveAspectRatio="none" overflow="hidden"><rect x="36" y="188" width="100" height="51.3" fill="#000"/><g filter="url(#fk)"><rect x="34" y="186" width="104" height="55" fill="#b01818" fill-opacity=".70"/><path d="M37,221L44,220L53,218L64,216L76,216L90,218L107,221L123,224L135,226L137,212L126,209L110,206L92,203L76,201L63,201L51,203L41,205L35,206Z" fill="#b01818" fill-opacity=".87"/></g><g transform="translate(-52 -27)"><rect x="86" y="213" width="104" height="55" fill="#30c020" fill-opacity=".68" filter="url(#fk)"/></g></svg>
<svg x="1706" y="2478" width="159" height="80" viewBox="173 259 100 51.3" preserveAspectRatio="none" overflow="hidden"><rect x="173" y="259" width="100" height="51.3" fill="#000"/><g filter="url(#fk)"><rect x="171" y="257" width="104" height="55" fill="#b01818" fill-opacity=".71"/><path d="M193,302L198,302L206,302L215,302L223,302L231,302L240,302L248,302L253,302L253,267L248,267L240,267L231,267L223,267L215,267L206,267L198,267L193,267Z" fill="#b01818" fill-opacity=".76"/></g><g transform="translate(-52 -27)"><rect x="223" y="284" width="104" height="55" fill="#30c020" fill-opacity=".68" filter="url(#fk)"/></g></svg>
<svg x="1706" y="2560" width="159" height="82" viewBox="310 330 100 51.3" preserveAspectRatio="none" overflow="hidden"><rect x="310" y="330" width="100" height="51.3" fill="#000"/><g filter="url(#fk)"><rect x="308" y="328" width="104" height="55" fill="#b01818" fill-opacity=".71"/><path d="M312,366L319,363L329,359L340,355L352,351L366,348L383,345L400,343L411,341L409,329L398,331L382,333L364,336L348,339L336,343L324,348L314,352L308,355Z" fill="#b01818" fill-opacity=".87"/><path d="M319,371L323,372L330,374L337,376L344,378L350,379L358,381L364,383L369,384L371,373L367,372L360,371L353,369L346,367L340,365L332,363L326,362L321,361Z" fill="#b01818" fill-opacity=".85"/></g><g transform="translate(-52 -27)"><rect x="360" y="355" width="104" height="55" fill="#30c020" fill-opacity=".67" filter="url(#fk)"/></g></svg>
<svg x="1868" y="2394" width="160" height="82" viewBox="447 401 100 51.3" preserveAspectRatio="none" overflow="hidden"><rect x="447" y="401" width="100" height="51.3" fill="#000"/><g filter="url(#fk)"><rect x="445" y="399" width="104" height="55" fill="#b01818" fill-opacity=".70"/><path d="M447,438L456,438L469,438L483,438L497,438L510,439L524,441L537,442L546,443L548,430L539,429L526,428L511,426L497,425L483,425L469,425L456,425L447,425Z" fill="#b01818" fill-opacity=".84"/></g><g transform="translate(-52 -27)"><rect x="497" y="426" width="104" height="55" fill="#30c020" fill-opacity=".70" filter="url(#fk)"/></g></svg>
<svg x="1868" y="2478" width="160" height="80" viewBox="584 472 100 51.3" preserveAspectRatio="none" overflow="hidden"><rect x="584" y="472" width="100" height="51.3" fill="#000"/><g filter="url(#fk)"><rect x="582" y="470" width="104" height="55" fill="#b01818" fill-opacity=".71"/><path d="M604,515L609,515L617,515L626,515L634,515L642,515L651,515L659,515L664,515L664,480L659,480L651,480L642,480L634,480L626,480L617,480L609,480L604,480Z" fill="#b01818" fill-opacity=".73"/></g><g transform="translate(-52 -27)"><rect x="634" y="497" width="104" height="55" fill="#30c020" fill-opacity=".70" filter="url(#fk)"/></g></svg>
<svg x="1868" y="2560" width="160" height="82" viewBox="721 543 100 51.3" preserveAspectRatio="none" overflow="hidden"><rect x="721" y="543" width="100" height="51.3" fill="#000"/><g filter="url(#fk)"><rect x="719" y="541" width="104" height="55" fill="#b01818" fill-opacity=".71"/><path d="M821,550L807,551L787,552L767,554L750,556L739,557L730,559L722,562L718,569L722,576L729,579L738,583L750,585L767,587L787,589L807,590L821,591L821,580L808,579L788,578L768,576L752,575L741,572L733,569L728,567L728,569L728,571L732,570L741,568L752,566L768,565L788,563L808,562L821,561Z" fill="#b01818" fill-opacity=".97"/></g><g transform="translate(-52 -27)"><rect x="771" y="568" width="104" height="55" fill="#30c020" fill-opacity=".69" filter="url(#fk)"/></g></svg>
<svg x="2030" y="2394" width="159" height="82" viewBox="858 614 100 51.3" preserveAspectRatio="none" overflow="hidden"><rect x="858" y="614" width="100" height="51.3" fill="#000"/><g filter="url(#fk)"><rect x="856" y="612" width="104" height="55" fill="#b01818" fill-opacity=".70"/><path d="M859,656L868,656L880,655L895,653L909,652L922,651L937,650L949,649L958,649L958,636L949,636L936,637L921,638L907,639L894,640L879,642L866,643L857,643Z" fill="#b01818" fill-opacity=".84"/></g><g transform="translate(-52 -27)"><rect x="908" y="639" width="104" height="55" fill="#30c020" fill-opacity=".69" filter="url(#fk)"/></g></svg>
<svg x="2030" y="2478" width="159" height="80" viewBox="995 685 100 51.3" preserveAspectRatio="none" overflow="hidden"><rect x="995" y="685" width="100" height="51.3" fill="#000"/><g filter="url(#fk)"><rect x="993" y="683" width="104" height="55" fill="#b01818" fill-opacity=".71"/><path d="M1015,728L1020,728L1028,728L1037,728L1045,728L1053,728L1062,728L1070,728L1075,728L1075,693L1070,693L1062,693L1053,693L1045,693L1037,693L1028,693L1020,693L1015,693Z" fill="#b01818" fill-opacity=".74"/></g><g transform="translate(-52 -27)"><rect x="1045" y="710" width="104" height="55" fill="#30c020" fill-opacity=".69" filter="url(#fk)"/></g></svg>
<svg x="2030" y="2560" width="159" height="82" viewBox="1132 756 100 51.3" preserveAspectRatio="none" overflow="hidden"><rect x="1132" y="756" width="100" height="51.3" fill="#000"/><g filter="url(#fk)"><rect x="1130" y="754" width="104" height="55" fill="#b01818" fill-opacity=".71"/><path d="M1132,795L1141,795L1154,794L1168,794L1181,795L1194,796L1209,797L1221,799L1230,800L1234,774L1225,773L1212,771L1197,770L1183,769L1168,768L1154,768L1141,768L1132,769Z" fill="#b01818" fill-opacity=".82"/></g><g transform="translate(-52 -27)"><rect x="1182" y="781" width="104" height="55" fill="#30c020" fill-opacity=".68" filter="url(#fk)"/></g></svg>
<svg x="2193" y="2394" width="159" height="82" viewBox="1269 827 100 51.3" preserveAspectRatio="none" overflow="hidden"><rect x="1269" y="827" width="100" height="51.3" fill="#000"/><g filter="url(#fk)"><rect x="1267" y="825" width="104" height="55" fill="#b01818" fill-opacity=".70"/><path d="M1270,864L1279,863L1292,861L1306,860L1319,859L1332,860L1346,862L1359,864L1368,865L1370,852L1361,851L1348,849L1333,847L1319,846L1305,847L1290,848L1277,850L1268,851Z" fill="#b01818" fill-opacity=".86"/></g><g transform="translate(-52 -27)"><rect x="1319" y="852" width="104" height="55" fill="#30c020" fill-opacity=".67" filter="url(#fk)"/></g></svg>
<svg x="2193" y="2478" width="159" height="80" viewBox="1406 898 100 51.3" preserveAspectRatio="none" overflow="hidden"><rect x="1406" y="898" width="100" height="51.3" fill="#000"/><g filter="url(#fk)"><rect x="1404" y="896" width="104" height="55" fill="#b01818" fill-opacity=".71"/><path d="M1443,898L1443,904L1444,913L1445,922L1446,930L1447,936L1448,942L1450,947L1451,951L1461,948L1460,944L1459,940L1458,934L1456,928L1455,920L1455,912L1454,903L1453,898Z" fill="#b01818" fill-opacity=".86"/></g><g transform="translate(-52 -27)"><rect x="1456" y="923" width="104" height="55" fill="#30c020" fill-opacity=".67" filter="url(#fk)"/></g></svg>
<svg x="2193" y="2560" width="159" height="82" viewBox="1543 69 100 51.3" preserveAspectRatio="none" overflow="hidden"><rect x="1543" y="69" width="100" height="51.3" fill="#000"/><g filter="url(#fk)"><rect x="1541" y="67" width="104" height="55" fill="#b01818" fill-opacity=".71"/><path d="M1642,79L1631,80L1615,81L1597,83L1582,85L1570,87L1558,89L1549,91L1542,99L1549,107L1558,110L1569,113L1582,116L1597,118L1614,120L1631,122L1642,124L1644,112L1632,111L1616,109L1598,107L1584,104L1572,102L1561,99L1554,96L1554,99L1553,102L1561,100L1572,98L1584,96L1598,95L1616,93L1632,91L1644,90Z" fill="#b01818" fill-opacity=".97"/></g><g transform="translate(-52 -27)"><rect x="1593" y="94" width="104" height="55" fill="#30c020" fill-opacity=".66" filter="url(#fk)"/></g></svg>
<svg x="2355" y="2394" width="159" height="82" viewBox="1680 140 100 51.3" preserveAspectRatio="none" overflow="hidden"><rect x="1680" y="140" width="100" height="51.3" fill="#000"/><g filter="url(#fk)"><rect x="1678" y="138" width="104" height="55" fill="#b01818" fill-opacity=".70"/><path d="M1680,172L1689,172L1702,172L1716,172L1730,172L1743,173L1757,175L1770,176L1779,177L1781,164L1772,163L1759,162L1744,160L1730,159L1716,159L1702,159L1689,159L1680,159Z" fill="#b01818" fill-opacity=".83"/></g><g transform="translate(-52 -27)"><rect x="1730" y="165" width="104" height="55" fill="#30c020" fill-opacity=".67" filter="url(#fk)"/></g></svg>
<svg x="2355" y="2478" width="159" height="80" viewBox="1817 211 100 51.3" preserveAspectRatio="none" overflow="hidden"><rect x="1817" y="211" width="100" height="51.3" fill="#000"/><g filter="url(#fk)"><rect x="1815" y="209" width="104" height="55" fill="#b01818" fill-opacity=".71"/><path d="M1842,236L1845,237L1849,239L1853,242L1857,244L1861,246L1865,248L1869,250L1872,251L1882,232L1879,231L1875,229L1871,226L1867,224L1863,222L1859,220L1855,218L1852,217Z" fill="#b01818" fill-opacity=".74"/></g><g transform="translate(-52 -27)"><rect x="1867" y="236" width="104" height="55" fill="#30c020" fill-opacity=".67" filter="url(#fk)"/></g></svg>
<svg x="2355" y="2560" width="159" height="82" viewBox="54 282 100 51.3" preserveAspectRatio="none" overflow="hidden"><rect x="54" y="282" width="100" height="51.3" fill="#000"/><g filter="url(#fk)"><rect x="52" y="280" width="104" height="55" fill="#b01818" fill-opacity=".71"/><path d="M56,316L65,314L77,310L92,306L105,303L118,302L133,300L146,299L155,298L153,286L145,287L132,288L117,289L103,291L89,294L74,298L61,302L52,304Z" fill="#b01818" fill-opacity=".86"/><path d="M74,323L80,324L89,324L99,325L109,326L118,327L128,327L137,328L144,328L144,318L138,317L129,316L119,316L109,315L100,314L90,314L81,313L74,312Z" fill="#b01818" fill-opacity=".85"/></g><g transform="translate(-52 -27)"><rect x="104" y="307" width="104" height="55" fill="#30c020" fill-opacity=".66" filter="url(#fk)"/></g></svg>
<svg x="1380" y="2694" width="159" height="81" viewBox="191 353 100 51.3" preserveAspectRatio="none" overflow="hidden"><rect x="191" y="353" width="100" height="51.3" fill="#000"/><g filter="url(#fk)"><rect x="189" y="351" width="104" height="55" fill="#38e020" fill-opacity=".71"/><path d="M191,380L200,381L213,382L227,383L240,384L254,386L268,388L281,391L290,392L292,384L283,382L270,380L255,377L242,375L228,374L213,373L200,372L191,372Z" fill="#38e020" fill-opacity="1.00"/></g><g transform="translate(-52 -27)"><rect x="241" y="378" width="104" height="55" fill="#e01818" fill-opacity=".69" filter="url(#fk)"/></g></svg>
<svg x="1380" y="2777" width="159" height="81" viewBox="328 424 100 51.3" preserveAspectRatio="none" overflow="hidden"><rect x="328" y="424" width="100" height="51.3" fill="#000"/><g filter="url(#fk)"><rect x="326" y="422" width="104" height="55" fill="#38e020" fill-opacity=".72"/><path d="M362,422L363,427L365,435L367,443L370,451L373,459L376,467L379,474L381,479L387,477L385,471L382,464L379,456L376,449L374,441L372,433L370,426L368,421Z" fill="#38e020" fill-opacity="1.00"/><path d="M328,424L328,426L328,429L329,432L329,434L329,437L329,440L330,443L330,445L334,444L334,442L334,440L333,437L333,434L333,431L333,428L332,426L332,424Z" fill="#38e020" fill-opacity=".90"/><path d="M335,457L337,458L339,458L342,459L345,460L347,460L350,461L353,462L355,462L361,437L359,437L357,436L354,435L351,434L349,434L346,433L343,432L341,432Z" fill="#38e020" fill-opacity=".77"/></g><g transform="translate(-52 -27)"><rect x="378" y="449" width="104" height="55" fill="#e01818" fill-opacity=".70" filter="url(#fk)"/></g></svg>
<svg x="1380" y="2860" width="159" height="82" viewBox="465 495 100 51.3" preserveAspectRatio="none" overflow="hidden"><rect x="465" y="495" width="100" height="51.3" fill="#000"/><g filter="url(#fk)"><rect x="463" y="493" width="104" height="55" fill="#38e020" fill-opacity=".72"/><path d="M468,539L473,537L481,533L490,528L499,524L505,518L511,513L516,508L522,505L531,504L544,504L556,504L565,504L565,491L557,491L544,491L530,491L518,493L509,497L502,503L497,508L491,513L484,517L476,521L468,525L462,528Z" fill="#38e020" fill-opacity="1.00"/><path d="M497,525L502,529L509,533L516,539L522,543L525,546L528,549L529,551L531,552L539,545L538,544L536,541L533,538L528,534L522,530L515,525L508,520L503,516Z" fill="#38e020" fill-opacity="1.00"/><path d="M470,545L473,545L477,545L481,545L485,545L489,545L493,545L497,545L500,545L500,527L497,527L493,527L489,527L485,527L481,527L477,527L473,527L470,527Z" fill="#38e020" fill-opacity=".91"/></g><g transform="translate(-52 -27)"><rect x="515" y="520" width="104" height="55" fill="#e01818" fill-opacity=".69" filter="url(#fk)"/></g></svg>
<svg x="1543" y="2694" width="160" height="81" viewBox="602 566 100 51.3" preserveAspectRatio="none" overflow="hidden"><rect x="602" y="566" width="100" height="51.3" fill="#000"/><g filter="url(#fk)"><rect x="600" y="564" width="104" height="55" fill="#38e020" fill-opacity=".71"/><path d="M603,605L610,603L620,600L630,598L642,597L656,599L673,602L690,605L701,607L703,597L692,594L676,591L658,588L642,586L629,587L617,590L607,592L601,594Z" fill="#38e020" fill-opacity=".83"/></g><g transform="translate(-52 -27)"><rect x="652" y="591" width="104" height="55" fill="#e01818" fill-opacity=".69" filter="url(#fk)"/></g></svg>
<svg x="1543" y="2777" width="160" height="81" viewBox="739 637 100 51.3" preserveAspectRatio="none" overflow="hidden"><rect x="739" y="637" width="100" height="51.3" fill="#000"/><g filter="url(#fk)"><rect x="737" y="635" width="104" height="55" fill="#38e020" fill-opacity=".72"/><path d="M766,672L770,673L777,675L784,676L791,678L798,679L805,680L811,682L816,683L822,653L818,652L811,651L804,649L797,648L790,646L783,645L777,643L772,643Z" fill="#38e020" fill-opacity=".75"/></g><g transform="translate(-52 -27)"><rect x="789" y="662" width="104" height="55" fill="#e01818" fill-opacity=".70" filter="url(#fk)"/></g></svg>
<svg x="1543" y="2860" width="160" height="82" viewBox="876 708 100 51.3" preserveAspectRatio="none" overflow="hidden"><rect x="876" y="708" width="100" height="51.3" fill="#000"/><g filter="url(#fk)"><rect x="874" y="706" width="104" height="55" fill="#38e020" fill-opacity=".72"/><path d="M879,755L886,753L896,749L908,746L919,742L930,738L942,733L952,729L959,726L953,710L946,713L935,717L924,721L913,725L902,729L891,733L881,736L873,738Z" fill="#38e020" fill-opacity=".85"/><path d="M913,744L915,746L919,748L924,751L928,753L932,756L936,758L940,761L943,762L949,751L947,750L943,747L938,745L934,742L930,740L926,737L922,735L919,733Z" fill="#38e020" fill-opacity=".83"/></g><g transform="translate(-52 -27)"><rect x="926" y="733" width="104" height="55" fill="#e01818" fill-opacity=".69" filter="url(#fk)"/></g></svg>
<svg x="1706" y="2694" width="159" height="81" viewBox="1013 779 100 51.3" preserveAspectRatio="none" overflow="hidden"><rect x="1013" y="779" width="100" height="51.3" fill="#000"/><g filter="url(#fk)"><rect x="1011" y="777" width="104" height="55" fill="#38e020" fill-opacity=".71"/><path d="M1014,813L1023,813L1035,812L1050,811L1063,811L1076,812L1090,813L1103,815L1112,816L1114,799L1105,797L1092,796L1077,794L1063,793L1049,794L1034,794L1021,795L1012,796Z" fill="#38e020" fill-opacity=".89"/></g><g transform="translate(-52 -27)"><rect x="1063" y="804" width="104" height="55" fill="#e01818" fill-opacity=".69" filter="url(#fk)"/></g></svg>
<svg x="1706" y="2777" width="159" height="81" viewBox="1150 850 100 51.3" preserveAspectRatio="none" overflow="hidden"><rect x="1150" y="850" width="100" height="51.3" fill="#000"/><g filter="url(#fk)"><rect x="1148" y="848" width="104" height="55" fill="#38e020" fill-opacity=".72"/><path d="M1170,846L1168,851L1165,858L1162,866L1160,874L1158,882L1156,891L1155,898L1155,903L1165,905L1166,900L1167,892L1169,884L1170,877L1173,870L1175,862L1178,854L1180,849Z" fill="#38e020" fill-opacity=".91"/><path d="M1196,861L1198,864L1201,870L1205,876L1208,881L1212,887L1215,893L1218,898L1221,902L1239,890L1237,887L1234,882L1230,876L1227,870L1223,864L1220,858L1217,853L1214,849Z" fill="#38e020" fill-opacity=".76"/></g><g transform="translate(-52 -27)"><rect x="1200" y="875" width="104" height="55" fill="#e01818" fill-opacity=".70" filter="url(#fk)"/></g></svg>
<svg x="1706" y="2860" width="159" height="82" viewBox="1287 21 100 51.3" preserveAspectRatio="none" overflow="hidden"><rect x="1287" y="21" width="100" height="51.3" fill="#000"/><g filter="url(#fk)"><rect x="1285" y="19" width="104" height="55" fill="#38e020" fill-opacity=".72"/><path d="M1309,54L1316,51L1326,48L1337,44L1348,41L1359,39L1370,38L1380,37L1387,36L1387,26L1379,27L1369,28L1357,30L1346,32L1335,35L1323,39L1313,42L1305,45Z" fill="#38e020" fill-opacity="1.00"/><path d="M1316,58L1324,60L1335,62L1346,65L1356,68L1364,71L1371,74L1376,76L1381,78L1383,72L1379,70L1373,67L1366,64L1358,61L1348,58L1336,55L1325,53L1318,51Z" fill="#38e020" fill-opacity=".92"/><path d="M1286,66L1288,66L1292,67L1296,67L1301,68L1305,69L1309,70L1313,70L1316,71L1318,53L1316,53L1312,52L1308,52L1303,51L1299,50L1295,49L1291,49L1288,48Z" fill="#38e020" fill-opacity=".85"/></g><g transform="translate(-52 -27)"><rect x="1337" y="46" width="104" height="55" fill="#e01818" fill-opacity=".69" filter="url(#fk)"/></g></svg>
<svg x="1868" y="2694" width="160" height="81" viewBox="1424 92 100 51.3" preserveAspectRatio="none" overflow="hidden"><rect x="1424" y="92" width="100" height="51.3" fill="#000"/><g filter="url(#fk)"><rect x="1422" y="90" width="104" height="55" fill="#38e020" fill-opacity=".71"/><path d="M1426,134L1431,132L1437,129L1444,125L1455,123L1470,122L1491,122L1510,122L1524,122L1524,113L1511,113L1491,113L1470,113L1453,114L1442,117L1433,121L1426,124L1422,127Z" fill="#38e020" fill-opacity="1.00"/></g><g transform="translate(-52 -27)"><rect x="1474" y="117" width="104" height="55" fill="#e01818" fill-opacity=".69" filter="url(#fk)"/></g></svg>
<svg x="1868" y="2777" width="160" height="81" viewBox="1561 163 100 51.3" preserveAspectRatio="none" overflow="hidden"><rect x="1561" y="163" width="100" height="51.3" fill="#000"/><g filter="url(#fk)"><rect x="1559" y="161" width="104" height="55" fill="#38e020" fill-opacity=".72"/><path d="M1600,160L1599,165L1599,173L1599,181L1599,189L1599,197L1600,205L1601,212L1602,217L1610,216L1610,211L1609,204L1608,196L1607,188L1607,181L1608,173L1608,166L1608,161Z" fill="#38e020" fill-opacity="1.00"/></g><g transform="translate(-52 -27)"><rect x="1611" y="188" width="104" height="55" fill="#e01818" fill-opacity=".70" filter="url(#fk)"/></g></svg>
<svg x="1868" y="2860" width="160" height="82" viewBox="1698 234 100 51.3" preserveAspectRatio="none" overflow="hidden"><rect x="1698" y="234" width="100" height="51.3" fill="#000"/><g filter="url(#fk)"><rect x="1696" y="232" width="104" height="55" fill="#38e020" fill-opacity=".72"/><path d="M1797,239L1786,240L1770,242L1752,244L1737,247L1725,248L1714,250L1705,252L1698,257L1700,266L1706,271L1715,275L1727,278L1743,280L1764,281L1784,282L1798,283L1798,272L1785,271L1765,270L1744,269L1729,267L1719,265L1711,261L1708,259L1708,262L1709,263L1716,261L1727,259L1739,257L1753,255L1771,253L1787,251L1799,250Z" fill="#38e020" fill-opacity="1.00"/></g><g transform="translate(-52 -27)"><rect x="1748" y="259" width="104" height="55" fill="#e01818" fill-opacity=".69" filter="url(#fk)"/></g></svg>
<svg x="2030" y="2694" width="159" height="81" viewBox="1835 305 100 51.3" preserveAspectRatio="none" overflow="hidden"><rect x="1835" y="305" width="100" height="51.3" fill="#000"/><g filter="url(#fk)"><rect x="1833" y="303" width="104" height="55" fill="#38e020" fill-opacity=".71"/><path d="M1839,340L1844,337L1851,333L1858,329L1865,328L1873,329L1882,333L1893,337L1903,341L1913,342L1922,343L1930,343L1935,343L1935,328L1930,328L1923,328L1915,327L1907,326L1898,323L1888,319L1877,315L1865,313L1854,315L1844,319L1836,324L1831,327Z" fill="#38e020" fill-opacity=".87"/></g><g transform="translate(-52 -27)"><rect x="1885" y="330" width="104" height="55" fill="#e01818" fill-opacity=".69" filter="url(#fk)"/></g></svg>
<svg x="2030" y="2777" width="159" height="81" viewBox="72 376 100 51.3" preserveAspectRatio="none" overflow="hidden"><rect x="72" y="376" width="100" height="51.3" fill="#000"/><g filter="url(#fk)"><rect x="70" y="374" width="104" height="55" fill="#38e020" fill-opacity=".72"/><path d="M102,422L107,422L115,422L124,422L132,422L140,422L149,422L157,422L162,422L162,381L157,381L149,381L140,381L132,381L124,381L115,381L107,381L102,381Z" fill="#38e020" fill-opacity=".88"/></g><g transform="translate(-52 -27)"><rect x="122" y="401" width="104" height="55" fill="#e01818" fill-opacity=".70" filter="url(#fk)"/></g></svg>
<svg x="2030" y="2860" width="159" height="82" viewBox="209 447 100 51.3" preserveAspectRatio="none" overflow="hidden"><rect x="209" y="447" width="100" height="51.3" fill="#000"/><g filter="url(#fk)"><rect x="207" y="445" width="104" height="55" fill="#38e020" fill-opacity=".72"/><path d="M212,495L219,491L228,485L238,478L247,472L254,467L259,463L264,460L271,457L280,455L291,454L302,453L309,452L309,442L301,442L290,443L278,445L267,447L259,450L253,454L247,458L241,463L232,469L222,475L213,482L206,486Z" fill="#38e020" fill-opacity=".90"/><path d="M240,482L243,484L247,489L251,493L255,497L259,500L262,502L264,504L266,505L272,496L270,495L268,494L266,492L263,489L259,486L255,481L251,477L248,474Z" fill="#38e020" fill-opacity=".90"/></g><g transform="translate(-52 -27)"><rect x="259" y="472" width="104" height="55" fill="#e01818" fill-opacity=".69" filter="url(#fk)"/></g></svg>
<svg x="2193" y="2694" width="159" height="81" viewBox="346 518 100 51.3" preserveAspectRatio="none" overflow="hidden"><rect x="346" y="518" width="100" height="51.3" fill="#000"/><g filter="url(#fk)"><rect x="344" y="516" width="104" height="55" fill="#38e020" fill-opacity=".71"/><path d="M348,566L355,563L364,559L375,555L386,553L401,553L418,554L434,556L445,558L447,548L435,547L419,545L401,543L386,543L372,546L360,550L351,554L344,557Z" fill="#38e020" fill-opacity="1.00"/></g><g transform="translate(-52 -27)"><rect x="396" y="543" width="104" height="55" fill="#e01818" fill-opacity=".69" filter="url(#fk)"/></g></svg>
<svg x="2193" y="2777" width="159" height="81" viewBox="483 589 100 51.3" preserveAspectRatio="none" overflow="hidden"><rect x="483" y="589" width="100" height="51.3" fill="#000"/><g filter="url(#fk)"><rect x="481" y="587" width="104" height="55" fill="#38e020" fill-opacity=".72"/><path d="M531,587L532,592L532,599L533,607L533,615L533,622L532,630L531,637L530,642L540,643L540,638L541,631L542,623L543,615L543,607L542,598L541,591L541,586Z" fill="#38e020" fill-opacity=".92"/><path d="M560,596L560,598L561,601L561,604L562,606L563,609L563,612L564,615L565,617L581,613L581,611L580,608L580,605L579,602L578,600L578,597L577,594L576,592Z" fill="#38e020" fill-opacity=".77"/></g><g transform="translate(-52 -27)"><rect x="533" y="614" width="104" height="55" fill="#e01818" fill-opacity=".70" filter="url(#fk)"/></g></svg>
<svg x="2193" y="2860" width="159" height="82" viewBox="620 660 100 51.3" preserveAspectRatio="none" overflow="hidden"><rect x="620" y="660" width="100" height="51.3" fill="#000"/><g filter="url(#fk)"><rect x="618" y="658" width="104" height="55" fill="#38e020" fill-opacity=".72"/><path d="M719,665L708,666L691,669L674,672L659,674L647,676L636,677L626,679L619,687L626,695L635,698L647,702L659,706L672,709L689,712L704,715L714,717L716,706L706,704L691,701L675,698L661,695L650,691L639,688L631,685L631,687L630,690L637,688L649,687L661,685L676,683L693,680L709,678L721,676Z" fill="#38e020" fill-opacity="1.00"/></g><g transform="translate(-52 -27)"><rect x="670" y="685" width="104" height="55" fill="#e01818" fill-opacity=".69" filter="url(#fk)"/></g></svg>
<svg x="2355" y="2694" width="159" height="81" viewBox="757 731 100 51.3" preserveAspectRatio="none" overflow="hidden"><rect x="757" y="731" width="100" height="51.3" fill="#000"/><g filter="url(#fk)"><rect x="755" y="729" width="104" height="55" fill="#38e020" fill-opacity=".71"/><path d="M758,763L766,761L777,759L789,757L802,756L815,759L831,763L846,768L856,771L858,763L848,760L833,756L817,751L802,749L789,749L775,751L764,754L756,755Z" fill="#38e020" fill-opacity="1.00"/></g><g transform="translate(-52 -27)"><rect x="807" y="756" width="104" height="55" fill="#e01818" fill-opacity=".69" filter="url(#fk)"/></g></svg>
<svg x="2355" y="2777" width="159" height="81" viewBox="894 802 100 51.3" preserveAspectRatio="none" overflow="hidden"><rect x="894" y="802" width="100" height="51.3" fill="#000"/><g filter="url(#fk)"><rect x="892" y="800" width="104" height="55" fill="#38e020" fill-opacity=".72"/><path d="M932,800L933,805L933,812L934,820L933,827L933,835L932,843L930,850L930,855L942,857L943,852L945,845L946,836L947,828L947,820L946,811L946,804L946,799Z" fill="#38e020" fill-opacity=".89"/></g><g transform="translate(-52 -27)"><rect x="944" y="827" width="104" height="55" fill="#e01818" fill-opacity=".70" filter="url(#fk)"/></g></svg>
<svg x="2355" y="2860" width="159" height="82" viewBox="1031 873 100 51.3" preserveAspectRatio="none" overflow="hidden"><rect x="1031" y="873" width="100" height="51.3" fill="#000"/><g filter="url(#fk)"><rect x="1029" y="871" width="104" height="55" fill="#38e020" fill-opacity=".72"/><path d="M1035,917L1041,912L1048,906L1057,899L1064,894L1071,891L1077,889L1084,887L1092,886L1101,885L1113,885L1123,885L1131,886L1131,873L1124,872L1113,872L1101,872L1090,873L1081,874L1073,876L1066,879L1058,883L1049,888L1040,895L1032,902L1027,906Z" fill="#38e020" fill-opacity="1.00"/><path d="M1057,904L1063,908L1071,914L1080,920L1088,925L1095,928L1101,930L1106,932L1109,933L1113,921L1110,920L1105,918L1100,916L1094,913L1087,909L1079,903L1070,897L1065,893Z" fill="#38e020" fill-opacity="1.00"/><path d="M1031,923L1034,923L1038,923L1042,923L1046,923L1050,923L1054,923L1058,923L1061,923L1061,905L1058,905L1054,905L1050,905L1046,905L1042,905L1038,905L1034,905L1031,905Z" fill="#38e020" fill-opacity="1.00"/><path d="M1106,915L1108,915L1111,915L1115,915L1119,915L1122,915L1126,915L1129,915L1131,915L1131,893L1129,893L1126,893L1122,893L1118,893L1115,893L1111,893L1108,893L1106,893Z" fill="#38e020" fill-opacity=".81"/></g><g transform="translate(-52 -27)"><rect x="1081" y="898" width="104" height="55" fill="#e01818" fill-opacity=".69" filter="url(#fk)"/></g></svg></g>
<g id="p6"><text x="2541" y="1842" font-size="19.8">A</text>
<path d="M 2584 1844 L 2685 1829 L 2800 1843 L 2704 1861 Z M 2704 1861 L 2702 2026 M 2800 1843 L 2793 1980 M 2685 1829 L 2685 1950 L 2591 1987 M 2685 1950 L 2793 1980" fill="none" stroke="#9a9a9a" stroke-width=".5"/>
<ellipse cx="2680" cy="1897" rx="106" ry="56.3" fill="#98f0f0" transform="rotate(-8 2680 1897)" opacity="0.5"/>
<ellipse cx="2704" cy="1928" rx="114" ry="66" fill="#f49ce8" transform="rotate(-12 2704 1928)" opacity="0.5"/>
<ellipse cx="2680" cy="1892" rx="59.7" ry="32.4" fill="#8ce88c" transform="rotate(18 2680 1892)" opacity="0.45"/>
<ellipse cx="2728" cy="1916" rx="82" ry="56.3" fill="#f4a090" transform="rotate(-25 2728 1916)" opacity="0.4"/>
<ellipse cx="2716" cy="1924" rx="92" ry="42.6" fill="#6878f0" transform="rotate(5 2716 1924)" opacity="0.45"/>
<ellipse cx="2711" cy="1924" rx="73" ry="35.8" fill="#909090" transform="rotate(0 2711 1924)" opacity="0.35"/>
<polyline points="2584,1844 2591,1987 2702,2026 2793,1980" fill="none" stroke="#000" stroke-width="1"/>
<circle cx="2653" cy="1878" r="2.6" fill="url(#ps2)"/>
<circle cx="2675" cy="1904" r="2.6" fill="url(#ps2)"/>
<circle cx="2670" cy="1910" r="2.6" fill="url(#ps2)"/>
<circle cx="2689" cy="1904" r="2.6" fill="url(#ps2)"/>
<circle cx="2660" cy="1920" r="2.6" fill="url(#ps2)"/>
<circle cx="2708" cy="1910" r="2.6" fill="url(#ps2)"/>
<circle cx="2655" cy="1927" r="2.6" fill="url(#ps3)"/>
<circle cx="2686" cy="1921" r="2.6" fill="url(#ps3)"/>
<circle cx="2712" cy="1916" r="2.6" fill="url(#ps3)"/>
<circle cx="2720" cy="1923" r="2.6" fill="url(#ps3)"/>
<circle cx="2691" cy="1942" r="2.6" fill="url(#ps3)"/>
<circle cx="2669" cy="1921" r="2.6" fill="url(#ps1)"/>
<circle cx="2694" cy="1910" r="2.6" fill="url(#ps1)"/>
<circle cx="2681" cy="1933" r="2.6" fill="url(#ps1)"/>
<circle cx="2683" cy="1938" r="2.6" fill="url(#ps1)"/>
<circle cx="2679" cy="1941" r="2.6" fill="url(#ps1)"/>
<circle cx="2690" cy="1906" r="2.6" fill="url(#ps1)"/>
<circle cx="2673" cy="1945" r="2.6" fill="url(#ps0)"/>
<circle cx="2695" cy="1949" r="2.6" fill="url(#ps0)"/>
<circle cx="2716" cy="1934" r="2.6" fill="url(#ps0)"/>
<circle cx="2713" cy="1930" r="2.6" fill="url(#ps0)"/>
<circle cx="2718" cy="1928" r="2.6" fill="url(#ps0)"/>
<circle cx="2695" cy="1920" r="2.6" fill="url(#ps4)"/>
<circle cx="2718" cy="1917" r="2.6" fill="url(#ps4)"/>
<circle cx="2724" cy="1918" r="2.6" fill="url(#ps4)"/>
<circle cx="2727" cy="1914" r="2.6" fill="url(#ps4)"/>
<circle cx="2725" cy="1930" r="2.6" fill="url(#ps4)"/>
<circle cx="2715" cy="1912" r="2.6" fill="url(#ps4)"/>
<circle cx="2706" cy="1904" r="2.6" fill="url(#ps5)"/>
<circle cx="2748" cy="1906" r="2.6" fill="url(#ps5)"/>
<circle cx="2743" cy="1921" r="2.6" fill="url(#ps5)"/>
<circle cx="2794" cy="1921" r="2.6" fill="url(#ps5)"/>
<circle cx="2727" cy="1919" r="2.6" fill="url(#ps5)"/>
<circle cx="2710" cy="1924" r="2.6" fill="url(#ps5)"/>
<text x="2572" y="1921" font-size="11.3" class="m" transform="rotate(90 2572 1921)">PC3 (3.6%)</text>
<text x="2624" y="2015" font-size="9.6" class="i m" transform="rotate(22 2624 2015)">PC1 (4.4%)</text>
<text x="2767" y="2009" font-size="8.5" class="m" transform="rotate(-32 2767 2009)">PC2 (4.0%)</text>
<rect x="2814" y="1841" width="115" height="94" fill="#fff" stroke="#000" stroke-width=".9"/>
<circle cx="2823" cy="1846" r="2.8" fill="url(#ps0)"/>
<text x="2830" y="1847" font-size="5.3">Control</text>
<rect x="2817" y="1888" width="10.4" height="6.9" fill="#dcdcdc"/>
<text x="2830" y="1893" font-size="5.3">95% Confidence Ellipse for Control</text>
<circle cx="2823" cy="1853" r="2.8" fill="url(#ps1)"/>
<text x="2830" y="1855" font-size="5.3">Model</text>
<rect x="2817" y="1896" width="10.4" height="6.9" fill="#fbd8d4"/>
<text x="2830" y="1901" font-size="5.3">95% Confidence Ellipse for Model</text>
<circle cx="2823" cy="1861" r="2.8" fill="url(#ps2)"/>
<text x="2830" y="1863" font-size="5.3">SER</text>
<rect x="2817" y="1903" width="10.4" height="6.9" fill="#d8f4d8"/>
<text x="2830" y="1909" font-size="5.3">95% Confidence Ellipse for SER</text>
<circle cx="2823" cy="1869" r="2.8" fill="url(#ps3)"/>
<text x="2830" y="1870" font-size="5.3">LBHgS</text>
<rect x="2817" y="1911" width="10.4" height="6.9" fill="#f8d8f4"/>
<text x="2830" y="1916" font-size="5.3">95% Confidence Ellipse for LBHgS</text>
<circle cx="2823" cy="1876" r="2.8" fill="url(#ps4)"/>
<text x="2830" y="1878" font-size="5.3">MBHgS</text>
<rect x="2817" y="1919" width="10.4" height="6.9" fill="#d8dcf8"/>
<text x="2830" y="1924" font-size="5.3">95% Confidence Ellipse for MBHgS</text>
<circle cx="2823" cy="1884" r="2.8" fill="url(#ps5)"/>
<text x="2830" y="1886" font-size="5.3">HBHgS</text>
<rect x="2817" y="1926" width="10.4" height="6.9" fill="#d4f4f8"/>
<text x="2830" y="1932" font-size="5.3">95% Confidence Ellipse for HBHgS</text>
<text x="2649" y="1875" font-size="3.6" fill="#333">SER-4</text>
<text x="2742" y="1902" font-size="3.6" fill="#333">HBHgS-2</text>
<text x="2787" y="1917" font-size="3.6" fill="#333">HBHgS-6</text>
<text x="2647" y="1922" font-size="3.6" fill="#333">LBHgS-6</text>
<text x="2697" y="1900" font-size="3.6" fill="#333">HBHgS-5</text>
<text x="2672" y="1900" font-size="3.6" fill="#333">SER-6</text>
<text x="2684" y="1900" font-size="3.6" fill="#333">SER-3</text>
<text x="2738" y="1918" font-size="3.6" fill="#333">HBHgS-1</text>
<text x="2665" y="1928" font-size="3.6" fill="#333">Model-6</text>
<text x="2675" y="1933" font-size="3.6" fill="#333">Model-3</text>
<text x="2666" y="1941" font-size="3.6" fill="#333">Control-1</text>
<text x="2687" y="1946" font-size="3.6" fill="#333">Control-6</text>
<text x="2721" y="1911" font-size="3.6" fill="#333">MBHgS-3</text>
<text x="2680" y="1912" font-size="3.6" fill="#333">Control-2</text>
<text x="2656" y="1918" font-size="3.6" fill="#333">SER-5</text>
<text x="2703" y="1920" font-size="3.6" fill="#333">HBHgS-3</text>
<text x="2685" y="1944" font-size="3.6" fill="#333">LBHgS-4</text>
<text x="2721" y="1927" font-size="3.6" fill="#333">MBHgS-6</text>
<text x="2581" y="1860" font-size="3.8" class="e">6</text>
<text x="2581" y="1886" font-size="3.8" class="e">4</text>
<text x="2581" y="1913" font-size="3.8" class="e">2</text>
<text x="2581" y="1938" font-size="3.8" class="e">0</text>
<text x="2581" y="1963" font-size="3.8" class="e">-2</text>
<text x="2581" y="1989" font-size="3.8" class="e">-4</text>
<text x="2593" y="1992" font-size="2.7" class="m" transform="rotate(22 2593 1992)">-2.0</text>
<text x="2605" y="1997" font-size="2.7" class="m" transform="rotate(22 2605 1997)">-1.5</text>
<text x="2616" y="2001" font-size="2.7" class="m" transform="rotate(22 2616 2001)">-1.0</text>
<text x="2628" y="2005" font-size="2.7" class="m" transform="rotate(22 2628 2005)">-0.5</text>
<text x="2640" y="2009" font-size="2.7" class="m" transform="rotate(22 2640 2009)">0.0</text>
<text x="2651" y="2013" font-size="2.7" class="m" transform="rotate(22 2651 2013)">0.5</text>
<text x="2663" y="2017" font-size="2.7" class="m" transform="rotate(22 2663 2017)">1.0</text>
<text x="2674" y="2022" font-size="2.7" class="m" transform="rotate(22 2674 2022)">1.5</text>
<text x="2686" y="2026" font-size="2.7" class="m" transform="rotate(22 2686 2026)">2.0</text>
<text x="2698" y="2030" font-size="2.7" class="m" transform="rotate(22 2698 2030)">2.5</text>
<text x="2940" y="1843" font-size="21">B1</text><text x="3157" y="1840" font-size="12.6" class="m">Model vs Control</text><path d="M3156,1851 H3339 M3156,1872 H3339 M3156,1893 H3339 M3156,1913 H3339 M3156,1934 H3339 M3156,1955 H3339 M3156,1976 H3339 M3156,1996 H3339" stroke="#eee" stroke-width="0.5" fill="none"/><path d="M3156,1848h20.9v6.6h-20.9zM3156,1858h26.9v6.6h-26.9zM3156,1869h26.9v6.6h-26.9zM3156,1879h26.9v6.6h-26.9zM3156,1889h44.9v6.6h-44.9zM3156,1900h53.8v6.6h-53.8zM3156,1910h53.8v6.6h-53.8zM3156,1920h53.8v6.6h-53.8zM3156,1931h66v6.6h-66zM3156,1941h69v6.6h-69zM3156,1952h69v6.6h-69zM3156,1962h69v6.6h-69zM3156,1972h69v6.6h-69zM3156,1983h126v6.6h-126zM3156,1993h168v6.6h-168z" fill="url(#hb1)" stroke="#000" stroke-width="1"/><text font-size="7.8" class="e"><tspan x="3151" y="1854">Biosynthesis of cofactors</tspan><tspan x="3151" y="1864">Long-term depression</tspan><tspan x="3151" y="1874">Phosphatidylinositol signaling system</tspan><tspan x="3151" y="1885">Inositol phosphate metabolism</tspan><tspan x="3151" y="1895">Glycerolipid metabolism</tspan><tspan x="3151" y="1906">Choline metabolism in cancer</tspan><tspan x="3151" y="1916">alpha-Linolenic acid metabolism</tspan><tspan x="3151" y="1926">Linoleic acid metabolism</tspan><tspan x="3151" y="1937">Arachidonic acid metabolism</tspan><tspan x="3151" y="1947">Kaposi sarcoma-associated herpesvirus infection</tspan><tspan x="3151" y="1958">Autophagy - animal</tspan><tspan x="3151" y="1968">Autophagy - other</tspan><tspan x="3151" y="1978">Glycosylphosphatidylinositol (GPI)-anchor biosynthesis</tspan><tspan x="3151" y="1989">Retrograde endocannabinoid signaling</tspan><tspan x="3151" y="1999">Glycerophospholipid metabolism</tspan></text><path d="M3156,1846V2002H3339M3156,1851h-3.1M3156,1862h-3.1M3156,1872h-3.1M3156,1882h-3.1M3156,1893h-3.1M3156,1903h-3.1M3156,1913h-3.1M3156,1924h-3.1M3156,1934h-3.1M3156,1945h-3.1M3156,1955h-3.1M3156,1965h-3.1M3156,1976h-3.1M3156,1986h-3.1M3156,1996h-3.1M3156,2002v3.1M3186,2002v3.1M3215,2002v3.1M3245,2002v3.1M3275,2002v3.1M3305,2002v3.1M3335,2002v3.1" stroke="#000" stroke-width="1.1" fill="none"/><text font-size="6.1" class="m"><tspan x="3156" y="2011">0</tspan><tspan x="3186" y="2011">10</tspan><tspan x="3215" y="2011">20</tspan><tspan x="3245" y="2011">30</tspan><tspan x="3275" y="2011">40</tspan><tspan x="3305" y="2011">50</tspan><tspan x="3335" y="2011">60</tspan></text><text x="3152" y="2028" font-size="12.7" class="m">Top 15 Kegg pathway (Number)</text>
<text x="3361" y="1843" font-size="21">B2</text><text x="3567" y="1840" font-size="12.7" class="m">SER vs Model</text><path d="M3566,1857 H3746 M3566,1877 H3746 M3566,1896 H3746 M3566,1916 H3746 M3566,1936 H3746 M3566,1956 H3746 M3566,1976 H3746 M3566,1995 H3746" stroke="#eee" stroke-width="0.5" fill="none"/><path d="M3566,1853h17.7v6.6h-17.7zM3566,1863h17.7v6.6h-17.7zM3566,1873h17.7v6.6h-17.7zM3566,1883h22.1v6.6h-22.1zM3566,1893h22.1v6.6h-22.1zM3566,1903h71v6.6h-71zM3566,1913h71v6.6h-71zM3566,1923h71v6.6h-71zM3566,1933h71v6.6h-71zM3566,1942h75v6.6h-75zM3566,1952h75v6.6h-75zM3566,1962h75v6.6h-75zM3566,1972h75v6.6h-75zM3566,1982h146v6.6h-146zM3566,1992h168v6.6h-168z" fill="url(#hb2)" stroke="#000" stroke-width="1"/><text font-size="7.8" class="e"><tspan x="3561" y="1859">Long-term depression</tspan><tspan x="3561" y="1869">Phosphatidylinositol signaling system</tspan><tspan x="3561" y="1879">Inositol phosphate metabolism</tspan><tspan x="3561" y="1889">Glycerolipid metabolism</tspan><tspan x="3561" y="1899">Bile secretion</tspan><tspan x="3561" y="1909">Choline metabolism in cancer</tspan><tspan x="3561" y="1919">alpha-Linolenic acid metabolism</tspan><tspan x="3561" y="1929">Linoleic acid metabolism</tspan><tspan x="3561" y="1938">Arachidonic acid metabolism</tspan><tspan x="3561" y="1948">Kaposi sarcoma-associated herpesvirus infection</tspan><tspan x="3561" y="1958">Autophagy - animal</tspan><tspan x="3561" y="1968">Autophagy - other</tspan><tspan x="3561" y="1978">Glycosylphosphatidylinositol (GPI)-anchor biosynthesis</tspan><tspan x="3561" y="1988">Retrograde endocannabinoid signaling</tspan><tspan x="3561" y="1998">Glycerophospholipid metabolism</tspan></text><path d="M3566,1850V2001H3746M3566,1857h-3.1M3566,1867h-3.1M3566,1877h-3.1M3566,1886h-3.1M3566,1896h-3.1M3566,1906h-3.1M3566,1916h-3.1M3566,1926h-3.1M3566,1936h-3.1M3566,1946h-3.1M3566,1956h-3.1M3566,1966h-3.1M3566,1976h-3.1M3566,1985h-3.1M3566,1995h-3.1M3566,2001v3.1M3588,2001v3.1M3610,2001v3.1M3632,2001v3.1M3654,2001v3.1M3676,2001v3.1M3698,2001v3.1M3720,2001v3.1M3742,2001v3.1" stroke="#000" stroke-width="1.1" fill="none"/><text font-size="6.1" class="m"><tspan x="3566" y="2010">0</tspan><tspan x="3588" y="2010">5</tspan><tspan x="3610" y="2010">10</tspan><tspan x="3632" y="2010">15</tspan><tspan x="3654" y="2010">20</tspan><tspan x="3676" y="2010">25</tspan><tspan x="3698" y="2010">30</tspan><tspan x="3720" y="2010">35</tspan><tspan x="3742" y="2010">40</tspan></text><text x="3562" y="2029" font-size="12.7" class="m">Top 15 Kegg pathway (Number)</text>
<text x="2540" y="2075" font-size="21">B3</text><text x="2737" y="2084" font-size="12.6" class="m">LBHgS vs Model</text><path d="M2741,2099 H2923 M2741,2119 H2923 M2741,2139 H2923 M2741,2159 H2923 M2741,2179 H2923 M2741,2199 H2923 M2741,2219 H2923 M2741,2239 H2923" stroke="#eee" stroke-width="0.5" fill="none"/><path d="M2741,2096h14.3v6.6h-14.3zM2741,2106h25v6.6h-25zM2741,2116h25v6.6h-25zM2741,2126h25v6.6h-25zM2741,2136h35.7v6.6h-35.7zM2741,2146h53.5v6.6h-53.5zM2741,2156h53.5v6.6h-53.5zM2741,2166h57.1v6.6h-57.1zM2741,2176h57.1v6.6h-57.1zM2741,2186h82v6.6h-82zM2741,2196h82v6.6h-82zM2741,2206h82v6.6h-82zM2741,2215h82v6.6h-82zM2741,2225h136v6.6h-136zM2741,2235h168v6.6h-168z" fill="url(#hb3)" stroke="#000" stroke-width="1"/><text font-size="7.8" class="e"><tspan x="2736" y="2102">Vitamin digestion and absorption</tspan><tspan x="2736" y="2112">Long-term depression</tspan><tspan x="2736" y="2122">Phosphatidylinositol signaling system</tspan><tspan x="2736" y="2132">Inositol phosphate metabolism</tspan><tspan x="2736" y="2142">Glycerolipid metabolism</tspan><tspan x="2736" y="2152">Choline metabolism in cancer</tspan><tspan x="2736" y="2162">alpha-Linolenic acid metabolism</tspan><tspan x="2736" y="2172">Linoleic acid metabolism</tspan><tspan x="2736" y="2181">Arachidonic acid metabolism</tspan><tspan x="2736" y="2191">Kaposi sarcoma-associated herpesvirus infection</tspan><tspan x="2736" y="2201">Autophagy - animal</tspan><tspan x="2736" y="2211">Autophagy - other</tspan><tspan x="2736" y="2221">Glycosylphosphatidylinositol (GPI)-anchor biosynthesis</tspan><tspan x="2736" y="2231">Retrograde endocannabinoid signaling</tspan><tspan x="2736" y="2241">Glycerophospholipid metabolism</tspan></text><path d="M2741,2092V2244H2923M2741,2099h-3.1M2741,2109h-3.1M2741,2119h-3.1M2741,2129h-3.1M2741,2139h-3.1M2741,2149h-3.1M2741,2159h-3.1M2741,2169h-3.1M2741,2179h-3.1M2741,2189h-3.1M2741,2199h-3.1M2741,2209h-3.1M2741,2219h-3.1M2741,2229h-3.1M2741,2239h-3.1M2741,2244v3.1M2777,2244v3.1M2812,2244v3.1M2848,2244v3.1M2884,2244v3.1M2919,2244v3.1" stroke="#000" stroke-width="1.1" fill="none"/><text font-size="6.1" class="m"><tspan x="2741" y="2254">0</tspan><tspan x="2777" y="2254">10</tspan><tspan x="2812" y="2254">20</tspan><tspan x="2848" y="2254">30</tspan><tspan x="2884" y="2254">40</tspan><tspan x="2919" y="2254">50</tspan></text><text x="2737" y="2271" font-size="12.7" class="m">Top 15 Kegg pathway (Number)</text>
<text x="2940" y="2075" font-size="21">B4</text><text x="3143" y="2084" font-size="12.7" class="m">MBHgS vs Model</text><path d="M3149,2101 H3328 M3149,2120 H3328 M3149,2140 H3328 M3149,2160 H3328 M3149,2180 H3328 M3149,2199 H3328 M3149,2219 H3328 M3149,2239 H3328" stroke="#eee" stroke-width="0.5" fill="none"/><path d="M3149,2097h11.6v6.6h-11.6zM3149,2107h26.1v6.6h-26.1zM3149,2117h26.1v6.6h-26.1zM3149,2127h29v6.6h-29zM3149,2137h34.8v6.6h-34.8zM3149,2147h43.5v6.6h-43.5zM3149,2157h43.5v6.6h-43.5zM3149,2166h49.3v6.6h-49.3zM3149,2176h58v6.6h-58zM3149,2186h93v6.6h-93zM3149,2196h93v6.6h-93zM3149,2206h93v6.6h-93zM3149,2216h93v6.6h-93zM3149,2226h142v6.6h-142zM3149,2236h168v6.6h-168z" fill="url(#hb4)" stroke="#000" stroke-width="1"/><text font-size="7.8" class="e"><tspan x="3144" y="2103">Regulation of lipolysis in adipocytes</tspan><tspan x="3144" y="2113">Phosphatidylinositol signaling system</tspan><tspan x="3144" y="2123">Inositol phosphate metabolism</tspan><tspan x="3144" y="2133">Long-term depression</tspan><tspan x="3144" y="2143">Glycerolipid metabolism</tspan><tspan x="3144" y="2153">Choline metabolism in cancer</tspan><tspan x="3144" y="2162">alpha-Linolenic acid metabolism</tspan><tspan x="3144" y="2172">Linoleic acid metabolism</tspan><tspan x="3144" y="2182">Arachidonic acid metabolism</tspan><tspan x="3144" y="2192">Kaposi sarcoma-associated herpesvirus infection</tspan><tspan x="3144" y="2202">Autophagy - animal</tspan><tspan x="3144" y="2212">Autophagy - other</tspan><tspan x="3144" y="2222">Glycosylphosphatidylinositol (GPI)-anchor biosynthesis</tspan><tspan x="3144" y="2232">Retrograde endocannabinoid signaling</tspan><tspan x="3144" y="2241">Glycerophospholipid metabolism</tspan></text><path d="M3149,2094V2244H3328M3149,2101h-3.1M3149,2111h-3.1M3149,2120h-3.1M3149,2130h-3.1M3149,2140h-3.1M3149,2150h-3.1M3149,2160h-3.1M3149,2170h-3.1M3149,2180h-3.1M3149,2190h-3.1M3149,2199h-3.1M3149,2209h-3.1M3149,2219h-3.1M3149,2229h-3.1M3149,2239h-3.1M3149,2244v3.1M3178,2244v3.1M3207,2244v3.1M3236,2244v3.1M3265,2244v3.1M3294,2244v3.1M3323,2244v3.1" stroke="#000" stroke-width="1.1" fill="none"/><text font-size="6.1" class="m"><tspan x="3149" y="2254">0</tspan><tspan x="3178" y="2254">10</tspan><tspan x="3207" y="2254">20</tspan><tspan x="3236" y="2254">30</tspan><tspan x="3265" y="2254">40</tspan><tspan x="3294" y="2254">50</tspan><tspan x="3323" y="2254">60</tspan></text><text x="3145" y="2271" font-size="12.7" class="m">Top 15 Kegg pathway (Number)</text>
<text x="3361" y="2075" font-size="21">B5</text><text x="3561" y="2084" font-size="12.9" class="m">HBHgS vs Model</text><path d="M3566,2101 H3750 M3566,2120 H3750 M3566,2140 H3750 M3566,2159 H3750 M3566,2178 H3750 M3566,2198 H3750 M3566,2217 H3750 M3566,2237 H3750" stroke="#eee" stroke-width="0.5" fill="none"/><path d="M3566,2097h25.7v6.6h-25.7zM3566,2107h28.3v6.6h-28.3zM3566,2117h28.3v6.6h-28.3zM3566,2127h28.3v6.6h-28.3zM3566,2136h41.2v6.6h-41.2zM3566,2146h41.2v6.6h-41.2zM3566,2156h41.2v6.6h-41.2zM3566,2165h43.7v6.6h-43.7zM3566,2175h48.9v6.6h-48.9zM3566,2185h90v6.6h-90zM3566,2195h90v6.6h-90zM3566,2204h90v6.6h-90zM3566,2214h93v6.6h-93zM3566,2224h131v6.6h-131zM3566,2233h167v6.6h-167z" fill="url(#hb5)" stroke="#000" stroke-width="1"/><text font-size="7.8" class="e"><tspan x="3561" y="2103">Vitamin digestion and absorption</tspan><tspan x="3561" y="2113">Long-term depression</tspan><tspan x="3561" y="2123">Phosphatidylinositol signaling system</tspan><tspan x="3561" y="2132">Inositol phosphate metabolism</tspan><tspan x="3561" y="2142">Choline metabolism in cancer</tspan><tspan x="3561" y="2152">alpha-Linolenic acid metabolism</tspan><tspan x="3561" y="2162">Linoleic acid metabolism</tspan><tspan x="3561" y="2171">Arachidonic acid metabolism</tspan><tspan x="3561" y="2181">Glycerolipid metabolism</tspan><tspan x="3561" y="2191">Kaposi sarcoma-associated herpesvirus infection</tspan><tspan x="3561" y="2200">Autophagy - other</tspan><tspan x="3561" y="2210">Glycosylphosphatidylinositol (GPI)-anchor biosynthesis</tspan><tspan x="3561" y="2220">Autophagy - animal</tspan><tspan x="3561" y="2230">Retrograde endocannabinoid signaling</tspan><tspan x="3561" y="2239">Glycerophospholipid metabolism</tspan></text><path d="M3566,2094V2242H3750M3566,2101h-3.1M3566,2110h-3.1M3566,2120h-3.1M3566,2130h-3.1M3566,2140h-3.1M3566,2149h-3.1M3566,2159h-3.1M3566,2169h-3.1M3566,2178h-3.1M3566,2188h-3.1M3566,2198h-3.1M3566,2208h-3.1M3566,2217h-3.1M3566,2227h-3.1M3566,2237h-3.1M3566,2242v3.1M3591,2242v3.1M3617,2242v3.1M3643,2242v3.1M3669,2242v3.1M3694,2242v3.1M3720,2242v3.1M3746,2242v3.1" stroke="#000" stroke-width="1.1" fill="none"/><text font-size="6.1" class="m"><tspan x="3566" y="2251">0</tspan><tspan x="3591" y="2251">10</tspan><tspan x="3617" y="2251">20</tspan><tspan x="3643" y="2251">30</tspan><tspan x="3669" y="2251">40</tspan><tspan x="3694" y="2251">50</tspan><tspan x="3720" y="2251">60</tspan><tspan x="3746" y="2251">70</tspan></text><text x="3558" y="2271" font-size="12.7" class="m">Top 15 Kegg pathway (Number)</text>
<text x="2540" y="2311" font-size="20.6">C1</text>
<text x="2762" y="2327" font-size="12.7" class="m">Model vs Control</text>
<svg x="2547" y="2367" width="126" height="259" viewBox="0 0 12 56" preserveAspectRatio="none" shape-rendering="crispEdges"><rect width="12" height="56" fill="#2626ff"/><path d="M0 0h4v1h-4zM5 0h3v1h-3zM1 1h1v1h-1zM0 2h3v1h-3zM4 2h2v1h-2zM7 2h2v1h-2zM3 3h1v1h-1zM3 4h1v1h-1zM5 4h1v1h-1zM0 6h1v1h-1zM0 8h2v1h-2zM8 8h1v1h-1zM1 9h2v1h-2zM7 9h1v1h-1zM5 10h1v1h-1zM11 10h1v1h-1zM0 11h6v1h-6zM8 11h1v1h-1zM11 11h1v1h-1zM1 12h3v1h-3zM5 12h1v1h-1zM0 13h1v1h-1zM3 13h1v1h-1zM8 13h1v1h-1zM3 15h2v1h-2zM8 15h1v1h-1zM5 17h1v1h-1zM1 18h1v1h-1zM6 18h1v1h-1zM8 18h1v1h-1zM8 21h1v1h-1zM1 22h1v1h-1zM3 22h1v1h-1zM9 22h1v1h-1zM11 22h1v1h-1zM0 23h2v1h-2zM4 23h2v1h-2zM7 23h2v1h-2zM4 24h1v1h-1zM0 25h2v1h-2zM5 25h5v1h-5zM0 26h2v1h-2zM4 26h2v1h-2zM7 26h3v1h-3zM11 26h1v1h-1zM3 27h1v1h-1zM8 28h1v1h-1zM0 29h3v1h-3zM4 29h4v1h-4zM10 29h1v1h-1zM0 30h1v1h-1zM7 31h1v1h-1zM1 32h1v1h-1zM9 32h3v1h-3zM0 33h1v1h-1zM6 33h1v1h-1zM8 33h1v1h-1zM0 35h2v1h-2zM6 35h2v1h-2zM9 35h1v1h-1zM8 36h2v1h-2zM11 36h1v1h-1zM7 37h1v1h-1zM0 38h2v1h-2zM3 38h3v1h-3zM7 38h2v1h-2zM5 39h3v1h-3zM9 39h1v1h-1zM0 40h1v1h-1zM2 40h1v1h-1zM4 40h5v1h-5zM1 41h1v1h-1zM3 41h2v1h-2zM10 41h2v1h-2zM0 42h1v1h-1zM4 42h2v1h-2zM8 42h2v1h-2zM7 43h1v1h-1zM2 44h1v1h-1zM0 45h1v1h-1zM2 45h1v1h-1zM5 45h4v1h-4zM11 45h1v1h-1zM0 46h1v1h-1zM3 46h1v1h-1zM8 46h1v1h-1zM1 47h1v1h-1zM4 47h3v1h-3zM8 47h1v1h-1zM11 48h1v1h-1zM3 49h1v1h-1zM3 50h2v1h-2zM6 50h3v1h-3zM10 50h1v1h-1zM1 51h1v1h-1zM0 52h3v1h-3zM4 52h1v1h-1zM7 52h2v1h-2zM0 53h3v1h-3zM5 53h3v1h-3zM2 55h1v1h-1zM4 55h1v1h-1z" fill="#4a4aff"/><path d="M0 1h1v1h-1zM2 1h1v1h-1zM5 1h1v1h-1zM9 1h3v1h-3zM2 3h1v1h-1zM5 3h1v1h-1zM7 3h1v1h-1zM9 3h3v1h-3zM2 4h1v1h-1zM7 4h1v1h-1zM9 4h3v1h-3zM5 6h1v1h-1zM9 6h3v1h-3zM2 8h2v1h-2zM9 8h3v1h-3zM9 9h1v1h-1zM11 9h1v1h-1zM0 12h1v1h-1zM4 12h1v1h-1zM9 12h3v1h-3zM7 13h1v1h-1zM9 13h3v1h-3zM1 15h1v1h-1zM9 15h1v1h-1zM11 15h1v1h-1zM0 16h1v1h-1zM7 16h1v1h-1zM9 16h3v1h-3zM0 17h2v1h-2zM3 17h1v1h-1zM9 17h1v1h-1zM0 18h1v1h-1zM9 18h3v1h-3zM11 19h1v1h-1zM2 21h1v1h-1zM5 21h1v1h-1zM9 21h3v1h-3zM9 23h1v1h-1zM11 23h1v1h-1zM3 24h1v1h-1zM5 24h1v1h-1zM10 24h2v1h-2zM0 27h1v1h-1zM2 27h1v1h-1zM4 27h2v1h-2zM7 27h4v1h-4zM0 28h1v1h-1zM9 28h3v1h-3zM2 30h2v1h-2zM7 30h1v1h-1zM9 30h1v1h-1zM2 31h4v1h-4zM10 31h2v1h-2zM1 33h1v1h-1zM9 33h1v1h-1zM4 37h1v1h-1zM6 37h1v1h-1zM9 37h3v1h-3zM11 42h1v1h-1zM1 43h1v1h-1zM9 43h3v1h-3zM4 44h1v1h-1zM9 44h3v1h-3zM2 46h1v1h-1zM9 46h2v1h-2zM0 49h1v1h-1zM5 49h1v1h-1zM8 49h1v1h-1zM0 51h1v1h-1zM3 51h3v1h-3zM9 51h3v1h-3zM9 52h1v1h-1zM11 52h1v1h-1zM9 53h2v1h-2zM3 54h5v1h-5zM10 54h1v1h-1zM8 55h1v1h-1z" fill="#0000ff"/><path d="M3 2h1v1h-1zM6 2h1v1h-1zM5 5h1v1h-1zM9 5h1v1h-1zM1 10h4v1h-4zM8 10h1v1h-1zM10 10h1v1h-1zM6 11h1v1h-1zM0 14h2v1h-2zM6 14h3v1h-3zM10 14h1v1h-1zM0 22h1v1h-1zM2 22h1v1h-1zM5 22h4v1h-4zM10 22h1v1h-1zM3 23h1v1h-1zM6 23h1v1h-1zM4 25h1v1h-1zM6 26h1v1h-1zM3 29h1v1h-1zM0 32h1v1h-1zM2 32h7v1h-7zM2 35h3v1h-3zM8 35h1v1h-1zM1 36h1v1h-1zM4 36h1v1h-1zM7 36h1v1h-1zM2 38h1v1h-1zM0 39h5v1h-5zM8 39h1v1h-1zM10 39h1v1h-1zM0 41h1v1h-1zM2 41h1v1h-1zM5 41h4v1h-4zM3 42h1v1h-1zM7 42h1v1h-1zM1 48h8v1h-8zM0 50h3v1h-3zM5 50h1v1h-1zM3 52h1v1h-1zM5 52h2v1h-2zM8 53h1v1h-1z" fill="#7c7cff"/><path d="M0 5h1v1h-1zM2 5h1v1h-1zM6 5h2v1h-2zM10 5h1v1h-1zM0 10h1v1h-1zM6 10h2v1h-2zM2 14h4v1h-4zM4 22h1v1h-1zM0 36h1v1h-1zM2 36h2v1h-2zM5 36h2v1h-2z" fill="#b8b8ff"/><path d="M1 5h1v1h-1zM3 5h2v1h-2zM8 5h1v1h-1zM11 5h1v1h-1zM5 20h1v1h-1zM9 34h1v1h-1z" fill="#ffffff"/><path d="M0 7h2v1h-2zM3 7h7v1h-7zM11 7h1v1h-1zM2 19h2v1h-2zM5 19h4v1h-4zM0 20h2v1h-2zM3 20h1v1h-1zM7 20h5v1h-5zM2 34h7v1h-7zM10 34h1v1h-1zM9 47h3v1h-3zM9 48h2v1h-2zM9 55h2v1h-2z" fill="#ff0000"/><path d="M2 7h1v1h-1zM2 20h1v1h-1zM0 47h1v1h-1zM0 55h1v1h-1z" fill="#ffc0c0"/><path d="M10 7h1v1h-1zM1 19h1v1h-1zM4 19h1v1h-1zM4 20h1v1h-1zM1 34h1v1h-1zM11 34h1v1h-1zM0 48h1v1h-1z" fill="#ff8484"/><path d="M6 20h1v1h-1z" fill="#ff4444"/></svg><rect x="2547" y="2367" width="126" height="259" fill="none" stroke="#000" stroke-width=".6"/>
<text font-size="5.1"><tspan x="2674" y="2371">1-hexadecanoyl-2-(9Z,12Z-octadecadienoyl)-sn-glycero-3-phosphoethanolamine</tspan><tspan x="2674" y="2376">DG(18:0/22:5(4Z,7Z,10Z,13Z,16Z)/0:0)</tspan><tspan x="2674" y="2380">DG(18:1(11Z)/20:3(5Z,8Z,11Z)/0:0)</tspan><tspan x="2674" y="2385">1-Oleoyl-2-pentadecanoyl-sn-glycerol</tspan><tspan x="2674" y="2390">DG(20:4(5Z,8Z,11Z,14Z)/20:1(11Z)/0:0)</tspan><tspan x="2674" y="2394">1-Arachidonoyl-sn-glycero-3-phosphocholine</tspan><tspan x="2674" y="2399">LPE(0:0/18:1(11Z))</tspan><tspan x="2674" y="2404">LPE(0:0/20:4)</tspan><tspan x="2674" y="2408">PC(20:4(5Z,8Z,11Z,14Z)/22:2(13Z,16Z))</tspan><tspan x="2674" y="2413">PE(15:0/22:4(7Z,10Z,13Z,16Z))</tspan><tspan x="2674" y="2417">PE(18:2(9Z,12Z)/18:1(9Z))</tspan><tspan x="2674" y="2422">PE(22:6(4Z,7Z,10Z,13Z,16Z,19Z)/18:2(9Z,12Z))</tspan><tspan x="2674" y="2427">PE-NMe(14:1(9Z)/24:1(15Z))</tspan><tspan x="2674" y="2431">PE-NMe(15:0/20:5(5Z,8Z,11Z,14Z,17Z))</tspan><tspan x="2674" y="2436">PE-NMe(16:0/22:5(4Z,7Z,10Z,13Z,16Z))</tspan><tspan x="2674" y="2441">PE-NMe(16:1(9Z)/22:0)</tspan><tspan x="2674" y="2445">PE-NMe2(18:2(9Z,12Z)/22:2(13Z,16Z))</tspan><tspan x="2674" y="2450">L-alpha-Glycerophosphorylethanolamine</tspan><tspan x="2674" y="2454">LPS(18:1/0:0)</tspan><tspan x="2674" y="2459">MG(16:0/0:0/0:0)</tspan><tspan x="2674" y="2464">PE(20:4(5Z,8Z,11Z,14Z)/20:4(5Z,8Z,11Z,14Z))</tspan><tspan x="2674" y="2468">1,2-Dioleoyl-sn-Glycero-3-Phosphocholine</tspan><tspan x="2674" y="2473">1,2-Dipentadecanoyl-sn-glycero-3-phosphocholine</tspan><tspan x="2674" y="2478">1-Oleoyl-2-myristoyl-sn-glycero-3-phosphocholine</tspan><tspan x="2674" y="2482">1-Hexadecanoyl-2-octadecanoyl-sn-glycero-3-phosphocholine</tspan><tspan x="2674" y="2487">1-octadecanoyl-2-(4Z,7Z,10Z,13Z,16Z,19Z-docosahexaenoyl)-sn-glycero-3-phosphocholine</tspan><tspan x="2674" y="2491">PE(18:0/20:4(5Z,8Z,11Z,14Z))</tspan><tspan x="2674" y="2496">1-octadecanoyl-2-(9Z-octadecenoyl)-sn-glycero-3-phosphoserine</tspan><tspan x="2674" y="2501">1-Stearoyl-2-docosahexaenoyl-sn-glycerol</tspan><tspan x="2674" y="2505">1-Oleoyl-2-lignoceroyl-sn-glycerol</tspan><tspan x="2674" y="2510">1-docosanoyl-2-(4Z,7Z,10Z,13Z,16Z,19Z-docosahexaenoyl)-sn-glycerol</tspan><tspan x="2674" y="2515">LPA(i-21:0/0:0)</tspan><tspan x="2674" y="2519">1-Palmitoyl-2-docosahexaenoyl-sn-glycero-3-phosphocholine</tspan><tspan x="2674" y="2524">1-(9Z-octadecenoyl)-2-(11Z-octadecenoyl)-sn-glycero-3-phosphocholine</tspan><tspan x="2674" y="2529">Dioleoyl phosphatidylcholine</tspan><tspan x="2674" y="2533">PC(20:5(5Z,8Z,11Z,14Z,17Z)/20:1(11Z))</tspan><tspan x="2674" y="2538">PC(20:5(5Z,8Z,11Z,14Z,17Z)/20:2(11Z,14Z))</tspan><tspan x="2674" y="2542">PC(20:5(5Z,8Z,11Z,14Z,17Z)/20:5(5Z,8Z,11Z,14Z,17Z))</tspan><tspan x="2674" y="2547">PC(22:6(4Z,7Z,10Z,13Z,16Z,19Z)/18:1(11Z))</tspan><tspan x="2674" y="2552">PC(P-18:0/20:4(5Z,8Z,11Z,14Z))</tspan><tspan x="2674" y="2556">PE(16:0/18:3(9Z,12Z,15Z))</tspan><tspan x="2674" y="2561">PE(16:0/22:5(7Z,10Z,13Z,16Z,19Z))</tspan><tspan x="2674" y="2566">PE(18:3(6Z,9Z,12Z)/14:0)</tspan><tspan x="2674" y="2570">PE-NMe(14:0/20:3(5Z,8Z,11Z))</tspan><tspan x="2674" y="2575">PE-NMe(14:0/22:0)</tspan><tspan x="2674" y="2579">PE-NMe(14:1(9Z)/22:0)</tspan><tspan x="2674" y="2584">PE-NMe(16:0/20:1(11Z))</tspan><tspan x="2674" y="2589">PE-NMe(16:0/22:4(7Z,10Z,13Z,16Z))</tspan><tspan x="2674" y="2593">PE-NMe(18:1(11Z)/20:3(5Z,8Z,11Z))</tspan><tspan x="2674" y="2598">PE-NMe(18:1(11Z)/20:3(8Z,11Z,14Z))</tspan><tspan x="2674" y="2603">PE-NMe(18:1(11Z)/22:5(4Z,7Z,10Z,13Z,16Z))</tspan><tspan x="2674" y="2607">PE-NMe(18:2(9Z,12Z)/22:1(13Z))</tspan><tspan x="2674" y="2612">PE-NMe2(22:0/15:0)</tspan><tspan x="2674" y="2616">CDP-ethanolamine</tspan><tspan x="2674" y="2621">Dioleoylphosphatidylcholine</tspan><tspan x="2674" y="2626">NBD-Stearoyl-2-Arachidonoyl-sn-glycerol</tspan></text>
<text font-size="4.9" class="e" transform="rotate(-90)"><tspan x="-2629" y="2554">Model-1</tspan><tspan x="-2629" y="2564">Model-5</tspan><tspan x="-2629" y="2575">Model-6</tspan><tspan x="-2629" y="2585">Control-1</tspan><tspan x="-2629" y="2596">Control-3</tspan><tspan x="-2629" y="2606">Control-2</tspan><tspan x="-2629" y="2617">Control-4</tspan><tspan x="-2629" y="2627">Control-5</tspan><tspan x="-2629" y="2638">Control-6</tspan><tspan x="-2629" y="2649">Model-2</tspan><tspan x="-2629" y="2659">Model-3</tspan><tspan x="-2629" y="2670">Model-4</tspan></text>
<path d="M 2573 2367 L 2573 2360 L 2584 2360 L 2584 2367 M 2563 2367 L 2563 2350 L 2578 2350 L 2578 2360 M 2570 2350 L 2570 2343 L 2594 2343 L 2594 2367 M 2605 2367 L 2605 2364 L 2615 2364 L 2615 2367 M 2582 2343 L 2582 2341 L 2610 2341 L 2610 2364 M 2626 2367 L 2626 2358 L 2636 2358 L 2636 2367 M 2596 2341 L 2596 2341 L 2631 2341 L 2631 2358 M 2552 2367 L 2552 2341 L 2614 2341 L 2614 2341" fill="none" stroke="#ff0000" stroke-width=".5"/><path d="M 2647 2367 L 2647 2364 L 2657 2364 L 2657 2367 M 2652 2364 L 2652 2355 L 2668 2355 L 2668 2367" fill="none" stroke="#00ff00" stroke-width=".5"/><path d="M 2583 2341 L 2583 2322 L 2621 2322" fill="none" stroke="#777" stroke-width=".6"/><path d="M 2621 2322 L 2660 2322 L 2660 2355" fill="none" stroke="#777" stroke-width=".6"/>
<rect x="2893" y="2345" width="13" height="285" fill="url(#bwr)" stroke="#000" stroke-width=".4"/><path d="M2906,2345h1.6M2906,2374h1.6M2906,2402h1.6M2906,2431h1.6M2906,2459h1.6M2906,2488h1.6M2906,2516h1.6M2906,2545h1.6M2906,2573h1.6M2906,2602h1.6M2906,2630h1.6" stroke="#000" stroke-width=".5"/><text font-size="4.9"><tspan x="2909" y="2347">7.30</tspan><tspan x="2909" y="2375">0.384</tspan><tspan x="2909" y="2404">0.308</tspan><tspan x="2909" y="2432">0.232</tspan><tspan x="2909" y="2461">0.156</tspan><tspan x="2909" y="2489">0.0800</tspan><tspan x="2909" y="2518">0.00400</tspan><tspan x="2909" y="2546">-0.0720</tspan><tspan x="2909" y="2575">-0.148</tspan><tspan x="2909" y="2603">-0.224</tspan><tspan x="2909" y="2632">-0.300</tspan></text>
<text x="2930" y="2311" font-size="20.8">C2</text>
<text x="3165" y="2328" font-size="12.6" class="m">SER VS Model</text>
<svg x="2958" y="2369" width="101" height="264" viewBox="0 0 11 38" preserveAspectRatio="none" shape-rendering="crispEdges"><rect width="11" height="38" fill="#ff4444"/><path d="M0 0h1v1h-1zM2 0h1v1h-1zM1 2h1v1h-1zM1 4h2v1h-2zM1 5h1v1h-1zM1 6h1v1h-1zM2 7h1v1h-1zM10 8h1v1h-1zM10 10h1v1h-1zM1 11h2v1h-2zM10 19h1v1h-1zM1 28h1v1h-1zM10 28h1v1h-1zM1 30h1v1h-1zM0 32h1v1h-1zM1 33h1v1h-1z" fill="#7c7cff"/><path d="M1 0h1v1h-1zM10 0h1v1h-1zM0 2h1v1h-1zM2 6h1v1h-1zM10 6h1v1h-1zM0 7h1v1h-1zM0 8h1v1h-1zM2 10h1v1h-1zM0 19h1v1h-1zM2 30h1v1h-1zM10 30h1v1h-1zM10 33h1v1h-1zM10 34h1v1h-1zM10 35h1v1h-1zM0 36h1v1h-1z" fill="#2626ff"/><path d="M3 0h3v1h-3zM7 0h1v1h-1zM6 2h3v1h-3zM1 3h1v1h-1zM3 3h3v1h-3zM8 3h3v1h-3zM4 4h1v1h-1zM6 4h1v1h-1zM8 4h2v1h-2zM4 5h1v1h-1zM7 5h1v1h-1zM6 6h1v1h-1zM6 8h1v1h-1zM9 8h1v1h-1zM10 9h1v1h-1zM3 10h1v1h-1zM5 10h4v1h-4zM4 11h1v1h-1zM2 12h2v1h-2zM9 12h1v1h-1zM7 13h1v1h-1zM10 15h1v1h-1zM3 16h1v1h-1zM5 16h1v1h-1zM10 16h1v1h-1zM3 19h1v1h-1zM7 19h1v1h-1zM6 20h2v1h-2zM9 20h1v1h-1zM3 22h4v1h-4zM8 22h2v1h-2zM0 23h1v1h-1zM5 23h1v1h-1zM7 23h2v1h-2zM9 24h1v1h-1zM0 26h1v1h-1zM2 26h1v1h-1zM6 27h1v1h-1zM5 28h3v1h-3zM5 30h1v1h-1zM5 32h2v1h-2zM4 33h1v1h-1zM6 33h1v1h-1zM9 33h1v1h-1zM8 34h1v1h-1zM5 35h1v1h-1zM7 35h1v1h-1zM4 36h3v1h-3z" fill="#ff8484"/><path d="M8 0h2v1h-2zM4 2h1v1h-1zM3 5h1v1h-1zM8 5h2v1h-2zM3 8h1v1h-1zM3 11h1v1h-1zM3 13h2v1h-2zM8 13h2v1h-2zM4 19h1v1h-1zM8 19h2v1h-2zM8 20h1v1h-1zM3 24h2v1h-2zM9 27h1v1h-1zM3 28h1v1h-1zM3 30h2v1h-2zM8 30h2v1h-2zM3 32h2v1h-2zM8 32h1v1h-1zM4 35h1v1h-1z" fill="#ffffff"/><path d="M0 1h3v1h-3zM5 1h2v1h-2zM8 1h3v1h-3zM0 9h1v1h-1zM3 9h1v1h-1zM5 9h2v1h-2zM7 12h1v1h-1zM10 12h1v1h-1zM0 14h5v1h-5zM6 14h3v1h-3zM0 15h1v1h-1zM7 15h2v1h-2zM0 17h7v1h-7zM9 17h2v1h-2zM0 18h6v1h-6zM7 18h1v1h-1zM10 18h1v1h-1zM0 21h4v1h-4zM5 21h6v1h-6zM6 23h1v1h-1zM2 25h1v1h-1zM4 25h2v1h-2zM7 25h4v1h-4zM4 26h1v1h-1zM0 29h1v1h-1zM2 29h1v1h-1zM4 29h1v1h-1zM6 29h5v1h-5zM0 31h11v1h-11zM1 37h1v1h-1zM3 37h4v1h-4zM8 37h2v1h-2z" fill="#ff0000"/><path d="M2 2h1v1h-1zM10 4h1v1h-1zM0 5h1v1h-1zM2 5h1v1h-1zM0 6h1v1h-1zM10 7h1v1h-1zM1 8h2v1h-2zM1 10h1v1h-1zM0 11h1v1h-1zM10 13h1v1h-1zM0 20h3v1h-3zM10 20h1v1h-1zM10 22h1v1h-1zM2 24h1v1h-1zM1 27h1v1h-1zM0 28h1v1h-1zM1 32h2v1h-2zM0 33h1v1h-1zM2 33h1v1h-1zM0 35h1v1h-1zM2 35h1v1h-1zM1 36h2v1h-2zM10 36h1v1h-1z" fill="#4a4aff"/><path d="M3 2h1v1h-1zM9 2h1v1h-1zM7 3h1v1h-1zM3 4h1v1h-1zM3 6h2v1h-2zM8 6h2v1h-2zM3 7h2v1h-2zM8 7h2v1h-2zM4 8h1v1h-1zM8 8h1v1h-1zM4 10h1v1h-1zM9 10h1v1h-1zM8 11h2v1h-2zM3 20h2v1h-2zM8 24h1v1h-1zM3 27h2v1h-2zM8 27h1v1h-1zM4 28h1v1h-1zM8 28h2v1h-2zM9 32h1v1h-1zM3 33h1v1h-1zM8 33h1v1h-1zM3 34h2v1h-2zM9 34h1v1h-1zM3 35h1v1h-1zM8 35h2v1h-2zM3 36h1v1h-1zM8 36h2v1h-2z" fill="#ffc0c0"/><path d="M10 2h1v1h-1zM0 4h1v1h-1zM10 5h1v1h-1zM1 7h1v1h-1zM0 10h1v1h-1zM10 11h1v1h-1zM0 13h3v1h-3zM1 19h2v1h-2zM0 22h3v1h-3zM0 24h2v1h-2zM10 24h1v1h-1zM0 27h1v1h-1zM2 27h1v1h-1zM10 27h1v1h-1zM2 28h1v1h-1zM0 30h1v1h-1zM10 32h1v1h-1zM0 34h3v1h-3zM1 35h1v1h-1z" fill="#b8b8ff"/></svg><rect x="2958" y="2369" width="101" height="264" fill="none" stroke="#000" stroke-width=".6"/>
<text font-size="3.2"><tspan x="3061" y="2373">PE(20:4(5Z,8Z,11Z,14Z)/20:4(5Z,8Z,11Z,14Z))</tspan><tspan x="3061" y="2380">LPA(i-21:0/0:0)</tspan><tspan x="3061" y="2387">PE(18:3(6Z,9Z,12Z)/14:0)</tspan><tspan x="3061" y="2394">CDP-ethanolamine</tspan><tspan x="3061" y="2401">PC(20:4(5Z,8Z,11Z,14Z)/22:2(13Z,16Z))</tspan><tspan x="3061" y="2408">MG(16:0/0:0/0:0)</tspan><tspan x="3061" y="2415">1-docosanoyl-2-(4Z,7Z,10Z,13Z,16Z,19Z-docosahexaenoyl)-sn-glycerol</tspan><tspan x="3061" y="2422">PE(16:0/22:5(7Z,10Z,13Z,16Z,19Z))</tspan><tspan x="3061" y="2429">PE-NMe2(22:0/15:0)</tspan><tspan x="3061" y="2436">LPE(0:0/20:4)</tspan><tspan x="3061" y="2443">LPS(18:1/0:0)</tspan><tspan x="3061" y="2450">1-Oleoyl-2-lignoceroyl-sn-glycerol</tspan><tspan x="3061" y="2456">PE(16:0/18:3(9Z,12Z,15Z))</tspan><tspan x="3061" y="2463">PE-NMe(18:2(9Z,12Z)/22:1(13Z))</tspan><tspan x="3061" y="2470">LPE(0:0/18:1(11Z))</tspan><tspan x="3061" y="2477">L-alpha-Glycerophosphorylethanolamine</tspan><tspan x="3061" y="2484">1-Stearoyl-2-docosahexaenoyl-sn-glycerol</tspan><tspan x="3061" y="2491">PC(P-18:0/20:4(5Z,8Z,11Z,14Z))</tspan><tspan x="3061" y="2498">PE-NMe(18:1(11Z)/22:5(4Z,7Z,10Z,13Z,16Z))</tspan><tspan x="3061" y="2505">1-Arachidonoyl-sn-glycero-3-phosphocholine</tspan><tspan x="3061" y="2512">PE-NMe2(18:2(9Z,12Z)/22:2(13Z,16Z))</tspan><tspan x="3061" y="2519">1-octadecanoyl-2-(9Z-octadecenoyl)-sn-glycero-3-phosphoserine</tspan><tspan x="3061" y="2526">PC(22:6(4Z,7Z,10Z,13Z,16Z,19Z)/18:1(11Z))</tspan><tspan x="3061" y="2533">PE-NMe(18:1(11Z)/20:3(8Z,11Z,14Z))</tspan><tspan x="3061" y="2540">DG(20:4(5Z,8Z,11Z,14Z)/20:1(11Z)/0:0)</tspan><tspan x="3061" y="2547">PE-NMe(16:1(9Z)/22:0)</tspan><tspan x="3061" y="2554">PE(18:0/20:4(5Z,8Z,11Z,14Z))</tspan><tspan x="3061" y="2561">PC(20:5(5Z,8Z,11Z,14Z,17Z)/20:5(5Z,8Z,11Z,14Z,17Z))</tspan><tspan x="3061" y="2568">PE-NMe(18:1(11Z)/20:3(5Z,8Z,11Z))</tspan><tspan x="3061" y="2574">1-Oleoyl-2-pentadecanoyl-sn-glycerol</tspan><tspan x="3061" y="2581">PE-NMe(16:0/22:5(4Z,7Z,10Z,13Z,16Z))</tspan><tspan x="3061" y="2588">1-octadecanoyl-2-(4Z,7Z,10Z,13Z,16Z,19Z-docosahexaenoyl)-sn-glycero-3-phosphocholine</tspan><tspan x="3061" y="2595">PC(20:5(5Z,8Z,11Z,14Z,17Z)/20:2(11Z,14Z))</tspan><tspan x="3061" y="2602">PE-NMe(16:0/22:4(7Z,10Z,13Z,16Z))</tspan><tspan x="3061" y="2609">DG(18:1(11Z)/20:3(5Z,8Z,11Z)/0:0)</tspan><tspan x="3061" y="2616">PE-NMe(15:0/20:5(5Z,8Z,11Z,14Z,17Z))</tspan><tspan x="3061" y="2623">1-Hexadecanoyl-2-octadecanoyl-sn-glycero-3-phosphocholine</tspan><tspan x="3061" y="2630">PC(20:5(5Z,8Z,11Z,14Z,17Z)/20:1(11Z))</tspan></text>
<text font-size="3.4" class="e" transform="rotate(-90)"><tspan x="-2634" y="2964">SER-1</tspan><tspan x="-2634" y="2973">SER-5</tspan><tspan x="-2634" y="2982">SER-2</tspan><tspan x="-2634" y="2992">SER-3</tspan><tspan x="-2634" y="3001">Model-1</tspan><tspan x="-2634" y="3010">Model-2</tspan><tspan x="-2634" y="3019">Model-3</tspan><tspan x="-2634" y="3028">Model-4</tspan><tspan x="-2634" y="3038">Model-5</tspan><tspan x="-2634" y="3047">Model-6</tspan><tspan x="-2634" y="3056">SER-6</tspan></text>
<path d="M 3027 2369 L 3027 2365 L 3036 2365 L 3036 2369 M 3009 2369 L 3009 2364 L 3018 2364 L 3018 2369 M 2990 2369 L 2990 2363 L 3000 2363 L 3000 2369 M 2995 2363 L 2995 2360 L 3013 2360 L 3013 2364 M 2963 2369 L 2963 2366 L 2972 2366 L 2972 2369 M 2981 2369 L 2981 2351 L 3004 2351 L 3004 2360 M 2967 2366 L 2967 2342 L 2993 2342 L 2993 2351 M 2980 2342 L 2980 2341 L 3032 2341 L 3032 2365 M 3006 2341 L 3006 2341 L 3046 2341 L 3046 2369" fill="none" stroke="#ff0000" stroke-width=".5"/><path d="" fill="none" stroke="#00ff00" stroke-width=".5"/><path d="M 3026 2341 L 3026 2321 L 3040 2321" fill="none" stroke="#000" stroke-width=".6"/><path d="M 3040 2321 L 3055 2321 L 3055 2369" fill="none" stroke="#00ff00" stroke-width=".6"/>
<rect x="3309" y="2362" width="13.2" height="266" fill="url(#bwr)" stroke="#000" stroke-width=".4"/><path d="M3322,2362h1.6M3322,2389h1.6M3322,2416h1.6M3322,2442h1.6M3322,2469h1.6M3322,2496h1.6M3322,2522h1.6M3322,2549h1.6M3322,2575h1.6M3322,2602h1.6M3322,2629h1.6" stroke="#000" stroke-width=".5"/><text font-size="4.9"><tspan x="3324" y="2364">5.90</tspan><tspan x="3324" y="2391">-0.215</tspan><tspan x="3324" y="2417">-0.282</tspan><tspan x="3324" y="2444">-0.350</tspan><tspan x="3324" y="2471">-0.417</tspan><tspan x="3324" y="2497">-0.484</tspan><tspan x="3324" y="2524">-0.551</tspan><tspan x="3324" y="2550">-0.618</tspan><tspan x="3324" y="2577">-0.686</tspan><tspan x="3324" y="2604">-0.753</tspan><tspan x="3324" y="2630">-0.820</tspan></text>
<text x="3350" y="2311" font-size="20.9">C3</text>
<text x="3570" y="2328" font-size="12.5" class="m">LBHgS vs Model</text>
<svg x="3367" y="2368" width="125" height="261" viewBox="0 0 12 50" preserveAspectRatio="none" shape-rendering="crispEdges"><rect width="12" height="50" fill="#4a4aff"/><path d="M1 0h1v1h-1zM7 0h2v1h-2zM10 0h1v1h-1zM2 2h2v1h-2zM1 3h1v1h-1zM4 3h1v1h-1zM6 3h1v1h-1zM8 3h1v1h-1zM10 3h2v1h-2zM4 7h1v1h-1zM6 7h1v1h-1zM1 10h1v1h-1zM3 10h1v1h-1zM5 11h1v1h-1zM1 12h1v1h-1zM3 15h1v1h-1zM9 15h3v1h-3zM0 17h1v1h-1zM2 17h3v1h-3zM8 17h1v1h-1zM10 17h2v1h-2zM0 20h3v1h-3zM7 20h1v1h-1zM9 20h1v1h-1zM2 23h1v1h-1zM0 24h3v1h-3zM4 24h8v1h-8zM0 28h1v1h-1zM3 28h3v1h-3zM7 28h4v1h-4zM1 29h2v1h-2zM6 29h6v1h-6zM2 30h1v1h-1zM6 30h1v1h-1zM3 31h1v1h-1zM9 31h1v1h-1zM1 32h2v1h-2zM4 32h1v1h-1zM6 32h1v1h-1zM11 33h1v1h-1zM3 34h1v1h-1zM6 34h1v1h-1zM11 34h1v1h-1zM1 36h1v1h-1zM3 36h3v1h-3zM7 36h5v1h-5zM3 37h1v1h-1zM6 37h1v1h-1zM8 37h1v1h-1zM11 37h1v1h-1zM6 39h1v1h-1zM0 40h2v1h-2zM3 40h1v1h-1zM7 40h2v1h-2zM10 40h2v1h-2zM11 42h1v1h-1zM1 43h1v1h-1zM3 43h1v1h-1zM5 43h7v1h-7zM9 44h1v1h-1zM2 47h1v1h-1zM8 47h1v1h-1zM3 48h2v1h-2zM9 48h1v1h-1zM11 48h1v1h-1zM1 49h1v1h-1z" fill="#7c7cff"/><path d="M0 1h1v1h-1zM11 4h1v1h-1zM0 7h1v1h-1zM10 8h1v1h-1zM8 18h1v1h-1zM7 19h1v1h-1zM11 26h1v1h-1zM5 29h1v1h-1zM11 30h1v1h-1zM4 39h1v1h-1zM1 44h1v1h-1zM3 46h1v1h-1zM7 47h1v1h-1zM7 48h1v1h-1z" fill="#ff4444"/><path d="M1 1h9v1h-9zM11 1h1v1h-1zM11 2h1v1h-1zM0 4h9v1h-9zM10 4h1v1h-1zM8 7h1v1h-1zM0 8h4v1h-4zM5 8h4v1h-4zM11 8h1v1h-1zM5 10h1v1h-1zM10 11h2v1h-2zM7 15h1v1h-1zM0 18h1v1h-1zM2 18h2v1h-2zM6 18h1v1h-1zM9 18h2v1h-2zM1 19h1v1h-1zM0 22h3v1h-3zM4 22h1v1h-1zM6 22h6v1h-6zM1 23h1v1h-1zM11 23h1v1h-1zM0 25h3v1h-3zM4 25h6v1h-6zM6 26h1v1h-1zM3 29h2v1h-2zM9 30h1v1h-1zM0 31h1v1h-1zM4 31h1v1h-1zM6 31h1v1h-1zM1 33h1v1h-1zM4 33h1v1h-1zM0 34h1v1h-1zM4 34h1v1h-1zM9 35h1v1h-1zM10 41h2v1h-2zM5 44h1v1h-1zM5 46h1v1h-1zM0 48h1v1h-1zM5 48h1v1h-1z" fill="#ff0000"/><path d="M10 1h1v1h-1zM4 8h1v1h-1zM0 15h1v1h-1zM1 17h1v1h-1zM1 18h1v1h-1zM3 22h1v1h-1zM5 23h1v1h-1zM11 25h1v1h-1zM5 26h1v1h-1zM2 33h1v1h-1zM10 35h1v1h-1zM7 44h1v1h-1zM1 47h1v1h-1z" fill="#ffc0c0"/><path d="M1 2h1v1h-1zM6 2h1v1h-1zM2 7h1v1h-1zM2 10h1v1h-1zM6 10h1v1h-1zM3 11h1v1h-1zM6 15h1v1h-1zM6 17h2v1h-2zM4 18h2v1h-2zM7 18h1v1h-1zM11 18h1v1h-1zM4 19h1v1h-1zM4 30h1v1h-1zM5 34h1v1h-1zM1 35h1v1h-1zM8 39h1v1h-1zM10 39h1v1h-1zM2 41h1v1h-1zM8 46h1v1h-1zM11 47h1v1h-1z" fill="#ff8484"/><path d="M4 2h1v1h-1zM9 2h2v1h-2zM1 5h2v1h-2zM8 5h4v1h-4zM0 6h2v1h-2zM3 6h4v1h-4zM8 6h4v1h-4zM1 7h1v1h-1zM0 9h6v1h-6zM7 9h1v1h-1zM10 9h2v1h-2zM0 10h1v1h-1zM11 10h1v1h-1zM0 11h1v1h-1zM7 11h1v1h-1zM2 12h1v1h-1zM5 12h1v1h-1zM7 12h2v1h-2zM0 13h1v1h-1zM2 13h1v1h-1zM4 13h3v1h-3zM9 13h3v1h-3zM0 14h2v1h-2zM3 14h1v1h-1zM6 14h6v1h-6zM2 15h1v1h-1zM8 15h1v1h-1zM2 16h2v1h-2zM7 16h1v1h-1zM9 16h3v1h-3zM10 19h1v1h-1zM6 20h1v1h-1zM0 21h2v1h-2zM5 21h1v1h-1zM8 21h4v1h-4zM3 23h1v1h-1zM1 26h2v1h-2zM4 26h1v1h-1zM8 26h3v1h-3zM0 27h1v1h-1zM2 27h1v1h-1zM7 27h1v1h-1zM11 27h1v1h-1zM0 30h2v1h-2zM3 30h1v1h-1zM5 30h1v1h-1zM1 31h1v1h-1zM0 33h1v1h-1zM10 33h1v1h-1zM2 34h1v1h-1zM10 34h1v1h-1zM4 35h5v1h-5zM5 37h1v1h-1zM9 37h2v1h-2zM1 38h3v1h-3zM5 38h1v1h-1zM9 38h1v1h-1zM11 38h1v1h-1zM0 39h1v1h-1zM2 39h1v1h-1zM7 39h1v1h-1zM0 41h2v1h-2zM3 41h7v1h-7zM2 42h1v1h-1zM8 42h1v1h-1zM3 44h1v1h-1zM11 44h1v1h-1zM0 45h3v1h-3zM5 45h2v1h-2zM8 45h4v1h-4zM0 46h1v1h-1zM2 46h1v1h-1zM4 46h1v1h-1zM6 46h1v1h-1zM10 46h2v1h-2zM3 47h1v1h-1zM9 47h1v1h-1zM1 48h1v1h-1zM6 48h1v1h-1zM10 48h1v1h-1zM0 49h1v1h-1zM3 49h1v1h-1zM6 49h1v1h-1zM10 49h2v1h-2z" fill="#2626ff"/><path d="M2 3h1v1h-1zM5 3h1v1h-1zM7 3h1v1h-1zM9 3h1v1h-1zM3 24h1v1h-1zM1 28h1v1h-1zM0 29h1v1h-1zM2 40h1v1h-1zM5 40h1v1h-1z" fill="#b8b8ff"/><path d="M9 4h1v1h-1zM9 8h1v1h-1zM5 22h1v1h-1zM3 25h1v1h-1zM10 25h1v1h-1z" fill="#ffffff"/><path d="M0 5h1v1h-1zM3 5h1v1h-1zM6 5h2v1h-2zM2 6h1v1h-1zM6 9h1v1h-1zM8 9h2v1h-2zM7 13h1v1h-1zM4 14h2v1h-2zM4 16h2v1h-2zM2 21h1v1h-1zM4 21h1v1h-1zM6 21h1v1h-1zM7 26h1v1h-1zM1 27h1v1h-1zM5 27h1v1h-1zM10 27h1v1h-1zM3 35h1v1h-1zM11 35h1v1h-1zM4 38h1v1h-1zM6 38h1v1h-1zM10 38h1v1h-1zM3 45h2v1h-2zM1 46h1v1h-1zM7 46h1v1h-1zM9 46h1v1h-1z" fill="#0000ff"/></svg><rect x="3367" y="2368" width="125" height="261" fill="none" stroke="#000" stroke-width="1.3"/>
<text font-size="4.9"><tspan x="3494" y="2372">1-Arachidonoyl-sn-glycero-3-phosphocholine</tspan><tspan x="3494" y="2377">PE-NMe2(18:2(9Z,12Z)/22:2(13Z,16Z))</tspan><tspan x="3494" y="2382">1-octadecanoyl-2-(9Z-octadecenoyl)-sn-glycero-3-phosphoserine</tspan><tspan x="3494" y="2388">PC(22:6(4Z,7Z,10Z,13Z,16Z,19Z)/18:1(11Z))</tspan><tspan x="3494" y="2393">PE-NMe(18:1(11Z)/20:3(8Z,11Z,14Z))</tspan><tspan x="3494" y="2398">DG(20:4(5Z,8Z,11Z,14Z)/20:1(11Z)/0:0)</tspan><tspan x="3494" y="2403">PE-NMe(16:1(9Z)/22:0)</tspan><tspan x="3494" y="2408">PE(18:0/20:4(5Z,8Z,11Z,14Z))</tspan><tspan x="3494" y="2414">PC(20:5(5Z,8Z,11Z,14Z,17Z)/20:5(5Z,8Z,11Z,14Z,17Z))</tspan><tspan x="3494" y="2419">PE-NMe(18:1(11Z)/20:3(5Z,8Z,11Z))</tspan><tspan x="3494" y="2424">1-Oleoyl-2-pentadecanoyl-sn-glycerol</tspan><tspan x="3494" y="2429">PE-NMe(16:0/22:5(4Z,7Z,10Z,13Z,16Z))</tspan><tspan x="3494" y="2434">1-octadecanoyl-2-(4Z,7Z,10Z,13Z,16Z,19Z-docosahexaenoyl)-sn-glycero-3-phosphocholine</tspan><tspan x="3494" y="2440">PC(20:5(5Z,8Z,11Z,14Z,17Z)/20:2(11Z,14Z))</tspan><tspan x="3494" y="2445">PE-NMe(16:0/22:4(7Z,10Z,13Z,16Z))</tspan><tspan x="3494" y="2450">DG(18:1(11Z)/20:3(5Z,8Z,11Z)/0:0)</tspan><tspan x="3494" y="2455">PE-NMe(15:0/20:5(5Z,8Z,11Z,14Z,17Z))</tspan><tspan x="3494" y="2461">1-Hexadecanoyl-2-octadecanoyl-sn-glycero-3-phosphocholine</tspan><tspan x="3494" y="2466">PC(20:5(5Z,8Z,11Z,14Z,17Z)/20:1(11Z))</tspan><tspan x="3494" y="2471">PE-NMe(16:0/20:1(11Z))</tspan><tspan x="3494" y="2476">DG(18:0/22:5(4Z,7Z,10Z,13Z,16Z)/0:0)</tspan><tspan x="3494" y="2481">PE-NMe(14:1(9Z)/24:1(15Z))</tspan><tspan x="3494" y="2487">1-Oleoyl-2-myristoyl-sn-glycero-3-phosphocholine</tspan><tspan x="3494" y="2492">Dioleoyl phosphatidylcholine</tspan><tspan x="3494" y="2497">PE-NMe(14:1(9Z)/22:0)</tspan><tspan x="3494" y="2502">1-hexadecanoyl-2-(9Z,12Z-octadecadienoyl)-sn-glycero-3-phosphoethanolamine</tspan><tspan x="3494" y="2508">PE(22:6(4Z,7Z,10Z,13Z,16Z,19Z)/18:2(9Z,12Z))</tspan><tspan x="3494" y="2513">1,2-Dipentadecanoyl-sn-glycero-3-phosphocholine</tspan><tspan x="3494" y="2518">1-(9Z-octadecenoyl)-2-(11Z-octadecenoyl)-sn-glycero-3-phosphocholine</tspan><tspan x="3494" y="2523">PE-NMe(14:0/22:0)</tspan><tspan x="3494" y="2528">NBD-Stearoyl-2-Arachidonoyl-sn-glycerol</tspan><tspan x="3494" y="2534">PE(18:2(9Z,12Z)/18:1(9Z))</tspan><tspan x="3494" y="2539">1,2-Dioleoyl-sn-Glycero-3-Phosphocholine</tspan><tspan x="3494" y="2544">1-Palmitoyl-2-docosahexaenoyl-sn-glycero-3-phosphocholine</tspan><tspan x="3494" y="2549">PE-NMe(14:0/20:3(5Z,8Z,11Z))</tspan><tspan x="3494" y="2555">Dioleoylphosphatidylcholine</tspan><tspan x="3494" y="2560">PE(15:0/22:4(7Z,10Z,13Z,16Z))</tspan><tspan x="3494" y="2565">PE(20:4(5Z,8Z,11Z,14Z)/20:4(5Z,8Z,11Z,14Z))</tspan><tspan x="3494" y="2570">LPA(i-21:0/0:0)</tspan><tspan x="3494" y="2575">PE(18:3(6Z,9Z,12Z)/14:0)</tspan><tspan x="3494" y="2581">CDP-ethanolamine</tspan><tspan x="3494" y="2586">PC(20:4(5Z,8Z,11Z,14Z)/22:2(13Z,16Z))</tspan><tspan x="3494" y="2591">MG(16:0/0:0/0:0)</tspan><tspan x="3494" y="2596">1-docosanoyl-2-(4Z,7Z,10Z,13Z,16Z,19Z-docosahexaenoyl)-sn-glycerol</tspan><tspan x="3494" y="2602">PE(16:0/22:5(7Z,10Z,13Z,16Z,19Z))</tspan><tspan x="3494" y="2607">PE-NMe2(22:0/15:0)</tspan><tspan x="3494" y="2612">LPE(0:0/20:4)</tspan><tspan x="3494" y="2617">LPS(18:1/0:0)</tspan><tspan x="3494" y="2622">1-Oleoyl-2-lignoceroyl-sn-glycerol</tspan><tspan x="3494" y="2628">PE(16:0/18:3(9Z,12Z,15Z))</tspan></text>
<text font-size="4.9" class="e" transform="rotate(-90)"><tspan x="-2631" y="3374">LBHgS-1</tspan><tspan x="-2631" y="3385">LBHgS-3</tspan><tspan x="-2631" y="3395">LBHgS-4</tspan><tspan x="-2631" y="3405">Model-6</tspan><tspan x="-2631" y="3416">LBHgS-5</tspan><tspan x="-2631" y="3426">LBHgS-6</tspan><tspan x="-2631" y="3437">LBHgS-2</tspan><tspan x="-2631" y="3447">Model-1</tspan><tspan x="-2631" y="3458">Model-4</tspan><tspan x="-2631" y="3468">Model-5</tspan><tspan x="-2631" y="3479">Model-2</tspan><tspan x="-2631" y="3489">Model-3</tspan></text>
<path d="M 3373 2368 L 3373 2364 L 3383 2364 L 3383 2368 M 3446 2368 L 3446 2361 L 3456 2361 L 3456 2368 M 3425 2368 L 3425 2362 L 3435 2362 L 3435 2368 M 3451 2361 L 3451 2351 L 3467 2351 L 3467 2368 M 3393 2368 L 3393 2362 L 3404 2362 L 3404 2368 M 3378 2364 L 3378 2358 L 3399 2358 L 3399 2362 M 3414 2368 L 3414 2359 L 3430 2359 L 3430 2362 M 3422 2359 L 3422 2348 L 3459 2348 L 3459 2351 M 3388 2358 L 3388 2341 L 3440 2341 L 3440 2348" fill="none" stroke="#ff0000" stroke-width="1"/><path d="M 3477 2368 L 3477 2358 L 3487 2358 L 3487 2368" fill="none" stroke="#00ff00" stroke-width="1"/><path d="M 3414 2341 L 3414 2322 L 3448 2322" fill="none" stroke="#000" stroke-width="1.1"/><path d="M 3448 2322 L 3482 2322 L 3482 2358" fill="none" stroke="#00ff00" stroke-width="1.1"/>
<rect x="3720" y="2374" width="12.3" height="261" fill="url(#bwr)" stroke="#000" stroke-width=".8"/><path d="M3732,2374h3.1M3732,2400h3.1M3732,2426h3.1M3732,2452h3.1M3732,2478h3.1M3732,2504h3.1M3732,2530h3.1M3732,2556h3.1M3732,2583h3.1M3732,2609h3.1M3732,2635h3.1" stroke="#000" stroke-width=".9"/><text font-size="4.9"><tspan x="3737" y="2375">5.74</tspan><tspan x="3737" y="2401">0.134</tspan><tspan x="3737" y="2428">0.0728</tspan><tspan x="3737" y="2454">0.0112</tspan><tspan x="3737" y="2480">-0.0504</tspan><tspan x="3737" y="2506">-0.112</tspan><tspan x="3737" y="2532">-0.174</tspan><tspan x="3737" y="2558">-0.235</tspan><tspan x="3737" y="2584">-0.297</tspan><tspan x="3737" y="2610">-0.358</tspan><tspan x="3737" y="2636">-0.420</tspan></text>
<text x="2540" y="2695" font-size="20.9">C4</text>
<text x="2747" y="2707" font-size="12.7" class="m">MBHgS vs Model</text>
<svg x="2548" y="2746" width="134" height="260" viewBox="0 0 12 58" preserveAspectRatio="none" shape-rendering="crispEdges"><rect width="12" height="58" fill="#4a4aff"/><path d="M2 0h1v1h-1zM0 5h5v1h-5zM6 8h2v1h-2zM9 8h3v1h-3zM4 9h1v1h-1zM5 10h1v1h-1zM8 10h1v1h-1zM1 11h2v1h-2zM4 11h2v1h-2zM7 11h2v1h-2zM10 11h1v1h-1zM1 13h1v1h-1zM4 13h3v1h-3zM9 13h1v1h-1zM3 14h1v1h-1zM8 14h1v1h-1zM10 14h1v1h-1zM0 19h1v1h-1zM2 19h2v1h-2zM5 19h1v1h-1zM8 19h1v1h-1zM10 19h1v1h-1zM4 21h1v1h-1zM0 26h1v1h-1zM7 26h2v1h-2zM11 26h1v1h-1zM7 30h1v1h-1zM9 30h1v1h-1zM2 32h1v1h-1zM10 36h1v1h-1zM9 37h1v1h-1zM0 38h1v1h-1zM3 38h1v1h-1zM6 38h1v1h-1zM9 38h1v1h-1zM1 39h1v1h-1zM3 39h1v1h-1zM1 41h1v1h-1zM4 41h2v1h-2zM8 41h1v1h-1zM0 42h1v1h-1zM9 42h1v1h-1zM3 43h1v1h-1zM5 43h1v1h-1zM11 43h1v1h-1zM1 44h2v1h-2zM5 44h4v1h-4zM10 44h1v1h-1zM6 46h1v1h-1zM8 46h2v1h-2zM6 47h2v1h-2zM11 47h1v1h-1zM2 48h1v1h-1zM4 48h2v1h-2zM9 48h1v1h-1zM11 48h1v1h-1zM2 49h1v1h-1zM5 49h1v1h-1zM11 49h1v1h-1zM0 50h1v1h-1zM4 50h1v1h-1zM8 50h2v1h-2zM0 52h10v1h-10zM11 52h1v1h-1zM4 53h1v1h-1zM0 54h2v1h-2zM3 54h5v1h-5zM9 54h1v1h-1zM11 54h1v1h-1zM10 55h1v1h-1zM4 56h2v1h-2z" fill="#7c7cff"/><path d="M6 0h1v1h-1zM7 1h2v1h-2zM11 1h1v1h-1zM8 7h2v1h-2zM10 9h1v1h-1zM6 12h1v1h-1zM4 20h1v1h-1zM6 23h1v1h-1zM9 23h1v1h-1zM2 25h1v1h-1zM5 25h1v1h-1zM1 37h2v1h-2zM5 37h1v1h-1zM3 45h1v1h-1zM3 47h1v1h-1z" fill="#ff4444"/><path d="M7 0h1v1h-1zM9 0h1v1h-1zM6 1h1v1h-1zM9 1h2v1h-2zM6 5h1v1h-1zM8 5h1v1h-1zM0 6h12v1h-12zM7 7h1v1h-1zM10 7h2v1h-2zM0 8h1v1h-1zM3 8h2v1h-2zM6 9h4v1h-4zM11 9h1v1h-1zM0 12h2v1h-2zM3 12h2v1h-2zM7 12h1v1h-1zM9 12h3v1h-3zM0 17h3v1h-3zM5 17h1v1h-1zM5 20h1v1h-1zM0 23h6v1h-6zM7 23h1v1h-1zM10 23h2v1h-2zM0 24h5v1h-5zM6 24h3v1h-3zM10 24h2v1h-2zM0 25h1v1h-1zM7 27h3v1h-3zM11 27h1v1h-1zM6 29h1v1h-1zM8 29h1v1h-1zM11 29h1v1h-1zM0 31h2v1h-2zM5 31h1v1h-1zM0 36h3v1h-3zM4 36h1v1h-1zM6 39h6v1h-6zM0 45h2v1h-2zM4 45h2v1h-2zM4 47h2v1h-2z" fill="#ff0000"/><path d="M8 0h1v1h-1zM11 0h1v1h-1zM10 5h2v1h-2zM6 7h1v1h-1zM1 8h2v1h-2zM3 17h1v1h-1zM0 20h1v1h-1zM2 20h2v1h-2zM8 23h1v1h-1zM1 25h1v1h-1zM3 25h2v1h-2zM7 29h1v1h-1zM9 29h1v1h-1zM4 31h1v1h-1zM5 36h1v1h-1zM0 37h1v1h-1zM2 45h1v1h-1zM0 47h3v1h-3z" fill="#ff8484"/><path d="M10 0h1v1h-1zM7 5h1v1h-1zM9 5h1v1h-1zM5 8h1v1h-1zM5 12h1v1h-1zM8 12h1v1h-1zM4 17h1v1h-1zM1 20h1v1h-1zM5 24h1v1h-1zM6 27h1v1h-1zM10 27h1v1h-1zM10 29h1v1h-1zM2 31h2v1h-2zM3 36h1v1h-1zM3 37h2v1h-2z" fill="#ffffff"/><path d="M0 1h6v1h-6zM1 2h1v1h-1zM3 2h1v1h-1zM6 2h4v1h-4zM0 3h5v1h-5zM6 3h5v1h-5zM0 4h5v1h-5zM6 4h1v1h-1zM8 4h4v1h-4zM0 7h1v1h-1zM3 7h2v1h-2zM0 9h2v1h-2zM9 10h1v1h-1zM1 14h1v1h-1zM0 15h1v1h-1zM3 15h2v1h-2zM7 15h1v1h-1zM9 15h1v1h-1zM1 16h2v1h-2zM4 16h1v1h-1zM9 16h3v1h-3zM6 17h5v1h-5zM1 18h1v1h-1zM3 18h2v1h-2zM9 18h1v1h-1zM11 18h1v1h-1zM6 20h4v1h-4zM0 21h1v1h-1zM5 21h1v1h-1zM7 21h1v1h-1zM9 21h1v1h-1zM11 21h1v1h-1zM0 22h1v1h-1zM2 22h2v1h-2zM6 22h2v1h-2zM11 22h1v1h-1zM6 26h1v1h-1zM9 26h1v1h-1zM0 27h3v1h-3zM4 27h1v1h-1zM0 28h1v1h-1zM2 28h2v1h-2zM5 28h1v1h-1zM7 28h1v1h-1zM9 28h3v1h-3zM0 29h2v1h-2zM3 29h3v1h-3zM2 30h1v1h-1zM5 30h2v1h-2zM7 31h1v1h-1zM11 31h1v1h-1zM5 32h1v1h-1zM9 32h3v1h-3zM0 33h1v1h-1zM2 33h2v1h-2zM5 33h1v1h-1zM7 33h1v1h-1zM10 33h1v1h-1zM1 34h2v1h-2zM5 34h1v1h-1zM7 34h1v1h-1zM9 34h2v1h-2zM0 35h1v1h-1zM2 35h3v1h-3zM6 35h2v1h-2zM10 35h2v1h-2zM6 36h4v1h-4zM1 38h1v1h-1zM5 38h1v1h-1zM7 38h1v1h-1zM10 38h1v1h-1zM0 39h1v1h-1zM1 40h2v1h-2zM4 40h3v1h-3zM8 40h4v1h-4zM11 41h1v1h-1zM1 42h2v1h-2zM5 42h4v1h-4zM10 42h1v1h-1zM2 43h1v1h-1zM10 43h1v1h-1zM9 45h1v1h-1zM11 45h1v1h-1zM0 49h2v1h-2zM3 49h1v1h-1zM2 50h1v1h-1zM6 50h1v1h-1zM1 51h1v1h-1zM3 51h3v1h-3zM7 51h3v1h-3zM2 53h2v1h-2zM7 53h2v1h-2zM1 55h1v1h-1zM8 55h1v1h-1zM11 55h1v1h-1zM3 56h1v1h-1zM7 56h1v1h-1zM1 57h1v1h-1zM3 57h4v1h-4z" fill="#2626ff"/><path d="M10 2h1v1h-1zM11 3h1v1h-1zM5 7h1v1h-1zM2 15h1v1h-1zM6 15h1v1h-1zM5 16h2v1h-2zM8 16h1v1h-1zM4 22h1v1h-1zM8 22h2v1h-2zM3 27h1v1h-1zM5 27h1v1h-1zM1 28h1v1h-1zM6 28h1v1h-1zM8 28h1v1h-1zM2 29h1v1h-1zM6 31h1v1h-1zM8 31h1v1h-1zM1 33h1v1h-1zM4 33h1v1h-1zM6 33h1v1h-1zM8 33h2v1h-2zM11 33h1v1h-1zM6 34h1v1h-1zM11 34h1v1h-1zM1 35h1v1h-1zM8 35h1v1h-1zM0 40h1v1h-1zM7 40h1v1h-1zM10 51h2v1h-2zM0 57h1v1h-1zM2 57h1v1h-1zM10 57h2v1h-2z" fill="#0000ff"/><path d="M5 5h1v1h-1zM3 11h1v1h-1zM6 11h1v1h-1zM9 11h1v1h-1zM11 11h1v1h-1zM2 13h2v1h-2zM7 13h1v1h-1zM10 13h1v1h-1zM1 19h1v1h-1zM6 19h1v1h-1zM9 19h1v1h-1zM11 19h1v1h-1zM11 44h1v1h-1zM9 47h1v1h-1zM0 48h2v1h-2zM3 48h1v1h-1zM6 48h2v1h-2zM10 48h1v1h-1zM10 52h1v1h-1zM2 54h1v1h-1zM8 54h1v1h-1zM10 54h1v1h-1z" fill="#b8b8ff"/><path d="M2 12h1v1h-1zM9 24h1v1h-1z" fill="#ffc0c0"/></svg><rect x="2548" y="2746" width="134" height="260" fill="none" stroke="#000" stroke-width="1.3"/>
<text font-size="4.8"><tspan x="2685" y="2750">PE(20:4(5Z,8Z,11Z,14Z)/20:4(5Z,8Z,11Z,14Z))</tspan><tspan x="2685" y="2754">1-octadecanoyl-2-(4Z,7Z,10Z,13Z,16Z,19Z-docosahexaenoyl)-sn-glycero-3-phosphocholine</tspan><tspan x="2685" y="2759">1-docosanoyl-2-(4Z,7Z,10Z,13Z,16Z,19Z-docosahexaenoyl)-sn-glycerol</tspan><tspan x="2685" y="2763">PC(20:5(5Z,8Z,11Z,14Z,17Z)/20:1(11Z))</tspan><tspan x="2685" y="2767">PE(16:0/18:3(9Z,12Z,15Z))</tspan><tspan x="2685" y="2772">PE-NMe(14:1(9Z)/22:0)</tspan><tspan x="2685" y="2776">PE-NMe(18:1(11Z)/22:5(4Z,7Z,10Z,13Z,16Z))</tspan><tspan x="2685" y="2781">NBD-Stearoyl-2-Arachidonoyl-sn-glycerol</tspan><tspan x="2685" y="2785">DG(20:4(5Z,8Z,11Z,14Z)/20:1(11Z)/0:0)</tspan><tspan x="2685" y="2790">PE(15:0/22:4(7Z,10Z,13Z,16Z))</tspan><tspan x="2685" y="2794">PE-NMe(16:0/22:5(4Z,7Z,10Z,13Z,16Z))</tspan><tspan x="2685" y="2799">MG(16:0/0:0/0:0)</tspan><tspan x="2685" y="2803">1-Hexadecanoyl-2-octadecanoyl-sn-glycero-3-phosphocholine</tspan><tspan x="2685" y="2808">1-Oleoyl-2-lignoceroyl-sn-glycerol</tspan><tspan x="2685" y="2812">Dioleoyl phosphatidylcholine</tspan><tspan x="2685" y="2817">PC(P-18:0/20:4(5Z,8Z,11Z,14Z))</tspan><tspan x="2685" y="2821">PE-NMe(14:0/22:0)</tspan><tspan x="2685" y="2826">PE-NMe(18:1(11Z)/20:3(8Z,11Z,14Z))</tspan><tspan x="2685" y="2830">Dioleoylphosphatidylcholine</tspan><tspan x="2685" y="2835">1-Oleoyl-2-pentadecanoyl-sn-glycerol</tspan><tspan x="2685" y="2839">PC(20:4(5Z,8Z,11Z,14Z)/22:2(13Z,16Z))</tspan><tspan x="2685" y="2844">PE-NMe(15:0/20:5(5Z,8Z,11Z,14Z,17Z))</tspan><tspan x="2685" y="2848">LPS(18:1/0:0)</tspan><tspan x="2685" y="2853">1-Oleoyl-2-myristoyl-sn-glycero-3-phosphocholine</tspan><tspan x="2685" y="2857">1-Stearoyl-2-docosahexaenoyl-sn-glycerol</tspan><tspan x="2685" y="2862">1-(9Z-octadecenoyl)-2-(11Z-octadecenoyl)-sn-glycero-3-phosphocholine</tspan><tspan x="2685" y="2866">PC(22:6(4Z,7Z,10Z,13Z,16Z,19Z)/18:1(11Z))</tspan><tspan x="2685" y="2870">PE-NMe(14:0/20:3(5Z,8Z,11Z))</tspan><tspan x="2685" y="2875">PE-NMe(18:1(11Z)/20:3(5Z,8Z,11Z))</tspan><tspan x="2685" y="2879">CDP-ethanolamine</tspan><tspan x="2685" y="2884">DG(18:1(11Z)/20:3(5Z,8Z,11Z)/0:0)</tspan><tspan x="2685" y="2888">LPE(0:0/20:4)</tspan><tspan x="2685" y="2893">PE-NMe(14:1(9Z)/24:1(15Z))</tspan><tspan x="2685" y="2897">L-alpha-Glycerophosphorylethanolamine</tspan><tspan x="2685" y="2902">1,2-Dipentadecanoyl-sn-glycero-3-phosphocholine</tspan><tspan x="2685" y="2906">1-octadecanoyl-2-(9Z-octadecenoyl)-sn-glycero-3-phosphoserine</tspan><tspan x="2685" y="2911">1-Palmitoyl-2-docosahexaenoyl-sn-glycero-3-phosphocholine</tspan><tspan x="2685" y="2915">PC(20:5(5Z,8Z,11Z,14Z,17Z)/20:5(5Z,8Z,11Z,14Z,17Z))</tspan><tspan x="2685" y="2920">PE(18:3(6Z,9Z,12Z)/14:0)</tspan><tspan x="2685" y="2924">PE-NMe(16:0/22:4(7Z,10Z,13Z,16Z))</tspan><tspan x="2685" y="2929">PE-NMe2(22:0/15:0)</tspan><tspan x="2685" y="2933">DG(18:0/22:5(4Z,7Z,10Z,13Z,16Z)/0:0)</tspan><tspan x="2685" y="2938">LPE(0:0/18:1(11Z))</tspan><tspan x="2685" y="2942">PE(22:6(4Z,7Z,10Z,13Z,16Z,19Z)/18:2(9Z,12Z))</tspan><tspan x="2685" y="2947">PE-NMe2(18:2(9Z,12Z)/22:2(13Z,16Z))</tspan><tspan x="2685" y="2951">1,2-Dioleoyl-sn-Glycero-3-Phosphocholine</tspan><tspan x="2685" y="2956">PE(18:0/20:4(5Z,8Z,11Z,14Z))</tspan><tspan x="2685" y="2960">LPA(i-21:0/0:0)</tspan><tspan x="2685" y="2965">PC(20:5(5Z,8Z,11Z,14Z,17Z)/20:2(11Z,14Z))</tspan><tspan x="2685" y="2969">PE(16:0/22:5(7Z,10Z,13Z,16Z,19Z))</tspan><tspan x="2685" y="2973">PE-NMe(16:0/20:1(11Z))</tspan><tspan x="2685" y="2978">PE-NMe(18:2(9Z,12Z)/22:1(13Z))</tspan><tspan x="2685" y="2982">1-hexadecanoyl-2-(9Z,12Z-octadecadienoyl)-sn-glycero-3-phosphoethanolamine</tspan><tspan x="2685" y="2987">1-Arachidonoyl-sn-glycero-3-phosphocholine</tspan><tspan x="2685" y="2991">PE(18:2(9Z,12Z)/18:1(9Z))</tspan><tspan x="2685" y="2996">PE-NMe(16:1(9Z)/22:0)</tspan><tspan x="2685" y="3000">PE(20:4(5Z,8Z,11Z,14Z)/20:4(5Z,8Z,11Z,14Z))</tspan><tspan x="2685" y="3005">1-octadecanoyl-2-(4Z,7Z,10Z,13Z,16Z,19Z-docosahexaenoyl)-sn-glycero-3-phosphocholine</tspan></text>
<text font-size="4.9" class="e" transform="rotate(-90)"><tspan x="-3009" y="2555">MBHgS-1</tspan><tspan x="-3009" y="2567">MBHgS-2</tspan><tspan x="-3009" y="2578">MBHgS-4</tspan><tspan x="-3009" y="2589">MBHgS-5</tspan><tspan x="-3009" y="2600">MBHgS-3</tspan><tspan x="-3009" y="2611">MBHgS-6</tspan><tspan x="-3009" y="2623">Model-1</tspan><tspan x="-3009" y="2634">Model-5</tspan><tspan x="-3009" y="2645">Model-6</tspan><tspan x="-3009" y="2656">Model-4</tspan><tspan x="-3009" y="2667">Model-2</tspan><tspan x="-3009" y="2679">Model-3</tspan></text>
<path d="M 2610 2746 L 2610 2736 L 2621 2736 L 2621 2746 M 2565 2746 L 2565 2740 L 2576 2740 L 2576 2746 M 2632 2746 L 2632 2737 L 2643 2737 L 2643 2746 M 2638 2737 L 2638 2730 L 2655 2730 L 2655 2746 M 2615 2736 L 2615 2721 L 2646 2721 L 2646 2730 M 2571 2740 L 2571 2730 L 2587 2730 L 2587 2746 M 2579 2730 L 2579 2721 L 2599 2721 L 2599 2746 M 2589 2721 L 2589 2718 L 2631 2718 L 2631 2721 M 2610 2718 L 2610 2718 L 2666 2718 L 2666 2746 M 2554 2746 L 2554 2718 L 2638 2718 L 2638 2718" fill="none" stroke="#ff0000" stroke-width="1"/><path d="" fill="none" stroke="#00ff00" stroke-width="1"/><path d="M 2596 2718 L 2596 2699 L 2636 2699" fill="none" stroke="#000" stroke-width="1.1"/><path d="M 2636 2699 L 2677 2699 L 2677 2746" fill="none" stroke="#00ff00" stroke-width="1.1"/>
<rect x="2896" y="2738" width="11.8" height="266" fill="url(#bwr)" stroke="#000" stroke-width=".8"/><path d="M2908,2738h3.1M2908,2765h3.1M2908,2791h3.1M2908,2818h3.1M2908,2844h3.1M2908,2871h3.1M2908,2898h3.1M2908,2924h3.1M2908,2951h3.1M2908,2977h3.1M2908,3004h3.1" stroke="#000" stroke-width=".9"/><text font-size="4.9"><tspan x="2912" y="2740">7.26</tspan><tspan x="2912" y="2766">0.308</tspan><tspan x="2912" y="2793">0.231</tspan><tspan x="2912" y="2819">0.155</tspan><tspan x="2912" y="2846">0.0784</tspan><tspan x="2912" y="2873">0.00200</tspan><tspan x="2912" y="2899">-0.0744</tspan><tspan x="2912" y="2926">-0.151</tspan><tspan x="2912" y="2952">-0.227</tspan><tspan x="2912" y="2979">-0.304</tspan><tspan x="2912" y="3006">-0.380</tspan></text>
<text x="2930" y="2695" font-size="20.9">C5</text>
<text x="3157" y="2707" font-size="12.9" class="m">HBHgS vs Model</text>
<svg x="2957" y="2749" width="83" height="263" viewBox="0 0 12 62" preserveAspectRatio="none" shape-rendering="crispEdges"><rect width="12" height="62" fill="#7c7cff"/><path d="M0 0h2v1h-2zM4 0h1v1h-1zM1 3h1v1h-1zM4 3h1v1h-1zM3 8h1v1h-1zM1 13h1v1h-1zM4 13h1v1h-1zM0 17h1v1h-1zM3 17h1v1h-1zM0 20h4v1h-4zM0 21h3v1h-3zM3 23h1v1h-1zM2 25h1v1h-1zM4 25h1v1h-1zM0 27h1v1h-1zM4 29h1v1h-1zM0 32h2v1h-2zM3 32h1v1h-1zM3 33h1v1h-1zM1 34h2v1h-2zM0 36h1v1h-1zM0 38h3v1h-3zM4 38h1v1h-1zM0 43h2v1h-2zM4 43h1v1h-1zM0 44h2v1h-2zM4 44h1v1h-1zM2 47h1v1h-1zM2 49h1v1h-1zM3 50h1v1h-1zM4 52h1v1h-1zM0 53h5v1h-5zM2 54h1v1h-1zM4 54h1v1h-1zM0 59h1v1h-1zM4 59h1v1h-1z" fill="#2626ff"/><path d="M2 0h1v1h-1zM4 4h1v1h-1zM4 11h1v1h-1zM0 13h1v1h-1zM2 13h1v1h-1zM3 14h1v1h-1zM1 16h1v1h-1zM1 17h1v1h-1zM2 18h1v1h-1zM4 19h1v1h-1zM0 24h1v1h-1zM4 34h1v1h-1zM3 35h1v1h-1zM1 36h1v1h-1zM3 37h1v1h-1zM2 41h2v1h-2zM1 46h2v1h-2zM0 47h1v1h-1zM4 49h1v1h-1zM4 51h1v1h-1zM3 52h1v1h-1zM0 56h2v1h-2zM3 57h1v1h-1zM2 59h2v1h-2z" fill="#0000ff"/><path d="M3 0h1v1h-1zM0 3h1v1h-1zM2 3h1v1h-1zM0 4h2v1h-2zM3 4h1v1h-1zM0 6h2v1h-2zM3 6h2v1h-2zM0 7h4v1h-4zM0 8h2v1h-2zM4 8h1v1h-1zM0 9h5v1h-5zM2 10h1v1h-1zM4 10h1v1h-1zM0 11h4v1h-4zM0 12h5v1h-5zM0 15h1v1h-1zM2 15h3v1h-3zM3 16h2v1h-2zM2 17h1v1h-1zM2 19h2v1h-2zM4 23h1v1h-1zM1 24h4v1h-4zM0 26h1v1h-1zM2 26h1v1h-1zM1 27h1v1h-1zM0 28h3v1h-3zM2 29h1v1h-1zM0 30h5v1h-5zM1 33h2v1h-2zM4 33h1v1h-1zM0 35h3v1h-3zM4 35h1v1h-1zM1 39h1v1h-1zM4 39h1v1h-1zM0 40h5v1h-5zM1 41h1v1h-1zM4 41h1v1h-1zM3 44h1v1h-1zM0 46h1v1h-1zM4 46h1v1h-1zM1 47h1v1h-1zM3 47h2v1h-2zM1 48h3v1h-3zM0 49h2v1h-2zM3 49h1v1h-1zM0 51h2v1h-2zM0 52h1v1h-1zM4 56h1v1h-1zM1 57h2v1h-2zM4 57h1v1h-1zM0 58h2v1h-2zM3 58h2v1h-2zM2 60h3v1h-3zM0 61h1v1h-1zM3 61h1v1h-1z" fill="#4a4aff"/><path d="M5 0h2v1h-2zM8 0h2v1h-2zM5 3h1v1h-1zM10 3h1v1h-1zM5 4h1v1h-1zM7 4h4v1h-4zM6 5h2v1h-2zM6 6h2v1h-2zM10 6h2v1h-2zM10 7h2v1h-2zM5 8h1v1h-1zM7 8h1v1h-1zM11 8h1v1h-1zM6 9h1v1h-1zM9 9h3v1h-3zM5 10h1v1h-1zM10 11h2v1h-2zM7 12h1v1h-1zM11 12h1v1h-1zM6 13h1v1h-1zM11 13h1v1h-1zM7 15h2v1h-2zM10 15h2v1h-2zM6 16h2v1h-2zM9 16h1v1h-1zM11 16h1v1h-1zM5 18h4v1h-4zM8 19h1v1h-1zM10 19h1v1h-1zM5 20h1v1h-1zM9 20h1v1h-1zM11 20h1v1h-1zM10 21h1v1h-1zM5 22h1v1h-1zM7 22h2v1h-2zM11 22h1v1h-1zM7 23h1v1h-1zM9 23h3v1h-3zM6 24h2v1h-2zM9 24h1v1h-1zM11 24h1v1h-1zM6 26h1v1h-1zM9 26h3v1h-3zM5 27h1v1h-1zM8 27h1v1h-1zM5 28h1v1h-1zM9 28h1v1h-1zM11 28h1v1h-1zM5 29h1v1h-1zM8 29h1v1h-1zM11 29h1v1h-1zM5 30h2v1h-2zM9 30h2v1h-2zM6 31h2v1h-2zM9 31h1v1h-1zM11 31h1v1h-1zM6 32h1v1h-1zM9 32h3v1h-3zM5 33h3v1h-3zM9 33h1v1h-1zM6 34h3v1h-3zM11 34h1v1h-1zM5 36h1v1h-1zM10 36h2v1h-2zM6 37h1v1h-1zM10 37h1v1h-1zM5 38h1v1h-1zM8 38h3v1h-3zM6 39h3v1h-3zM5 40h1v1h-1zM9 40h1v1h-1zM5 41h1v1h-1zM11 41h1v1h-1zM5 42h2v1h-2zM9 42h1v1h-1zM5 43h2v1h-2zM11 43h1v1h-1zM5 44h4v1h-4zM10 44h2v1h-2zM5 45h2v1h-2zM8 45h1v1h-1zM6 46h1v1h-1zM9 46h1v1h-1zM11 46h1v1h-1zM5 47h1v1h-1zM8 47h1v1h-1zM6 48h1v1h-1zM8 48h2v1h-2zM11 48h1v1h-1zM6 49h1v1h-1zM8 49h1v1h-1zM10 49h2v1h-2zM7 50h1v1h-1zM9 50h1v1h-1zM7 51h4v1h-4zM8 52h2v1h-2zM5 53h1v1h-1zM8 53h1v1h-1zM5 54h2v1h-2zM8 54h3v1h-3zM7 55h2v1h-2zM10 55h1v1h-1zM8 56h1v1h-1zM6 57h2v1h-2zM11 57h1v1h-1zM5 58h1v1h-1zM10 58h2v1h-2zM5 59h1v1h-1zM7 59h1v1h-1zM7 60h3v1h-3zM11 60h1v1h-1zM5 61h1v1h-1zM11 61h1v1h-1z" fill="#b8b8ff"/><path d="M0 1h12v1h-12zM0 2h12v1h-12zM3 3h1v1h-1zM4 5h1v1h-1zM4 7h1v1h-1zM1 10h1v1h-1zM3 13h1v1h-1zM1 15h1v1h-1zM0 16h1v1h-1zM4 17h1v1h-1zM4 21h1v1h-1zM2 22h1v1h-1zM2 23h1v1h-1zM3 25h1v1h-1zM1 26h1v1h-1zM3 26h2v1h-2zM3 27h1v1h-1zM3 28h1v1h-1zM0 29h1v1h-1zM0 31h1v1h-1zM2 31h1v1h-1zM0 33h1v1h-1zM0 34h1v1h-1zM3 34h1v1h-1zM2 36h2v1h-2zM1 37h1v1h-1zM4 37h1v1h-1zM2 39h1v1h-1zM3 43h1v1h-1zM2 44h1v1h-1zM1 45h1v1h-1zM3 45h1v1h-1zM3 46h1v1h-1zM1 50h1v1h-1zM3 51h1v1h-1zM0 54h1v1h-1zM3 54h1v1h-1zM1 55h1v1h-1zM3 56h1v1h-1zM0 57h1v1h-1zM2 58h1v1h-1zM1 59h1v1h-1zM0 60h2v1h-2zM2 61h1v1h-1z" fill="#ff0000"/><path d="M11 3h1v1h-1zM6 4h1v1h-1zM5 5h1v1h-1zM9 5h2v1h-2zM8 6h2v1h-2zM5 7h1v1h-1zM7 7h1v1h-1zM9 7h1v1h-1zM6 8h1v1h-1zM9 8h2v1h-2zM8 9h1v1h-1zM6 10h2v1h-2zM9 10h1v1h-1zM6 11h1v1h-1zM5 12h1v1h-1zM8 12h2v1h-2zM7 13h1v1h-1zM6 14h1v1h-1zM9 14h2v1h-2zM5 15h2v1h-2zM10 16h1v1h-1zM5 17h2v1h-2zM9 17h1v1h-1zM11 17h1v1h-1zM5 19h1v1h-1zM10 20h1v1h-1zM11 21h1v1h-1zM9 22h2v1h-2zM8 23h1v1h-1zM5 24h1v1h-1zM10 24h1v1h-1zM6 25h1v1h-1zM9 25h2v1h-2zM5 26h1v1h-1zM8 26h1v1h-1zM7 27h1v1h-1zM6 29h2v1h-2zM8 30h1v1h-1zM8 31h1v1h-1zM5 32h1v1h-1zM7 32h2v1h-2zM8 33h1v1h-1zM10 33h2v1h-2zM5 34h1v1h-1zM6 35h1v1h-1zM8 35h2v1h-2zM9 36h1v1h-1zM5 37h1v1h-1zM9 37h1v1h-1zM11 37h1v1h-1zM6 38h1v1h-1zM5 39h1v1h-1zM11 39h1v1h-1zM7 40h1v1h-1zM6 41h1v1h-1zM10 42h1v1h-1zM11 45h1v1h-1zM5 46h1v1h-1zM7 47h1v1h-1zM10 47h1v1h-1zM10 48h1v1h-1zM7 49h1v1h-1zM6 50h1v1h-1zM5 51h1v1h-1zM11 51h1v1h-1zM5 52h2v1h-2zM11 52h1v1h-1zM5 55h1v1h-1zM9 55h1v1h-1zM11 55h1v1h-1zM10 56h1v1h-1zM5 57h1v1h-1zM9 57h1v1h-1zM6 58h1v1h-1zM9 58h1v1h-1zM9 59h1v1h-1zM11 59h1v1h-1zM5 60h2v1h-2zM8 61h1v1h-1zM10 61h1v1h-1z" fill="#ffffff"/><path d="M3 10h1v1h-1zM2 16h1v1h-1zM3 18h1v1h-1zM4 20h1v1h-1zM0 23h1v1h-1zM0 25h2v1h-2zM4 28h1v1h-1zM1 29h1v1h-1zM3 29h1v1h-1zM3 31h1v1h-1zM2 32h1v1h-1zM4 32h1v1h-1zM2 37h1v1h-1zM0 39h1v1h-1zM3 39h1v1h-1zM2 51h1v1h-1zM1 54h1v1h-1zM1 61h1v1h-1zM4 61h1v1h-1z" fill="#ff4444"/></svg><rect x="2957" y="2749" width="83" height="263" fill="none" stroke="#000" stroke-width="1.3"/>
<text font-size="3.9"><tspan x="3042" y="2752">PC(22:6(4Z,7Z,10Z,13Z,16Z,19Z)/18:1(11Z))</tspan><tspan x="3042" y="2756">PE-NMe(16:0/22:4(7Z,10Z,13Z,16Z))</tspan><tspan x="3042" y="2761">1-hexadecanoyl-2-(9Z,12Z-octadecadienoyl)-sn-glycero-3-phosphoethanolamine</tspan><tspan x="3042" y="2765">PE(15:0/22:4(7Z,10Z,13Z,16Z))</tspan><tspan x="3042" y="2769">LPS(18:1/0:0)</tspan><tspan x="3042" y="2773">1-octadecanoyl-2-(9Z-octadecenoyl)-sn-glycero-3-phosphoserine</tspan><tspan x="3042" y="2778">PC(20:5(5Z,8Z,11Z,14Z,17Z)/20:2(11Z,14Z))</tspan><tspan x="3042" y="2782">PE-NMe(14:1(9Z)/22:0)</tspan><tspan x="3042" y="2786">Dioleoylphosphatidylcholine</tspan><tspan x="3042" y="2790">LPE(0:0/20:4)</tspan><tspan x="3042" y="2795">PE-NMe2(18:2(9Z,12Z)/22:2(13Z,16Z))</tspan><tspan x="3042" y="2799">1-octadecanoyl-2-(4Z,7Z,10Z,13Z,16Z,19Z-docosahexaenoyl)-sn-glycero-3-phosphocholine</tspan><tspan x="3042" y="2803">Dioleoyl phosphatidylcholine</tspan><tspan x="3042" y="2807">PE-NMe(14:0/20:3(5Z,8Z,11Z))</tspan><tspan x="3042" y="2812">PE-NMe2(22:0/15:0)</tspan><tspan x="3042" y="2816">1-Arachidonoyl-sn-glycero-3-phosphocholine</tspan><tspan x="3042" y="2820">PE-NMe(16:0/22:5(4Z,7Z,10Z,13Z,16Z))</tspan><tspan x="3042" y="2824">1-Oleoyl-2-myristoyl-sn-glycero-3-phosphocholine</tspan><tspan x="3042" y="2829">1-Palmitoyl-2-docosahexaenoyl-sn-glycero-3-phosphocholine</tspan><tspan x="3042" y="2833">PE(16:0/22:5(7Z,10Z,13Z,16Z,19Z))</tspan><tspan x="3042" y="2837">PE-NMe(18:1(11Z)/22:5(4Z,7Z,10Z,13Z,16Z))</tspan><tspan x="3042" y="2841">1-Oleoyl-2-pentadecanoyl-sn-glycerol</tspan><tspan x="3042" y="2846">PE-NMe(14:1(9Z)/24:1(15Z))</tspan><tspan x="3042" y="2850">1,2-Dioleoyl-sn-Glycero-3-Phosphocholine</tspan><tspan x="3042" y="2854">1-docosanoyl-2-(4Z,7Z,10Z,13Z,16Z,19Z-docosahexaenoyl)-sn-glycerol</tspan><tspan x="3042" y="2858">PC(P-18:0/20:4(5Z,8Z,11Z,14Z))</tspan><tspan x="3042" y="2863">PE-NMe(18:1(11Z)/20:3(5Z,8Z,11Z))</tspan><tspan x="3042" y="2867">DG(18:0/22:5(4Z,7Z,10Z,13Z,16Z)/0:0)</tspan><tspan x="3042" y="2871">PE(18:2(9Z,12Z)/18:1(9Z))</tspan><tspan x="3042" y="2875">MG(16:0/0:0/0:0)</tspan><tspan x="3042" y="2880">1-Stearoyl-2-docosahexaenoyl-sn-glycerol</tspan><tspan x="3042" y="2884">PC(20:5(5Z,8Z,11Z,14Z,17Z)/20:5(5Z,8Z,11Z,14Z,17Z))</tspan><tspan x="3042" y="2888">PE-NMe(16:0/20:1(11Z))</tspan><tspan x="3042" y="2892">NBD-Stearoyl-2-Arachidonoyl-sn-glycerol</tspan><tspan x="3042" y="2897">PC(20:4(5Z,8Z,11Z,14Z)/22:2(13Z,16Z))</tspan><tspan x="3042" y="2901">L-alpha-Glycerophosphorylethanolamine</tspan><tspan x="3042" y="2905">PE(18:0/20:4(5Z,8Z,11Z,14Z))</tspan><tspan x="3042" y="2909">PC(20:5(5Z,8Z,11Z,14Z,17Z)/20:1(11Z))</tspan><tspan x="3042" y="2914">PE-NMe(14:0/22:0)</tspan><tspan x="3042" y="2918">CDP-ethanolamine</tspan><tspan x="3042" y="2922">LPE(0:0/18:1(11Z))</tspan><tspan x="3042" y="2926">PE-NMe(16:1(9Z)/22:0)</tspan><tspan x="3042" y="2931">1-Hexadecanoyl-2-octadecanoyl-sn-glycero-3-phosphocholine</tspan><tspan x="3042" y="2935">1-(9Z-octadecenoyl)-2-(11Z-octadecenoyl)-sn-glycero-3-phosphocholine</tspan><tspan x="3042" y="2939">PE(18:3(6Z,9Z,12Z)/14:0)</tspan><tspan x="3042" y="2943">PE-NMe(18:2(9Z,12Z)/22:1(13Z))</tspan><tspan x="3042" y="2948">DG(20:4(5Z,8Z,11Z,14Z)/20:1(11Z)/0:0)</tspan><tspan x="3042" y="2952">PE-NMe(15:0/20:5(5Z,8Z,11Z,14Z,17Z))</tspan><tspan x="3042" y="2956">1,2-Dipentadecanoyl-sn-glycero-3-phosphocholine</tspan><tspan x="3042" y="2960">LPA(i-21:0/0:0)</tspan><tspan x="3042" y="2965">PE(16:0/18:3(9Z,12Z,15Z))</tspan><tspan x="3042" y="2969">PE-NMe(18:1(11Z)/20:3(8Z,11Z,14Z))</tspan><tspan x="3042" y="2973">DG(18:1(11Z)/20:3(5Z,8Z,11Z)/0:0)</tspan><tspan x="3042" y="2977">PE(22:6(4Z,7Z,10Z,13Z,16Z,19Z)/18:2(9Z,12Z))</tspan><tspan x="3042" y="2982">PE(20:4(5Z,8Z,11Z,14Z)/20:4(5Z,8Z,11Z,14Z))</tspan><tspan x="3042" y="2986">1-Oleoyl-2-lignoceroyl-sn-glycerol</tspan><tspan x="3042" y="2990">PC(22:6(4Z,7Z,10Z,13Z,16Z,19Z)/18:1(11Z))</tspan><tspan x="3042" y="2994">PE-NMe(16:0/22:4(7Z,10Z,13Z,16Z))</tspan><tspan x="3042" y="2999">1-hexadecanoyl-2-(9Z,12Z-octadecadienoyl)-sn-glycero-3-phosphoethanolamine</tspan><tspan x="3042" y="3003">PE(15:0/22:4(7Z,10Z,13Z,16Z))</tspan><tspan x="3042" y="3007">LPS(18:1/0:0)</tspan><tspan x="3042" y="3011">1-octadecanoyl-2-(9Z-octadecenoyl)-sn-glycero-3-phosphoserine</tspan></text>
<text font-size="3.8" class="e" transform="rotate(-90)"><tspan x="-3015" y="2962">HBHgS-1</tspan><tspan x="-3015" y="2969">HBHgS-6</tspan><tspan x="-3015" y="2976">HBHgS-4</tspan><tspan x="-3015" y="2983">HBHgS-3</tspan><tspan x="-3015" y="2990">HBHgS-2</tspan><tspan x="-3015" y="2997">HBHgS-5</tspan><tspan x="-3015" y="3004">Model-1</tspan><tspan x="-3015" y="3011">Model-2</tspan><tspan x="-3015" y="3018">Model-3</tspan><tspan x="-3015" y="3024">Model-5</tspan><tspan x="-3015" y="3031">Model-6</tspan><tspan x="-3015" y="3038">Model-4</tspan></text>
<path d="" fill="none" stroke="#ff0000" stroke-width="1"/><path d="M 2988 2749 L 2988 2742 L 2995 2742 L 2995 2749 M 3009 2749 L 3009 2739 L 3016 2739 L 3016 2749 M 2982 2749 L 2982 2737 L 2992 2737 L 2992 2742 M 2975 2749 L 2975 2731 L 2987 2731 L 2987 2737 M 2968 2749 L 2968 2727 L 2981 2727 L 2981 2731 M 3002 2749 L 3002 2730 L 3013 2730 L 3013 2739 M 3023 2749 L 3023 2742 L 3030 2742 L 3030 2749 M 2974 2727 L 2974 2721 L 3008 2721 L 3008 2730 M 2991 2721 L 2991 2721 L 3027 2721 L 3027 2742 M 3009 2721 L 3009 2721 L 3037 2721 L 3037 2749" fill="none" stroke="#00ff00" stroke-width="1"/><path d="M 2961 2749 L 2961 2701 L 2992 2701" fill="none" stroke="#000" stroke-width="1.1"/><path d="M 2992 2701 L 3023 2701 L 3023 2721" fill="none" stroke="#00ff00" stroke-width="1.1"/>
<rect x="3310" y="2745" width="7.7" height="271" fill="url(#bwr)" stroke="#000" stroke-width=".8"/><path d="M3318,2745h3.1M3318,2772h3.1M3318,2799h3.1M3318,2826h3.1M3318,2853h3.1M3318,2880h3.1M3318,2908h3.1M3318,2935h3.1M3318,2962h3.1M3318,2989h3.1M3318,3016h3.1" stroke="#000" stroke-width=".9"/><text font-size="4.9"><tspan x="3322" y="2747">7.72</tspan><tspan x="3322" y="2774">0.203</tspan><tspan x="3322" y="2801">0.121</tspan><tspan x="3322" y="2828">0.0382</tspan><tspan x="3322" y="2855">-0.0444</tspan><tspan x="3322" y="2882">-0.127</tspan><tspan x="3322" y="2909">-0.210</tspan><tspan x="3322" y="2936">-0.292</tspan><tspan x="3322" y="2963">-0.375</tspan><tspan x="3322" y="2990">-0.457</tspan><tspan x="3322" y="3017">-0.540</tspan></text>
<text x="3350" y="2767" font-size="19.8">D</text>
<text x="3548" y="2774" font-size="12.7" class="m">Shared differential metabolites</text>
<svg x="3367" y="2786" width="164" height="149" viewBox="0 0 36 11" preserveAspectRatio="none" shape-rendering="crispEdges"><rect width="36" height="11" fill="#2296dc"/><path d="M0 0h1v1h-1zM3 0h1v1h-1zM5 0h1v1h-1zM8 0h2v1h-2zM12 0h1v1h-1zM15 0h1v1h-1zM23 0h2v1h-2zM26 0h1v1h-1zM28 0h1v1h-1z" fill="#c89458"/><path d="M1 0h2v1h-2zM6 0h1v1h-1zM10 0h1v1h-1zM13 0h2v1h-2zM16 0h1v1h-1zM18 0h1v1h-1zM20 0h1v1h-1zM22 0h1v1h-1zM25 0h1v1h-1zM29 0h5v1h-5z" fill="#7a2414"/><path d="M4 0h1v1h-1zM7 0h1v1h-1zM11 0h1v1h-1zM17 0h1v1h-1zM19 0h1v1h-1zM21 0h1v1h-1zM27 0h1v1h-1zM34 0h2v1h-2z" fill="#a85a30"/><path d="M0 1h4v1h-4zM5 1h3v1h-3zM9 1h1v1h-1zM11 1h1v1h-1zM13 1h9v1h-9zM23 1h5v1h-5zM30 1h2v1h-2zM33 1h3v1h-3zM1 2h2v1h-2zM7 2h4v1h-4zM13 2h1v1h-1zM15 2h1v1h-1zM18 2h1v1h-1zM32 2h1v1h-1zM34 2h1v1h-1zM0 3h1v1h-1zM2 3h2v1h-2zM8 3h2v1h-2zM11 3h1v1h-1zM13 3h1v1h-1zM15 3h2v1h-2zM18 3h3v1h-3zM23 3h1v1h-1zM27 3h1v1h-1zM30 3h1v1h-1zM33 3h1v1h-1zM0 4h1v1h-1zM2 4h5v1h-5zM13 4h2v1h-2zM16 4h1v1h-1zM20 4h1v1h-1zM23 4h1v1h-1zM29 4h1v1h-1zM34 4h2v1h-2zM0 8h1v1h-1zM2 8h2v1h-2zM8 8h1v1h-1zM13 8h1v1h-1zM15 8h1v1h-1zM19 8h1v1h-1zM21 8h3v1h-3zM25 8h2v1h-2zM31 8h1v1h-1zM33 8h3v1h-3z" fill="#48b4e8"/><path d="M1 4h1v1h-1zM7 4h1v1h-1zM9 4h1v1h-1zM12 4h1v1h-1zM18 4h1v1h-1zM22 4h1v1h-1zM26 4h1v1h-1zM28 4h1v1h-1zM30 4h1v1h-1zM32 4h2v1h-2zM0 7h2v1h-2zM3 7h1v1h-1zM6 7h4v1h-4zM11 7h7v1h-7zM19 7h1v1h-1zM21 7h1v1h-1zM23 7h6v1h-6zM32 7h4v1h-4zM1 8h1v1h-1zM4 8h4v1h-4zM9 8h4v1h-4zM14 8h1v1h-1zM16 8h3v1h-3zM20 8h1v1h-1zM24 8h1v1h-1zM27 8h4v1h-4zM32 8h1v1h-1zM3 10h1v1h-1zM7 10h4v1h-4zM12 10h1v1h-1zM16 10h2v1h-2zM21 10h3v1h-3zM26 10h4v1h-4z" fill="#a4daf4"/><path d="M8 4h1v1h-1zM10 4h2v1h-2zM15 4h1v1h-1zM17 4h1v1h-1zM19 4h1v1h-1zM21 4h1v1h-1zM24 4h2v1h-2zM27 4h1v1h-1zM31 4h1v1h-1zM0 6h4v1h-4zM5 6h1v1h-1zM7 6h1v1h-1zM11 6h2v1h-2zM14 6h3v1h-3zM18 6h1v1h-1zM20 6h2v1h-2zM23 6h1v1h-1zM25 6h2v1h-2zM29 6h5v1h-5zM35 6h1v1h-1z" fill="#e8e0a8"/><path d="M3 5h2v1h-2zM10 5h1v1h-1zM14 5h1v1h-1zM17 5h1v1h-1zM19 5h1v1h-1zM28 5h1v1h-1zM33 5h3v1h-3zM0 9h5v1h-5zM8 9h9v1h-9zM19 9h2v1h-2zM23 9h2v1h-2zM26 9h3v1h-3zM30 9h2v1h-2zM35 9h1v1h-1z" fill="#0f6eb8"/><path d="M4 6h1v1h-1zM6 6h1v1h-1zM8 6h3v1h-3zM13 6h1v1h-1zM17 6h1v1h-1zM19 6h1v1h-1zM22 6h1v1h-1zM24 6h1v1h-1zM27 6h2v1h-2zM34 6h1v1h-1z" fill="#b4cc84"/><path d="M2 7h1v1h-1zM4 7h2v1h-2zM10 7h1v1h-1zM18 7h1v1h-1zM20 7h1v1h-1zM22 7h1v1h-1zM29 7h3v1h-3zM0 10h3v1h-3zM4 10h3v1h-3zM11 10h1v1h-1zM13 10h3v1h-3zM18 10h3v1h-3zM24 10h2v1h-2zM30 10h6v1h-6z" fill="#d4ecf8"/></svg><rect x="3367" y="2786" width="164" height="149" fill="none" stroke="#000" stroke-width=".8"/>
<text font-size="5.3"><tspan x="3532" y="2795">PE(20:4(5Z,8Z,11Z,14Z)/20:4(5Z,8Z,11Z,14Z))</tspan><tspan x="3532" y="2808">1,2-Dioleoyl-sn-Glycero-3-Phosphocholine</tspan><tspan x="3532" y="2822">PE(18:0/20:4(5Z,8Z,11Z,14Z))</tspan><tspan x="3532" y="2835">1-Palmitoyl-2-docosahexaenoyl-sn-glycero-3-phosphocholine</tspan><tspan x="3532" y="2849">1-(9Z-octadecenoyl)-2-(11Z-octadecenoyl)-sn-glycero-3-phosphocholine</tspan><tspan x="3532" y="2862">PC(20:5(5Z,8Z,11Z,14Z,17Z)/20:5(5Z,8Z,11Z,14Z,17Z))</tspan><tspan x="3532" y="2876">PE-NMe(16:0/22:4(7Z,10Z,13Z,16Z))</tspan><tspan x="3532" y="2889">PE-NMe(18:1(11Z)/20:3(5Z,8Z,11Z))</tspan><tspan x="3532" y="2903">PE-NMe(18:1(11Z)/20:3(8Z,11Z,14Z))</tspan><tspan x="3532" y="2916">PE-NMe(18:1(11Z)/22:5(4Z,7Z,10Z,13Z,16Z))</tspan><tspan x="3532" y="2930">NBD-Stearoyl-2-Arachidonoyl-sn-glycerol</tspan></text>
<text font-size="3.2" class="e" transform="rotate(-90)"><tspan x="-2937" y="3370">Control-1</tspan><tspan x="-2937" y="3375">Control-2</tspan><tspan x="-2937" y="3379">Control-3</tspan><tspan x="-2937" y="3384">Control-4</tspan><tspan x="-2937" y="3388">Control-5</tspan><tspan x="-2937" y="3393">Control-6</tspan><tspan x="-2937" y="3397">Model-1</tspan><tspan x="-2937" y="3402">Model-2</tspan><tspan x="-2937" y="3407">Model-3</tspan><tspan x="-2937" y="3411">Model-4</tspan><tspan x="-2937" y="3416">Model-5</tspan><tspan x="-2937" y="3420">Model-6</tspan><tspan x="-2937" y="3425">SER-1</tspan><tspan x="-2937" y="3429">SER-2</tspan><tspan x="-2937" y="3434">SER-3</tspan><tspan x="-2937" y="3438">SER-4</tspan><tspan x="-2937" y="3443">SER-5</tspan><tspan x="-2937" y="3447">SER-6</tspan><tspan x="-2937" y="3452">LBHgS-1</tspan><tspan x="-2937" y="3457">LBHgS-2</tspan><tspan x="-2937" y="3461">LBHgS-3</tspan><tspan x="-2937" y="3466">LBHgS-4</tspan><tspan x="-2937" y="3470">LBHgS-5</tspan><tspan x="-2937" y="3475">LBHgS-6</tspan><tspan x="-2937" y="3479">MBHgS-1</tspan><tspan x="-2937" y="3484">MBHgS-2</tspan><tspan x="-2937" y="3488">MBHgS-3</tspan><tspan x="-2937" y="3493">MBHgS-4</tspan><tspan x="-2937" y="3497">MBHgS-5</tspan><tspan x="-2937" y="3502">MBHgS-6</tspan><tspan x="-2937" y="3507">HBHgS-1</tspan><tspan x="-2937" y="3511">HBHgS-2</tspan><tspan x="-2937" y="3516">HBHgS-3</tspan><tspan x="-2937" y="3520">HBHgS-4</tspan><tspan x="-2937" y="3525">HBHgS-5</tspan><tspan x="-2937" y="3529">HBHgS-6</tspan></text>
<rect x="3715" y="2784" width="9.7" height="150" fill="url(#cbS)" stroke="#000" stroke-width=".8"/><path d="M3725,2784h3.1M3725,2803h3.1M3725,2822h3.1M3725,2840h3.1M3725,2859h3.1M3725,2878h3.1M3725,2896h3.1M3725,2915h3.1M3725,2934h3.1" stroke="#000" stroke-width=".9"/><text font-size="4.9"><tspan x="3729" y="2786">2.7</tspan><tspan x="3729" y="2804">2.2</tspan><tspan x="3729" y="2823">1.7</tspan><tspan x="3729" y="2842">1.2</tspan><tspan x="3729" y="2861">0.74</tspan><tspan x="3729" y="2879">0.24</tspan><tspan x="3729" y="2898">-0.26</tspan><tspan x="3729" y="2917">-0.76</tspan><tspan x="3729" y="2936">-1.3</tspan></text></g>
<g id="p7"><text x="3776" y="1843" font-size="21.2">A</text>
<path d="M 3824 1861 L 3945 1849 L 4032 1864 L 3942 1879 Z M 3942 1879 L 3940 2026 M 4032 1864 L 4026 1988 M 3945 1849 L 3945 1964 L 3831 1989 M 3945 1964 L 4026 1988" fill="none" stroke="#9a9a9a" stroke-width=".8"/>
<ellipse cx="3909" cy="1910" rx="97" ry="53.7" fill="#c0f4f4" transform="rotate(-40 3909 1910)" opacity="0.5"/>
<ellipse cx="3893" cy="1918" rx="92" ry="46" fill="#c8f0c0" transform="rotate(35 3893 1918)" opacity="0.45"/>
<ellipse cx="3919" cy="1933" rx="82" ry="56.2" fill="#e0c8f8" transform="rotate(-20 3919 1933)" opacity="0.5"/>
<ellipse cx="3899" cy="1969" rx="87" ry="51.1" fill="#f4b8e8" transform="rotate(15 3899 1969)" opacity="0.45"/>
<ellipse cx="3893" cy="1953" rx="77" ry="48.6" fill="#f8c0c0" transform="rotate(30 3893 1953)" opacity="0.45"/>
<ellipse cx="3909" cy="1953" rx="97" ry="40.9" fill="#c8c8c8" transform="rotate(38 3909 1953)" opacity="0.45"/>
<polyline points="3824,1861 3831,1989 3940,2026 4026,1988" fill="none" stroke="#000" stroke-width="1.5"/>
<circle cx="3903" cy="1910" r="3.1" fill="url(#qs5)"/>
<circle cx="3873" cy="1932" r="3.1" fill="url(#qs3)"/>
<circle cx="3851" cy="1934" r="3.1" fill="url(#qs3)"/>
<circle cx="3931" cy="1960" r="3.1" fill="url(#qs3)"/>
<circle cx="3914" cy="1950" r="3.1" fill="url(#qs3)"/>
<circle cx="3863" cy="1956" r="3.1" fill="url(#qs1)"/>
<circle cx="3862" cy="1959" r="3.1" fill="url(#qs1)"/>
<circle cx="3874" cy="1971" r="3.1" fill="url(#qs1)"/>
<circle cx="3877" cy="1974" r="3.1" fill="url(#qs1)"/>
<circle cx="3904" cy="1968" r="3.1" fill="url(#qs1)"/>
<circle cx="3872" cy="1950" r="3.1" fill="url(#qs1)"/>
<circle cx="3893" cy="1967" r="3.1" fill="url(#qs0)"/>
<circle cx="3887" cy="1970" r="3.1" fill="url(#qs0)"/>
<circle cx="3900" cy="1962" r="3.1" fill="url(#qs0)"/>
<circle cx="3873" cy="1949" r="3.1" fill="url(#qs0)"/>
<circle cx="3952" cy="1993" r="3.1" fill="url(#qs0)"/>
<circle cx="3886" cy="1939" r="3.1" fill="url(#qs2)"/>
<circle cx="3892" cy="1944" r="3.1" fill="url(#qs2)"/>
<circle cx="3903" cy="1947" r="3.1" fill="url(#qs2)"/>
<circle cx="3922" cy="1975" r="3.1" fill="url(#qs2)"/>
<circle cx="3898" cy="1938" r="3.1" fill="url(#qs2)"/>
<circle cx="3911" cy="1939" r="3.1" fill="url(#qs4)"/>
<circle cx="3914" cy="1952" r="3.1" fill="url(#qs4)"/>
<circle cx="3923" cy="1964" r="3.1" fill="url(#qs4)"/>
<circle cx="3919" cy="1970" r="3.1" fill="url(#qs4)"/>
<circle cx="3909" cy="1983" r="3.1" fill="url(#qs4)"/>
<circle cx="3893" cy="1941" r="3.1" fill="url(#qs4)"/>
<circle cx="3900" cy="1938" r="3.1" fill="url(#qs5)"/>
<circle cx="3883" cy="1943" r="3.1" fill="url(#qs5)"/>
<circle cx="3909" cy="1946" r="3.1" fill="url(#qs5)"/>
<text x="3812" y="1930" font-size="8.7" class="m" transform="rotate(90 3812 1930)">PC3 (3.7%)</text>
<text x="3865" y="2012" font-size="8" class="i m" transform="rotate(22 3865 2012)">PC1 (4.1%)</text>
<text x="4003" y="2015" font-size="6.6" class="m" transform="rotate(-32 4003 2015)">PC2 (3.9%)</text>
<rect x="4037" y="1862" width="125" height="115" fill="#fff" stroke="#000" stroke-width="1.3"/>
<circle cx="4046" cy="1869" r="3.3" fill="url(#qs0)"/>
<text x="4055" y="1870" font-size="5.4">Control</text>
<rect x="4040" y="1920" width="11.3" height="8.4" fill="#dcdcdc"/>
<text x="4055" y="1926" font-size="5.4">95% Confidence Ellipse for Control</text>
<circle cx="4046" cy="1878" r="3.3" fill="url(#qs1)"/>
<text x="4055" y="1880" font-size="5.4">Model</text>
<rect x="4040" y="1929" width="11.3" height="8.4" fill="#fbd8d4"/>
<text x="4055" y="1935" font-size="5.4">95% Confidence Ellipse for Model</text>
<circle cx="4046" cy="1887" r="3.3" fill="url(#qs2)"/>
<text x="4055" y="1889" font-size="5.4">SER</text>
<rect x="4040" y="1939" width="11.3" height="8.4" fill="#d8f4d8"/>
<text x="4055" y="1945" font-size="5.4">95% Confidence Ellipse for SER</text>
<circle cx="4046" cy="1896" r="3.3" fill="url(#qs3)"/>
<text x="4055" y="1898" font-size="5.4">LBHgS</text>
<rect x="4040" y="1948" width="11.3" height="8.4" fill="#f8d8f4"/>
<text x="4055" y="1954" font-size="5.4">95% Confidence Ellipse for LBHgS</text>
<circle cx="4046" cy="1906" r="3.3" fill="url(#qs4)"/>
<text x="4055" y="1908" font-size="5.4">MBHgS</text>
<rect x="4040" y="1957" width="11.3" height="8.4" fill="#d8dcf8"/>
<text x="4055" y="1963" font-size="5.4">95% Confidence Ellipse for MBHgS</text>
<circle cx="4046" cy="1915" r="3.3" fill="url(#qs5)"/>
<text x="4055" y="1917" font-size="5.4">HBHgS</text>
<rect x="4040" y="1967" width="11.3" height="8.4" fill="#d4f4f8"/>
<text x="4055" y="1973" font-size="5.4">95% Confidence Ellipse for HBHgS</text>
<text x="3893" y="1906" font-size="3.3" fill="#333">HBHgS-4</text>
<text x="3865" y="1928" font-size="3.3" fill="#333">LBHgS-3</text>
<text x="3845" y="1931" font-size="3.3" fill="#333">LBHgS-1</text>
<text x="3924" y="1956" font-size="3.3" fill="#333">LBHgS-4</text>
<text x="3855" y="1952" font-size="3.3" fill="#333">Model-5</text>
<text x="3868" y="1967" font-size="3.3" fill="#333">Model-2</text>
<text x="3945" y="1990" font-size="3.3" fill="#333">Control-5</text>
<text x="3886" y="1964" font-size="3.3" fill="#333">Control-2</text>
<text x="3901" y="1979" font-size="3.3" fill="#333">MBHgS-1</text>
<text x="3904" y="1934" font-size="3.3" fill="#333">HBHgS-3</text>
<text x="3821" y="1887" font-size="4.6" class="e">6</text>
<text x="3821" y="1929" font-size="4.6" class="e">4</text>
<text x="3821" y="1970" font-size="4.6" class="e">2</text>
<text x="4176" y="1843" font-size="21">B1</text><text x="4385" y="1847" font-size="12.6" class="m">Model vs Control</text><path d="M4385,1863 H4564 M4385,1883 H4564 M4385,1902 H4564 M4385,1922 H4564 M4385,1941 H4564 M4385,1961 H4564 M4385,1980 H4564 M4385,1999 H4564" stroke="#eee" stroke-width="0.5" fill="none"/><path d="M4385,1860h26.2v6.6h-26.2zM4385,1870h26.2v6.6h-26.2zM4385,1880h26.2v6.6h-26.2zM4385,1889h35v6.6h-35zM4385,1899h43.7v6.6h-43.7zM4385,1909h61v6.6h-61zM4385,1918h61v6.6h-61zM4385,1928h61v6.6h-61zM4385,1938h87v6.6h-87zM4385,1948h96v6.6h-96zM4385,1957h96v6.6h-96zM4385,1967h96v6.6h-96zM4385,1977h96v6.6h-96zM4385,1986h157v6.6h-157zM4385,1996h166v6.6h-166z" fill="url(#hb6)" stroke="#000" stroke-width="1"/><text font-size="7.5" class="e"><tspan x="4380" y="1866">Steroid hormone biosynthesis</tspan><tspan x="4380" y="1876">Biosynthesis of cofactors</tspan><tspan x="4380" y="1885">Bile secretion</tspan><tspan x="4380" y="1895">Biosynthesis of amino acids</tspan><tspan x="4380" y="1905">Arginine and proline metabolism</tspan><tspan x="4380" y="1914">Linoleic acid metabolism</tspan><tspan x="4380" y="1924">Choline metabolism in cancer</tspan><tspan x="4380" y="1934">alpha-Linolenic acid metabolism</tspan><tspan x="4380" y="1944">Arachidonic acid metabolism</tspan><tspan x="4380" y="1953">Kaposi sarcoma-associated herpesvirus infection</tspan><tspan x="4380" y="1963">Glycosylphosphatidylinositol (GPI)-anchor biosynthesis</tspan><tspan x="4380" y="1973">Autophagy - other</tspan><tspan x="4380" y="1982">Autophagy - animal</tspan><tspan x="4380" y="1992">Glycerophospholipid metabolism</tspan><tspan x="4380" y="2002">Retrograde endocannabinoid signaling</tspan></text><path d="M4385,1856V2005H4564M4385,1863h-3.1M4385,1873h-3.1M4385,1883h-3.1M4385,1893h-3.1M4385,1902h-3.1M4385,1912h-3.1M4385,1922h-3.1M4385,1931h-3.1M4385,1941h-3.1M4385,1951h-3.1M4385,1961h-3.1M4385,1970h-3.1M4385,1980h-3.1M4385,1990h-3.1M4385,1999h-3.1M4385,2005v3.1M4402,2005v3.1M4420,2005v3.1M4437,2005v3.1M4455,2005v3.1M4472,2005v3.1M4490,2005v3.1M4507,2005v3.1M4525,2005v3.1M4542,2005v3.1M4560,2005v3.1" stroke="#000" stroke-width="1.1" fill="none"/><text font-size="6.1" class="m"><tspan x="4385" y="2014">0</tspan><tspan x="4402" y="2014">2</tspan><tspan x="4420" y="2014">4</tspan><tspan x="4437" y="2014">6</tspan><tspan x="4455" y="2014">8</tspan><tspan x="4472" y="2014">10</tspan><tspan x="4490" y="2014">12</tspan><tspan x="4507" y="2014">14</tspan><tspan x="4525" y="2014">16</tspan><tspan x="4542" y="2014">18</tspan><tspan x="4560" y="2014">20</tspan></text><text x="4399" y="2035" font-size="12.5" class="m">Top 15 Kegg pathway (Number)</text>
<text x="4597" y="1843" font-size="21">B2</text><text x="4800" y="1847" font-size="12.5" class="m">SER vs Model</text><path d="M4796,1863 H4975 M4796,1883 H4975 M4796,1902 H4975 M4796,1922 H4975 M4796,1941 H4975 M4796,1961 H4975 M4796,1980 H4975 M4796,1999 H4975" stroke="#eee" stroke-width="0.5" fill="none"/><path d="M4796,1860h25.1v6.6h-25.1zM4796,1870h30.1v6.6h-30.1zM4796,1880h30.1v6.6h-30.1zM4796,1889h35.1v6.6h-35.1zM4796,1899h40.1v6.6h-40.1zM4796,1909h60v6.6h-60zM4796,1918h60v6.6h-60zM4796,1928h65v6.6h-65zM4796,1938h75v6.6h-75zM4796,1948h85v6.6h-85zM4796,1957h85v6.6h-85zM4796,1967h85v6.6h-85zM4796,1977h85v6.6h-85zM4796,1986h150v6.6h-150zM4796,1996h160v6.6h-160z" fill="url(#hb7)" stroke="#000" stroke-width="1"/><text font-size="7.5" class="e"><tspan x="4791" y="1866">Purine metabolism</tspan><tspan x="4791" y="1876">Bile secretion</tspan><tspan x="4791" y="1885">ABC transporters</tspan><tspan x="4791" y="1895">Steroid hormone biosynthesis</tspan><tspan x="4791" y="1905">Biosynthesis of cofactors</tspan><tspan x="4791" y="1914">Linoleic acid metabolism</tspan><tspan x="4791" y="1924">alpha-Linolenic acid metabolism</tspan><tspan x="4791" y="1934">Choline metabolism in cancer</tspan><tspan x="4791" y="1944">Arachidonic acid metabolism</tspan><tspan x="4791" y="1953">Kaposi sarcoma-associated herpesvirus infection</tspan><tspan x="4791" y="1963">Glycosylphosphatidylinositol (GPI)-anchor biosynthesis</tspan><tspan x="4791" y="1973">Autophagy - other</tspan><tspan x="4791" y="1982">Autophagy - animal</tspan><tspan x="4791" y="1992">Retrograde endocannabinoid signaling</tspan><tspan x="4791" y="2002">Glycerophospholipid metabolism</tspan></text><path d="M4796,1856V2005H4975M4796,1863h-3.1M4796,1873h-3.1M4796,1883h-3.1M4796,1893h-3.1M4796,1902h-3.1M4796,1912h-3.1M4796,1922h-3.1M4796,1931h-3.1M4796,1941h-3.1M4796,1951h-3.1M4796,1961h-3.1M4796,1970h-3.1M4796,1980h-3.1M4796,1990h-3.1M4796,1999h-3.1M4796,2005v3.1M4821,2005v3.1M4846,2005v3.1M4871,2005v3.1M4896,2005v3.1M4921,2005v3.1M4946,2005v3.1M4971,2005v3.1" stroke="#000" stroke-width="1.1" fill="none"/><text font-size="6.1" class="m"><tspan x="4796" y="2014">0</tspan><tspan x="4821" y="2014">5</tspan><tspan x="4846" y="2014">10</tspan><tspan x="4871" y="2014">15</tspan><tspan x="4896" y="2014">20</tspan><tspan x="4921" y="2014">25</tspan><tspan x="4946" y="2014">30</tspan><tspan x="4971" y="2014">35</tspan></text><text x="4807" y="2034" font-size="12.5" class="m">Top 15 Kegg pathway (Number)</text>
<text x="3776" y="2074" font-size="21">B3</text><text x="3975" y="2071" font-size="12.4" class="m">LBHgS vs Model</text><path d="M3979,2088 H4159 M3979,2107 H4159 M3979,2127 H4159 M3979,2146 H4159 M3979,2166 H4159 M3979,2185 H4159 M3979,2204 H4159 M3979,2224 H4159" stroke="#eee" stroke-width="0.5" fill="none"/><path d="M3979,2085h25.1v6.6h-25.1zM3979,2094h30.2v6.6h-30.2zM3979,2104h30.2v6.6h-30.2zM3979,2114h35.2v6.6h-35.2zM3979,2123h40.2v6.6h-40.2zM3979,2133h60v6.6h-60zM3979,2143h60v6.6h-60zM3979,2153h65v6.6h-65zM3979,2162h75v6.6h-75zM3979,2172h85v6.6h-85zM3979,2182h85v6.6h-85zM3979,2191h85v6.6h-85zM3979,2201h85v6.6h-85zM3979,2211h151v6.6h-151zM3979,2221h161v6.6h-161z" fill="url(#hb8)" stroke="#000" stroke-width="1"/><text font-size="7.5" class="e"><tspan x="3974" y="2090">Purine metabolism</tspan><tspan x="3974" y="2100">ABC transporters</tspan><tspan x="3974" y="2110">Bile secretion</tspan><tspan x="3974" y="2120">Steroid hormone biosynthesis</tspan><tspan x="3974" y="2129">Biosynthesis of cofactors</tspan><tspan x="3974" y="2139">alpha-Linolenic acid metabolism</tspan><tspan x="3974" y="2149">Linoleic acid metabolism</tspan><tspan x="3974" y="2158">Choline metabolism in cancer</tspan><tspan x="3974" y="2168">Arachidonic acid metabolism</tspan><tspan x="3974" y="2178">Kaposi sarcoma-associated herpesvirus infection</tspan><tspan x="3974" y="2188">Autophagy - animal</tspan><tspan x="3974" y="2197">Autophagy - other</tspan><tspan x="3974" y="2207">Glycosylphosphatidylinositol (GPI)-anchor biosynthesis</tspan><tspan x="3974" y="2217">Retrograde endocannabinoid signaling</tspan><tspan x="3974" y="2226">Glycerophospholipid metabolism</tspan></text><path d="M3979,2081V2230H4159M3979,2088h-3.1M3979,2098h-3.1M3979,2107h-3.1M3979,2117h-3.1M3979,2127h-3.1M3979,2136h-3.1M3979,2146h-3.1M3979,2156h-3.1M3979,2166h-3.1M3979,2175h-3.1M3979,2185h-3.1M3979,2195h-3.1M3979,2204h-3.1M3979,2214h-3.1M3979,2224h-3.1M3979,2230v3.1M4004,2230v3.1M4029,2230v3.1M4054,2230v3.1M4079,2230v3.1M4104,2230v3.1M4130,2230v3.1M4155,2230v3.1" stroke="#000" stroke-width="1.1" fill="none"/><text font-size="6.1" class="m"><tspan x="3979" y="2239">0</tspan><tspan x="4004" y="2239">5</tspan><tspan x="4029" y="2239">10</tspan><tspan x="4054" y="2239">15</tspan><tspan x="4079" y="2239">20</tspan><tspan x="4104" y="2239">25</tspan><tspan x="4130" y="2239">30</tspan><tspan x="4155" y="2239">35</tspan></text><text x="3990" y="2258" font-size="12.5" class="m">Top 15 Kegg pathway (Number)</text>
<text x="4176" y="2074" font-size="21">B4</text><text x="4378" y="2071" font-size="12.4" class="m">MBHgS vs Model</text><path d="M4383,2088 H4551 M4383,2107 H4551 M4383,2127 H4551 M4383,2146 H4551 M4383,2166 H4551 M4383,2185 H4551 M4383,2204 H4551 M4383,2224 H4551" stroke="#eee" stroke-width="0.5" fill="none"/><path d="M4383,2085h22.8v6.6h-22.8zM4383,2094h26.1v6.6h-26.1zM4383,2104h29.4v6.6h-29.4zM4383,2114h35.9v6.6h-35.9zM4383,2123h45.7v6.6h-45.7zM4383,2133h69v6.6h-69zM4383,2143h69v6.6h-69zM4383,2153h75v6.6h-75zM4383,2162h75v6.6h-75zM4383,2172h75v6.6h-75zM4383,2182h75v6.6h-75zM4383,2191h75v6.6h-75zM4383,2201h75v6.6h-75zM4383,2211h147v6.6h-147zM4383,2221h163v6.6h-163z" fill="url(#hb9)" stroke="#000" stroke-width="1"/><text font-size="7.5" class="e"><tspan x="4378" y="2090">Neuroactive ligand-receptor interaction</tspan><tspan x="4378" y="2100">Biosynthesis of amino acids</tspan><tspan x="4378" y="2110">Steroid hormone biosynthesis</tspan><tspan x="4378" y="2120">Tryptophan metabolism</tspan><tspan x="4378" y="2129">Biosynthesis of cofactors</tspan><tspan x="4378" y="2139">Choline metabolism in cancer</tspan><tspan x="4378" y="2149">alpha-Linolenic acid metabolism</tspan><tspan x="4378" y="2158">Linoleic acid metabolism</tspan><tspan x="4378" y="2168">Arachidonic acid metabolism</tspan><tspan x="4378" y="2178">Kaposi sarcoma-associated herpesvirus infection</tspan><tspan x="4378" y="2188">Autophagy - animal</tspan><tspan x="4378" y="2197">Autophagy - other</tspan><tspan x="4378" y="2207">Glycosylphosphatidylinositol (GPI)-anchor biosynthesis</tspan><tspan x="4378" y="2217">Retrograde endocannabinoid signaling</tspan><tspan x="4378" y="2226">Glycerophospholipid metabolism</tspan></text><path d="M4383,2081V2230H4551M4383,2088h-3.1M4383,2098h-3.1M4383,2107h-3.1M4383,2117h-3.1M4383,2127h-3.1M4383,2136h-3.1M4383,2146h-3.1M4383,2156h-3.1M4383,2166h-3.1M4383,2175h-3.1M4383,2185h-3.1M4383,2195h-3.1M4383,2204h-3.1M4383,2214h-3.1M4383,2224h-3.1M4383,2230v3.1M4416,2230v3.1M4449,2230v3.1M4481,2230v3.1M4514,2230v3.1M4546,2230v3.1" stroke="#000" stroke-width="1.1" fill="none"/><text font-size="6.1" class="m"><tspan x="4383" y="2239">0</tspan><tspan x="4416" y="2239">10</tspan><tspan x="4449" y="2239">20</tspan><tspan x="4481" y="2239">30</tspan><tspan x="4514" y="2239">40</tspan><tspan x="4546" y="2239">50</tspan></text><text x="4395" y="2258" font-size="12.5" class="m">Top 15 Kegg pathway (Number)</text>
<text x="4597" y="2074" font-size="21">B5</text><text x="4783" y="2071" font-size="12.5" class="m">HBHgS vs Model</text><path d="M4788,2088 H4968 M4788,2107 H4968 M4788,2127 H4968 M4788,2146 H4968 M4788,2166 H4968 M4788,2185 H4968 M4788,2204 H4968 M4788,2224 H4968" stroke="#eee" stroke-width="0.5" fill="none"/><path d="M4788,2085h35.2v6.6h-35.2zM4788,2094h35.2v6.6h-35.2zM4788,2104h35.2v6.6h-35.2zM4788,2114h50.3v6.6h-50.3zM4788,2123h65v6.6h-65zM4788,2133h70v6.6h-70zM4788,2143h70v6.6h-70zM4788,2153h85v6.6h-85zM4788,2162h85v6.6h-85zM4788,2172h85v6.6h-85zM4788,2182h85v6.6h-85zM4788,2191h85v6.6h-85zM4788,2201h101v6.6h-101zM4788,2211h156v6.6h-156zM4788,2221h166v6.6h-166z" fill="url(#hb10)" stroke="#000" stroke-width="1"/><text font-size="7.5" class="e"><tspan x="4783" y="2090">Porphyrin metabolism</tspan><tspan x="4783" y="2100">Steroid hormone biosynthesis</tspan><tspan x="4783" y="2110">Vitamin digestion and absorption</tspan><tspan x="4783" y="2120">Biosynthesis of amino acids</tspan><tspan x="4783" y="2129">Biosynthesis of cofactors</tspan><tspan x="4783" y="2139">Choline metabolism in cancer</tspan><tspan x="4783" y="2149">alpha-Linolenic acid metabolism</tspan><tspan x="4783" y="2158">Arachidonic acid metabolism</tspan><tspan x="4783" y="2168">Kaposi sarcoma-associated herpesvirus infection</tspan><tspan x="4783" y="2178">Autophagy - animal</tspan><tspan x="4783" y="2188">Autophagy - other</tspan><tspan x="4783" y="2197">Glycosylphosphatidylinositol (GPI)-anchor biosynthesis</tspan><tspan x="4783" y="2207">Linoleic acid metabolism</tspan><tspan x="4783" y="2217">Retrograde endocannabinoid signaling</tspan><tspan x="4783" y="2226">Glycerophospholipid metabolism</tspan></text><path d="M4788,2081V2230H4968M4788,2088h-3.1M4788,2098h-3.1M4788,2107h-3.1M4788,2117h-3.1M4788,2127h-3.1M4788,2136h-3.1M4788,2146h-3.1M4788,2156h-3.1M4788,2166h-3.1M4788,2175h-3.1M4788,2185h-3.1M4788,2195h-3.1M4788,2204h-3.1M4788,2214h-3.1M4788,2224h-3.1M4788,2230v3.1M4813,2230v3.1M4838,2230v3.1M4863,2230v3.1M4888,2230v3.1M4913,2230v3.1M4939,2230v3.1M4964,2230v3.1" stroke="#000" stroke-width="1.1" fill="none"/><text font-size="6.1" class="m"><tspan x="4788" y="2239">0</tspan><tspan x="4813" y="2239">5</tspan><tspan x="4838" y="2239">10</tspan><tspan x="4863" y="2239">15</tspan><tspan x="4888" y="2239">20</tspan><tspan x="4913" y="2239">25</tspan><tspan x="4939" y="2239">30</tspan><tspan x="4964" y="2239">35</tspan></text><text x="4801" y="2258" font-size="12.5" class="m">Top 15 Kegg pathway (Number)</text>
<text x="3776" y="2291" font-size="20.9">C1</text>
<text x="4130" y="2311" font-size="14.5" class="m">Model vs Control</text>
<svg x="3803" y="2330" width="200" height="164" viewBox="0 0 12 18" preserveAspectRatio="none" shape-rendering="crispEdges"><rect width="12" height="18" fill="#ff0000"/><path d="M3 0h1v1h-1zM0 15h1v1h-1zM6 15h1v1h-1zM10 15h1v1h-1zM10 16h1v1h-1zM6 17h1v1h-1zM10 17h1v1h-1z" fill="#ffc0c0"/><path d="M0 1h2v1h-2zM4 1h1v1h-1zM6 1h1v1h-1zM11 1h1v1h-1zM0 3h2v1h-2zM3 3h1v1h-1zM9 3h2v1h-2zM0 4h3v1h-3zM10 4h1v1h-1zM1 5h2v1h-2zM4 5h2v1h-2zM8 5h2v1h-2zM1 6h1v1h-1zM3 6h2v1h-2zM6 6h2v1h-2zM1 7h4v1h-4zM8 7h2v1h-2zM1 8h1v1h-1zM7 8h2v1h-2zM0 9h5v1h-5zM10 9h1v1h-1zM10 10h1v1h-1zM0 11h2v1h-2zM3 11h1v1h-1zM9 11h1v1h-1zM1 12h1v1h-1zM2 16h2v1h-2z" fill="#4a4aff"/><path d="M2 1h2v1h-2zM9 1h2v1h-2zM2 3h1v1h-1zM4 4h2v1h-2zM9 4h1v1h-1zM0 5h1v1h-1zM3 5h1v1h-1zM0 6h1v1h-1zM2 6h1v1h-1zM5 6h1v1h-1zM10 6h2v1h-2zM5 7h1v1h-1zM10 7h1v1h-1zM2 8h1v1h-1zM4 8h3v1h-3zM10 8h1v1h-1zM5 9h1v1h-1zM2 11h1v1h-1zM11 11h1v1h-1z" fill="#2626ff"/><path d="M5 1h1v1h-1zM7 1h2v1h-2zM4 3h2v1h-2zM7 3h1v1h-1zM11 3h1v1h-1zM3 4h1v1h-1zM6 4h1v1h-1zM8 4h1v1h-1zM11 4h1v1h-1zM6 5h2v1h-2zM10 5h2v1h-2zM8 6h2v1h-2zM0 7h1v1h-1zM7 7h1v1h-1zM11 7h1v1h-1zM9 8h1v1h-1zM6 9h1v1h-1zM8 9h2v1h-2zM0 10h1v1h-1zM2 10h1v1h-1zM5 10h2v1h-2zM9 10h1v1h-1zM11 10h1v1h-1zM4 11h2v1h-2zM2 12h5v1h-5zM11 12h1v1h-1zM8 15h2v1h-2zM0 16h2v1h-2zM4 16h1v1h-1zM9 16h1v1h-1zM3 17h1v1h-1z" fill="#7c7cff"/><path d="M0 2h1v1h-1zM2 2h1v1h-1zM6 7h1v1h-1zM7 10h1v1h-1zM7 11h2v1h-2zM10 11h1v1h-1zM7 12h2v1h-2zM4 13h1v1h-1zM1 15h1v1h-1zM3 15h1v1h-1zM11 16h1v1h-1zM1 17h1v1h-1z" fill="#ffffff"/><path d="M4 2h1v1h-1zM8 13h1v1h-1zM2 15h1v1h-1zM7 15h1v1h-1zM6 16h1v1h-1zM0 17h1v1h-1zM2 17h1v1h-1zM4 17h2v1h-2z" fill="#ff8484"/><path d="M6 3h1v1h-1zM8 3h1v1h-1zM7 4h1v1h-1zM11 8h1v1h-1zM7 9h1v1h-1zM11 9h1v1h-1zM1 10h1v1h-1zM3 10h2v1h-2zM8 10h1v1h-1zM6 11h1v1h-1zM0 12h1v1h-1zM9 12h2v1h-2z" fill="#b8b8ff"/><path d="M0 8h1v1h-1zM3 8h1v1h-1z" fill="#0000ff"/><path d="M11 13h1v1h-1z" fill="#ff4444"/></svg><rect x="3803" y="2330" width="200" height="164" fill="none" stroke="#000" stroke-width="1.3"/>
<text font-size="6.4"><tspan x="4006" y="2337">1-Pentadecanoyl-glycero-3-phosphoethanolamine</tspan><tspan x="4006" y="2346">1,2-Didocosanoyl-sn-glycero-3-phosphoethanolamine</tspan><tspan x="4006" y="2355">PC(20:5(5Z,8Z,11Z,14Z,17Z)/20:2(11Z,14Z))</tspan><tspan x="4006" y="2364">1,2-Distearoyl-sn-glycero-3-phosphocholine</tspan><tspan x="4006" y="2373">PE(18:3(6Z,9Z,12Z)/22:6(4Z,7Z,10Z,13Z,16Z,19Z))</tspan><tspan x="4006" y="2382">PC(14:0/22:4(7Z,10Z,13Z,16Z))</tspan><tspan x="4006" y="2392">PE(16:1(9Z)/22:5(4Z,7Z,10Z,13Z,16Z))</tspan><tspan x="4006" y="2401">PE(14:1(9Z)/22:2(13Z,16Z))</tspan><tspan x="4006" y="2410">PE-NMe(16:1(9Z)/22:5(4Z,7Z,10Z,13Z,16Z))</tspan><tspan x="4006" y="2419">PE-NMe(15:0/20:0)</tspan><tspan x="4006" y="2428">PE-NMe2(16:1(9Z)/22:5(4Z,7Z,10Z,13Z,16Z))</tspan><tspan x="4006" y="2437">PE-NMe(14:0/24:0)</tspan><tspan x="4006" y="2446">PE-NMe(15:0/20:2(11Z,14Z))</tspan><tspan x="4006" y="2455">1-eicosanoyl-2-(13Z,16Z-docosadienoyl)-glycero-3-phosphoethanolamine</tspan><tspan x="4006" y="2464">2-Oleoyl-sn-glycero-3-phosphocholine</tspan><tspan x="4006" y="2474">PE-NMe(15:0/22:5(4Z,7Z,10Z,13Z,16Z))</tspan><tspan x="4006" y="2483">1-Oleoyl-2-myristoyl-sn-glycero-3-phosphocholine</tspan><tspan x="4006" y="2492">methylcarbamyl PAF</tspan></text>
<text font-size="6.9" class="e" transform="rotate(-90)"><tspan x="-2498" y="3814">Model-1</tspan><tspan x="-2498" y="3831">Model-3</tspan><tspan x="-2498" y="3847">Model-4</tspan><tspan x="-2498" y="3864">Model-5</tspan><tspan x="-2498" y="3881">Model-6</tspan><tspan x="-2498" y="3898">Model-2</tspan><tspan x="-2498" y="3914">Control-6</tspan><tspan x="-2498" y="3931">Control-1</tspan><tspan x="-2498" y="3948">Control-3</tspan><tspan x="-2498" y="3964">Control-2</tspan><tspan x="-2498" y="3981">Control-5</tspan><tspan x="-2498" y="3998">Control-4</tspan></text>
<path d="M 3862 2330 L 3862 2325 L 3879 2325 L 3879 2330 M 3828 2330 L 3828 2325 L 3845 2325 L 3845 2330 M 3895 2330 L 3895 2328 L 3912 2328 L 3912 2330 M 3904 2328 L 3904 2323 L 3929 2323 L 3929 2330 M 3812 2330 L 3812 2323 L 3837 2323 L 3837 2325 M 3824 2323 L 3824 2317 L 3870 2317 L 3870 2325 M 3847 2317 L 3847 2314 L 3916 2314 L 3916 2323" fill="none" stroke="#ff0000" stroke-width="1"/><path d="M 3962 2330 L 3962 2326 L 3979 2326 L 3979 2330 M 3970 2326 L 3970 2324 L 3996 2324 L 3996 2330 M 3945 2330 L 3945 2320 L 3983 2320 L 3983 2324" fill="none" stroke="#00ff00" stroke-width="1"/><path d="M 3882 2314 L 3882 2302 L 3923 2302" fill="none" stroke="#000" stroke-width="1.1"/><path d="M 3923 2302 L 3964 2302 L 3964 2320" fill="none" stroke="#00ff00" stroke-width="1.1"/>
<rect x="4286" y="2324" width="15.3" height="172" fill="url(#bwr)" stroke="#000" stroke-width=".8"/><path d="M4301,2324h3.1M4301,2341h3.1M4301,2358h3.1M4301,2375h3.1M4301,2392h3.1M4301,2410h3.1M4301,2427h3.1M4301,2444h3.1M4301,2461h3.1M4301,2479h3.1M4301,2496h3.1" stroke="#000" stroke-width=".9"/><text font-size="6.6"><tspan x="4306" y="2326">2.05E+7</tspan><tspan x="4306" y="2343">4.10E+4</tspan><tspan x="4306" y="2360">3.64E+4</tspan><tspan x="4306" y="2377">3.19E+4</tspan><tspan x="4306" y="2395">2.73E+4</tspan><tspan x="4306" y="2412">2.28E+4</tspan><tspan x="4306" y="2429">1.82E+4</tspan><tspan x="4306" y="2446">1.37E+4</tspan><tspan x="4306" y="2463">9.11E+3</tspan><tspan x="4306" y="2481">4.56E+3</tspan><tspan x="4306" y="2498">0.00</tspan></text>
<text x="4384" y="2291" font-size="20.9">C2</text>
<text x="4746" y="2311" font-size="14.5" class="m">SER vs Model</text>
<svg x="4420" y="2327" width="210" height="175" viewBox="0 0 12 32" preserveAspectRatio="none" shape-rendering="crispEdges"><rect width="12" height="32" fill="#4a4aff"/><path d="M0 0h2v1h-2zM3 1h1v1h-1zM5 1h4v1h-4zM10 1h1v1h-1zM5 6h1v1h-1zM0 7h1v1h-1zM3 10h1v1h-1zM7 10h1v1h-1zM9 10h1v1h-1zM5 11h1v1h-1zM10 11h1v1h-1zM6 12h1v1h-1zM9 12h2v1h-2zM4 13h1v1h-1zM3 14h1v1h-1zM10 14h1v1h-1zM0 15h1v1h-1zM5 16h1v1h-1zM3 19h1v1h-1zM5 19h1v1h-1zM1 20h1v1h-1zM3 24h1v1h-1zM2 25h1v1h-1zM0 27h1v1h-1zM0 28h1v1h-1zM2 28h1v1h-1zM8 28h1v1h-1zM11 28h1v1h-1zM1 29h1v1h-1zM4 29h1v1h-1zM0 30h1v1h-1zM3 30h1v1h-1zM5 30h2v1h-2zM8 30h3v1h-3zM3 31h1v1h-1zM10 31h1v1h-1z" fill="#7c7cff"/><path d="M2 0h1v1h-1zM5 0h1v1h-1zM8 0h1v1h-1zM11 0h1v1h-1zM0 3h2v1h-2zM3 3h3v1h-3zM9 3h3v1h-3zM0 4h6v1h-6zM7 4h3v1h-3zM11 4h1v1h-1zM1 7h1v1h-1zM3 7h2v1h-2zM6 7h1v1h-1zM1 13h1v1h-1zM10 13h1v1h-1zM2 14h1v1h-1zM11 14h1v1h-1zM1 15h1v1h-1zM3 15h2v1h-2zM10 15h1v1h-1zM1 17h5v1h-5zM7 17h5v1h-5zM0 19h2v1h-2zM8 19h1v1h-1zM11 19h1v1h-1zM5 20h1v1h-1zM9 20h1v1h-1zM0 23h2v1h-2zM4 23h4v1h-4zM9 23h1v1h-1zM4 24h1v1h-1zM7 24h2v1h-2zM11 24h1v1h-1zM7 25h3v1h-3zM11 25h1v1h-1z" fill="#ff0000"/><path d="M4 0h1v1h-1zM6 4h1v1h-1zM7 7h1v1h-1zM10 7h2v1h-2zM3 13h1v1h-1zM5 14h1v1h-1zM6 15h1v1h-1zM5 24h1v1h-1zM10 24h1v1h-1zM10 25h1v1h-1z" fill="#ff8484"/><path d="M6 0h1v1h-1zM9 0h2v1h-2zM7 3h1v1h-1zM9 7h1v1h-1zM2 13h1v1h-1zM6 13h1v1h-1zM8 13h1v1h-1zM9 14h1v1h-1zM2 15h1v1h-1zM2 19h1v1h-1zM6 19h1v1h-1zM10 20h1v1h-1zM2 23h1v1h-1zM8 23h1v1h-1zM2 24h1v1h-1zM6 24h1v1h-1zM9 24h1v1h-1zM0 25h1v1h-1zM4 25h1v1h-1z" fill="#ffffff"/><path d="M0 1h1v1h-1zM2 1h1v1h-1zM11 1h1v1h-1zM2 30h1v1h-1z" fill="#b8b8ff"/><path d="M0 2h1v1h-1zM4 2h1v1h-1zM1 5h2v1h-2zM2 8h1v1h-1zM5 8h1v1h-1zM11 8h1v1h-1zM3 9h1v1h-1zM7 9h1v1h-1zM9 9h1v1h-1zM6 21h1v1h-1zM8 21h1v1h-1zM4 22h1v1h-1zM9 22h1v1h-1zM3 26h2v1h-2z" fill="#0000ff"/><path d="M1 2h1v1h-1zM3 2h1v1h-1zM5 2h7v1h-7zM0 5h1v1h-1zM4 5h1v1h-1zM7 5h1v1h-1zM4 6h1v1h-1zM6 6h3v1h-3zM3 8h2v1h-2zM6 8h5v1h-5zM0 9h3v1h-3zM4 9h3v1h-3zM8 9h1v1h-1zM10 9h1v1h-1zM2 10h1v1h-1zM11 10h1v1h-1zM1 11h1v1h-1zM7 11h3v1h-3zM1 12h1v1h-1zM11 12h1v1h-1zM3 16h1v1h-1zM6 16h1v1h-1zM11 16h1v1h-1zM5 18h1v1h-1zM8 18h1v1h-1zM10 18h1v1h-1zM0 21h4v1h-4zM5 21h1v1h-1zM7 21h1v1h-1zM9 21h3v1h-3zM3 22h1v1h-1zM5 22h4v1h-4zM10 22h2v1h-2zM1 26h1v1h-1zM5 26h1v1h-1zM7 26h2v1h-2zM10 26h2v1h-2zM1 27h1v1h-1zM4 27h1v1h-1zM7 27h1v1h-1zM7 28h1v1h-1zM10 28h1v1h-1zM9 29h2v1h-2zM1 31h1v1h-1zM6 31h1v1h-1z" fill="#2626ff"/><path d="M2 3h1v1h-1zM6 3h1v1h-1zM8 3h1v1h-1zM10 4h1v1h-1zM2 7h1v1h-1zM5 7h1v1h-1zM5 13h1v1h-1zM9 13h1v1h-1zM6 14h1v1h-1zM7 15h2v1h-2zM7 19h1v1h-1zM10 19h1v1h-1zM2 20h1v1h-1zM4 20h1v1h-1zM7 20h1v1h-1zM3 23h1v1h-1zM1 24h1v1h-1zM1 25h1v1h-1z" fill="#ffc0c0"/><path d="M7 13h1v1h-1zM11 13h1v1h-1zM0 14h1v1h-1zM8 14h1v1h-1zM5 15h1v1h-1zM9 15h1v1h-1zM11 15h1v1h-1zM0 17h1v1h-1zM6 17h1v1h-1zM9 19h1v1h-1zM3 20h1v1h-1zM6 20h1v1h-1zM8 20h1v1h-1zM11 20h1v1h-1zM10 23h2v1h-2z" fill="#ff4444"/></svg><rect x="4420" y="2327" width="210" height="175" fill="none" stroke="#000" stroke-width="1.3"/>
<text font-size="6.2"><tspan x="4632" y="2331">1-Oleoyl-2-pentadecanoyl-sn-glycerol</tspan><tspan x="4632" y="2337">PE-NMe2(18:2(9Z,12Z)/22:2(13Z,16Z))</tspan><tspan x="4632" y="2342">1-Oleoyl-2-lignoceroyl-sn-glycerol</tspan><tspan x="4632" y="2348">PE(18:3(6Z,9Z,12Z)/14:0)</tspan><tspan x="4632" y="2353">NBD-Stearoyl-2-Arachidonoyl-sn-glycerol</tspan><tspan x="4632" y="2359">PE-NMe(14:1(9Z)/24:1(15Z))</tspan><tspan x="4632" y="2364">1-octadecanoyl-2-(4Z,7Z,10Z,13Z,16Z,19Z-docosahexaenoyl)-sn-glycero-3-phosphocholine</tspan><tspan x="4632" y="2370">PC(22:6(4Z,7Z,10Z,13Z,16Z,19Z)/18:1(11Z))</tspan><tspan x="4632" y="2375">PE-NMe(18:2(9Z,12Z)/22:1(13Z))</tspan><tspan x="4632" y="2381">PC(20:4(5Z,8Z,11Z,14Z)/22:2(13Z,16Z))</tspan><tspan x="4632" y="2386">1,2-Dioleoyl-sn-Glycero-3-Phosphocholine</tspan><tspan x="4632" y="2392">Dioleoyl phosphatidylcholine</tspan><tspan x="4632" y="2397">PE-NMe(16:0/22:4(7Z,10Z,13Z,16Z))</tspan><tspan x="4632" y="2403">DG(20:4(5Z,8Z,11Z,14Z)/20:1(11Z)/0:0)</tspan><tspan x="4632" y="2408">L-alpha-Glycerophosphorylethanolamine</tspan><tspan x="4632" y="2414">1-docosanoyl-2-(4Z,7Z,10Z,13Z,16Z,19Z-docosahexaenoyl)-sn-glycerol</tspan><tspan x="4632" y="2419">PE-NMe(14:0/20:3(5Z,8Z,11Z))</tspan><tspan x="4632" y="2425">1-hexadecanoyl-2-(9Z,12Z-octadecadienoyl)-sn-glycero-3-phosphoethanolamine</tspan><tspan x="4632" y="2430">PE-NMe(15:0/20:5(5Z,8Z,11Z,14Z,17Z))</tspan><tspan x="4632" y="2435">PE(18:0/20:4(5Z,8Z,11Z,14Z))</tspan><tspan x="4632" y="2441">PC(P-18:0/20:4(5Z,8Z,11Z,14Z))</tspan><tspan x="4632" y="2446">PE-NMe2(22:0/15:0)</tspan><tspan x="4632" y="2452">PE(15:0/22:4(7Z,10Z,13Z,16Z))</tspan><tspan x="4632" y="2457">1,2-Dipentadecanoyl-sn-glycero-3-phosphocholine</tspan><tspan x="4632" y="2463">PC(20:5(5Z,8Z,11Z,14Z,17Z)/20:1(11Z))</tspan><tspan x="4632" y="2468">PE-NMe(18:1(11Z)/20:3(5Z,8Z,11Z))</tspan><tspan x="4632" y="2474">1-Arachidonoyl-sn-glycero-3-phosphocholine</tspan><tspan x="4632" y="2479">LPS(18:1/0:0)</tspan><tspan x="4632" y="2485">LPA(i-21:0/0:0)</tspan><tspan x="4632" y="2490">PE-NMe(14:0/22:0)</tspan><tspan x="4632" y="2496">DG(18:0/22:5(4Z,7Z,10Z,13Z,16Z)/0:0)</tspan><tspan x="4632" y="2501">PE-NMe(16:0/22:5(4Z,7Z,10Z,13Z,16Z))</tspan></text>
<text font-size="6.9" class="e" transform="rotate(-90)"><tspan x="-2506" y="4431">SER-1</tspan><tspan x="-2506" y="4449">SER-2</tspan><tspan x="-2506" y="4466">SER-6</tspan><tspan x="-2506" y="4484">SER-4</tspan><tspan x="-2506" y="4501">SER-3</tspan><tspan x="-2506" y="4518">SER-5</tspan><tspan x="-2506" y="4536">Model-1</tspan><tspan x="-2506" y="4553">Model-2</tspan><tspan x="-2506" y="4571">Model-3</tspan><tspan x="-2506" y="4588">Model-5</tspan><tspan x="-2506" y="4606">Model-4</tspan><tspan x="-2506" y="4623">Model-6</tspan></text>
<path d="M 4481 2327 L 4481 2321 L 4499 2321 L 4499 2327 M 4429 2327 L 4429 2321 L 4446 2321 L 4446 2327 M 4438 2321 L 4438 2317 L 4464 2317 L 4464 2327 M 4451 2317 L 4451 2315 L 4490 2315 L 4490 2321 M 4470 2315 L 4470 2311 L 4516 2311 L 4516 2327" fill="none" stroke="#ff0000" stroke-width="1"/><path d="M 4551 2327 L 4551 2325 L 4569 2325 L 4569 2327 M 4560 2325 L 4560 2322 L 4586 2322 L 4586 2327 M 4573 2322 L 4573 2318 L 4604 2318 L 4604 2327 M 4534 2327 L 4534 2313 L 4588 2313 L 4588 2318 M 4561 2313 L 4561 2310 L 4621 2310 L 4621 2327" fill="none" stroke="#00ff00" stroke-width="1"/><path d="M 4493 2311 L 4493 2297 L 4542 2297" fill="none" stroke="#000" stroke-width="1.1"/><path d="M 4542 2297 L 4591 2297 L 4591 2310" fill="none" stroke="#00ff00" stroke-width="1.1"/>
<rect x="4933" y="2324" width="14.8" height="182" fill="url(#bwr)" stroke="#000" stroke-width=".8"/><path d="M4948,2324h3.1M4948,2342h3.1M4948,2361h3.1M4948,2379h3.1M4948,2397h3.1M4948,2415h3.1M4948,2433h3.1M4948,2451h3.1M4948,2470h3.1M4948,2488h3.1M4948,2506h3.1" stroke="#000" stroke-width=".9"/><text font-size="6.6"><tspan x="4952" y="2326">1.68E+6</tspan><tspan x="4952" y="2345">6.03E+4</tspan><tspan x="4952" y="2363">5.36E+4</tspan><tspan x="4952" y="2381">4.69E+4</tspan><tspan x="4952" y="2399">4.02E+4</tspan><tspan x="4952" y="2417">3.35E+4</tspan><tspan x="4952" y="2435">2.68E+4</tspan><tspan x="4952" y="2454">2.01E+4</tspan><tspan x="4952" y="2472">1.34E+4</tspan><tspan x="4952" y="2490">6.70E+3</tspan><tspan x="4952" y="2508">0.00</tspan></text>
<text x="3776" y="2549" font-size="20.9">C3</text>
<text x="4177" y="2562" font-size="14.4" class="m">LBHgS vs Model</text>
<svg x="3795" y="2580" width="152" height="168" viewBox="0 0 12 11" preserveAspectRatio="none" shape-rendering="crispEdges"><rect width="12" height="11" fill="#2626ff"/><path d="M0 0h11v1h-11zM3 3h1v1h-1zM7 3h4v1h-4zM0 7h2v1h-2zM3 7h9v1h-9zM2 8h1v1h-1zM4 8h1v1h-1zM11 8h1v1h-1zM0 10h6v1h-6zM7 10h2v1h-2zM10 10h2v1h-2z" fill="#ff0000"/><path d="M11 0h1v1h-1zM3 5h2v1h-2zM8 5h1v1h-1zM10 5h1v1h-1zM1 6h2v1h-2zM5 6h2v1h-2zM10 6h1v1h-1zM6 8h1v1h-1zM9 8h1v1h-1zM3 9h1v1h-1zM11 9h1v1h-1z" fill="#7c7cff"/><path d="M4 1h1v1h-1zM9 1h1v1h-1zM6 2h1v1h-1zM7 5h1v1h-1zM11 5h1v1h-1zM3 6h2v1h-2zM8 6h2v1h-2zM0 9h1v1h-1zM9 9h1v1h-1z" fill="#4a4aff"/><path d="M11 3h1v1h-1zM2 7h1v1h-1z" fill="#ff4444"/><path d="M3 4h1v1h-1zM7 4h1v1h-1zM9 4h1v1h-1zM0 8h2v1h-2zM5 8h1v1h-1zM10 8h1v1h-1zM2 9h1v1h-1zM9 10h1v1h-1z" fill="#ffc0c0"/><path d="M8 4h1v1h-1zM7 9h1v1h-1zM6 10h1v1h-1z" fill="#ff8484"/><path d="M10 4h1v1h-1zM0 5h1v1h-1zM1 9h1v1h-1z" fill="#ffffff"/><path d="M1 5h2v1h-2zM5 5h1v1h-1zM9 5h1v1h-1zM0 6h1v1h-1zM11 6h1v1h-1zM5 9h1v1h-1z" fill="#b8b8ff"/><path d="M7 8h1v1h-1zM8 9h1v1h-1z" fill="#0000ff"/></svg><rect x="3795" y="2580" width="152" height="168" fill="none" stroke="#000" stroke-width="1.3"/>
<text font-size="6.3"><tspan x="3949" y="2589">LPC(14:0/0:0)</tspan><tspan x="3949" y="2605">PE(20:1(11Z)/20:3(8Z,11Z,14Z))</tspan><tspan x="3949" y="2620">PE-NMe(15:0/20:0)</tspan><tspan x="3949" y="2635">PE-NMe2(16:0/22:5(4Z,7Z,10Z,13Z,16Z))</tspan><tspan x="3949" y="2650">PE-NMe2(18:2(9Z,12Z)/24:1(15Z))</tspan><tspan x="3949" y="2666">LPC(22:5/0:0)</tspan><tspan x="3949" y="2681">LPC(0:0/18:3)</tspan><tspan x="3949" y="2696">1,2-Dipentadecanoyl-sn-glycero-3-phosphocholine</tspan><tspan x="3949" y="2711">1-Stearoyl-2-linoleoyl-sn-glycero-3-phosphoethanolamine</tspan><tspan x="3949" y="2726">PC(14:0/22:4(7Z,10Z,13Z,16Z))</tspan><tspan x="3949" y="2742">[(2R)-1-[[(2S)-2,3-dihydroxypropoxy]-hydroxyphosphoryl]oxy-3-(10-methyldodecanoyloxy)propan-2-yl] 17-methyloctadecanoate</tspan></text>
<text font-size="6.9" class="e" transform="rotate(-90)"><tspan x="-2751" y="3804">LBHgS-1</tspan><tspan x="-2751" y="3816">LBHgS-3</tspan><tspan x="-2751" y="3829">LBHgS-6</tspan><tspan x="-2751" y="3842">Model-3</tspan><tspan x="-2751" y="3854">LBHgS-2</tspan><tspan x="-2751" y="3867">LBHgS-4</tspan><tspan x="-2751" y="3880">Model-5</tspan><tspan x="-2751" y="3892">Model-2</tspan><tspan x="-2751" y="3905">Model-4</tspan><tspan x="-2751" y="3918">Model-1</tspan><tspan x="-2751" y="3930">Model-6</tspan><tspan x="-2751" y="3943">LBHgS-5</tspan></text>
<path d="M 3827 2580 L 3827 2574 L 3840 2574 L 3840 2580 M 3877 2580 L 3877 2575 L 3890 2575 L 3890 2580 M 3814 2580 L 3814 2568 L 3833 2568 L 3833 2574 M 3884 2575 L 3884 2573 L 3903 2573 L 3903 2580 M 3915 2580 L 3915 2575 L 3928 2575 L 3928 2580 M 3802 2580 L 3802 2563 L 3824 2563 L 3824 2568 M 3813 2563 L 3813 2563 L 3852 2563 L 3852 2580 M 3893 2573 L 3893 2567 L 3922 2567 L 3922 2575 M 3865 2580 L 3865 2563 L 3908 2563 L 3908 2567 M 3832 2563 L 3832 2563 L 3886 2563 L 3886 2563" fill="none" stroke="#ff0000" stroke-width="1"/><path d="" fill="none" stroke="#00ff00" stroke-width="1"/><path d="M 3859 2563 L 3859 2550 L 3900 2550" fill="none" stroke="#000" stroke-width="1.1"/><path d="M 3900 2550 L 3941 2550 L 3941 2580" fill="none" stroke="#00ff00" stroke-width="1.1"/>
<rect x="4300" y="2557" width="14.3" height="167" fill="url(#bwr)" stroke="#000" stroke-width=".8"/><path d="M4315,2557h3.1M4315,2573h3.1M4315,2590h3.1M4315,2607h3.1M4315,2623h3.1M4315,2640h3.1M4315,2657h3.1M4315,2674h3.1M4315,2690h3.1M4315,2707h3.1M4315,2724h3.1" stroke="#000" stroke-width=".9"/><text font-size="6.6"><tspan x="4319" y="2559">5.74E+5</tspan><tspan x="4319" y="2575">2.87E+4</tspan><tspan x="4319" y="2592">2.55E+4</tspan><tspan x="4319" y="2609">2.23E+4</tspan><tspan x="4319" y="2626">1.91E+4</tspan><tspan x="4319" y="2642">1.59E+4</tspan><tspan x="4319" y="2659">1.28E+4</tspan><tspan x="4319" y="2676">9.57E+3</tspan><tspan x="4319" y="2693">6.38E+3</tspan><tspan x="4319" y="2709">3.19E+3</tspan><tspan x="4319" y="2726">0.00</tspan></text>
<text x="4384" y="2549" font-size="20.9">C4</text>
<text x="4736" y="2561" font-size="14.6" class="m">MBHgS vs Model</text>
<svg x="4415" y="2572" width="214" height="171" viewBox="0 0 12 46" preserveAspectRatio="none" shape-rendering="crispEdges"><rect width="12" height="46" fill="#ff0000"/><path d="M0 0h1v1h-1zM6 0h1v1h-1zM0 1h3v1h-3zM4 1h1v1h-1zM6 1h2v1h-2zM11 1h1v1h-1zM0 2h2v1h-2zM5 2h1v1h-1zM11 2h1v1h-1zM1 6h1v1h-1zM5 6h2v1h-2zM8 6h1v1h-1zM1 8h1v1h-1zM3 8h2v1h-2zM10 10h1v1h-1zM10 13h1v1h-1zM7 21h1v1h-1zM7 23h1v1h-1zM9 23h1v1h-1zM10 24h1v1h-1zM6 26h3v1h-3zM10 26h2v1h-2zM0 29h4v1h-4zM6 29h2v1h-2zM0 31h2v1h-2zM8 31h1v1h-1zM2 32h2v1h-2zM0 35h2v1h-2zM6 35h4v1h-4zM6 36h3v1h-3zM8 37h1v1h-1z" fill="#7c7cff"/><path d="M1 0h3v1h-3zM5 0h1v1h-1zM2 2h1v1h-1zM0 3h2v1h-2zM4 3h2v1h-2zM8 3h1v1h-1zM10 3h1v1h-1zM0 4h2v1h-2zM4 4h1v1h-1zM5 5h2v1h-2zM8 5h4v1h-4zM10 6h2v1h-2zM0 8h1v1h-1zM0 9h2v1h-2zM3 9h3v1h-3zM0 11h1v1h-1zM4 11h2v1h-2zM0 12h4v1h-4zM6 12h3v1h-3zM10 12h1v1h-1zM9 13h1v1h-1zM0 15h2v1h-2zM3 15h1v1h-1zM5 15h7v1h-7zM2 17h7v1h-7zM10 17h1v1h-1zM0 18h1v1h-1zM2 18h4v1h-4zM3 19h1v1h-1zM3 20h4v1h-4zM10 20h1v1h-1zM6 21h1v1h-1zM8 21h2v1h-2zM0 23h1v1h-1zM4 23h1v1h-1zM8 23h1v1h-1zM10 23h1v1h-1zM0 24h1v1h-1zM7 24h2v1h-2zM0 28h7v1h-7zM0 37h1v1h-1zM2 37h1v1h-1zM4 37h1v1h-1zM10 37h1v1h-1zM0 39h1v1h-1zM2 39h5v1h-5zM8 39h1v1h-1zM10 39h2v1h-2zM2 41h1v1h-1zM4 41h1v1h-1zM10 41h2v1h-2z" fill="#2626ff"/><path d="M4 0h1v1h-1zM7 0h5v1h-5zM5 1h1v1h-1zM8 1h2v1h-2zM3 2h2v1h-2zM6 2h5v1h-5zM2 3h2v1h-2zM6 3h1v1h-1zM9 3h1v1h-1zM1 5h2v1h-2zM0 6h1v1h-1zM2 6h3v1h-3zM7 6h1v1h-1zM9 6h1v1h-1zM2 8h1v1h-1zM5 8h1v1h-1zM6 10h4v1h-4zM11 10h1v1h-1zM1 11h2v1h-2zM11 12h1v1h-1zM6 13h3v1h-3zM11 13h1v1h-1zM4 15h1v1h-1zM1 17h1v1h-1zM9 17h1v1h-1zM11 17h1v1h-1zM0 19h3v1h-3zM4 19h2v1h-2zM1 20h2v1h-2zM7 20h2v1h-2zM10 21h2v1h-2zM1 23h3v1h-3zM5 23h2v1h-2zM11 23h1v1h-1zM1 24h6v1h-6zM9 24h1v1h-1zM11 24h1v1h-1zM7 28h2v1h-2zM11 28h1v1h-1zM9 29h3v1h-3zM2 31h6v1h-6zM9 31h3v1h-3zM0 32h2v1h-2zM4 32h2v1h-2zM3 35h1v1h-1zM9 36h3v1h-3zM1 37h1v1h-1zM3 37h1v1h-1zM5 37h3v1h-3zM9 37h1v1h-1zM11 37h1v1h-1zM9 39h1v1h-1zM0 41h2v1h-2zM3 41h1v1h-1zM5 41h5v1h-5z" fill="#4a4aff"/><path d="M3 1h1v1h-1zM10 1h1v1h-1zM9 26h1v1h-1zM4 29h2v1h-2zM8 29h1v1h-1zM2 35h1v1h-1zM4 35h2v1h-2zM10 35h2v1h-2z" fill="#b8b8ff"/><path d="M7 3h1v1h-1zM11 3h1v1h-1zM2 4h2v1h-2zM5 4h1v1h-1zM0 5h1v1h-1zM3 5h2v1h-2zM7 5h1v1h-1zM2 9h1v1h-1zM3 11h1v1h-1zM4 12h2v1h-2zM9 12h1v1h-1zM2 15h1v1h-1zM0 17h1v1h-1zM1 18h1v1h-1zM0 20h1v1h-1zM9 20h1v1h-1zM11 20h1v1h-1zM9 28h2v1h-2zM1 39h1v1h-1zM7 39h1v1h-1z" fill="#0000ff"/><path d="M6 4h1v1h-1zM8 4h1v1h-1zM11 4h1v1h-1zM0 7h1v1h-1zM2 10h1v1h-1zM5 10h1v1h-1zM8 11h2v1h-2zM5 13h1v1h-1zM6 14h1v1h-1zM9 14h1v1h-1zM8 16h1v1h-1zM8 18h1v1h-1zM10 18h1v1h-1zM4 21h1v1h-1zM3 22h1v1h-1zM6 22h1v1h-1zM1 25h1v1h-1zM2 26h1v1h-1zM11 27h1v1h-1zM2 36h1v1h-1zM1 42h1v1h-1zM6 44h1v1h-1zM10 44h1v1h-1z" fill="#ff8484"/><path d="M11 7h1v1h-1zM10 8h2v1h-2zM6 11h1v1h-1zM0 13h2v1h-2zM2 14h1v1h-1zM10 14h1v1h-1zM9 18h1v1h-1zM6 19h1v1h-1zM2 25h1v1h-1zM3 26h1v1h-1zM6 33h1v1h-1zM11 34h1v1h-1zM1 36h1v1h-1zM4 38h1v1h-1zM5 42h1v1h-1zM4 43h1v1h-1z" fill="#ffffff"/><path d="M8 8h1v1h-1zM3 10h2v1h-2zM7 11h1v1h-1zM2 13h1v1h-1zM8 14h1v1h-1zM1 16h3v1h-3zM7 18h1v1h-1zM8 19h1v1h-1zM1 21h1v1h-1zM3 21h1v1h-1zM5 21h1v1h-1zM0 22h1v1h-1zM3 25h3v1h-3zM10 32h1v1h-1zM8 33h1v1h-1zM10 33h1v1h-1zM6 34h1v1h-1zM0 36h1v1h-1zM4 36h2v1h-2zM10 40h2v1h-2zM11 42h1v1h-1zM1 43h1v1h-1zM9 44h1v1h-1zM2 45h1v1h-1z" fill="#ffc0c0"/><path d="M7 9h1v1h-1zM0 10h2v1h-2zM4 13h1v1h-1zM3 14h1v1h-1zM5 16h1v1h-1zM6 18h1v1h-1zM7 19h1v1h-1zM4 22h1v1h-1zM7 25h1v1h-1zM8 32h1v1h-1zM11 32h1v1h-1zM4 34h1v1h-1zM3 36h1v1h-1zM0 38h1v1h-1zM0 40h1v1h-1zM4 40h1v1h-1zM8 44h1v1h-1zM11 44h1v1h-1z" fill="#ff4444"/></svg><rect x="4415" y="2572" width="214" height="171" fill="none" stroke="#000" stroke-width="1.3"/>
<text font-size="5.6"><tspan x="4631" y="2576">PE(15:0/22:4(7Z,10Z,13Z,16Z))</tspan><tspan x="4631" y="2580">PE(18:0/20:4(5Z,8Z,11Z,14Z))</tspan><tspan x="4631" y="2584">PE-NMe(14:0/20:3(5Z,8Z,11Z))</tspan><tspan x="4631" y="2587">DG(20:4(5Z,8Z,11Z,14Z)/20:1(11Z)/0:0)</tspan><tspan x="4631" y="2591">1,2-Dioleoyl-sn-Glycero-3-Phosphocholine</tspan><tspan x="4631" y="2595">PC(22:6(4Z,7Z,10Z,13Z,16Z,19Z)/18:1(11Z))</tspan><tspan x="4631" y="2598">NBD-Stearoyl-2-Arachidonoyl-sn-glycerol</tspan><tspan x="4631" y="2602">PE-NMe2(18:2(9Z,12Z)/22:2(13Z,16Z))</tspan><tspan x="4631" y="2606">1-(9Z-octadecenoyl)-2-(11Z-octadecenoyl)-sn-glycero-3-phosphocholine</tspan><tspan x="4631" y="2610">PE-NMe(18:1(11Z)/22:5(4Z,7Z,10Z,13Z,16Z))</tspan><tspan x="4631" y="2613">PE(22:6(4Z,7Z,10Z,13Z,16Z,19Z)/18:2(9Z,12Z))</tspan><tspan x="4631" y="2617">1-Stearoyl-2-docosahexaenoyl-sn-glycerol</tspan><tspan x="4631" y="2621">PE-NMe(14:1(9Z)/22:0)</tspan><tspan x="4631" y="2624">LPE(0:0/18:1(11Z))</tspan><tspan x="4631" y="2628">1-Oleoyl-2-myristoyl-sn-glycero-3-phosphocholine</tspan><tspan x="4631" y="2632">PE(16:0/18:3(9Z,12Z,15Z))</tspan><tspan x="4631" y="2636">DG(18:0/22:5(4Z,7Z,10Z,13Z,16Z)/0:0)</tspan><tspan x="4631" y="2639">LPS(18:1/0:0)</tspan><tspan x="4631" y="2643">PC(20:5(5Z,8Z,11Z,14Z,17Z)/20:1(11Z))</tspan><tspan x="4631" y="2647">PE-NMe2(22:0/15:0)</tspan><tspan x="4631" y="2650">PE-NMe(15:0/20:5(5Z,8Z,11Z,14Z,17Z))</tspan><tspan x="4631" y="2654">1-docosanoyl-2-(4Z,7Z,10Z,13Z,16Z,19Z-docosahexaenoyl)-sn-glycerol</tspan><tspan x="4631" y="2658">PE-NMe(16:0/22:4(7Z,10Z,13Z,16Z))</tspan><tspan x="4631" y="2661">PC(20:4(5Z,8Z,11Z,14Z)/22:2(13Z,16Z))</tspan><tspan x="4631" y="2665">1-octadecanoyl-2-(4Z,7Z,10Z,13Z,16Z,19Z-docosahexaenoyl)-sn-glycero-3-phosphocholine</tspan><tspan x="4631" y="2669">PE(18:3(6Z,9Z,12Z)/14:0)</tspan><tspan x="4631" y="2673">1-Oleoyl-2-pentadecanoyl-sn-glycerol</tspan><tspan x="4631" y="2676">PE(20:4(5Z,8Z,11Z,14Z)/20:4(5Z,8Z,11Z,14Z))</tspan><tspan x="4631" y="2680">PC(20:5(5Z,8Z,11Z,14Z,17Z)/20:5(5Z,8Z,11Z,14Z,17Z))</tspan><tspan x="4631" y="2684">Dioleoylphosphatidylcholine</tspan><tspan x="4631" y="2687">PE-NMe(16:1(9Z)/22:0)</tspan><tspan x="4631" y="2691">1-Palmitoyl-2-docosahexaenoyl-sn-glycero-3-phosphocholine</tspan><tspan x="4631" y="2695">PE-NMe(18:1(11Z)/20:3(8Z,11Z,14Z))</tspan><tspan x="4631" y="2699">PE(18:2(9Z,12Z)/18:1(9Z))</tspan><tspan x="4631" y="2702">1-octadecanoyl-2-(9Z-octadecenoyl)-sn-glycero-3-phosphoserine</tspan><tspan x="4631" y="2706">PE-NMe(14:0/22:0)</tspan><tspan x="4631" y="2710">1-Arachidonoyl-sn-glycero-3-phosphocholine</tspan><tspan x="4631" y="2713">1,2-Dipentadecanoyl-sn-glycero-3-phosphocholine</tspan><tspan x="4631" y="2717">PC(P-18:0/20:4(5Z,8Z,11Z,14Z))</tspan><tspan x="4631" y="2721">1-hexadecanoyl-2-(9Z,12Z-octadecadienoyl)-sn-glycero-3-phosphoethanolamine</tspan><tspan x="4631" y="2725">L-alpha-Glycerophosphorylethanolamine</tspan><tspan x="4631" y="2728">Dioleoyl phosphatidylcholine</tspan><tspan x="4631" y="2732">PE-NMe(18:2(9Z,12Z)/22:1(13Z))</tspan><tspan x="4631" y="2736">PE-NMe(14:1(9Z)/24:1(15Z))</tspan><tspan x="4631" y="2739">1-Oleoyl-2-lignoceroyl-sn-glycerol</tspan><tspan x="4631" y="2743">PE-NMe(16:0/20:1(11Z))</tspan></text>
<text font-size="6.9" class="e" transform="rotate(-90)"><tspan x="-2747" y="4426">MBHgS-1</tspan><tspan x="-2747" y="4444">MBHgS-2</tspan><tspan x="-2747" y="4462">MBHgS-3</tspan><tspan x="-2747" y="4480">MBHgS-4</tspan><tspan x="-2747" y="4497">MBHgS-5</tspan><tspan x="-2747" y="4515">MBHgS-6</tspan><tspan x="-2747" y="4533">Model-1</tspan><tspan x="-2747" y="4551">Model-2</tspan><tspan x="-2747" y="4569">Model-3</tspan><tspan x="-2747" y="4586">Model-4</tspan><tspan x="-2747" y="4604">Model-5</tspan><tspan x="-2747" y="4622">Model-6</tspan></text>
<rect x="4911" y="2565" width="18.9" height="175" fill="url(#bwr)" stroke="#000" stroke-width=".8"/><path d="M4930,2565h3.1M4930,2583h3.1M4930,2600h3.1M4930,2618h3.1M4930,2635h3.1M4930,2653h3.1M4930,2670h3.1M4930,2688h3.1M4930,2706h3.1M4930,2723h3.1M4930,2741h3.1" stroke="#000" stroke-width=".9"/><text font-size="6.6"><tspan x="4935" y="2567">2.70E+6</tspan><tspan x="4935" y="2585">4.05E+4</tspan><tspan x="4935" y="2603">3.60E+4</tspan><tspan x="4935" y="2620">3.15E+4</tspan><tspan x="4935" y="2638">2.70E+4</tspan><tspan x="4935" y="2655">2.25E+4</tspan><tspan x="4935" y="2673">1.80E+4</tspan><tspan x="4935" y="2690">1.35E+4</tspan><tspan x="4935" y="2708">9.00E+3</tspan><tspan x="4935" y="2725">4.50E+3</tspan><tspan x="4935" y="2743">0.00</tspan></text>
<text x="3776" y="2808" font-size="20.9">C5</text>
<text x="4098" y="2810" font-size="14.7" class="m">HBHgS vs Model</text>
<svg x="3793" y="2831" width="190" height="167" viewBox="0 0 12 32" preserveAspectRatio="none" shape-rendering="crispEdges"><rect width="12" height="32" fill="#2626ff"/><path d="M0 0h12v1h-12zM1 1h2v1h-2zM4 1h1v1h-1zM6 1h3v1h-3zM7 5h1v1h-1zM0 6h1v1h-1zM3 6h1v1h-1zM5 6h3v1h-3zM9 6h1v1h-1zM11 6h1v1h-1zM1 9h11v1h-11zM4 11h1v1h-1zM0 12h1v1h-1zM3 12h2v1h-2zM7 12h3v1h-3zM11 12h1v1h-1zM0 17h4v1h-4zM5 17h2v1h-2zM8 17h1v1h-1zM10 17h2v1h-2zM0 19h6v1h-6zM7 19h5v1h-5zM0 21h1v1h-1zM2 21h1v1h-1zM5 21h1v1h-1zM7 21h4v1h-4zM2 25h1v1h-1z" fill="#ff0000"/><path d="M0 1h1v1h-1zM2 2h1v1h-1zM10 2h1v1h-1zM6 5h1v1h-1zM4 7h1v1h-1zM0 10h1v1h-1zM2 10h1v1h-1zM5 11h2v1h-2zM2 18h1v1h-1zM11 18h1v1h-1zM6 20h1v1h-1zM11 20h1v1h-1zM3 21h1v1h-1zM5 23h1v1h-1zM4 29h1v1h-1zM6 29h1v1h-1zM11 29h1v1h-1z" fill="#b8b8ff"/><path d="M3 1h1v1h-1zM10 3h1v1h-1zM2 4h1v1h-1zM1 5h1v1h-1zM10 5h1v1h-1zM10 10h1v1h-1zM1 12h1v1h-1zM5 12h1v1h-1zM10 12h1v1h-1zM4 15h1v1h-1zM10 15h1v1h-1zM6 19h1v1h-1z" fill="#ff8484"/><path d="M5 1h1v1h-1zM11 3h1v1h-1zM1 6h2v1h-2zM10 6h1v1h-1zM6 15h1v1h-1zM7 17h1v1h-1zM9 17h1v1h-1zM9 18h1v1h-1zM7 20h2v1h-2zM1 21h1v1h-1zM4 21h1v1h-1zM6 25h1v1h-1z" fill="#ff4444"/><path d="M9 1h1v1h-1zM8 3h2v1h-2zM4 4h1v1h-1zM7 4h1v1h-1zM4 6h1v1h-1zM8 6h1v1h-1zM1 10h1v1h-1zM4 10h1v1h-1zM2 12h1v1h-1zM7 15h1v1h-1zM0 20h1v1h-1zM6 21h1v1h-1zM0 23h1v1h-1zM10 23h1v1h-1zM8 25h1v1h-1z" fill="#ffc0c0"/><path d="M10 1h2v1h-2zM3 3h1v1h-1zM9 4h2v1h-2zM9 5h1v1h-1zM0 9h1v1h-1zM2 11h1v1h-1zM10 11h1v1h-1zM6 12h1v1h-1zM3 15h1v1h-1zM4 17h1v1h-1zM6 18h1v1h-1zM10 18h1v1h-1zM3 20h1v1h-1zM9 20h1v1h-1zM11 21h1v1h-1zM4 23h1v1h-1zM8 23h1v1h-1zM9 25h1v1h-1zM11 25h1v1h-1z" fill="#ffffff"/><path d="M0 2h2v1h-2zM4 2h1v1h-1zM6 2h4v1h-4zM11 2h1v1h-1zM0 5h1v1h-1zM4 5h1v1h-1zM0 7h1v1h-1zM2 7h2v1h-2zM5 7h4v1h-4zM10 7h2v1h-2zM0 13h1v1h-1zM7 13h1v1h-1zM5 15h1v1h-1zM11 15h1v1h-1zM1 20h2v1h-2zM4 20h2v1h-2zM10 20h1v1h-1zM6 23h2v1h-2zM2 27h1v1h-1zM8 27h1v1h-1zM0 29h4v1h-4zM5 29h1v1h-1zM7 29h1v1h-1zM9 29h2v1h-2zM1 31h1v1h-1zM4 31h1v1h-1zM7 31h1v1h-1zM10 31h1v1h-1z" fill="#7c7cff"/><path d="M3 2h1v1h-1zM5 2h1v1h-1zM1 3h1v1h-1zM3 4h1v1h-1zM6 4h1v1h-1zM11 4h1v1h-1zM2 5h2v1h-2zM5 5h1v1h-1zM8 5h1v1h-1zM1 7h1v1h-1zM9 7h1v1h-1zM4 8h1v1h-1zM11 8h1v1h-1zM7 10h1v1h-1zM3 11h1v1h-1zM11 11h1v1h-1zM1 13h6v1h-6zM8 13h4v1h-4zM5 14h1v1h-1zM0 15h3v1h-3zM9 15h1v1h-1zM0 16h1v1h-1zM9 16h1v1h-1zM1 22h1v1h-1zM3 22h2v1h-2zM1 23h3v1h-3zM9 23h1v1h-1zM11 23h1v1h-1zM1 24h2v1h-2zM9 24h1v1h-1zM10 25h1v1h-1zM0 27h2v1h-2zM3 27h5v1h-5zM9 27h1v1h-1zM11 27h1v1h-1zM1 28h3v1h-3zM6 28h2v1h-2zM8 29h1v1h-1zM0 30h2v1h-2zM4 30h1v1h-1zM8 30h1v1h-1zM0 31h1v1h-1zM2 31h2v1h-2zM6 31h1v1h-1zM8 31h2v1h-2zM11 31h1v1h-1z" fill="#4a4aff"/><path d="M6 3h1v1h-1zM7 8h2v1h-2zM10 8h1v1h-1zM3 10h1v1h-1zM6 10h1v1h-1zM7 11h1v1h-1zM2 14h3v1h-3zM7 14h1v1h-1zM2 16h1v1h-1zM7 18h1v1h-1zM5 24h3v1h-3zM0 25h1v1h-1zM4 25h1v1h-1zM7 25h1v1h-1zM1 26h1v1h-1zM6 26h1v1h-1zM9 26h1v1h-1zM8 28h1v1h-1zM5 30h1v1h-1z" fill="#0000ff"/></svg><rect x="3793" y="2831" width="190" height="167" fill="none" stroke="#000" stroke-width="1.3"/>
<text font-size="6.2"><tspan x="3985" y="2835">1-docosanoyl-2-(4Z,7Z,10Z,13Z,16Z,19Z-docosahexaenoyl)-sn-glycerol</tspan><tspan x="3985" y="2841">PE-NMe(18:1(11Z)/20:3(8Z,11Z,14Z))</tspan><tspan x="3985" y="2846">PE-NMe(14:1(9Z)/24:1(15Z))</tspan><tspan x="3985" y="2851">LPA(i-21:0/0:0)</tspan><tspan x="3985" y="2856">PE-NMe(18:1(11Z)/22:5(4Z,7Z,10Z,13Z,16Z))</tspan><tspan x="3985" y="2861">PE-NMe(15:0/20:5(5Z,8Z,11Z,14Z,17Z))</tspan><tspan x="3985" y="2867">1-Palmitoyl-2-docosahexaenoyl-sn-glycero-3-phosphocholine</tspan><tspan x="3985" y="2872">PE-NMe(18:2(9Z,12Z)/22:1(13Z))</tspan><tspan x="3985" y="2877">PE-NMe(16:0/22:5(4Z,7Z,10Z,13Z,16Z))</tspan><tspan x="3985" y="2882">1-(9Z-octadecenoyl)-2-(11Z-octadecenoyl)-sn-glycero-3-phosphocholine</tspan><tspan x="3985" y="2888">PE-NMe2(22:0/15:0)</tspan><tspan x="3985" y="2893">PE-NMe(16:1(9Z)/22:0)</tspan><tspan x="3985" y="2898">Dioleoyl phosphatidylcholine</tspan><tspan x="3985" y="2903">CDP-ethanolamine</tspan><tspan x="3985" y="2908">PE-NMe2(18:2(9Z,12Z)/22:2(13Z,16Z))</tspan><tspan x="3985" y="2914">PC(20:5(5Z,8Z,11Z,14Z,17Z)/20:1(11Z))</tspan><tspan x="3985" y="2919">Dioleoylphosphatidylcholine</tspan><tspan x="3985" y="2924">L-alpha-Glycerophosphorylethanolamine</tspan><tspan x="3985" y="2929">PC(20:5(5Z,8Z,11Z,14Z,17Z)/20:2(11Z,14Z))</tspan><tspan x="3985" y="2935">NBD-Stearoyl-2-Arachidonoyl-sn-glycerol</tspan><tspan x="3985" y="2940">LPS(18:1/0:0)</tspan><tspan x="3985" y="2945">PC(20:5(5Z,8Z,11Z,14Z,17Z)/20:5(5Z,8Z,11Z,14Z,17Z))</tspan><tspan x="3985" y="2950">1-hexadecanoyl-2-(9Z,12Z-octadecadienoyl)-sn-glycero-3-phosphoethanolamine</tspan><tspan x="3985" y="2955">MG(16:0/0:0/0:0)</tspan><tspan x="3985" y="2961">PC(22:6(4Z,7Z,10Z,13Z,16Z,19Z)/18:1(11Z))</tspan><tspan x="3985" y="2966">DG(18:0/22:5(4Z,7Z,10Z,13Z,16Z)/0:0)</tspan><tspan x="3985" y="2971">PE(20:4(5Z,8Z,11Z,14Z)/20:4(5Z,8Z,11Z,14Z))</tspan><tspan x="3985" y="2976">PC(P-18:0/20:4(5Z,8Z,11Z,14Z))</tspan><tspan x="3985" y="2982">DG(18:1(11Z)/20:3(5Z,8Z,11Z)/0:0)</tspan><tspan x="3985" y="2987">1,2-Dioleoyl-sn-Glycero-3-Phosphocholine</tspan><tspan x="3985" y="2992">PE(16:0/18:3(9Z,12Z,15Z))</tspan><tspan x="3985" y="2997">1-Oleoyl-2-pentadecanoyl-sn-glycerol</tspan></text>
<text font-size="6.9" class="e" transform="rotate(-90)"><tspan x="-3002" y="3803">HBHgS-1</tspan><tspan x="-3002" y="3819">HBHgS-2</tspan><tspan x="-3002" y="3835">HBHgS-5</tspan><tspan x="-3002" y="3850">HBHgS-3</tspan><tspan x="-3002" y="3866">HBHgS-6</tspan><tspan x="-3002" y="3882">HBHgS-4</tspan><tspan x="-3002" y="3898">Model-2</tspan><tspan x="-3002" y="3914">Model-5</tspan><tspan x="-3002" y="3930">Model-6</tspan><tspan x="-3002" y="3946">Model-3</tspan><tspan x="-3002" y="3961">Model-4</tspan><tspan x="-3002" y="3977">Model-1</tspan></text>
<path d="M 3816 2831 L 3816 2828 L 3832 2828 L 3832 2831 M 3880 2831 L 3880 2828 L 3896 2828 L 3896 2831 M 3927 2831 L 3927 2825 L 3943 2825 L 3943 2831 M 3935 2825 L 3935 2822 L 3959 2822 L 3959 2831 M 3848 2831 L 3848 2829 L 3864 2829 L 3864 2831 M 3888 2828 L 3888 2825 L 3912 2825 L 3912 2831 M 3801 2831 L 3801 2825 L 3824 2825 L 3824 2828 M 3856 2829 L 3856 2822 L 3900 2822 L 3900 2825 M 3812 2825 L 3812 2818 L 3878 2818 L 3878 2822 M 3845 2818 L 3845 2815 L 3947 2815 L 3947 2822" fill="none" stroke="#ff0000" stroke-width="1"/><path d="" fill="none" stroke="#00ff00" stroke-width="1"/><path d="M 3896 2815 L 3896 2801 L 3936 2801" fill="none" stroke="#000" stroke-width="1.1"/><path d="M 3936 2801 L 3975 2801 L 3975 2831" fill="none" stroke="#00ff00" stroke-width="1.1"/>
<rect x="4273" y="2824" width="13.8" height="168" fill="url(#bwr)" stroke="#000" stroke-width=".8"/><path d="M4287,2824h3.1M4287,2841h3.1M4287,2858h3.1M4287,2874h3.1M4287,2891h3.1M4287,2908h3.1M4287,2925h3.1M4287,2941h3.1M4287,2958h3.1M4287,2975h3.1M4287,2992h3.1" stroke="#000" stroke-width=".9"/><text font-size="6.6"><tspan x="4292" y="2826">1.03E+7</tspan><tspan x="4292" y="2843">3.09E+4</tspan><tspan x="4292" y="2860">2.75E+4</tspan><tspan x="4292" y="2876">2.40E+4</tspan><tspan x="4292" y="2893">2.06E+4</tspan><tspan x="4292" y="2910">1.72E+4</tspan><tspan x="4292" y="2927">1.37E+4</tspan><tspan x="4292" y="2944">1.03E+4</tspan><tspan x="4292" y="2960">6.87E+3</tspan><tspan x="4292" y="2977">3.43E+3</tspan><tspan x="4292" y="2994">0.00</tspan></text>
<polyline points="4591,2825 4591,2995 4804,2995" fill="none" stroke="#000" stroke-width="1.5"/><text x="4583" y="2998" font-size="7.9" class="e">0</text><text x="4583" y="2964" font-size="7.9" class="e">2000</text><text x="4583" y="2930" font-size="7.9" class="e">4000</text><text x="4583" y="2896" font-size="7.9" class="e">6000</text><text x="4583" y="2862" font-size="7.9" class="e">8000</text><text x="4583" y="2828" font-size="7.9" class="e">10000</text><text x="4607" y="3009" font-size="8.4" class="m">Control</text><text x="4642" y="3009" font-size="8.4" class="m">Model</text><text x="4677" y="3009" font-size="8.4" class="m">SER</text><text x="4713" y="3009" font-size="8.4" class="m">LBHgS</text><text x="4747" y="3009" font-size="8.4" class="m">MBHgS</text><text x="4783" y="3009" font-size="8.4" class="m">HBHgS</text><path d="M4591,2995 H4587 M4591,2961 H4587 M4591,2927 H4587 M4591,2893 H4587 M4591,2859 H4587 M4591,2825 H4587 M4591,2978 H4589 M4591,2944 H4589 M4591,2910 H4589 M4591,2876 H4589 M4591,2842 H4589 M4607,2995 V2999 M4642,2995 V2999 M4677,2995 V2999 M4713,2995 V2999 M4747,2995 V2999 M4783,2995 V2999" stroke="#000" stroke-width="1.4" fill="none"/><g stroke="#303030" stroke-width="1.6"><path d="M4600,2995H4614V2976H4600ZM4607,2976V2963M4603,2963H4611" fill="url(#gb0)"/><path d="M4635,2995H4649V2944H4635ZM4642,2944V2897M4638,2897H4646" fill="url(#gb1)"/><path d="M4670,2995H4684V2977H4670ZM4677,2977V2965M4673,2965H4681" fill="url(#gb2)"/><path d="M4706,2995H4720V2985H4706ZM4713,2985V2978M4708,2978H4717" fill="url(#gb3)"/><path d="M4740,2995H4754V2988H4740ZM4747,2988V2984M4743,2984H4752" fill="url(#gb4)"/><path d="M4776,2995H4790V2986H4776ZM4783,2986V2979M4779,2979H4787" fill="url(#gb5)"/></g><text x="4642" y="2875" font-size="11.7" class="r m">***</text><text x="4677" y="2946" font-size="8.7" class="m">###</text><text x="4713" y="2969" font-size="8.7" class="m">###</text><text x="4747" y="2977" font-size="8.7" class="m">###</text><text x="4783" y="2969" font-size="8.7" class="m">###</text><text x="4704" y="2815" font-size="14.4" class="m">PE-NMe(15:0/20:0)</text><text x="4495" y="2818" font-size="19.8">D</text><rect x="4778" y="2826" width="54.7" height="62" fill="#fff" stroke="#000" stroke-width="2.1"/><g stroke="#333" stroke-width="1.5" font-size="7.7"><path d="M4782,2829h18.6v7h-18.6z" fill="url(#gb0)"/><text x="4801" y="2835" stroke="none">Control</text><path d="M4782,2839h18.6v7h-18.6z" fill="url(#gb1)"/><text x="4801" y="2845" stroke="none">Model</text><path d="M4782,2848h18.6v7h-18.6z" fill="url(#gb2)"/><text x="4801" y="2854" stroke="none">SER</text><path d="M4782,2858h18.6v7h-18.6z" fill="url(#gb3)"/><text x="4801" y="2864" stroke="none">LBHgS</text><path d="M4782,2868h18.6v7h-18.6z" fill="url(#gb4)"/><text x="4801" y="2874" stroke="none">MBHgS</text><path d="M4782,2877h18.6v7h-18.6z" fill="url(#gb5)"/><text x="4801" y="2884" stroke="none">HBHgS</text></g>
<path d="M4618,2987h0M4615,2982h0M4621,2978h0M4621,2973h0M4621,2970h0M4616,2965h0" stroke="#5a5a5a" stroke-width="6.6" class="d"/><path d="M4617,2986h0M4613,2980h0M4620,2977h0M4620,2972h0M4620,2969h0M4614,2963h0" stroke="#fff" stroke-opacity=".8" stroke-width="1.7" class="d"/>
<polyline points="4617,2955 4618,2958 4620,2962 4622,2965 4625,2969 4627,2972 4627,2976 4626,2979 4624,2983 4622,2986 4620,2990 4618,2993 4617,2997" fill="none" stroke="#000" stroke-width=".9"/>
<path d="M4650,2980h0M4656,2965h0M4656,2954h0M4650,2941h0M4652,2941h0M4656,2887h0" stroke="#ee3338" stroke-width="6.6" class="d"/><path d="M4649,2979h0M4655,2963h0M4655,2953h0M4649,2940h0M4651,2940h0M4655,2886h0" stroke="#fff" stroke-opacity=".8" stroke-width="1.7" class="d"/>
<polyline points="4652,2872 4652,2882 4653,2893 4655,2903 4658,2913 4660,2924 4662,2934 4662,2945 4662,2955 4660,2966 4657,2976 4655,2986 4653,2997" fill="none" stroke="#000" stroke-width=".9"/>
<path d="M4685,2990h0M4690,2985h0M4685,2980h0M4689,2975h0M4687,2970h0M4687,2966h0" stroke="#1f6fe0" stroke-width="6.6" class="d"/><path d="M4684,2989h0M4689,2984h0M4684,2979h0M4688,2974h0M4686,2969h0M4686,2965h0" stroke="#fff" stroke-opacity=".8" stroke-width="1.7" class="d"/>
<polyline points="4687,2957 4688,2960 4690,2964 4692,2967 4695,2970 4697,2974 4698,2977 4697,2980 4695,2984 4693,2987 4691,2990 4689,2993 4688,2997" fill="none" stroke="#000" stroke-width=".9"/>
<path d="M4725,2992h0M4721,2988h0M4727,2985h0M4722,2982h0M4721,2980h0" stroke="#2fae6b" stroke-width="6.6" class="d"/><path d="M4724,2991h0M4720,2987h0M4726,2984h0M4721,2980h0M4720,2979h0" stroke="#fff" stroke-opacity=".8" stroke-width="1.7" class="d"/>
<polyline points="4723,2974 4724,2976 4726,2978 4728,2980 4730,2982 4732,2984 4733,2985 4732,2987 4730,2989 4728,2991 4726,2993 4724,2995 4723,2997" fill="none" stroke="#000" stroke-width=".9"/>
<path d="M4757,2992h0M4761,2989h0M4755,2988h0M4757,2986h0M4756,2984h0" stroke="#aa66e6" stroke-width="6.6" class="d"/><path d="M4756,2991h0M4760,2988h0M4754,2986h0M4756,2985h0M4754,2983h0" stroke="#fff" stroke-opacity=".8" stroke-width="1.7" class="d"/>
<polyline points="4759,2981 4760,2982 4762,2983 4765,2985 4767,2986 4768,2987 4767,2989 4765,2990 4763,2991 4761,2993 4759,2994 4758,2995 4757,2997" fill="none" stroke="#000" stroke-width=".9"/>
<path d="M4796,2992h0M4795,2988h0M4793,2985h0M4795,2983h0M4792,2981h0" stroke="#dfa315" stroke-width="6.6" class="d"/><path d="M4795,2991h0M4794,2987h0M4792,2984h0M4793,2981h0M4791,2980h0" stroke="#fff" stroke-opacity=".8" stroke-width="1.7" class="d"/>
<polyline points="4793,2975 4794,2977 4795,2979 4797,2981 4800,2982 4802,2984 4803,2986 4803,2988 4801,2990 4799,2991 4796,2993 4794,2995 4793,2997" fill="none" stroke="#000" stroke-width=".9"/></g>
</svg>
</body></html>
